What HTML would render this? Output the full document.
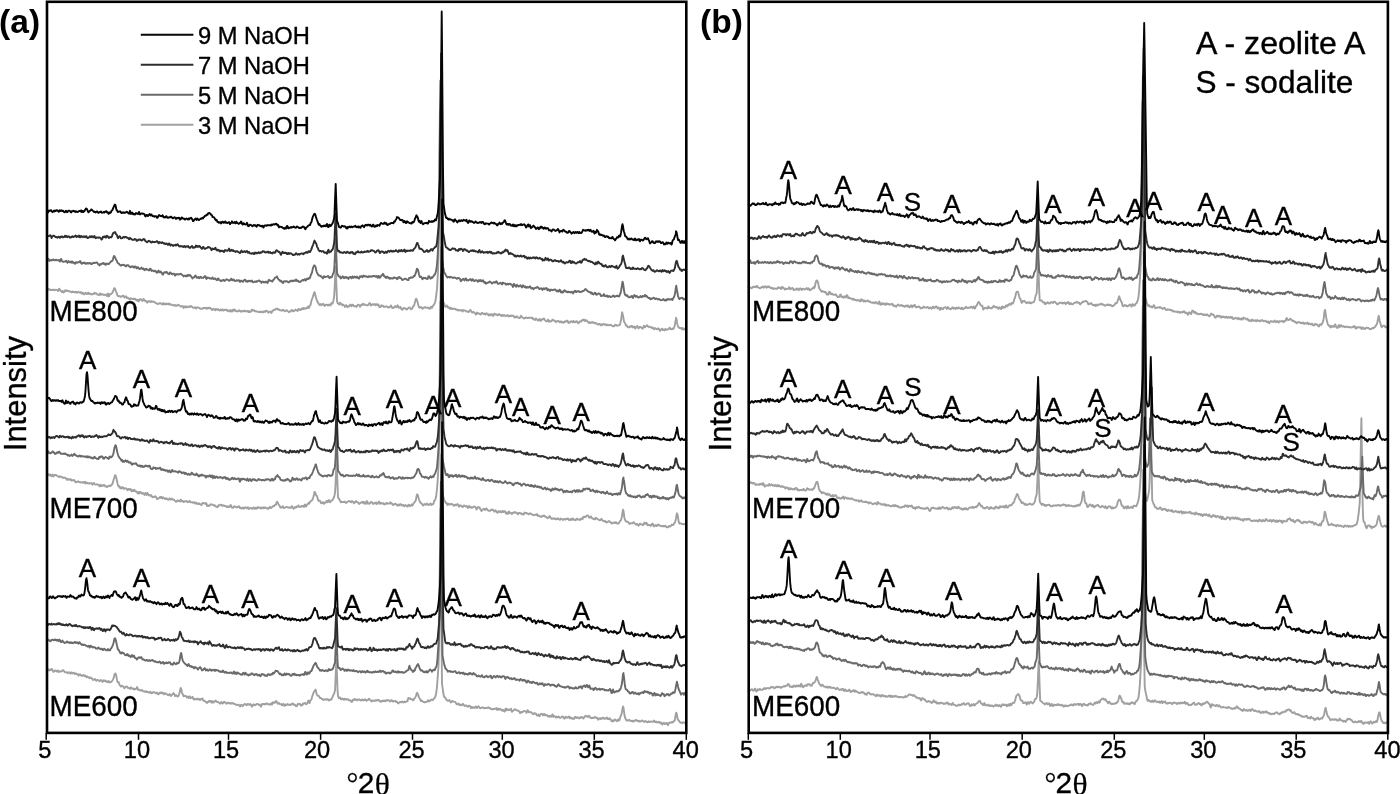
<!DOCTYPE html><html><head><meta charset="utf-8"><title>XRD patterns</title><style>html,body{margin:0;padding:0;background:#fff}body{width:1400px;height:794px;overflow:hidden}</style></head><body><svg width="1400" height="794" viewBox="0 0 1400 794" style="display:block">
<rect width="1400" height="794" fill="#fff"/>
<g fill="none" stroke-linejoin="round" stroke-linecap="round" stroke-width="1.9">
<path stroke="#a0a0a0" d="M47,289.7l.5 .2 .5-.5 .5-.6 .5 .9 .5 .1 .5-.4 .5 .3 .5 .4 .5-.1 .5 .1 .5-.1 .5-.4 .5 0 .5 .3 .5 .4 .5-.2 .5-.4 .5 .1 .5 .1 .5 .2 .5 .2 .5 .8 .5-.5 .5-1.8 .5 .1 .5 1.1 .5 .6 .5 .4 .5 .5 .5 .6 .5-1.2 .5 .3 .5 1.3 .5-.3 .5-.8 .5-1 .5-.2 .5 .7 .5 .1 .5-.6 .5 .3 .5 .3 .5 0 .5 .2 .5 .3 .5 .1 .5-.2 .5 .5 .5 .4 .5-.4 .5-.4 .5 .5 .5 0 .5 0 .5-.1 .5 .6 .5-.2 .5-.6 .5 .6 .5 .4 .5-.1 .5-.8 .5-.2 .5 .6 .5 .3 .5 .3 .5 .1 .5-.8 .5 .9 .5 .7 .5-.7 .5-.2 .5 1 .5 .4 .5 0 .5-.9 .5-.5 .5 .4 .5 .4 .5 .5 .5-.5 .5-.8 .5 0 .5 1.2 .5 0 .5-.5 .5 .3 .5 .4 .5 .2 .5 .1 .5-.4 .5-.3 .5-.1 .5 .2 .5-1.1 .5 .4 .5 .3 .5-.3 .5 .6 .5 .1 .5 .7 .5 .1 .5 .2 .5 .2 .5-.6 .5-1 .5 .2 .5 1.2 .5-.5 .5-.5 .5 .4 .5 .2 .5 .4 .5 .2 .5-.4 .5 .1 .5 .1 .5-.2 .5 1 .5 .5 .5-2 .5-.6 .5 2 .5 .9 .5-1.9 .5-.5 .5 .4 .5-.6 .5-.4 .5-.3 .5-.8 .5-1.3 .5-1 .5-1.5 .5-.5 .5 .7 .5 1.2 .5 1.6 .5 .9 .5 1.3 .5 1.9 .5 .1 .5 .1 .5 .4 .5-.1 .5 .2 .5 .4 .5-.1 .5-.5 .5 .3 .5-.4 .5-.5 .5 .1 .5 1 .5 .9 .5-.7 .5-.4 .5-.3 .5 .8 .5 1.1 .5-.2 .5-.2 .5 .4 .5 .7 .5 .6 .5 .1 .5-.9 .5-.4 .5 .3 .5 .4 .5 .1 .5 .1 .5-.3 .5-.3 .5 .8 .5-.4 .5 .1 .5 1 .5 .6 .5-.3 .5-.6 .5 .2 .5 1.6 .5-.6 .5-1.5 .5-.1 .5 .3 .5-.3 .5 .7 .5 .4 .5 .6 .5-.6 .5-1.4 .5 .3 .5 .5 .5 1.1 .5 .3 .5-.1 .5 0 .5 1.4 .5 .1 .5-1.3 .5 0 .5 0 .5-.2 .5 .1 .5 .9 .5-.7 .5-.1 .5 .4 .5-.3 .5 .1 .5 .3 .5 .3 .5-.1 .5 .5 .5 .4 .5 .2 .5 .2 .5 .4 .5 .5 .5-.3 .5-.2 .5-.2 .5-.2 .5-.2 .5 .5 .5-.2 .5 .1 .5 .9 .5 .1 .5-.8 .5-.6 .5 1.1 .5 .1 .5-.5 .5 .6 .5-.5 .5-.4 .5 .5 .5 .1 .5-.3 .5-.2 .5 1 .5-.6 .5-.3 .5 .8 .5 .2 .5 .1 .5 0 .5 .3 .5 .1 .5 0 .5 .4 .5-.2 .5-.4 .5 .5 .5 .4 .5-.4 .5-.1 .5 .1 .5-.8 .5 .2 .5 .5 .5 0 .5 .5 .5 .5 .5 .3 .5-.6 .5 0 .5 .1 .5 .1 .5 1.8 .5-1.1 .5-.6 .5 .9 .5-.6 .5-.5 .5 .9 .5 .3 .5-.6 .5-.1 .5-.1 .5-.2 .5 .7 .5 0 .5-.9 .5-.2 .5 .4 .5 .3 .5 .7 .5 .2 .5 .1 .5 0 .5-.2 .5-.2 .5 .9 .5 .5 .5-1.1 .5-.2 .5 .1 .5 0 .5 .1 .5 .3 .5 .3 .5 .5 .5-.2 .5 .1 .5 .2 .5-.1 .5 .2 .5-.7 .5-.4 .5 .3 .5 0 .5-.2 .5 .2 .5-.3 .5 1 .5-.1 .5-.7 .5-.2 .5 .4 .5 0 .5-.4 .5-.1 .5 .5 .5 .3 .5 1.1 .5 .4 .5-.5 .5-.5 .5-.3 .5 .6 .5 .1 .5 .7 .5 .2 .5-1.4 .5 .4 .5 .2 .5 .2 .5-.6 .5 .5 .5 .7 .5 .3 .5-.4 .5-.6 .5 .3 .5 .6 .5-.6 .5-.7 .5 .9 .5 .5 .5-.3 .5-.3 .5 .1 .5-.5 .5 .3 .5-.1 .5 .8 .5 .4 .5-.7 .5 .3 .5 .5 .5 .5 .5-.5 .5-1.1 .5 .6 .5 .9 .5 .1 .5-1.6 .5 0 .5 .7 .5-1.2 .5-.1 .5 1.3 .5 .5 .5-.4 .5 .3 .5 .2 .5 .2 .5-.4 .5-.1 .5-.7 .5 .2 .5 .6 .5 .6 .5-.3 .5-.6 .5 .4 .5 .4 .5-.3 .5-.1 .5-.4 .5-.3 .5 .9 .5 0 .5-.2 .5 .3 .5-.6 .5 0 .5 .7 .5 .5 .5-1.1 .5 .5 .5 .6 .5-.3 .5-.2 .5-1.4 .5-.7 .5 1 .5-.2 .5-.2 .5 .1 .5 1.1 .5 .1 .5-.4 .5 .4 .5 .1 .5-.1 .5 .2 .5 .1 .5 .3 .5 0 .5-.2 .5 .4 .5-.5 .5-.2 .5 .6 .5 .1 .5-.4 .5 .5 .5-.4 .5-.6 .5-.1 .5 .7 .5-.3 .5-.9 .5 .1 .5 .3 .5 .3 .5 .9 .5 .4 .5-.5 .5-.4 .5-.4 .5 .1 .5 .8 .5 .6 .5-1 .5-1 .5-.2 .5-.4 .5-.6 .5-.1 .5 .3 .5-.2 .5-1 .5 .1 .5 .1 .5-.1 .5 .8 .5 .1 .5-.3 .5 .5 .5 .3 .5-.1 .5 .1 .5 .4 .5 .1 .5-.5 .5-.2 .5-.2 .5 .8 .5 .7 .5-.2 .5-.1 .5-.3 .5-.4 .5 0 .5 .7 .5 .3 .5 .5 .5 .4 .5-.7 .5 .1 .5-.1 .5-.8 .5-.6 .5-.2 .5 .8 .5 .7 .5-.1 .5-.6 .5 0 .5-.4 .5-.8 .5 .6 .5 .2 .5-.1 .5 .8 .5-1.1 .5-.9 .5 .2 .5 .7 .5-.5 .5 .3 .5 .1 .5-.6 .5-1 .5 .4 .5 .7 .5-1.2 .5-.2 .5 .6 .5 .4 .5-.1 .5-.4 .5-.7 .5 .3 .5-.5 .5-.9 .5 1.2 .5 .2 .5-1.9 .5-.6 .5-.5 .5-2.4 .5-2.1 .5-1.3 .5-1.2 .5-1.9 .5-1.3 .5-1.7 .5-1 .5 1.4 .5 2.6 .5 1.7 .5 1.5 .5 1.1 .5 1.6 .5 .5 .5 1.1 .5 .7 .5 .6 .5-.3 .5-.5 .5 .8 .5 .3 .5-.9 .5-.2 .5-.2 .5 0 .5 1.5 .5 .5 .5-.3 .5-.6 .5-.2 .5-.2 .5 0 .5 .7 .5 .3 .5-.3 .5-.8 .5 .1 .5 .5 .5 .5 .5-1.2 .5-1.5 .5 .7 .5 0 .5-1.6 .5-2 .5-2.5 .5-6.3 .5-11.6 .5-10 .2-2.8 .3 8.4 .5 12.9 .5 12.7 .5 2.2 .5 .2 .5 .5 .5 .9 .5-.9 .5-.9 .5 .9 .5 .6 .5-.6 .5 1 .5 .6 .5-.5 .5 0 .5 .6 .5 .5 .5 1 .5-.6 .5-1.1 .5 .2 .5 1.2 .5 .5 .5-.8 .5-.2 .5 .4 .5-.9 .5-.7 .5-.4 .5 .8 .5 1 .5-1.1 .5-.4 .5-.1 .5 .9 .5 .6 .5-.1 .5 .2 .5 0 .5-.1 .5 .6 .5-.6 .5-1 .5-.5 .5 0 .5 .5 .5 .2 .5 1.3 .5-.3 .5-1.4 .5-.1 .5 .1 .5-1.2 .5 .3 .5 .7 .5-.5 .5-.1 .5 .6 .5 .3 .5 0 .5 .1 .5 0 .5 .1 .5 0 .5-.9 .5-.8 .5-.5 .5 .3 .5 1.1 .5 1.1 .5-.4 .5-.7 .5-.3 .5 .2 .5 .3 .5-.3 .5-.3 .5 .8 .5 .3 .5-.9 .5 0 .5 0 .5 .9 .5-.2 .5-.5 .5 1.5 .5 1.1 .5-.2 .5 .2 .5-.9 .5-1 .5 .9 .5-.2 .5-.1 .5 1 .5 .1 .5-.3 .5 .3 .5-.3 .5-.1 .5 0 .5 0 .5 .1 .5 .9 .5 .1 .5 0 .5-.8 .5 0 .5 .1 .5-1.4 .5 .8 .5 1.4 .5 .4 .5 0 .5-.4 .5-.2 .5-.5 .5-.8 .5 0 .5 .6 .5 .4 .5-.7 .5-1.2 .5 .6 .5 1.4 .5 .6 .5-.2 .5-.8 .5 .1 .5 1.6 .5-.1 .5 1 .5 .3 .5-1 .5-.7 .5-.1 .5 0 .5 .5 .5 .3 .5 .2 .5 .4 .5 .1 .5-.9 .5-.1 .5-.7 .5-.3 .5 .1 .5 .1 .5 1 .5 .7 .5-.2 .5-.6 .5-.9 .5-.9 .5-.9 .5-.3 .5-1.6 .5-2.3 .5-1.4 .5-1.6 .5 .4 .5 1.5 .5 1.4 .5 1.7 .5 2.3 .5 1.3 .5 .5 .5-.3 .5-.5 .5 .1 .5 .3 .5 .8 .5 .6 .5-.5 .5-.7 .5 0 .5-.1 .5-.4 .5 .5 .5 .2 .5-.2 .5 0 .5 .3 .5-.3 .5 .2 .5 .6 .5 .3 .5 .1 .5-1.5 .5-.6 .5 1.2 .5 0 .5-1.4 .5-.9 .5-.2 .5-.9 .5-.7 .5-1.6 .5-1.8 .5-3.4 .5-3.5 .5-5.1 .5-8.2 .5-8.8 .5-14.9 .5-54.5 .5-51.3 .4-40.3 .1 7.2 .5 59.1 .5 59.6 .5 53.1 .5 4.6 .5 4.5 .5 3 .5 1 .5 .7 .5 1.3 .5 2 .5 .4 .5-.3 .5-.2 .5-.9 .5 .6 .5 1.6 .5 .2 .5-.2 .5-.2 .5 1.1 .5 .5 .5-1.1 .5 .2 .5 .3 .5 .5 .5 0 .5-.2 .5 0 .5 0 .5 0 .5 .2 .5 .6 .5 .3 .5-.3 .5 .1 .5 .8 .5-.5 .5-.1 .5 .6 .5 0 .5-.1 .5-.1 .5-.4 .5 .9 .5 .8 .5-.6 .5-1 .5 .4 .5 0 .5 .3 .5 .2 .5 0 .5 .7 .5-.2 .5 .2 .5 .1 .5 .5 .5-.5 .5-1.2 .5-.1 .5-.4 .5 .8 .5 1.1 .5 .6 .5 .1 .5-.7 .5 0 .5 .4 .5 .8 .5 .2 .5 .2 .5 1.2 .5-1.3 .5-.8 .5 .7 .5 .2 .5-.2 .5 .1 .5 .6 .5 .1 .5 .4 .5-.1 .5-1.4 .5-.3 .5 .4 .5 .6 .5 .3 .5-.1 .5-.4 .5 .9 .5 .2 .5-1.2 .5 0 .5 .3 .5-.1 .5 .5 .5 1.3 .5 .1 .5-.8 .5-.4 .5 .9 .5-.4 .5-.7 .5 0 .5 .7 .5 1.2 .5-.8 .5-1.1 .5-.5 .5 1 .5-.2 .5-.2 .5 .6 .5-.1 .5 .7 .5 0 .5-1.3 .5 .1 .5-.1 .5 .9 .5 .3 .5-.2 .5 1 .5-.7 .5-.5 .5 .8 .5 .2 .5-.9 .5 .2 .5 .3 .5 .8 .5-.3 .5-.3 .5 0 .5-.7 .5 .5 .5 .9 .5-.4 .5 .3 .5-.4 .5-.5 .5 .1 .5 .6 .5-.3 .5 0 .5-.1 .5-.1 .5 1.1 .5 .9 .5 0 .5-.9 .5 .5 .5-.2 .5-.7 .5 .8 .5 .5 .5 .1 .5 .2 .5 .1 .5-.2 .5-1.1 .5-1 .5 .8 .5 .8 .5 0 .5 .5 .5 .4 .5 0 .5 .3 .5-.8 .5 .3 .5-.4 .5-.2 .5 .4 .5 .2 .5 .1 .5-.5 .5 .1 .5 0 .5 .2 .5-.1 .5 0 .5 .4 .5-.6 .5 .1 .5 1.2 .5 .5 .5-.1 .5 .3 .5 .3 .5-1.2 .5-.3 .5 .5 .5 .9 .5 .3 .5 .4 .5 0 .5-1 .5-.6 .5 .4 .5 1.6 .5-.1 .5-.8 .5-.8 .5 0 .5 .2 .5-.4 .5-.6 .5 1.1 .5 .6 .5 .6 .5 .4 .5 .1 .5 .1 .5-.2 .5-1.5 .5 .8 .5 1.3 .5-.9 .5 .4 .5 .4 .5-.3 .5 0 .5-.9 .5-.8 .5 .1 .5 .3 .5 .6 .5 .3 .5 .1 .5 .1 .5 1.1 .5-.6 .5-.5 .5 .1 .5-.2 .5-.2 .5 .7 .5 .7 .5 0 .5-.2 .5-.8 .5 .3 .5 1 .5-.3 .5-.1 .5 .6 .5-.1 .5-1.2 .5 0 .5 .5 .5-.5 .5-.6 .5 .1 .5-.2 .5 1.2 .5 1.1 .5-.4 .5-.5 .5 .5 .5-.8 .5-.7 .5 .2 .5 .3 .5 .7 .5-.1 .5-1.2 .5 .5 .5 .8 .5 0 .5-.5 .5-.5 .5 .4 .5-.5 .5 .8 .5 1.1 .5 .2 .5-.7 .5-.5 .5-.9 .5 .1 .5 .3 .5-.4 .5-.8 .5-.6 .5 .3 .5 .1 .5-.6 .5 .3 .5 1.2 .5-.2 .5-.6 .5 0 .5 .3 .5 .9 .5 .8 .5 0 .5 .8 .5-.9 .5 .2 .5 .6 .5-.4 .5-.4 .5 .4 .5 .1 .5-.6 .5 .3 .5 .5 .5 .1 .5 .4 .5-.5 .5 .2 .5 .5 .5 .4 .5 .1 .5 .4 .5-.5 .5 .4 .5-.5 .5 .1 .5 .8 .5 .7 .5-.6 .5-.6 .5 .5 .5-.6 .5-.3 .5 .4 .5 .4 .5 0 .5-.5 .5 .5 .5 .6 .5-.1 .5-.4 .5-.1 .5 .5 .5 0 .5 .1 .5-.3 .5-.1 .5-.1 .5 .6 .5 .5 .5 0 .5 .3 .5 0 .5 .2 .5-.9 .5-.8 .5 .6 .5-.1 .5-.2 .5 .7 .5 .1 .5-.3 .5-.3 .5-.1 .5 0 .5-.4 .5-2.3 .5-2.4 .5-3.3 .5-4.2 .3-.2 .2 1.4 .5 1.7 .5 3.4 .5 2.4 .5 1.2 .5 .6 .5 1.4 .5 1.2 .5-.4 .5 .9 .5 .7 .5 .5 .5-.4 .5 .4 .5 0 .5-1 .5-.2 .5 .6 .5-.8 .5 .1 .5 1 .5 .4 .5-.8 .5 0 .5 .4 .5 1.1 .5 .3 .5-1.6 .5 0 .5-.9 .5 .6 .5 .8 .5 1.1 .5-.5 .5-1 .5-.1 .5 .4 .5 .2 .5 .2 .5 .5 .5 .6 .5-.7 .5-1.5 .5-.7 .5 .5 .5 1 .5-.6 .5-.7 .5 0 .5-.8 .5 .4 .5 1 .5 .1 .5 0 .5 .4 .5 0 .5-.2 .5 .4 .5 .8 .5-.3 .5-.5 .5 .5 .5 1.1 .5 .3 .5-1 .5 0 .5 .1 .5 .6 .5 .3 .5 .2 .5-.3 .5-.7 .5 0 .5 .7 .5 .7 .5 1.1 .5-.2 .5-1.2 .5-.2 .5-.6 .5 .2 .5 1.1 .5 0 .5-.2 .5 .5 .5-1 .5-.4 .5 1 .5 0 .5-.2 .5-.3 .5-.1 .5-.1 .5-.5 .5-1 .5 .4 .5 1 .5 0 .5 .2 .5 0 .5-.9 .5 .2 .5 .2 .5-1 .5-1.3 .5-2.4 .5-3.2 .5-2.3 0-.8 .5 1.2 .5 3.4 .5 2.3 .5 1.4 .5 1.2 .5 .1 .5 .7 .5-.1 .5-.1 .5 .2 .5 .6 .5 .6 .5-1.4 .5 .6 .5 1 .5-.4 .5-.1 .5 .4 .5-1.2 .5-.6"/>
<path stroke="#6a6a6a" d="M47,260l.5-.2 .5-.7 .5-.3 .5 1.8 .5 .3 .5-.7 .5 .2 .5-.2 .5-.2 .5 .4 .5-.5 .5-.4 .5 0 .5 .7 .5 0 .5 .1 .5-.5 .5 0 .5-.1 .5 .7 .5 0 .5 0 .5-.2 .5-.2 .5 1.2 .5 .4 .5-1.9 .5-.8 .5 .6 .5 1.5 .5 .4 .5 .4 .5 0 .5-.2 .5 0 .5-.2 .5 .1 .5-.8 .5 .5 .5 1 .5 .6 .5-1.1 .5-.7 .5 .6 .5 .6 .5 0 .5 0 .5-.8 .5 1.2 .5 .1 .5-1.1 .5 .6 .5 .7 .5-.2 .5 .6 .5 .5 .5-.9 .5-.8 .5 .1 .5 .6 .5-.2 .5-.4 .5 .2 .5 0 .5-.7 .5-.7 .5 .3 .5 1.8 .5 .5 .5 .2 .5-.7 .5-.4 .5 .5 .5-.2 .5-.5 .5 .3 .5 1.1 .5 0 .5-.6 .5-.3 .5-.1 .5 .8 .5-.2 .5-.5 .5 .1 .5-.2 .5 .6 .5 .6 .5-.5 .5 .3 .5-.7 .5 0 .5-.4 .5 .1 .5 .2 .5-.3 .5-.2 .5 .1 .5-.2 .5 0 .5 .8 .5 .8 .5 .3 .5 .4 .5 .6 .5-1 .5-.3 .5 .5 .5-.8 .5 0 .5-.5 .5-.1 .5-.2 .5 1 .5-.1 .5-.4 .5 1.3 .5 0 .5-.8 .5-.5 .5 .4 .5 0 .5 .3 .5-.3 .5-.8 .5-.6 .5-.3 .5-.8 .5-.3 .5-.2 .5-.1 .5-1.5 .5-2.1 .5-1.2 .5 .1 .5 1.4 .5 .9 .5 1.1 .5 .8 .5 1.1 .5 1.2 .5 .7 .5 .3 .5 0 .5 1 .5 0 .5 .9 .5 0 .5 .1 .5-.8 .5 .3 .5-.2 .5-.1 .5 .3 .5 .1 .5 .4 .5 .8 .5 0 .5-.6 .5-.8 .5 .4 .5 .1 .5-.2 .5 1.1 .5 .1 .5 .3 .5 .6 .5-.2 .5-.6 .5-.4 .5 .5 .5 .1 .5-.2 .5 1.1 .5-.3 .5-1 .5 .3 .5 .2 .5 1.4 .5 .1 .5-1.2 .5 .1 .5 .7 .5 .4 .5 .7 .5-.1 .5-.6 .5-.2 .5-.6 .5 .9 .5 .6 .5-.4 .5-.2 .5 1 .5 .8 .5-.9 .5-.4 .5 .5 .5-.7 .5 .5 .5 .4 .5 .3 .5-.2 .5 .7 .5-.5 .5-1.3 .5-.1 .5 1.1 .5 1.2 .5-.2 .5-.3 .5 .2 .5 .6 .5 0 .5-.3 .5-.2 .5 1 .5 .2 .5-.4 .5 1.3 .5-.3 .5-1.3 .5-.6 .5 1.3 .5 .4 .5-.8 .5-.1 .5 1.2 .5-.3 .5 .5 .5 1.7 .5 .1 .5-1.2 .5-.7 .5-.1 .5-.7 .5 .7 .5 0 .5-.6 .5 .1 .5 1.2 .5 .4 .5 .2 .5 .3 .5-.9 .5-.8 .5-.1 .5 .8 .5 .9 .5 0 .5 .2 .5-.6 .5-.1 .5 .1 .5 .3 .5 1.6 .5-.2 .5-1.2 .5-.1 .5 .2 .5-.2 .5 .4 .5-.4 .5 .1 .5-.1 .5 .1 .5-.3 .5-.2 .5 .7 .5 .5 .5 .2 .5 .5 .5 .8 .5-.3 .5-.5 .5 0 .5 0 .5 .8 .5-.3 .5-.9 .5 .8 .5 0 .5-1.2 .5 .3 .5 .4 .5-.4 .5 .4 .5 .7 .5 .9 .5 .6 .5 .7 .5-.7 .5-.2 .5-.2 .5-.5 .5-.8 .5-.5 .5 .8 .5 1.2 .5 .4 .5-.1 .5-.5 .5-.4 .5 1.2 .5 .1 .5-.9 .5-.5 .5 .2 .5 .9 .5 .1 .5-.3 .5 .1 .5 0 .5-.6 .5-.8 .5-.3 .5 .4 .5 1.7 .5 .7 .5-1.5 .5 .3 .5 .4 .5-.4 .5 0 .5 .3 .5 .6 .5-.2 .5 .1 .5 .3 .5-.6 .5-.8 .5 .8 .5 .9 .5-.2 .5-.1 .5-.5 .5 .8 .5 .3 .5 .4 .5 .4 .5-.9 .5-.9 .5 .2 .5 1.4 .5 .2 .5 .2 .5 .3 .5 .5 .5-.1 .5-.9 .5 0 .5 .1 .5-.5 .5 .9 .5 .3 .5-.5 .5-.5 .5-.3 .5-.4 .5 .3 .5 .1 .5 .3 .5 .1 .5 .6 .5 .1 .5-.9 .5 .1 .5-1.1 .5-.2 .5 1.1 .5 .6 .5-.2 .5-.7 .5 .4 .5 .7 .5 .5 .5-.2 .5-.1 .5-.5 .5 0 .5 .2 .5 .2 .5-.6 .5 0 .5 1 .5 .8 .5-.6 .5-.6 .5-.1 .5 .7 .5 .3 .5 .2 .5-.6 .5-1 .5-.3 .5-.2 .5 .4 .5 1.4 .5-.1 .5-.5 .5 .9 .5-.6 .5-.5 .5 .5 .5 0 .5-.5 .5 0 .5 .8 .5-.1 .5-.8 .5 1.1 .5 .6 .5-.3 .5 0 .5-.3 .5-.3 .5 .4 .5 .3 .5-.9 .5 .2 .5 .1 .5-.6 .5-.1 .5-.4 .5 .3 .5 .8 .5 0 .5 .2 .5 1.2 .5-.9 .5-.4 .5 0 .5 .4 .5 .4 .5-.5 .5 .6 .5-.3 .5-.7 .5 .4 .5 .3 .5 .8 .5-1.1 .5-1.4 .5-.7 .5 .4 .5 .6 .5-.1 .5 0 .5 .3 .5 .4 .5 .1 .5-1.4 .5-.3 .5-.4 .5-1 .5-.7 .5-.1 .5-.2 .5-.7 .5-.2 .5 1.2 .5 .9 .5 .8 .5 .4 .5 .2 .5 .9 .5 .4 .5-.6 .5 .3 .5 1.1 .5 .5 .5 .5 .5-1.2 .5-.6 .5-.1 .5 .3 .5 .3 .5-.7 .5 .1 .5 .2 .5 .1 .5 .5 .5 .4 .5-.1 .5-.4 .5-.8 .5-.5 .5 0 .5 .3 .5 .5 .5-.7 .5-.1 .5 .5 .5-.6 .5-.1 .5 .5 .5-.1 .5-1.3 .5 .4 .5 1.1 .5-.1 .5-.2 .5 .5 .5 .7 .5-.1 .5 .2 .5-.2 .5-.7 .5-.2 .5-.5 .5-.4 .5-.1 .5 .6 .5-.6 .5-.6 .5-.1 .5 1.3 .5-.2 .5-1 .5-.7 .5-.1 .5 .5 .5-.2 .5-.9 .5 .5 .5-.6 .5-1.9 .5-1.1 .5-1 .5-1.4 .5-2.3 .5-2.5 .5-.9 .5-1.2 .5-.1 .5 .7 .5 .8 .5 2.1 .5 2.3 .5 1.4 .5 .8 .5 .8 .5 1.1 .5 .2 .5 0 .5-.1 .5 .7 .5 .1 .5 .4 .5 .4 .5 .8 .5 .5 .5-1 .5-1.2 .5 .6 .5 .2 .5 .1 .5-.4 .5-.1 .5 0 .5-.2 .5-.5 .5 .7 .5 .8 .5 .7 .5-.7 .5-.4 .5 .3 .5-.1 .5-.4 .5-1.5 .5-1.5 .5-.9 .5-1.8 .5-6.1 .5-11.8 .5-11.2 .2-3.5 .3 7.8 .5 13 .5 13 .5 2 .5 .8 .5 1 .5 .5 .5-.2 .5 .1 .5 1.6 .5 .4 .5-.7 .5-.3 .5-1 .5-.1 .5 1.1 .5 .8 .5-1.1 .5-.1 .5 .7 .5-.9 .5 .6 .5 .4 .5-.4 .5 .6 .5 .8 .5-1.4 .5-.4 .5 .1 .5-.2 .5 .1 .5 1.2 .5-.5 .5-1.4 .5 .5 .5 .9 .5-.3 .5-.9 .5 .3 .5 .6 .5 .1 .5-.7 .5-.4 .5 1.3 .5 .1 .5 .5 .5 .2 .5-1.7 .5-.7 .5 .7 .5-.3 .5-.5 .5 .3 .5 .9 .5-1 .5-.7 .5 .4 .5 .1 .5 .5 .5-.2 .5-.3 .5 .5 .5 0 .5 .4 .5 .2 .5-.8 .5-.2 .5 .4 .5 .3 .5-.4 .5-.2 .5 .1 .5 .1 .5 0 .5-.5 .5 0 .5 .1 .5-.2 .5 .4 .5 .4 .5-.2 .5-.5 .5 .3 .5 1.4 .5-.3 .5-1.5 .5 .4 .5 1.5 .5-.2 .5-.7 .5-.5 .5-1.2 .5 0 .5-.1 .5-1.3 .5 .5 .5 1.9 .5 .5 .5-.3 .5 1 .5 .6 .5-.9 .5-.6 .5 .4 .5 .7 .5 .6 .5-.4 .5 0 .5 1 .5-.7 .5-.1 .5 .4 .5 .1 .5-.2 .5 .3 .5-.8 .5-.5 .5 .4 .5 0 .5 .3 .5 0 .5 .1 .5 1.1 .5-.2 .5-1.5 .5 .2 .5-.2 .5-.5 .5 1 .5 .3 .5-.1 .5 .4 .5 1.1 .5 .4 .5-.3 .5-.3 .5-.3 .5-.3 .5-.3 .5 .3 .5 .1 .5 .4 .5 .3 .5-.1 .5 .6 .5-.2 .5-1.9 .5-.2 .5 .2 .5-.5 .5-.4 .5 .4 .5 .1 .5-.1 .5-.4 .5-.8 .5-.7 .5 .5 .5-1.1 .5-1.5 .5-1.1 .5-2.3 .5-1.6 .5 .8 .5 .4 .5 2.1 .5 2.3 .5 1.9 .5 1 .5-.2 .5-.3 .5 .7 .5 1.3 .5 .6 .5-.7 .5-.7 .5 .5 .5-.3 .5-.3 .5 .3 .5 .6 .5-.1 .5 .4 .5 .1 .5-1.1 .5-1.8 .5 .1 .5 1.2 .5 .6 .5 .7 .5-.9 .5-.6 .5 .7 .5-.3 .5-.9 .5-.4 .5-1.2 .5-.5 .5-.2 .5-1.7 .5-1.4 .5-2.8 .5-4.5 .5-6.1 .5-8.5 .5-9.9 .5-14 .5-52.8 .5-50.3 .4-41.9 .1 6.7 .5 59.3 .5 60.6 .5 51.7 .5 3.5 .5 4.1 .5 2.3 .5 2.8 .5 1.5 .5 .5 .5 1 .5 .8 .5 .9 .5 .8 .5 .4 .5-.4 .5-.1 .5 0 .5 .5 .5 .2 .5-.8 .5 .5 .5-.1 .5 .2 .5 .2 .5 .4 .5-.4 .5-.1 .5 .2 .5 0 .5-.1 .5 .6 .5 .5 .5 0 .5-.4 .5-.4 .5 .1 .5 0 .5 .6 .5 .2 .5 1.6 .5 .8 .5-1.2 .5 0 .5-.4 .5-.7 .5 .1 .5 .8 .5 .6 .5-.7 .5-1.2 .5 0 .5 1 .5 1 .5-.3 .5 0 .5 .3 .5-.7 .5-.2 .5-.2 .5-.3 .5 1 .5 .7 .5-.4 .5-1.1 .5 .2 .5 1.2 .5 .2 .5 .2 .5-.7 .5-.2 .5-.1 .5 .2 .5 .2 .5 .7 .5 .6 .5-.8 .5-.9 .5 .9 .5 .1 .5-1 .5 .3 .5 .6 .5 .4 .5-.7 .5-.5 .5 .9 .5 1.1 .5 .6 .5-.7 .5 1.4 .5 .2 .5-.8 .5 .2 .5-.3 .5-.1 .5-.4 .5 0 .5-.6 .5-.2 .5 .6 .5 .2 .5 .8 .5 .4 .5-.5 .5-.3 .5-.2 .5-.6 .5 .4 .5 .4 .5-.4 .5-.7 .5-.3 .5 .9 .5 1.1 .5 .6 .5 0 .5-.3 .5-.4 .5 0 .5-.5 .5 .4 .5 .8 .5 .6 .5-1.2 .5-.8 .5 .9 .5-.1 .5 .1 .5 .1 .5 .2 .5 1 .5-.2 .5-.6 .5-.1 .5 .2 .5 .5 .5-.4 .5-.4 .5 0 .5 .5 .5 .3 .5-.1 .5 .5 .5 1.1 .5 1 .5-1.2 .5-2 .5 .7 .5 .8 .5 .8 .5 .7 .5-.6 .5-1.5 .5 .9 .5 .5 .5 .4 .5 0 .5-.7 .5 .1 .5-.6 .5 .5 .5 1.2 .5 .4 .5-1.5 .5-.7 .5 .9 .5 .4 .5 .7 .5-.8 .5 0 .5 1.2 .5 .2 .5-.4 .5-.5 .5 .7 .5-.1 .5-.1 .5-.8 .5-.3 .5 .7 .5 1 .5 .5 .5-.4 .5-.1 .5 .6 .5 .7 .5-1.2 .5 .1 .5-.2 .5-.3 .5 0 .5 .2 .5-.8 .5-.1 .5 .5 .5 .3 .5 .9 .5 .4 .5-.5 .5-.1 .5-.2 .5 .1 .5 .7 .5 .8 .5-.9 .5-.7 .5 .3 .5 .6 .5-.9 .5 .3 .5 0 .5-.6 .5 1.1 .5 1.2 .5-.5 .5-.6 .5 .6 .5 .8 .5 .3 .5-1.1 .5-.3 .5 .3 .5 .2 .5 .2 .5-.1 .5-.4 .5-.1 .5 .1 .5-.2 .5 .2 .5 .7 .5 .8 .5 .2 .5-.8 .5 .5 .5 .5 .5-.7 .5-1.2 .5 .2 .5 1.7 .5 .8 .5-.7 .5-.3 .5 1.1 .5 .1 .5-.9 .5-.9 .5-.6 .5 .8 .5-.3 .5 .9 .5 .4 .5 0 .5 .3 .5-.7 .5 .4 .5 .3 .5-.4 .5 0 .5 .6 .5-.2 .5-.5 .5 0 .5 .6 .5 1 .5-.7 .5-.9 .5-.6 .5-.4 .5 .2 .5 1.1 .5 0 .5-.8 .5-.2 .5 .5 .5-.4 .5-.1 .5 .7 .5 .2 .5 0 .5-.1 .5-.2 .5 .1 .5-.8 .5 0 .5 0 .5-.3 .5-.5 .5-.9 .5-.3 .5 .4 .5 .4 .5 .8 .5 .4 .5 .4 .5 .3 .5 .3 .5 0 .5 0 .5 .6 .5 .8 .5-.9 .5 .5 .5 1 .5 .2 .5 .3 .5-.7 .5-.9 .5-.1 .5 .2 .5 1.3 .5 .5 .5-.6 .5 .1 .5-.5 .5-.4 .5 .2 .5 0 .5 .4 .5 1 .5 1 .5 .1 .5-.6 .5 0 .5 .3 .5-.4 .5-1.3 .5 1 .5 1 .5-.2 .5 .4 .5 0 .5-.9 .5 .8 .5 .8 .5-.5 .5-.5 .5 .5 .5 0 .5 .5 .5-.1 .5-.3 .5 0 .5-.3 .5-.6 .5-.3 .5 .8 .5 .7 .5-.3 .5-.3 .5-.3 .5-.1 .5 .1 .5-.4 .5 .8 .5-.1 .5 .2 .5-.8 .5-1.4 .5-1.1 .5-2 .5-3 .5-3.4 .5-2.9 0-.3 .5 1.5 .5 3.4 .5 3.8 .5 2.8 .5 1.5 .5 .6 .5 .4 .5 .2 .5-.8 .5 .7 .5 .8 .5 .7 .5 .2 .5-.2 .5-.1 .5-.1 .5-.6 .5-.3 .5-.1 .5 1.6 .5 .3 .5-1.4 .5-.8 .5-.6 .5 .6 .5 1 .5 0 .5-.7 .5 .2 .5 .6 .5 .7 .5 .1 .5-.3 .5-.1 .5-.5 .5-.6 .5 .7 .5 .4 .5-.2 .5-.9 .5 .3 .5-.3 .5 .2 .5-.1 .5-1.2 .5 .2 .5 1.2 .5-.4 .5 .3 .5 .9 .5 .4 .5 .4 .5-.1 .5 .1 .5 .9 .5 .4 .5-.8 .5 .3 .5 .1 .5-.5 .5-.2 .5-.6 .5 .2 .5 .7 .5 .4 .5 .2 .5-.7 .5 0 .5 .4 .5 .3 .5 .5 .5-.5 .5 .3 .5-.2 .5 .3 .5 .7 .5-.1 .5 0 .5 0 .5-.3 .5-.4 .5-.3 .5 .5 .5 .9 .5-.1 .5-.6 .5 .7 .5-.2 .5-1.1 .5 0 .5 .3 .5-.5 .5 .1 .5 .4 .5-.1 .5 .1 .5 0 .5-.5 .5 .4 .5 .6 .5-1.6 .5-.5 .5-.8 .5-1.5 .5-1.8 .5-3.5 .5-3.5 .3-1.2 .2 1.8 .5 3.1 .5 2.4 .5 3.1 .5 1.3 .5 1.4 .5 .5 .5-.6 .5-.6 .5 .1 .5-.2 .5-.1 .5 .2 .5 .5 .5 1.1 .5 0 .5-.6 .5 .3 .5-.9 .5 .3"/>
<path stroke="#2e2e2e" d="M47,237.2l.5-1.6 .5 .5 .5 0 .5-.1 .5-.1 .5-.7 .5 .2 .5 .9 .5 1.8 .5-1 .5-1 .5-.1 .5-.4 .5 .1 .5 .6 .5 .4 .5 .2 .5 .4 .5-.4 .5 .2 .5 .6 .5-.4 .5-.6 .5 0 .5 .7 .5 .5 .5-.9 .5-.4 .5 .4 .5-.6 .5 .2 .5 .8 .5 0 .5-.2 .5-.5 .5-1 .5 1.1 .5-.5 .5-.3 .5 1 .5 .2 .5-.6 .5-.3 .5 .3 .5 .4 .5 .7 .5-.2 .5-.5 .5 .2 .5-.7 .5-.3 .5 .8 .5 .1 .5-.6 .5-.2 .5 0 .5-.7 .5 1.1 .5 .3 .5-.9 .5 .3 .5 .2 .5 .1 .5-1.1 .5 .4 .5 1.4 .5-.1 .5-1.4 .5 .3 .5 .5 .5 .1 .5 .4 .5-.7 .5-.2 .5 .2 .5 .8 .5-.3 .5-.9 .5 .1 .5 1.4 .5 .4 .5-.1 .5 0 .5-.6 .5-.7 .5-.3 .5 .4 .5 .6 .5-.9 .5-.2 .5 .5 .5 .6 .5-.1 .5-.9 .5-.3 .5 1.2 .5 1 .5-.2 .5-.5 .5-.1 .5 .2 .5 0 .5 .2 .5-.4 .5 0 .5 .3 .5 .3 .5 .5 .5 1.1 .5-.3 .5-1 .5-1.7 .5 0 .5 .4 .5-.1 .5-.7 .5 1.3 .5 .1 .5-1.4 .5-.5 .5 .5 .5 .5 .5 .9 .5 .5 .5-.8 .5-.3 .5 .1 .5 .3 .5-.3 .5-.9 .5-1.7 .5-1.1 .5-.7 .5 .2 .5-.5 .5-.3 .5 .8 .5 1.2 .5 .5 .5 .6 .5 1.8 .5 1.2 .5-.9 .5-.7 .5-.3 .5 .1 .5 1.3 .5 .6 .5-.1 .5-.1 .5-.1 .5-.4 .5-.8 .5 .4 .5 .3 .5-.5 .5 0 .5-.1 .5 .5 .5 .5 .5-.2 .5 .2 .5 .7 .5 .6 .5-.1 .5-1.3 .5 .7 .5 .2 .5 .3 .5 .6 .5 .2 .5-.1 .5 0 .5 .2 .5-.7 .5-.2 .5 .4 .5 0 .5 1.2 .5 .3 .5 0 .5-.9 .5-.6 .5 .4 .5 .1 .5-.5 .5 .2 .5 .4 .5 .5 .5-.4 .5 .1 .5-.7 .5-.5 .5 .3 .5 0 .5 1 .5 .9 .5 .2 .5 .4 .5 .5 .5-.6 .5-.3 .5-.4 .5-.2 .5 .6 .5-.2 .5 .7 .5 .4 .5 .2 .5-.5 .5-.4 .5 .5 .5-.2 .5 0 .5 .3 .5-.1 .5-.2 .5-.1 .5 0 .5-.7 .5 .5 .5 .5 .5 1.2 .5-.1 .5-1.1 .5 .4 .5 .1 .5-.1 .5 .5 .5-.5 .5-.2 .5 .6 .5 .6 .5-.2 .5-.2 .5 .9 .5 .2 .5-.8 .5 0 .5 .4 .5 .4 .5 .8 .5-.6 .5-1 .5 .2 .5 1.1 .5 .9 .5-.7 .5-.2 .5 .2 .5 .2 .5 .8 .5-.7 .5 .1 .5 .1 .5-.3 .5-.4 .5 .9 .5-.5 .5-.5 .5-.4 .5 .4 .5 1 .5 .6 .5 .1 .5 .2 .5-.3 .5-.2 .5 .4 .5 .1 .5-.3 .5 .6 .5 .3 .5-.8 .5-.4 .5 .9 .5 .4 .5-.7 .5-.2 .5 .2 .5 .2 .5-.8 .5 .9 .5 .7 .5-.3 .5 .7 .5-.4 .5-.7 .5-.3 .5-.5 .5 .9 .5 .9 .5-.4 .5 .3 .5-.3 .5 0 .5-.8 .5-1.1 .5 .8 .5 .6 .5-.7 .5-.2 .5 .8 .5-.5 .5-.4 .5 .6 .5 1 .5 .1 .5 .8 .5 .5 .5-.9 .5-1 .5-.1 .5 1 .5 .9 .5 .1 .5-.3 .5-.4 .5 0 .5-.3 .5-.4 .5-.5 .5-.1 .5 .6 .5-.1 .5 .2 .5 .6 .5 .9 .5 1.1 .5-.7 .5-.9 .5 .4 .5 0 .5-.3 .5 .5 .5-.9 .5-.6 .5 1.6 .5 .6 .5 .6 .5-.8 .5-.1 .5 1 .5-.5 .5 .6 .5 .9 .5-.4 .5-.6 .5 .4 .5 .1 .5-.4 .5 .4 .5 .7 .5 .3 .5-1.4 .5-.6 .5 .4 .5-.2 .5 .3 .5 .2 .5 .1 .5-.8 .5-.5 .5-1 .5 1.2 .5 1.4 .5-.6 .5-.6 .5-.2 .5 .9 .5-.1 .5-.5 .5 .9 .5 .2 .5-.1 .5 0 .5 .8 .5-.3 .5-.5 .5 0 .5 .3 .5 .6 .5 0 .5 .5 .5 .3 .5 .3 .5-.7 .5-1.2 .5-.7 .5 1.1 .5 .6 .5-.2 .5-.2 .5-.5 .5-.2 .5 .2 .5 .9 .5-.3 .5-.5 .5-.5 .5 .9 .5 .9 .5-.4 .5-.4 .5 1.1 .5 .4 .5 0 .5 .1 .5 .3 .5-.3 .5-.2 .5-.4 .5 .9 .5 .2 .5-.2 .5-1.3 .5 .7 .5 .2 .5-.6 .5 .4 .5 .1 .5-.3 .5-.8 .5 .2 .5 .7 .5 .1 .5-.6 .5-.4 .5 .3 .5-.1 .5-1 .5-.2 .5 .4 .5-.1 .5 .2 .5 .7 .5 .1 .5-.4 .5 .2 .5-.5 .5 .5 .5-.7 .5 .1 .5 1.1 .5-.2 .5-.5 .5 .4 .5 .6 .5-.1 .5 .1 .5 .4 .5-.9 .5-.4 .5 .1 .5 .6 .5-.1 .5-.7 .5-1.4 .5-.5 .5 .4 .5 .1 .5 .7 .5 .6 .5-.2 .5 .3 .5 .7 .5 1.5 .5 .5 .5-1.2 .5-1 .5-.9 .5 1.1 .5 .3 .5-.4 .5 .3 .5-.4 .5 .4 .5 .2 .5-.2 .5 1.1 .5 0 .5-1 .5-.2 .5 1 .5-.2 .5-.6 .5 .2 .5 .2 .5 .2 .5 .5 .5 .3 .5 .6 .5-.1 .5-.4 .5 .1 .5 0 .5-.6 .5-.9 .5 .5 .5 .5 .5 .5 .5-.4 .5-.3 .5 .2 .5 .5 .5-.6 .5-.5 .5 0 .5-.2 .5 .1 .5 .1 .5 .4 .5 .2 .5-.9 .5-.4 .5 0 .5 0 .5-.8 .5-.1 .5 .7 .5 .2 .5-.8 .5-.8 .5-.2 .5 .7 .5 .2 .5-.9 .5-1 .5-1.1 .5-1.6 .5-1.2 .5-1.2 .5-1.3 .5-1.8 .5-1.3 .5 .9 .5 1.1 .5 .5 .5 1.4 .5 2 .5 1.2 .5 .5 .5 1.7 .5 .6 .5 .7 .5-.1 .5-.2 .5 .3 .5 .5 .5-.5 .5 .1 .5-.2 .5 0 .5 1.4 .5 .3 .5-.1 .5 .2 .5-.7 .5 .5 .5 1 .5-.7 .5-2.5 .5-.8 .5 1.4 .5 1.3 .5-.6 .5-.3 .5 0 .5-1.1 .5-.3 .5-.5 .5-1.5 .5-2 .5-2.3 .5-5 .5-11.8 .5-10.2 .2-3.4 .3 6.3 .5 12.5 .5 14.6 .5 3 .5 1.2 .5 .4 .5-.5 .5 .5 .5 1 .5-.2 .5 .4 .5-.2 .5 .3 .5 .2 .5 .1 .5-.3 .5-.8 .5 .2 .5 .2 .5 .3 .5 .5 .5-.7 .5-.6 .5-.1 .5 .7 .5 .3 .5-.3 .5 .8 .5 0 .5-.8 .5-.5 .5 .6 .5 .1 .5-.6 .5 1.2 .5 .6 .5-.6 .5 .3 .5 .8 .5-.7 .5-1.4 .5 0 .5 .1 .5-.5 .5-.6 .5 1.1 .5 0 .5 .1 .5 .1 .5 .1 .5-.7 .5-.4 .5 .8 .5 .2 .5-.3 .5 .2 .5-.5 .5-.4 .5 .5 .5-.3 .5 .2 .5-.1 .5-.2 .5-.8 .5 .3 .5 .8 .5-.1 .5-.4 .5-.1 .5-.1 .5-1 .5-.1 .5 .4 .5-.2 .5 .3 .5 .2 .5 .3 .5 .3 .5 .9 .5 .2 .5-.3 .5-.7 .5-.8 .5-.2 .5 .2 .5-.5 .5 .9 .5 1.4 .5 .6 .5-.7 .5-1 .5 .1 .5-.1 .5 .4 .5-.2 .5 .7 .5 .8 .5-.1 .5-.3 .5-1 .5-.1 .5 1.1 .5 0 .5-1 .5-.7 .5-.3 .5 .6 .5 .5 .5-.4 .5-.6 .5-.3 .5 .7 .5 .5 .5-.1 .5-.6 .5-.2 .5 .7 .5-.3 .5 0 .5-.3 .5-.9 .5 .6 .5 .5 .5 .4 .5 .6 .5-.8 .5-1.1 .5 .6 .5 .5 .5-.2 .5-1 .5-.2 .5 1.2 .5 .2 .5-.5 .5-.5 .5 .6 .5-1.3 .5 .8 .5 1.7 .5-.9 .5-.6 .5-.1 .5 .5 .5-.4 .5 .2 .5 .1 .5-.3 .5 .3 .5-.7 .5-.1 .5 .4 .5 0 .5 .2 .5 0 .5-1.1 .5-.7 .5-.6 .5-.5 .5-.6 .5-1.5 .5-1.4 .5-1.3 .5-.1 .5 1.4 .5 1 .5 1.8 .5 1.6 .5-.1 .5 .3 .5-.1 .5 .4 .5 .2 .5 .6 .5 .4 .5 .8 .5 .8 .5-.2 .5-.1 .5-.3 .5-.4 .5-.6 .5-.4 .5 1 .5 .9 .5-.5 .5-.5 .5 .5 .5-.8 .5-.9 .5-.6 .5 .1 .5 .8 .5 .7 .5-1.1 .5-1.1 .5-.3 .5-.3 .5-.9 .5 0 .5-.3 .5-1.6 .5-2.8 .5-4.9 .5-5.1 .5-5.2 .5-8.2 .5-9.7 .5-32.1 .5-52.2 .5-49.6 .2-21.9 .3 29.8 .5 59.3 .5 60.7 .5 29.2 .5 2.1 .5 2.8 .5 3.3 .5 2.5 .5 2.4 .5 1.7 .5 .4 .5 .1 .5 .7 .5 .5 .5-.1 .5 .8 .5 .3 .5 .1 .5 .1 .5-.6 .5 .1 .5-.8 .5-.5 .5 .1 .5 .5 .5-.2 .5-.1 .5 .1 .5 1 .5 .8 .5-.3 .5 .1 .5 .3 .5 .3 .5-1.1 .5-.9 .5 1.1 .5-.3 .5-.8 .5-.1 .5 0 .5 .5 .5 .6 .5 1.1 .5-.4 .5-1.4 .5-.1 .5 .3 .5 .1 .5 .8 .5 .4 .5-.3 .5 0 .5 .9 .5 .8 .5 0 .5-.6 .5-.3 .5-.4 .5-.3 .5 0 .5 .4 .5-.7 .5-.1 .5 .9 .5 .2 .5-.7 .5 .3 .5 .8 .5-.1 .5-.1 .5 .2 .5 .2 .5 .7 .5-.6 .5-1.5 .5-.4 .5 1.5 .5 1.1 .5-.2 .5 0 .5-.9 .5-.2 .5 1 .5 .4 .5 0 .5-.6 .5 .2 .5 .1 .5 .2 .5-.4 .5-.4 .5 .3 .5 .9 .5-.4 .5-.7 .5-.2 .5 .4 .5 .7 .5-1 .5 .3 .5 1.2 .5 .3 .5-.4 .5 .1 .5 .3 .5-.3 .5-.1 .5 .2 .5 0 .5-.2 .5-.9 .5 .3 .5-.7 .5-.1 .5 .9 .5 0 .5 .2 .5 0 .5 .7 .5-.6 .5-.8 .5 .5 .5-.2 .5-1 .5 0 .5 .1 .5-1.1 .5-.9 .5 .3 .5 .9 .5-.4 .5-.2 .5 1.5 .5 1.3 .5 1.2 .5-.4 .5-.8 .5 .2 .5 .6 .5-.3 .5 .3 .5 .4 .5 .3 .5 .2 .5 .4 .5 1.1 .5 0 .5-.7 .5 1 .5 .1 .5-.4 .5-.7 .5 .4 .5 .1 .5 .1 .5 .4 .5-.3 .5-.8 .5 .3 .5 .9 .5 0 .5-.3 .5 .1 .5-.3 .5-.4 .5 .4 .5 1.5 .5-.3 .5-.3 .5 .3 .5 1.2 .5 .2 .5-.9 .5-.4 .5 .2 .5 1 .5-.3 .5-.8 .5 .7 .5 0 .5-.1 .5-.2 .5-.6 .5 .1 .5 .5 .5-.4 .5 0 .5 1 .5-.6 .5-.7 .5 .3 .5 .7 .5 .5 .5-.2 .5 0 .5-.8 .5 .3 .5 .4 .5 .6 .5-.1 .5-.1 .5 1.8 .5-.8 .5-.2 .5 .8 .5-.1 .5-.9 .5-1.6 .5 .9 .5 1 .5-.6 .5-.6 .5 0 .5 1.9 .5 .2 .5-.9 .5 .2 .5-.1 .5-.1 .5 .4 .5 .8 .5 .3 .5 .3 .5-.7 .5-.4 .5 .2 .5-.4 .5 0 .5 .9 .5-.2 .5 .2 .5 0 .5-.2 .5 .7 .5 .1 .5-.2 .5 .1 .5-.9 .5-.5 .5 1 .5 .4 .5 .8 .5 .1 .5-.7 .5 .5 .5 1 .5 .2 .5-.6 .5-.3 .5-.5 .5 .1 .5 .3 .5 0 .5-.3 .5-.9 .5-.6 .5 0 .5 1 .5 1.4 .5-.2 .5-1.4 .5-.2 .5 1.3 .5-.2 .5-.5 .5 .8 .5 .3 .5 .4 .5 .1 .5-.1 .5-.4 .5-.7 .5-.2 .5 0 .5 .2 .5-.9 .5-.4 .5 1 .5 .8 .5-.2 .5-1 .5-1.6 .5-.3 .5 .2 .5-.3 .5-.8 .5 .5 .5 .4 .5-.5 .5 .7 .5 .5 .5 .2 .5 .3 .5 .3 .5-.3 .5 0 .5 .3 .5 .8 .5-.4 .5 .1 .5 .4 .5 .1 .5 .6 .5 .5 .5 0 .5 .3 .5 .8 .5-.5 .5-1.4 .5 .2 .5 1.2 .5-.5 .5-1.7 .5 .1 .5 1 .5 .2 .5 .7 .5 .2 .5 .2 .5-.2 .5 1.3 .5 .9 .5-.6 .5 .8 .5 .3 .5-.3 .5-.7 .5-.5 .5 .5 .5 1 .5 .6 .5 .2 .5-.1 .5-.3 .5-.7 .5-.3 .5 .8 .5 .3 .5-.3 .5-1 .5 .2 .5 .2 .5 .4 .5 0 .5 .4 .5 .2 .5 .3 .5 .2 .5-1.3 .5-.6 .5 1.9 .5 1 .5-.4 .5-.6 .5-.4 .5-.8 .5-1.3 .5-.4 .5-.5 .5-1.6 .5-2.1 .5-3.9 .5-1.1 .5 2.2 .5 2.1 .5 2 .5 1.7 .5 2.2 .5 2 .5 .3 .5-.1 .5 0 .5 .2 .5-.4 .5-.4 .5 .3 .5 .6 .5 .6 .5-.4 .5 .4 .5 .2 .5-1.2 .5-.5 .5 1.3 .5 .2 .5-.3 .5 0 .5 .1 .5 .1 .5 .2 .5 0 .5-.7 .5 0 .5 .5 .5 .1 .5 .5 .5-.2 .5-.3 .5 .4 .5-.6 .5-.7 .5 .2 .5 .3 .5 .5 .5 .6 .5 .5 .5 0 .5 .1 .5-.6 .5-1.1 .5 .1 .5-.9 .5-1.7 .5-.3 .5 .6 .5 .3 .5 1 .5 .9 .5 .9 .5 .4 .5 .5 .5 .4 .5 0 .5-.5 .5 .9 .5 .7 .5-.1 .5-.2 .5-.3 .5-.6 .5-.4 .5 .4 .5 .2 .5 .5 .5-.3 .5 .2 .5-.8 .5 0 .5 .8 .5 .6 .5-1.1 .5-.6 .5 1 .5 .2 .5-.8 .5-.3 .5 .4 .5 .8 .5 0 .5-.3 .5 1.1 .5-.6 .5-.6 .5 .5 .5 .5 .5 .9 .5-.4 .5-1.2 .5-.7 .5 0 .5 0 .5 .1 .5-.2 .5 .4 .5-1 .5-1 .5-1.5 .5-3.1 .5-2.4 .5-.9 .2-.2 .3 .4 .5 2.2 .5 2 .5 1.6 .5 .5 .5 .6 .5 1.5 .5-.3 .5 .3 .5 1.3 .5 .1 .5-.9 .5-.4 .5 0 .5-.2 .5 .5 .5 .3 .5 0 .5 .2"/>
<path stroke="#050505" d="M47,210.7l.5 .7 .5 1.1 .5-.9 .5-1.2 .5 .3 .5 .1 .5-.2 .5-.5 .5 .9 .5 .7 .5 .5 .5-.6 .5-.7 .5-.2 .5 .8 .5-1 .5 .6 .5-.3 .5-.6 .5 .1 .5 .4 .5 .5 .5 .5 .5 0 .5-1.4 .5 .2 .5 .4 .5 .1 .5-.8 .5 .6 .5 .3 .5-.4 .5 1 .5 .3 .5 .3 .5-.1 .5-1.1 .5-.4 .5 .7 .5 .8 .5-.2 .5-1 .5-.3 .5-.1 .5 .1 .5 .3 .5 .7 .5 .8 .5-1 .5-.4 .5 .2 .5-.5 .5 .1 .5 .6 .5 0 .5-.4 .5 .8 .5-.3 .5-.2 .5 .5 .5 .1 .5-.1 .5-.5 .5-.2 .5-.2 .5-.2 .5 .7 .5-1 .5 0 .5 1.6 .5-.7 .5-.5 .5 1.1 .5-.6 .5-.4 .5-.9 .5-.8 .5-.9 .5 0 .5 .8 .5 1.3 .5 1.2 .5 .6 .5-1.2 .5 .1 .5-.4 .5-.4 .5-.7 .5-.2 .5 .5 .5 .4 .5 .5 .5 .4 .5 .8 .5-.3 .5 .1 .5 .6 .5-.3 .5-.6 .5-.1 .5 .2 .5 1 .5 .1 .5-.4 .5-.1 .5-.4 .5-.1 .5-.3 .5 1.1 .5 .1 .5-.1 .5 0 .5-.5 .5-.2 .5 .7 .5-.6 .5-.6 .5 .2 .5-.3 .5 1.1 .5-.3 .5 .2 .5 1.5 .5-.2 .5-1 .5-.3 .5 .4 .5-.4 .5-1.4 .5-.5 .5-.5 .5-1.3 .5-1.1 .5-1.3 .5-1.2 .5-.4 .5 .5 .5 2.7 .5 2.3 .5 0 .5 1.4 .5 .6 .5-.5 .5 0 .5 0 .5-.3 .5 .4 .5 .8 .5 .5 .5-.3 .5-.3 .5 .4 .5-.5 .5 .2 .5 .4 .5-.3 .5-.1 .5 0 .5-.6 .5-.1 .5 .5 .5 .7 .5 0 .5 .8 .5-1.3 .5-1.7 .5 1.4 .5 1.8 .5-.7 .5-.6 .5 .1 .5 1.3 .5 .3 .5-.4 .5 0 .5 .5 .5-.7 .5-.8 .5 .5 .5 .2 .5-.1 .5 .3 .5-1.1 .5-.9 .5 1.9 .5 .7 .5-.8 .5-.1 .5-.1 .5-.2 .5 .5 .5 0 .5 0 .5 .1 .5 .5 .5 1.4 .5 .6 .5-.7 .5-.7 .5-.1 .5 1 .5 .2 .5-1.1 .5 0 .5-.9 .5 .6 .5 .7 .5-1 .5 0 .5 1.2 .5 .4 .5 0 .5 .4 .5-.3 .5 .7 .5-.4 .5-.2 .5 0 .5 .4 .5 1.2 .5 .1 .5-.9 .5-1.3 .5-.7 .5 .3 .5 .6 .5 .1 .5 0 .5 .3 .5-.1 .5-1 .5 .6 .5 1.4 .5 .1 .5-.3 .5 .5 .5-.5 .5-.6 .5-.2 .5 1.1 .5 .2 .5 .4 .5-.2 .5-.5 .5 .2 .5 .1 .5-.6 .5-.3 .5 .4 .5 .6 .5 .6 .5 .2 .5-.7 .5 0 .5-.5 .5 .4 .5 .5 .5 .8 .5-.5 .5-.7 .5 .5 .5 0 .5-.4 .5-.2 .5 .5 .5 1.6 .5-.3 .5-.6 .5-1.2 .5-.2 .5 .8 .5 .5 .5 .2 .5-.4 .5 .7 .5 .5 .5-.8 .5 0 .5-.5 .5 .5 .5 .5 .5 .2 .5-1 .5 .3 .5 .3 .5-1 .5-.1 .5-.4 .5 .5 .5 .9 .5 .8 .5 1.2 .5-.1 .5-.8 .5-.8 .5-.4 .5-.3 .5-.3 .5 1.5 .5-.7 .5-.7 .5 .8 .5 .7 .5 0 .5-.5 .5-.3 .5-.4 .5-.5 .5 .4 .5-.3 .5-.6 .5 .6 .5-1.1 .5 0 .5-.9 .5-.6 .5 0 .5-.1 .5-1.1 .5 0 .5 .2 .5-1.3 .5-.4 .5 .1 .5-.2 .5 .5 .5 .3 .5 .9 .5 .3 .5 .3 .5 1.6 .5 .1 .5 .1 .5 .2 .5 .8 .5 1 .5 .8 .5 .5 .5-.6 .5 .9 .5 1.3 .5 0 .5 .2 .5 .6 .5-.4 .5-.2 .5 .1 .5 1.1 .5-.4 .5-1.1 .5-.2 .5-.1 .5 1.1 .5 .1 .5-.5 .5-.6 .5-.2 .5 1.3 .5 0 .5 0 .5 .3 .5-.4 .5-.4 .5-.3 .5 .6 .5 1.6 .5-.8 .5-.4 .5-.3 .5-1.4 .5 1 .5 .6 .5-.3 .5 .1 .5-.7 .5 .9 .5 .5 .5-1.5 .5-.1 .5 1 .5 .4 .5 .2 .5 .4 .5-.1 .5-.7 .5 .2 .5-.6 .5-1.1 .5 .5 .5 1.8 .5 .7 .5 0 .5-1.3 .5 .2 .5 .7 .5 .1 .5 .3 .5 0 .5-.8 .5-.9 .5 1.3 .5 1.9 .5 .3 .5-.3 .5-.9 .5-.4 .5 0 .5 .4 .5 .2 .5 .6 .5 .4 .5-.8 .5-.3 .5-.3 .5 .7 .5-.2 .5-.1 .5 .8 .5 .7 .5-.9 .5-.9 .5-.2 .5 .5 .5-.2 .5 .1 .5 .8 .5 .1 .5-.3 .5 .6 .5 .2 .5-.9 .5 1.3 .5 .6 .5-1.5 .5-.3 .5-.5 .5 .2 .5 .3 .5 0 .5-.6 .5 .1 .5 0 .5-.2 .5 .1 .5 .1 .5-.2 .5 .4 .5 0 .5-1 .5 .6 .5 0 .5-.8 .5-.2 .5 .3 .5 .1 .5 0 .5-.8 .5 .4 .5-.3 .5 1 .5 .4 .5-.4 .5 1.6 .5 1 .5-.9 .5 .1 .5 .3 .5 0 .5 .1 .5-.1 .5 .8 .5 .3 .5 0 .5 .8 .5-.1 .5-.8 .5-.3 .5 1 .5-.4 .5-2.2 .5 .2 .5 1 .5 1 .5 .1 .5-.7 .5 .1 .5 0 .5-.8 .5 .6 .5-.2 .5 .1 .5-.2 .5-.7 .5 .1 .5 .8 .5 0 .5 .2 .5 .2 .5-.8 .5-.6 .5 .4 .5 .3 .5 .3 .5 .6 .5 .1 .5-.1 .5-.2 .5-.4 .5 .3 .5-.4 .5-.5 .5-.4 .5 .4 .5 .2 .5 .6 .5 1.2 .5 .4 .5-1.1 .5-.9 .5-.1 .5-.5 .5-.7 .5-.2 .5-.4 .5-.4 .5 .2 .5-1.6 .5-1 .5-.6 .5-2.1 .5-2.1 .5-1.4 .5-.9 .5-1 .5-.6 .5 .2 .5 1.2 .5 2.2 .5 1.1 .5 1.5 .5 1.3 .5 1.5 .5 1.5 .5 .5 .5-.7 .5 1.3 .5 .2 .5 .7 .5 .5 .5-.8 .5 .2 .5 .2 .5-.4 .5-.4 .5 .4 .5-.2 .5-.5 .5 .9 .5-.7 .5-1.5 .5 1 .5 1.9 .5 .2 .5-1.3 .5-1.1 .5 .7 .5 .7 .5-.4 .5-1 .5-.6 .5-.6 .5-1.4 .5-1.7 .5-1.3 .5-5.2 .5-13.1 .5-12.4 .2-4.5 .3 9.8 .5 14.3 .5 12.9 .5 1.1 .5 1.3 .5 2.1 .5 1.6 .5 .2 .5 .2 .5 .3 .5-.2 .5-1.2 .5-.6 .5 .3 .5 .2 .5 .3 .5 .1 .5-.3 .5 .1 .5 .3 .5 1.2 .5-.3 .5 1 .5-.3 .5-1.5 .5 .7 .5-.3 .5-.8 .5 .6 .5 .3 .5-.4 .5-.5 .5 .5 .5 .3 .5-.4 .5-.2 .5-.1 .5 0 .5-.4 .5-.3 .5 1.2 .5 .2 .5-.1 .5-.3 .5-.3 .5 1 .5-.9 .5 .3 .5 .5 .5 .4 .5-1.3 .5-.6 .5 .1 .5-.7 .5 .5 .5 .8 .5 .6 .5-.9 .5-.8 .5-.5 .5-.2 .5 .5 .5 .3 .5-.7 .5-.2 .5-.1 .5 .7 .5 .2 .5-.8 .5 .2 .5 .8 .5 .8 .5 0 .5-.8 .5-.9 .5-.1 .5 1.5 .5 .6 .5-.2 .5 0 .5-1.2 .5 .1 .5 .5 .5-.9 .5 .3 .5-.1 .5 .1 .5 .3 .5-1.3 .5-.8 .5-.7 .5 .3 .5 .4 .5 .2 .5 .1 .5 0 .5-.7 .5-.6 .5 1.1 .5 .2 .5-.9 .5 .3 .5 1.5 .5 .3 .5-.5 .5-.1 .5-.7 .5-.2 .5 .3 .5-.5 .5-.4 .5-.1 .5 .2 .5 0 .5-.4 .5 .6 .5-1.6 .5-.5 .5 .3 .5-1.3 .5-.7 .5-.9 .5-1.5 .5 .3 .5 0 .5 .2 .5 .7 .5 .7 .5 .9 .5 .1 .5-.1 .5 .1 .5 .4 .5-.3 .5 .7 .5 1.6 .5-.2 .5-1.1 .5 .4 .5 1.1 .5 .5 .5-.2 .5-1.6 .5 .2 .5 .6 .5 .2 .5 .4 .5 .3 .5 .2 .5-.1 .5 .3 .5 .2 .5-1.1 .5-.5 .5 .5 .5-.2 .5-.7 .5-1.3 .5-1.7 .5-.7 .5-1.7 .5-.9 .5 1 .5 .6 .5 1.5 .5 2.5 .5 .9 .5-1 .5 .7 .5 1.5 .5-.7 .5-1.2 .5 1.5 .5 1 .5 .7 .5-.4 .5-.6 .5-.1 .5-.1 .5-.1 .5 .2 .5-.4 .5-.2 .5 .9 .5 .1 .5-1.1 .5-1.7 .5 .8 .5 .3 .5-.3 .5 .1 .5-.5 .5 .8 .5-.4 .5-.6 .5 .6 .5-.3 .5-.9 .5-.9 .5 .6 .5 .2 .5-1.7 .5-2.6 .5-1.4 .5-3.3 .5-6.1 .5-8.5 .5-9.6 .5-9.2 .5-34 .5-55.6 .5-52.9 .2-24 .3 31.5 .5 63.3 .5 64.6 .5 32.9 .5 3.4 .5 3.7 .5 3.1 .5 1.5 .5 2.2 .5 .5 .5-.3 .5 .5 .5 1 .5 .3 .5-.9 .5 .7 .5 .2 .5-.4 .5 .4 .5 .2 .5 .3 .5 .4 .5-.2 .5 1.4 .5-.2 .5-1.6 .5-.7 .5 .8 .5 .6 .5 .6 .5 .8 .5 .4 .5-.9 .5-.4 .5-.8 .5 .1 .5 .9 .5-.5 .5-.4 .5-.1 .5 .5 .5 .2 .5-.7 .5-.5 .5 .6 .5-.2 .5 .2 .5 .4 .5-.4 .5-.6 .5 1.7 .5 .7 .5 .7 .5-.3 .5-1.9 .5-.3 .5 .9 .5 .4 .5-.6 .5 .2 .5 .5 .5-.3 .5 .6 .5 .6 .5 0 .5 .1 .5-.5 .5-.9 .5 .5 .5 .5 .5 .3 .5 .1 .5 .2 .5-.1 .5-.2 .5-.4 .5 .1 .5-.3 .5 .5 .5 .4 .5-1 .5 .1 .5-.2 .5 .8 .5 1.1 .5 .3 .5 .1 .5-.8 .5-.1 .5 .2 .5 .1 .5 0 .5 0 .5 .4 .5 .6 .5-.6 .5-.4 .5-.2 .5-.7 .5-.3 .5 .3 .5 .3 .5-.3 .5 .9 .5 0 .5-.8 .5 .5 .5 .5 .5 .2 .5 .4 .5 1 .5 0 .5-1.5 .5 0 .5-.6 .5-.8 .5 .9 .5 .8 .5-.6 .5-.3 .5 .6 .5-.7 .5-.8 .5-.1 .5-.9 .5-1.1 .5 .2 .5 1.1 .5 1.5 .5 1.2 .5 .2 .5-.5 .5-.2 .5 1 .5 0 .5-.8 .5 .1 .5 .8 .5 .8 .5-.2 .5-.3 .5 .6 .5-1.3 .5 .4 .5 1.4 .5-.2 .5-1.1 .5 .6 .5 .8 .5-.6 .5-.6 .5 .6 .5-.8 .5 .1 .5-.2 .5-.2 .5 .3 .5-.2 .5-.7 .5 .4 .5 .7 .5-.4 .5-.2 .5 0 .5-.3 .5 .2 .5 .8 .5 .9 .5 1.3 .5-.3 .5-1.1 .5-.9 .5-.5 .5-.2 .5 2 .5-.2 .5-1.1 .5 1.2 .5 1.8 .5-.6 .5-.4 .5-.4 .5-.7 .5-.5 .5 .7 .5 .7 .5 .2 .5 .9 .5 .8 .5-.4 .5-.3 .5-.8 .5 0 .5 1.6 .5 .2 .5-.5 .5-1.2 .5-.7 .5 .9 .5-1 .5 .4 .5 .5 .5 .6 .5 .6 .5-.3 .5-1 .5 .8 .5-.5 .5 1 .5-.4 .5-.3 .5 0 .5 0 .5 1 .5 1.2 .5-.1 .5-.1 .5 .2 .5 .5 .5 .6 .5-.7 .5-1 .5-.2 .5-.1 .5 .4 .5 .3 .5 .6 .5 .3 .5-.3 .5-.3 .5-.4 .5-.4 .5-.7 .5 .9 .5 1.4 .5 1.2 .5-1.2 .5 0 .5-.2 .5-.3 .5 .9 .5-.1 .5-1.4 .5-.4 .5 .7 .5 .2 .5 .8 .5 .3 .5 .1 .5 .1 .5 .9 .5 .1 .5-.1 .5-.7 .5-1.1 .5-.1 .5 .8 .5 .6 .5 .3 .5 1.1 .5-.6 .5-.4 .5-.3 .5-.5 .5 .9 .5 .4 .5-.5 .5-.7 .5 .2 .5 .6 .5 0 .5-.9 .5 .8 .5 .5 .5-1.1 .5-.1 .5 1 .5 .1 .5 0 .5-.3 .5-.6 .5-1.2 .5-1.2 .5 .6 .5-.1 .5 .2 .5-.2 .5 .4 .5-.6 .5 .2 .5 .2 .5-.5 .5-.1 .5-.1 .5 .2 .5 1 .5-.9 .5-.3 .5 .8 .5 1 .5 .1 .5 0 .5-.5 .5-.5 .5 1.9 .5 1 .5-1.5 .5-.4 .5 1 .5-.9 .5-2 .5 1 .5 .3 .5 1.1 .5 2.2 .5 .4 .5-.6 .5 .5 .5 .5 .5-.5 .5 .4 .5 .1 .5 .6 .5 .1 .5-.3 .5 1 .5 .5 .5 0 .5-.8 .5 0 .5 0 .5 .6 .5-.3 .5 .4 .5 1.1 .5 .1 .5-.2 .5 .1 .5 .2 .5 0 .5-1 .5-.4 .5 1.4 .5 .1 .5 .8 .5 .2 .5 .9 .5-.6 .5-1 .5-.4 .5-1.1 .5 .3 .5 0 .5-.5 .5-1.4 .5-.1 .5 1.1 .5-1.1 .5-2.6 .5-3.2 .5-3.7 .5-1.8 0 .4 .5 1.5 .5 3.5 .5 2.2 .5 1.5 .5 2.2 .5 1 .5 .1 .5 .4 .5 .8 .5 1 .5 .7 .5-.3 .5-.7 .5 .5 .5 .6 .5-.6 .5-.3 .5-.2 .5 .9 .5 .1 .5 .2 .5-.2 .5 .7 .5-1 .5-.7 .5 .8 .5 1 .5 .1 .5-.7 .5-.3 .5 .3 .5-.4 .5-.2 .5 1.7 .5 .5 .5-1.3 .5-.4 .5 .1 .5 .2 .5 .6 .5-.2 .5-.1 .5-1.1 .5-.9 .5-.4 .5 .1 .5 1 .5 .4 .5-.3 .5-.5 .5-.2 .5 1.5 .5 .5 .5 1.8 .5 1.3 .5-.8 .5-.1 .5-.1 .5-1.1 .5-.1 .5 .6 .5 .9 .5 .4 .5 0 .5 0 .5-1.2 .5-.6 .5 .6 .5-.1 .5-.5 .5 .7 .5-.7 .5-.2 .5 .7 .5-.3 .5 1 .5 .6 .5-.1 .5-.4 .5-.4 .5 .2 .5 .9 .5 1.1 .5-.3 .5-.4 .5 .6 .5-.6 .5-1.3 .5 .5 .5 .8 .5-.9 .5-.1 .5 .5 .5-.1 .5 .4 .5-.6 .5 .6 .5 1.1 .5-1.3 .5-2.4 .5-.9 .5-.3 .5-.6 .5-1.8 .5-1.1 .5-1.4 .5-1.9 0-1.6 .5 .7 .5 2.7 .5 2.7 .5 2.6 .5-.3 .5 .1 .5 1.1 .5 1 .5 1 .5 0 .5-1.4 .5-.8 .5 1.2 .5 1 .5-.2 .5-1.6 .5 0 .5 1.9 .5 .6 .5-.5"/>
<path stroke="#a0a0a0" d="M47,474l.5-.3 .5 .6 .5 .8 .5 .3 .5-.5 .5-.6 .5 .4 .5 1.1 .5 .5 .5-.7 .5-1 .5 .5 .5 1.3 .5-.5 .5-.9 .5 .2 .5-.2 .5 0 .5 .3 .5 .3 .5 .6 .5 .2 .5 0 .5 .7 .5 0 .5-.9 .5 .3 .5 .3 .5 .2 .5-.1 .5 .7 .5 .4 .5-.3 .5-.1 .5 .2 .5-.2 .5 .2 .5 .7 .5 .4 .5 1 .5 0 .5-1.1 .5 .5 .5 0 .5 .5 .5 0 .5-.7 .5 .6 .5 .8 .5 .2 .5-.5 .5 .2 .5-.2 .5-.2 .5 .4 .5 1.2 .5 .3 .5 .5 .5-.4 .5-.1 .5-.2 .5-.4 .5 .3 .5 .7 .5-.3 .5 0 .5 .3 .5 .2 .5-.3 .5 .1 .5 .3 .5-.2 .5-.1 .5 .6 .5-.8 .5-.4 .5 .8 .5 1 .5-.3 .5-.6 .5 .3 .5 .6 .5-.4 .5 0 .5 .5 .5-.5 .5 .1 .5 .2 .5-.1 .5 .8 .5 .6 .5-1 .5-.8 .5 0 .5 1 .5 .5 .5 .2 .5 0 .5-.2 .5-.1 .5 .1 .5 .4 .5 .1 .5 .5 .5 .9 .5-.9 .5-.6 .5 1.4 .5-.4 .5-.6 .5 .7 .5-.1 .5-.6 .5-.2 .5 .2 .5 .9 .5 .5 .5-.4 .5 .5 .5 .5 .5-1 .5 .2 .5-.3 .5-.5 .5 0 .5 .6 .5-.2 .5-.8 .5-.2 .5-.4 .5-1.1 .5-1.3 .5-2 .5-1.7 .5-1.5 .5-1.7 .5 .1 .5 1.6 .5 1.6 .5 2.4 .5 2.4 .5 1.8 .5 1.3 .5-.3 .5 .1 .5 1.8 .5 .1 .5-.7 .5 1 .5-.4 .5-1 .5 .6 .5 .6 .5 .6 .5-.7 .5 0 .5 .2 .5 0 .5 .2 .5 .8 .5 .8 .5-.3 .5-1 .5 .1 .5 .7 .5-.2 .5-.5 .5 .4 .5 1.8 .5-.1 .5-.9 .5 .8 .5 .1 .5-1.4 .5 .4 .5 .7 .5 .8 .5-.1 .5-.2 .5 .5 .5 1.4 .5 .3 .5-1.4 .5-.1 .5 1.3 .5-1 .5-.4 .5 .5 .5 .9 .5 .4 .5-.2 .5-.6 .5 .4 .5 .8 .5 .8 .5-.9 .5-1.1 .5 .7 .5 1.4 .5-1 .5-1 .5 .8 .5 1 .5 .8 .5-.6 .5 .5 .5 .2 .5-.7 .5 .6 .5 1.2 .5 .4 .5-.2 .5-.2 .5 .3 .5-.5 .5-.2 .5-.1 .5 .6 .5 1 .5 1.1 .5-.7 .5 .4 .5-.1 .5-.5 .5-.2 .5-1 .5 .7 .5 .4 .5-1.2 .5 .5 .5 1.2 .5-.4 .5-.7 .5 .5 .5 .4 .5 .7 .5 0 .5-.5 .5-.2 .5 .4 .5 .8 .5 .3 .5-.1 .5-.6 .5-.8 .5 .6 .5 .7 .5-.2 .5-.6 .5 0 .5 .7 .5 .2 .5-.2 .5 .3 .5 .4 .5 .7 .5 .5 .5 .3 .5 0 .5-.7 .5-.7 .5 .3 .5 .4 .5-.2 .5 .4 .5 .3 .5-1.4 .5-.5 .5 1.3 .5 .5 .5-.1 .5-.3 .5 1 .5 .1 .5-.8 .5-.2 .5 .2 .5 0 .5-.1 .5 .1 .5 .9 .5-.2 .5-.1 .5-.4 .5-.7 .5 1 .5 .4 .5-.1 .5 .1 .5 0 .5 .5 .5-.4 .5-.2 .5 .1 .5 .9 .5 .4 .5-.6 .5-.4 .5 1 .5-.1 .5 .7 .5-.3 .5-.5 .5 0 .5 .9 .5 .2 .5-.2 .5 .5 .5 .4 .5-1.2 .5-.8 .5-.2 .5 0 .5 .5 .5 .1 .5 .2 .5 .2 .5-1 .5 .9 .5 2.2 .5-.1 .5-.5 .5 .2 .5 .5 .5-.4 .5-.7 .5-.7 .5 .2 .5 0 .5-.1 .5 .3 .5 .5 .5 .2 .5 .2 .5-.6 .5 .7 .5 .8 .5-.1 .5 .3 .5 .4 .5 .1 .5-.9 .5-1.1 .5 .3 .5-.2 .5-.5 .5 .1 .5-.1 .5 .1 .5 1 .5 0 .5-.4 .5-.2 .5 .4 .5 .1 .5 .2 .5 0 .5 .2 .5 .6 .5 .2 .5-.2 .5-.5 .5 .2 .5 .6 .5-.1 .5-.6 .5-1.4 .5 .3 .5 1.5 .5 .9 .5 .2 .5 0 .5-.5 .5-.8 .5-.4 .5 .6 .5 0 .5 .2 .5 .2 .5 .3 .5 0 .5-.6 .5-.5 .5-.2 .5 .8 .5 1.1 .5-.3 .5 .4 .5 .4 .5-.2 .5-.4 .5-.6 .5 .8 .5 .5 .5-.8 .5-.4 .5 0 .5 .2 .5 0 .5 .6 .5-.7 .5-.3 .5 1.4 .5 .3 .5-.5 .5-.3 .5-.3 .5 0 .5 .5 .5 .3 .5 .1 .5-.6 .5-.7 .5 .2 .5 .9 .5 .2 .5-1 .5-.2 .5 .9 .5 .2 .5-.5 .5-1.1 .5 .2 .5 .3 .5 .2 .5-.4 .5 .9 .5 .3 .5-.6 .5-.6 .5 .5 .5 .5 .5-1.1 .5 .4 .5 .3 .5-.7 .5 .3 .5 .3 .5 .4 .5-.1 .5 0 .5 .7 .5-.4 .5-.5 .5-1.1 .5 .1 .5 .9 .5 .2 .5-.5 .5-.4 .5-.7 .5-.2 .5-.4 .5 .3 .5-.6 .5-.7 .5 0 .5-.3 .5-2.1 .5-.8 .5 .6 .5 .7 .5 1.5 .5 .7 .5 .3 .5 1.2 .5 .9 .5 .1 .5-.2 .5-.5 .5-.8 .5 .4 .5 1.2 .5 .2 .5-.2 .5-.2 .5-.4 .5-.1 .5-.1 .5 .3 .5-.1 .5 .1 .5 .2 .5-.1 .5 .5 .5-.1 .5 0 .5-.1 .5-1.3 .5-.2 .5 1 .5 1 .5 .5 .5-.4 .5-.5 .5-.8 .5 .6 .5 0 .5-1 .5-.2 .5 .5 .5-.2 .5-1.2 .5 .8 .5 .6 .5-.1 .5 .2 .5-.3 .5-.6 .5 .3 .5-.3 .5-.3 .5 .7 .5 .4 .5-1.5 .5-1 .5 .6 .5 1.5 .5-.6 .5-.9 .5-.7 .5-.6 .5-.6 .5 .6 .5-.4 .5-1.5 .5-.5 .5-.4 .5-.3 .5-.4 .5-.8 .5-1.3 .5-1.7 .5-2 .5-2.4 .5 .1 .5 1.6 .5 1.3 .5 .9 .5 .1 .5 1.5 .5 2.3 .5 1 .5 .1 .5-.2 .5 .1 .5 1.2 .5 1.2 .5 .2 .5-.8 .5-.5 .5 0 .5 1.3 .5 .5 .5-1.2 .5 .2 .5-.1 .5-.9 .5-1 .5 .7 .5 .7 .5-1.2 .5-.8 .5-.2 .5 1.8 .5 .4 .5-.7 .5-.6 .5-.4 .5-.2 .5-.4 .5-.9 .5-.8 .5-1 .5-1.8 .5-2.9 .5-7.3 .5-12.4 .5-11.9 .1-2.2 .4 11.9 .5 13.5 .5 13 .5 1.1 .5 .4 .5 1.1 .5 .9 .5 1 .5 .6 .5-.6 .5 .4 .5-.1 .5-.1 .5 .1 .5 .1 .5-.6 .5 .6 .5 .6 .5 0 .5 .2 .5-.9 .5-.2 .5-.3 .5-.3 .5-.2 .5 .3 .5 .2 .5 0 .5 .8 .5-.2 .5-1.1 .5 .6 .5 .2 .5 .4 .5 1.1 .5-.4 .5-.7 .5-.7 .5-.6 .5 .9 .5 .2 .5 .2 .5 .2 .5 .9 .5 .6 .5-.3 .5-.3 .5-.6 .5-.1 .5-.3 .5-.3 .5 .8 .5-.8 .5-.2 .5 1.5 .5 .4 .5-1.6 .5 .2 .5 1.5 .5-1.2 .5-1.5 .5 .9 .5 1.7 .5-.2 .5 .1 .5 .1 .5-.4 .5-.9 .5-.5 .5 .5 .5-.2 .5 .8 .5 .9 .5-.3 .5-.5 .5-.1 .5 .5 .5-.2 .5-.9 .5 .7 .5 1 .5-.4 .5-.9 .5-.5 .5-.7 .5 .9 .5 1.3 .5-.4 .5-.7 .5 .3 .5 .5 .5 .1 .5-.2 .5-.1 .5 .9 .5 .3 .5-.8 .5-.1 .5 .3 .5-1 .5 0 .5 .5 .5 .2 .5-.2 .5 0 .5 .2 .5-.6 .5-.7 .5 .5 .5 .9 .5-.2 .5 .8 .5 .7 .5 0 .5-.6 .5-.4 .5 .1 .5-.4 .5 .3 .5 .8 .5 .1 .5 .8 .5-.3 .5-.9 .5 .6 .5 .2 .5-1.2 .5 0 .5 .3 .5 .6 .5 .5 .5-.2 .5-.4 .5 .3 .5 1 .5 0 .5-.7 .5-.6 .5 .6 .5 .3 .5 .3 .5 .5 .5-.6 .5-1.3 .5 .1 .5 1.2 .5 0 .5-.2 .5-.6 .5-.8 .5 .7 .5 .5 .5-1.1 .5-1.2 .5-.5 .5-.5 .5-.7 .5-.7 .5-1.5 .5-3.1 .5-1.8 .5 0 .5 1.2 .5 2 .5 1.8 .5 1.2 .5 .9 .5 1.3 .5 .3 .5 0 .5 .9 .5 .5 .5 .9 .5-.3 .5-.8 .5-.5 .5 .4 .5 .4 .5-.3 .5-.3 .5-.7 .5 .9 .5 .7 .5-.2 .5-.1 .5 0 .5-.9 .5-.4 .5 .9 .5 .7 .5-.4 .5-.4 .5 0 .5-.6 .5-1.7 .5-1.5 .5-.2 .5-1.2 .5-1.9 .5-3.7 .5-4.3 .5-5.9 .5-8 .5-8.8 .5-18.1 .5-56.1 .5-52.5 .4-38.1 .1 11.6 .5 60.9 .5 63.7 .5 49.7 .5 3.8 .5 3.6 .5 2.7 .5 1.7 .5 1.2 .5 .7 .5 1.2 .5 .7 .5-.1 .5 1.1 .5 .9 .5-1.4 .5 .3 .5 .7 .5-.3 .5-.4 .5 .6 .5 0 .5-.6 .5 0 .5 .4 .5 .5 .5 .8 .5 .2 .5-.9 .5-.1 .5-.1 .5 .6 .5-.4 .5-.5 .5-.3 .5 .6 .5 1.2 .5 .8 .5-.5 .5-1 .5 .2 .5 .6 .5 0 .5 .6 .5 .4 .5-.2 .5-.8 .5-.6 .5 .3 .5 .2 .5 .6 .5 .1 .5-.6 .5 .5 .5 .5 .5 1 .5-1 .5-1.1 .5 1.1 .5 .4 .5-.5 .5 .1 .5 .6 .5 .4 .5-.6 .5-.4 .5 0 .5-.4 .5-.2 .5 .4 .5 .3 .5 1 .5 1.4 .5-.6 .5-1.2 .5-.6 .5 .4 .5-.2 .5 .1 .5 1.5 .5 .2 .5 .9 .5 1.1 .5-.9 .5-.5 .5-.2 .5-.4 .5-.4 .5 .6 .5 .8 .5-.6 .5-.8 .5-.2 .5 .4 .5 .9 .5 .6 .5 .3 .5 0 .5-.1 .5 .1 .5 0 .5-.5 .5-.7 .5 .6 .5-.5 .5 .1 .5 .9 .5 .3 .5 .8 .5-.8 .5-.6 .5 .5 .5 .5 .5 1.1 .5 .5 .5-.9 .5-.7 .5 .1 .5 .6 .5-.9 .5 0 .5 1 .5 .3 .5-.6 .5-.6 .5-.2 .5 1.1 .5-.3 .5-.5 .5-.1 .5 1 .5 1.4 .5-.4 .5-.6 .5 1.3 .5-.2 .5-1.7 .5-.4 .5 1.4 .5-.1 .5-.2 .5 .2 .5 1 .5 .1 .5-.7 .5-.6 .5 0 .5-.2 .5-.5 .5 .7 .5-.1 .5-.1 .5 .2 .5 .6 .5 .7 .5 .3 .5-1.3 .5-.3 .5 .3 .5 .2 .5 .4 .5-.4 .5 .4 .5 .8 .5-.1 .5-.2 .5 .5 .5-.5 .5-1.5 .5 .4 .5 .1 .5-.2 .5 0 .5 .6 .5 .1 .5 .3 .5 .5 .5-.3 .5-.7 .5-.1 .5 .5 .5-.1 .5 .2 .5 .6 .5 .3 .5 .2 .5 .3 .5-.4 .5 0 .5-.3 .5 .2 .5 .3 .5-.8 .5-.2 .5 1.6 .5 .3 .5-.1 .5-.4 .5 .3 .5 .5 .5 .4 .5 .4 .5-.5 .5-.6 .5 .2 .5-.1 .5 0 .5-.7 .5 .8 .5 .5 .5-.3 .5 .4 .5 .7 .5 .2 .5 .5 .5-.4 .5-.4 .5-.4 .5-1 .5 .4 .5 1.5 .5 .3 .5 .6 .5-.5 .5 .1 .5 .4 .5 0 .5 .1 .5-.7 .5 .5 .5 .3 .5 0 .5 .4 .5-.3 .5-.7 .5-.2 .5 .8 .5 0 .5 .6 .5 .2 .5-.8 .5-.6 .5 .5 .5 .6 .5-.1 .5 .5 .5-.4 .5-.4 .5-.1 .5 .2 .5 .5 .5-.6 .5-.5 .5 .2 .5 .3 .5-.7 .5 .5 .5 1.3 .5 .2 .5-.7 .5-.2 .5-.7 .5 1 .5 0 .5-1.2 .5-.2 .5 .8 .5 .6 .5 .1 .5 0 .5 .4 .5-.5 .5-1.1 .5-.1 .5 .6 .5 .5 .5-.3 .5 0 .5 .1 .5 .6 .5-.9 .5-.7 .5-.1 .5 .4 .5 .5 .5-1.5 .5-1.1 .5 .2 .5 .2 .5-.5 .5 .4 .5-.3 .5-.8 .5-.2 .5-.2 .5 .1 .5 .4 .5 1.3 .5 .5 .5-.5 .5-.5 .5-.4 .5 1 .5 1 .5 .1 .5 .2 .5 .4 .5-.3 .5 .2 .5 .4 .5-1.4 .5-.2 .5 .6 .5 .2 .5 .4 .5 .3 .5 .2 .5 .5 .5 .3 .5-.1 .5-.3 .5-.8 .5-.2 .5 .7 .5 .9 .5 .1 .5 .5 .5 .2 .5-.2 .5-.3 .5 .6 .5 .7 .5 .5 .5-.4 .5-.4 .5-.2 .5-.2 .5-.5 .5 .5 .5 .7 .5 .4 .5-.1 .5 .5 .5 .7 .5-.7 .5 0 .5-.4 .5 0 .5 .5 .5 .1 .5-.8 .5 0 .5 1 .5 0 .5 .1 .5 .3 .5-.2 .5-.8 .5-.8 .5-.9 .5-.1 .5-1 .5-1.7 .5-2.1 .5-3.7 .5-2.7 .5 1.1 .5 4.2 .5 3.4 .5 1.2 .5 1.2 .5 .6 .5 .3 .5 .2 .5-.3 .5 .2 .5 .5 .5 1.4 .5 .2 .5-.4 .5-.2 .5 0 .5 .1 .5-.1 .5-.1 .5-.5 .5-.4 .5 .2 .5 .8 .5 .4 .5 .3 .5 .7 .5-.6 .5-.3 .5 .7 .5 .6 .5 .6 .5-.7 .5-1.1 .5-.1 .5 .6 .5 0 .5-.1 .5 0 .5 .6 .5 .3 .5-.5 .5-.9 .5-1.2 .5 .2 .5 1.1 .5-.1 .5-1 .5 1.1 .5 1.4 .5 .1 .5-.6 .5 .3 .5-.2 .5 .1 .5 .7 .5 .1 .5-.9 .5-.9 .5-.4 .5 .5 .5 1.7 .5 .6 .5-.7 .5-.1 .5-.5 .5 .3 .5 .7 .5-.3 .5-.7 .5-.6 .5 .1 .5 .8 .5 .1 .5 .2 .5-.1 .5 .2 .5 .5 .5-.1 .5-.2 .5-.3 .5 .4 .5 .5 .5-.5 .5-.4 .5 .1 .5 .7 .5 .7 .5 0 .5-.3 .5 .4 .5-.6 .5-.8 .5 .2 .5 .3 .5 .1 .5-.7 .5-.8 .5-.4 .5 .5 .5 0 .5-.5 .5-.7 .5-.8 .5-.9 .5-1.3 .5-2.5 .5-3.3 .4-1.4 .1-.4 .5 1.5 .5 2.5 .5 3.3 .5 2.1 .5 .9 .5-.4 .5 .1 .5 .2 .5 .3 .5 .2 .5 .2 .5 0 .5 0 .5-.2 .5 .3 .5-.2 .5 0 .5 .4"/>
<path stroke="#6a6a6a" d="M47,453.3l.5-.4 .5-1.8 .5 .6 .5 1.3 .5 .2 .5-.1 .5 .2 .5-.4 .5-.2 .5-.4 .5-.8 .5 .2 .5 .6 .5 .2 .5 .9 .5 .6 .5-.1 .5-.6 .5-.1 .5-.8 .5-.2 .5 .7 .5-.1 .5-1.1 .5 .2 .5 .9 .5 .4 .5 .6 .5 .1 .5-.2 .5-.1 .5 .2 .5 0 .5 .3 .5-.4 .5-.2 .5 .1 .5 .7 .5 .1 .5 .1 .5 .9 .5-.3 .5-.2 .5 .7 .5 .4 .5-.4 .5 0 .5-.4 .5-.6 .5 .9 .5 .4 .5-.6 .5-.5 .5-.7 .5-.3 .5 1 .5 .6 .5-.2 .5 .4 .5 .5 .5 .1 .5 .2 .5 .2 .5-.8 .5 .1 .5-.3 .5 .9 .5 .1 .5-.5 .5-.2 .5 .4 .5 .1 .5 .2 .5-.1 .5 .3 .5-.4 .5 .1 .5 .4 .5 .3 .5-1 .5 .5 .5 .7 .5-.6 .5-.4 .5 .7 .5 .2 .5 .4 .5-.4 .5 .3 .5 .8 .5 0 .5-.7 .5 .7 .5-1 .5-.6 .5 .4 .5 .8 .5 .2 .5 .3 .5 .4 .5-.1 .5 .3 .5 0 .5-1.9 .5-.3 .5 .6 .5-.5 .5-.7 .5 .6 .5-.1 .5-.2 .5 1.4 .5 .9 .5-.1 .5-1 .5-.4 .5-.4 .5 .4 .5 .1 .5 .3 .5 .2 .5 .4 .5 .6 .5-.6 .5-1.8 .5-.1 .5 .9 .5-.1 .5-.1 .5-.5 .5-.9 .5-1 .5-1.8 .5-2.7 .5-2.6 .5-1.3 .5-1.2 .5 .7 .5 2.2 .5 2.7 .5 2.2 .5 1.8 .5 1.4 .5 .7 .5 .8 .5 .8 .5 .3 .5 .8 .5 1.2 .5-.9 .5 .7 .5 1.3 .5-.8 .5 .3 .5 .3 .5-.8 .5-.6 .5 .3 .5 1 .5 .2 .5-1 .5 .6 .5 .6 .5 .7 .5-.1 .5-.5 .5 .2 .5 .7 .5 1.1 .5 .7 .5-1 .5-.3 .5 .2 .5-.1 .5 .2 .5 0 .5-.4 .5-.2 .5 .9 .5 .8 .5 .3 .5 .7 .5-.1 .5-.3 .5 .5 .5-.5 .5 .8 .5 .5 .5-.9 .5-.2 .5 .9 .5 .4 .5-.5 .5-.1 .5 .3 .5-.8 .5-.5 .5 .6 .5 .1 .5-.3 .5 .6 .5 .2 .5 0 .5-.8 .5-.1 .5 .6 .5 1.8 .5 .7 .5 .1 .5 .3 .5-.2 .5-.8 .5-.9 .5 .6 .5 .1 .5-.2 .5 .1 .5 1.1 .5-.4 .5-.6 .5 .5 .5 0 .5-.2 .5 .2 .5-.3 .5-.6 .5 .5 .5 1.5 .5 .4 .5-.3 .5-.5 .5 .2 .5 .7 .5 .1 .5-.4 .5 .2 .5 .9 .5 0 .5-.5 .5-.1 .5 .4 .5 1.2 .5-.1 .5-1.1 .5-.2 .5 1.4 .5 .5 .5-.1 .5-.9 .5-1.4 .5 .2 .5 1.1 .5 .1 .5 .1 .5-.3 .5 .1 .5 .3 .5-.1 .5 .1 .5 .3 .5 .3 .5 .5 .5-.2 .5-1.3 .5 0 .5 .4 .5 .4 .5-.1 .5 .8 .5 .6 .5-.3 .5-.5 .5-.1 .5 .1 .5 1.1 .5 .3 .5-1 .5 .2 .5 .6 .5 .4 .5 .6 .5-.4 .5-.5 .5 .1 .5 .9 .5 .1 .5-.2 .5-.6 .5-1.4 .5 0 .5 .7 .5 .8 .5 .1 .5 .4 .5 0 .5 .1 .5 .2 .5-.5 .5-1 .5 .8 .5 .9 .5-.3 .5 1.2 .5 .4 .5-1 .5-.3 .5-.2 .5 .8 .5-.5 .5-.7 .5 .5 .5 .2 .5 .1 .5 .3 .5-.1 .5 .1 .5 1.2 .5 .7 .5-1.1 .5-.8 .5 .3 .5 .6 .5 0 .5-.4 .5-.9 .5 .2 .5 .7 .5 .9 .5-.7 .5-1 .5 1.5 .5 1.3 .5-.6 .5-1.7 .5 .9 .5 1.2 .5-.3 .5-.9 .5-.4 .5 .5 .5 .6 .5 .4 .5-.2 .5-.2 .5 .2 .5-.7 .5-.1 .5 .6 .5 .3 .5 0 .5 .7 .5-.4 .5-.8 .5 .4 .5-.4 .5-.3 .5 .4 .5 1.5 .5-.1 .5-.9 .5 1 .5 .3 .5-.6 .5 .8 .5 .6 .5-.5 .5-.1 .5-.1 .5-.9 .5-.7 .5 .2 .5 .9 .5 .4 .5-.8 .5-.4 .5 .9 .5 .1 .5 .3 .5-.2 .5-.4 .5 .2 .5-.1 .5-.5 .5 .4 .5 2 .5 1 .5-1.4 .5-1.6 .5 .5 .5 .5 .5-1 .5 .1 .5 .3 .5-.2 .5 .2 .5 .6 .5-.2 .5 .3 .5 .7 .5-1.2 .5-.7 .5 1.4 .5 .9 .5-.7 .5-.5 .5-.7 .5 .5 .5 1.3 .5 .2 .5-.7 .5-.9 .5-.3 .5 0 .5 .4 .5 .6 .5-.5 .5 .3 .5 .6 .5 .2 .5-.2 .5 0 .5-.7 .5-.9 .5 .7 .5 .1 .5 .1 .5 .1 .5 0 .5 .5 .5-.3 .5-.1 .5-.1 .5 .1 .5 .3 .5 .2 .5-.3 .5-.7 .5-.2 .5 .3 .5 .2 .5-.7 .5 .1 .5 .1 .5 .2 .5 .3 .5 .7 .5 .2 .5-.4 .5-1.3 .5-.3 .5 .6 .5 1.2 .5-.2 .5-1.2 .5 .1 .5 0 .5-2 .5-.7 .5 .1 .5-.9 .5-.7 .5 1.3 .5 .8 .5 .1 .5-.1 .5 1.2 .5 1.4 .5 .3 .5 0 .5 0 .5 .7 .5-.2 .5 .2 .5-.3 .5-.2 .5 .5 .5-.9 .5-.2 .5 .3 .5-.7 .5-.4 .5 .7 .5 .2 .5 .2 .5 .8 .5 .7 .5-.6 .5 .4 .5-.6 .5-1.4 .5-1.6 .5 .8 .5 1.2 .5 .1 .5-.6 .5 .5 .5 .2 .5-.9 .5-.7 .5 .4 .5 .7 .5 .7 .5-.4 .5-.5 .5 .1 .5 .4 .5 .3 .5 .6 .5-.2 .5-1.2 .5-.7 .5-.1 .5 .1 .5 .2 .5-.1 .5-.3 .5-.7 .5-.1 .5 1 .5 1.1 .5-.6 .5-.6 .5-.5 .5-.1 .5 .3 .5-1.3 .5-1.2 .5-.6 .5 0 .5-1.1 .5-1.1 .5-1.2 .5-1.5 .5-1.1 .5-1.5 .5-.5 .5-2.5 .5 0 .5 2.4 .5 1.7 .5 1.5 .5 1.6 .5 1.2 .5 .9 .5 .7 .5 .3 .5 .1 .5 .4 .5 .6 .5-.2 .5 .6 .5 .4 .5-.5 .5-.1 .5-.4 .5 .1 .5 .1 .5-.1 .5 .4 .5 .3 .5-.9 .5-.4 .5 .1 .5-.3 .5 .5 .5 .6 .5-.3 .5 0 .5-.2 .5 0 .5-1 .5-2 .5-2.6 .5-.7 .5-.8 .5-2.4 .5-7.5 .5-12.1 .5-12.1 .1-1.9 .4 11.2 .5 13.9 .5 13.5 .5 .6 .5 .2 .5 1 .5 1 .5 .6 .5 1 .5-.1 .5-.6 .5-.1 .5 .7 .5 1.1 .5-.3 .5 .3 .5-.3 .5-.7 .5-.2 .5 .2 .5-.5 .5 .5 .5-.1 .5 .6 .5-.3 .5 .1 .5 .2 .5-.3 .5 0 .5 .2 .5 .2 .5 .1 .5-.4 .5-.2 .5 .1 .5 .2 .5-.2 .5 .1 .5-.4 .5-1 .5 .3 .5 .8 .5 .6 .5-.1 .5-1.3 .5 .8 .5 1 .5-.1 .5 .1 .5-.3 .5 .1 .5 .1 .5-1 .5-.5 .5 1.3 .5 .5 .5-.4 .5 .3 .5 0 .5-.5 .5 .3 .5-.1 .5-.7 .5 .5 .5 .4 .5-.2 .5 .5 .5 .1 .5 .4 .5 0 .5-1.3 .5-.2 .5 1 .5 .3 .5 .3 .5 .2 .5-.6 .5 0 .5-.3 .5-.3 .5 .6 .5 .2 .5 .4 .5-.3 .5-.1 .5-.7 .5-1.1 .5-.1 .5 .3 .5-.3 .5-1 .5-.4 .5-.4 .5-.3 .5 1.3 .5 1.4 .5 .4 .5 .8 .5 .2 .5 0 .5-.3 .5 .2 .5 .4 .5-.3 .5-.6 .5 .6 .5 .7 .5 .6 .5-.3 .5-.5 .5 .1 .5-.5 .5 0 .5 .7 .5 1 .5-.1 .5-.6 .5-.2 .5 .5 .5-.2 .5-.1 .5 .3 .5-.5 .5-.5 .5-.7 .5 .4 .5-.1 .5 .7 .5 .4 .5 .4 .5 .1 .5-1.5 .5 .3 .5 .4 .5 .5 .5 .1 .5-.3 .5-.5 .5-.2 .5 .1 .5 0 .5 .6 .5-.1 .5-.2 .5-.3 .5 .3 .5 0 .5 .4 .5 0 .5-.6 .5-.1 .5 .2 .5 0 .5-1 .5 .1 .5-.7 .5-1.2 .5-.6 .5-.9 .5-.9 .5-2.2 .5-1.1 .5-.6 .5 .4 .5 .6 .5 1.8 .5 1.8 .5 .6 .5 .5 .5 1.5 .5 .8 .5 0 .5 0 .5 .1 .5 .1 .5 .7 .5-.2 .5-.8 .5 .7 .5 .2 .5-.3 .5 .4 .5 .6 .5 .5 .5-.5 .5-.9 .5-.3 .5-.9 .5 .8 .5 .5 .5-.5 .5-.7 .5 .6 .5-.1 .5-1.3 .5-1.3 .5-.3 .5-1.3 .5-1.9 .5-1.1 .5-2.3 .5-6 .5-6.3 .5-7 .5-9 .5-19.6 .5-55.2 .5-51.6 .4-38.3 .1 12.4 .5 59.6 .5 62.1 .5 49.9 .5 3 .5 2.7 .5 3 .5 1.7 .5 2.4 .5 2.5 .5 1.3 .5 .3 .5-.2 .5-.9 .5 .7 .5 1.7 .5 .8 .5-1.1 .5-1.1 .5 .1 .5 1 .5-.1 .5-.9 .5 .5 .5 1 .5-.1 .5-1 .5 .1 .5 .3 .5-.9 .5-.4 .5 1 .5 1.2 .5 .1 .5-.6 .5-1 .5-.5 .5 .5 .5 1.1 .5 .4 .5-.6 .5-.1 .5-.8 .5 0 .5 1.1 .5-.2 .5-.3 .5-.1 .5 1.2 .5-.4 .5 .1 .5-.2 .5 .7 .5 1.1 .5-.3 .5-.1 .5 .4 .5 .3 .5-.3 .5-.8 .5 .8 .5-.4 .5-.4 .5 .7 .5 .2 .5 0 .5-.2 .5-1.1 .5-.6 .5 1 .5 1.1 .5 0 .5-.3 .5-.4 .5 .4 .5 .6 .5-.6 .5 0 .5 .8 .5 .4 .5 .1 .5 .4 .5-.6 .5-1.3 .5 .1 .5 1.5 .5 .1 .5 0 .5 .3 .5 .6 .5-.1 .5-.1 .5-.4 .5-.3 .5 .1 .5-.2 .5 .6 .5 .8 .5-.2 .5-.4 .5-.7 .5-.1 .5 .2 .5 .5 .5 .6 .5 .5 .5 .1 .5 .2 .5-1.1 .5 .4 .5 .8 .5 .1 .5-.9 .5-.1 .5 1.1 .5 .3 .5-.5 .5-.6 .5-.4 .5 .7 .5 .4 .5 .4 .5 .1 .5 .1 .5 .4 .5-.5 .5 0 .5-.5 .5-1 .5 0 .5 .9 .5 .7 .5 .5 .5 .4 .5-.5 .5-.3 .5 .1 .5-.5 .5 .2 .5 .3 .5 .4 .5-.1 .5 .5 .5 1.1 .5 .2 .5 .2 .5-.9 .5-.8 .5-.2 .5 0 .5-.5 .5 .5 .5 0 .5-.4 .5-.2 .5 .7 .5 .6 .5 .1 .5-.6 .5 .7 .5 .9 .5 .7 .5-.6 .5-.4 .5-.7 .5-.2 .5-.3 .5 .2 .5 .6 .5 .4 .5 .8 .5-.2 .5-.2 .5-.6 .5 0 .5 .7 .5 .3 .5 .4 .5-.7 .5 .1 .5 .9 .5-1.3 .5 .3 .5 .9 .5-.2 .5 0 .5 1 .5-.9 .5-.8 .5 1.1 .5 0 .5 .3 .5 .4 .5-.9 .5 0 .5 .7 .5 .3 .5-.4 .5 .9 .5-.3 .5-.5 .5 .6 .5 .9 .5 .5 .5 .2 .5-.2 .5-.5 .5-.3 .5-.6 .5 1.1 .5 .7 .5 .2 .5-.8 .5-.4 .5 .5 .5 .5 .5 .2 .5 .2 .5-.3 .5 .7 .5 .9 .5-.3 .5-1.3 .5-.9 .5 .8 .5 .4 .5-.2 .5-.2 .5-1.1 .5 .3 .5 .5 .5 .5 .5-.7 .5 .5 .5 .6 .5-.3 .5 .6 .5 .4 .5-.8 .5-.4 .5 .1 .5 0 .5 .2 .5 .6 .5 .7 .5 1.5 .5-.7 .5-.8 .5 .2 .5 .8 .5-.4 .5-.8 .5-.1 .5 1 .5-.3 .5 .1 .5 .5 .5-.1 .5 .1 .5-.3 .5-.2 .5 .5 .5 .4 .5-1.1 .5-.5 .5-.1 .5-.2 .5-.2 .5 .7 .5 1.1 .5-.2 .5-1.2 .5-.6 .5 .8 .5 .9 .5-.9 .5-.9 .5 1 .5 .5 .5 .1 .5-.4 .5-.4 .5 .5 .5-.1 .5-1.3 .5-1.1 .5 .1 .5 .4 .5 .4 .5-.7 .5-.4 .5 0 .5-.2 .5 .5 .5 .3 .5-.2 .5-.6 .5 .6 .5 .7 .5 1.4 .5-.1 .5-.4 .5-.1 .5-.8 .5 .1 .5 1 .5 .6 .5-.3 .5 .7 .5 .4 .5-1.2 .5-.4 .5 .3 .5 1.3 .5-.5 .5-.2 .5 .2 .5 .2 .5 .2 .5 .3 .5 .4 .5 .2 .5-1 .5 .2 .5-.2 .5 0 .5 1.2 .5 .2 .5-.5 .5 .8 .5-.5 .5-1 .5-.6 .5 1.2 .5 .4 .5 .4 .5 .4 .5-.2 .5 .1 .5-.5 .5 0 .5 .9 .5 .6 .5 .2 .5-.7 .5-.3 .5 .2 .5-.3 .5-.2 .5 .6 .5-.2 .5-.6 .5 .3 .5 .9 .5-.3 .5-1.3 .5 .1 .5 .9 .5 .1 .5-1.3 .5-1.9 .5-1.7 .5-2.5 .5-4.1 .5-4.3 .5-.9 0 1.6 .5 1.6 .5 3.8 .5 4 .5 2.6 .5 1.5 .5 1 .5 .2 .5 .6 .5 1 .5 .1 .5-.3 .5 1 .5-.6 .5-.4 .5 .9 .5 .5 .5-.2 .5-.2 .5 .5 .5 .2 .5-.4 .5-.1 .5 .5 .5 .6 .5-1.2 .5 .2 .5 .5 .5-.7 .5-.8 .5 .2 .5-.2 .5-.2 .5 .7 .5 .9 .5 0 .5 .5 .5-.4 .5-.6 .5 .2 .5-.4 .5 .8 .5-.2 .5-.2 .5-1.5 .5-.5 .5 .3 .5-.2 .5-.7 .5 .5 .5 .9 .5 .3 .5 1 .5 .3 .5-1.2 .5 .5 .5 1.3 .5-.6 .5-1.2 .5 .7 .5 .2 .5-1.2 .5 .8 .5 .6 .5-.6 .5-.1 .5 .5 .5-.4 .5 1 .5 .7 .5-.7 .5-.1 .5 1.3 .5 0 .5-.2 .5-.6 .5 .4 .5 .2 .5-1 .5-.7 .5 .3 .5 1.3 .5 .1 .5-.4 .5 .2 .5 .7 .5 .3 .5-1.1 .5 .2 .5 .3 .5 .8 .5-.6 .5-.9 .5 .2 .5-.5 .5-.2 .5 .4 .5-.2 .5-.9 .5 .2 .5 .7 .5-.5 .5-1.6 .5-1.6 .5-1.6 .5-3.1 .5-3.5 .4-.9 .1 .2 .5 2.8 .5 3 .5 2.4 .5 1.4 .5 1.1 .5 .4 .5 .2 .5 .4 .5 .8 .5-.2 .5 1.1 .5-.3 .5-.6 .5 .8 .5-.4 .5-.7 .5 .3 .5-.1"/>
<path stroke="#2e2e2e" d="M47,437.9l.5 .1 .5-.5 .5-.5 .5-.1 .5 .1 .5 .7 .5 .6 .5-.9 .5-.1 .5 .6 .5-.1 .5-.4 .5-.3 .5 .5 .5 .3 .5-1 .5-.1 .5-.7 .5-.2 .5 0 .5 .5 .5 .2 .5 .6 .5 .3 .5-1 .5-.8 .5 .7 .5 .6 .5 0 .5-.9 .5 .1 .5 0 .5 .4 .5 .7 .5-.5 .5 .2 .5 .4 .5-.3 .5-.1 .5 .2 .5-.2 .5-.4 .5 1 .5 .3 .5-.8 .5 .6 .5-.1 .5 0 .5 .8 .5-.6 .5-1.1 .5 .6 .5 .4 .5-.4 .5 .1 .5-.3 .5 .3 .5 .2 .5-1.1 .5-.1 .5-.1 .5-.3 .5-.7 .5 0 .5 .6 .5 .8 .5 .1 .5-1.4 .5 .1 .5 .5 .5-.7 .5 .3 .5 1.2 .5 .8 .5-.2 .5-.9 .5-.2 .5 .3 .5 .6 .5-.7 .5-.3 .5 .4 .5-.2 .5-.5 .5-.2 .5 .3 .5 .4 .5 .7 .5-.1 .5-.5 .5 .1 .5-.1 .5 .4 .5-.3 .5-.1 .5-.8 .5 .3 .5-.7 .5-.3 .5 .9 .5 .3 .5 1 .5 .6 .5-1.6 .5 .1 .5 .4 .5 .4 .5-.5 .5 .1 .5 .5 .5-.2 .5-.6 .5 .1 .5 0 .5-.3 .5-.1 .5 0 .5 .3 .5 0 .5-.6 .5-.3 .5-.4 .5-.8 .5 .5 .5 .3 .5-.4 .5 .5 .5-.8 .5 0 .5-.9 .5-.6 .5-1.5 .5-1.6 .5 1 .5 .7 .5 .2 .5 .8 .5 1 .5 1.2 .5 1.4 .5 .2 .5 .1 .5-.1 .5 .1 .5 .4 .5 1.2 .5 .3 .5 .3 .5-.5 .5-.8 .5 0 .5 .1 .5 .2 .5-.1 .5-.3 .5-.4 .5 .6 .5 1 .5-.9 .5-.3 .5 1.3 .5 .5 .5-1 .5 .2 .5-.2 .5-.1 .5 1 .5 .1 .5 0 .5 .1 .5 .2 .5-.3 .5-.2 .5-.4 .5 .1 .5 1.1 .5-.3 .5 .1 .5 .3 .5-.5 .5 .2 .5 .5 .5-.1 .5-.2 .5 .3 .5 .9 .5-.1 .5-.4 .5-.8 .5-.3 .5 1.2 .5 .1 .5-.4 .5 .3 .5 .5 .5 .2 .5-.3 .5-.2 .5 .2 .5-.5 .5 .8 .5 .5 .5 .5 .5 .6 .5-.7 .5-1.7 .5-.4 .5 1 .5-.2 .5 .4 .5 .1 .5-1.5 .5-.4 .5 1.4 .5 .4 .5 .1 .5 .1 .5-.3 .5-.2 .5 .6 .5-.1 .5-.1 .5 1.1 .5 .5 .5-.2 .5-.5 .5-.2 .5-.2 .5 .2 .5 .4 .5-.1 .5 .2 .5 .8 .5 .1 .5-1.1 .5 .2 .5 .1 .5-.4 .5-.4 .5 .5 .5 .8 .5 0 .5 0 .5 0 .5 .6 .5-.6 .5-1.1 .5 0 .5-.7 .5-.4 .5 1.9 .5 1.3 .5-.5 .5-.8 .5 .5 .5 .9 .5-.3 .5-.1 .5 0 .5 .2 .5 .5 .5-.2 .5-.3 .5-.5 .5 .1 .5 .1 .5 .2 .5-.7 .5 .4 .5-.1 .5 0 .5 1.4 .5 .3 .5-.8 .5 .3 .5-.4 .5-1.1 .5 1.1 .5 .7 .5-.3 .5-.3 .5 .3 .5 .4 .5 .8 .5-.3 .5-.1 .5 .4 .5-.7 .5-.7 .5 0 .5 1.4 .5 .5 .5-.3 .5-.3 .5-.4 .5-.2 .5 0 .5 .2 .5 .5 .5 .7 .5-.2 .5-.5 .5-.4 .5 .6 .5 1.2 .5-.3 .5-.5 .5-.5 .5-.5 .5 .6 .5 .5 .5-.6 .5-.4 .5 .2 .5-.2 .5-.6 .5 .3 .5 .5 .5 .4 .5-.1 .5 .8 .5 .5 .5-.9 .5-.1 .5 .4 .5-.1 .5-.3 .5 1.2 .5 .6 .5-.9 .5-.7 .5-.3 .5 .3 .5-.6 .5 .3 .5 .9 .5-.2 .5 .8 .5 .3 .5-.3 .5 .5 .5 .5 .5-.9 .5-.8 .5-.1 .5 1 .5 1.2 .5-.4 .5-1.2 .5-.1 .5 .4 .5 .3 .5 0 .5 .1 .5 .1 .5 0 .5 .1 .5 0 .5 .1 .5 .7 .5 .6 .5-.4 .5-.8 .5-.5 .5 .5 .5-.7 .5 .3 .5 1.3 .5 .3 .5-.8 .5-.7 .5 .2 .5 .5 .5 .9 .5 .8 .5-1.1 .5-1.1 .5-.2 .5 .6 .5 0 .5-.2 .5 .3 .5 .3 .5 .9 .5 .5 .5-.2 .5-.5 .5 0 .5 0 .5-.1 .5-.1 .5-.5 .5 .1 .5 1 .5 0 .5 .3 .5-.1 .5-1.2 .5 .3 .5 .5 .5 .2 .5-.1 .5 .3 .5-.3 .5-.9 .5 .3 .5 1 .5-.3 .5-.6 .5 1.2 .5 .6 .5-.2 .5-.8 .5-.4 .5 .3 .5 1.5 .5-.3 .5 0 .5-.7 .5-.4 .5-.6 .5 .8 .5 .7 .5-.3 .5 .8 .5-.1 .5-.8 .5 .1 .5 .3 .5 .1 .5-.4 .5-.1 .5-.1 .5-.3 .5-.1 .5 .8 .5 .1 .5-1 .5 .2 .5-.1 .5 .1 .5 .5 .5 .1 .5 .4 .5-.6 .5-.2 .5-.2 .5 0 .5 .5 .5-.1 .5 0 .5-.3 .5-.6 .5 0 .5 .2 .5-.5 .5-.9 .5-.7 .5-.6 .5 .4 .5-.1 .5 .3 .5 1.5 .5 1.1 .5-.8 .5 0 .5 .3 .5 .1 .5 .6 .5-.3 .5 .5 .5 .4 .5-.3 .5 .1 .5-.5 .5-.5 .5 .4 .5 1.7 .5-.1 .5-.3 .5 0 .5 0 .5 .4 .5 .4 .5-1.5 .5-1 .5 .1 .5 .5 .5 1.2 .5 .1 .5-1.2 .5-.3 .5 .9 .5 .3 .5-1.1 .5 .6 .5 .3 .5 .5 .5-.7 .5-.6 .5-.3 .5 .6 .5 1.3 .5-.3 .5-1.1 .5-1 .5-.4 .5 .8 .5 .2 .5 .2 .5-.2 .5-.6 .5 .4 .5 .5 .5 .8 .5 .4 .5-1.3 .5-.7 .5 0 .5 0 .5-.3 .5 .1 .5-.3 .5 .3 .5-.4 .5-.5 .5-1.1 .5-1.2 .5-1.3 .5-1.1 .5-1.6 .5-1.6 .5-2.1 .5-1.9 .5-.2 .5 .5 .5 1.6 .5 1.5 .5 1.3 .5 2.5 .5 1.5 .5 .9 .5 .5 .5 .3 .5 .3 .5 .5 .5 .3 .5 .1 .5 0 .5 .6 .5 .3 .5-.2 .5-.1 .5 .2 .5-.5 .5 .7 .5 .5 .5 .1 .5 .1 .5-.6 .5 .2 .5 .7 .5 .1 .5-.4 .5-.6 .5 1 .5 .8 .5-.3 .5-1.1 .5-1.1 .5 .2 .5-1.4 .5-2.1 .5-.9 .5-2.2 .5-2.1 .5-6.8 .5-11.6 .5-12.1 .1-1.8 .4 12.2 .5 14 .5 12.5 .5 0 .5 .5 .5 .9 .5 1.4 .5 .5 .5 .3 .5 .3 .5-.5 .5 .2 .5 .8 .5 .3 .5 .1 .5-.6 .5-.4 .5-.4 .5-.6 .5-.1 .5 .9 .5-.1 .5-.2 .5-.7 .5 .3 .5 .3 .5-.6 .5-.3 .5 1.3 .5 .9 .5-.2 .5-.6 .5 .5 .5-.3 .5-1.3 .5 .8 .5 .9 .5 .5 .5 .4 .5-.3 .5-.6 .5-.1 .5-.1 .5-.4 .5 .3 .5 .9 .5 .4 .5-.8 .5-.3 .5 .5 .5 .4 .5-.1 .5 .1 .5-.8 .5-.1 .5 .2 .5 .7 .5-.3 .5-1.3 .5 0 .5 .6 .5-.4 .5-.1 .5 1 .5 .2 .5-.6 .5-.2 .5 .3 .5 0 .5-.2 .5-.9 .5-.2 .5 .4 .5 0 .5 .4 .5-.2 .5-.4 .5 .2 .5 .2 .5 .2 .5-.6 .5 .3 .5 1.2 .5 .9 .5-.5 .5-1 .5-.2 .5 .5 .5-.9 .5-.5 .5 .5 .5 .4 .5-1 .5-.8 .5 .5 .5 1 .5-.3 .5 .2 .5 .3 .5 0 .5-.4 .5-.1 .5-.8 .5-.1 .5 .3 .5 .6 .5-.4 .5-.5 .5 .2 .5 .4 .5 .1 .5-1 .5 .1 .5 1.3 .5 1.5 .5-.6 .5-.7 .5 .6 .5 .5 .5-1 .5-.3 .5 .7 .5-.1 .5-.4 .5-.2 .5 1.4 .5 .2 .5-1 .5-.9 .5-1.1 .5 .5 .5 .2 .5 .2 .5 .2 .5-.9 .5-.6 .5 .4 .5-.2 .5 .1 .5-.1 .5-.5 .5-.2 .5 1.3 .5 .4 .5 .5 .5 .2 .5-1.4 .5-1.5 .5 .1 .5 .2 .5 .5 .5-.3 .5-.9 .5 .3 .5-.6 .5-.3 .5-.8 .5-1.6 .5-1.4 .5-1.4 .5-.7 .5 .5 .5 2.7 .5 3 .5 1.4 .5 .1 .5-.2 .5-.3 .5 .7 .5-.1 .5-.3 .5 0 .5 .4 .5-.2 .5-.3 .5-.3 .5 .8 .5 1.1 .5-.8 .5-.4 .5 .3 .5-.1 .5-.8 .5 .2 .5 .6 .5-.2 .5 .1 .5 .2 .5-.7 .5-.5 .5 .1 .5-.1 .5-1.6 .5-.3 .5 .4 .5 .3 .5 0 .5-1 .5-1.8 .5-.9 .5-1.8 .5-3 .5-3.5 .5-6.3 .5-7.7 .5-8.1 .5-9.2 .5-36.2 .5-53 .5-49.8 .2-17.7 .3 35 .5 59.5 .5 61.9 .5 25.7 .5 3.8 .5 4 .5 2.4 .5 1.5 .5 2.7 .5 1.1 .5 .6 .5 .4 .5 .6 .5 .1 .5 .1 .5 0 .5-.1 .5-.3 .5-.8 .5 .2 .5 .5 .5 0 .5 0 .5 1 .5-.3 .5-1.1 .5-.2 .5 .8 .5 .1 .5 0 .5 .1 .5 .1 .5 .2 .5-.3 .5 .2 .5 1.1 .5 .4 .5-1.5 .5-.5 .5 .4 .5 .3 .5-.4 .5-.2 .5 .2 .5-.4 .5 0 .5 .1 .5-.7 .5 0 .5 .9 .5 .3 .5-.3 .5-.5 .5 .8 .5 1 .5 0 .5-.6 .5-.2 .5 .5 .5-.3 .5-.4 .5 .6 .5 1.1 .5-.1 .5 .1 .5-.5 .5 .1 .5-.5 .5 .5 .5 1.2 .5-.7 .5-1 .5 .2 .5 .6 .5 .1 .5-.9 .5-.6 .5 .8 .5 .6 .5 .6 .5 .2 .5 .1 .5-.4 .5-.6 .5 .9 .5 .7 .5-.7 .5-.7 .5 .2 .5 .2 .5-1 .5 .2 .5 .5 .5 .1 .5-.5 .5 .1 .5 .1 .5 .1 .5-.2 .5-.5 .5 .8 .5 .2 .5-.7 .5 .5 .5 .4 .5-.4 .5 .1 .5 0 .5 1.2 .5 1.2 .5-.3 .5-1 .5-.1 .5-.1 .5 .2 .5 .2 .5-.8 .5 .6 .5 .5 .5 .4 .5-.6 .5-.6 .5 .4 .5 .5 .5 .1 .5-.3 .5-.6 .5-.4 .5 1.4 .5 .4 .5-.3 .5 .2 .5 .5 .5-.6 .5-.4 .5 .5 .5 .4 .5-.6 .5 .6 .5-.4 .5 0 .5 1.1 .5-.5 .5-.8 .5 1 .5 1.1 .5 .2 .5-.6 .5 .2 .5 0 .5-.5 .5 .3 .5-.1 .5-.2 .5-.1 .5 .2 .5 0 .5-.4 .5 .4 .5 1 .5 0 .5 .3 .5 .1 .5 .4 .5 .4 .5-.8 .5 0 .5 .3 .5 1.2 .5-.4 .5-1.8 .5 .4 .5 1.3 .5 .7 .5-.1 .5-.4 .5 .2 .5 .3 .5 0 .5-.3 .5-.8 .5 .5 .5 0 .5 .5 .5-.4 .5-.2 .5 .4 .5-.2 .5-.3 .5 .1 .5 1 .5 .9 .5 .2 .5-.2 .5 .4 .5-.1 .5-.3 .5 .5 .5 .1 .5-.6 .5-.1 .5 .2 .5 .1 .5 .1 .5 .7 .5-.2 .5 .1 .5 0 .5 .5 .5 .1 .5 .1 .5 .9 .5 0 .5 .3 .5-.5 .5-.8 .5 .1 .5 .3 .5 .1 .5-.1 .5-.4 .5-.4 .5 .2 .5-.1 .5 .9 .5 0 .5-.2 .5 .4 .5 .2 .5-.9 .5-.5 .5 .2 .5-.5 .5 1.1 .5 1 .5-.5 .5 .1 .5-.2 .5 .4 .5 .1 .5 .2 .5 .7 .5 .5 .5-.3 .5-.5 .5-.1 .5 .5 .5 .1 .5 .3 .5 .2 .5 .1 .5-1.3 .5 .5 .5 .9 .5-.5 .5-.4 .5 0 .5-.2 .5 1.3 .5 1.5 .5-.7 .5-1.5 .5-.1 .5 .6 .5 .7 .5-.7 .5-.2 .5 .9 .5 .1 .5-1 .5-.9 .5-.4 .5-.1 .5-.2 .5 .8 .5 .1 .5 .6 .5 1.2 .5-.6 .5-1.3 .5 .5 .5-.3 .5-1.2 .5-.4 .5 0 .5 .1 .5 .5 .5-1.3 .5 0 .5 1 .5 .4 .5 .6 .5 .4 .5 .5 .5 .3 .5-.9 .5 .3 .5 .5 .5 .4 .5 .1 .5-.6 .5 .5 .5 .9 .5 .1 .5-.1 .5 1.4 .5-.1 .5-1.6 .5 .8 .5 1.4 .5-.5 .5-.8 .5-.5 .5 0 .5 0 .5 .3 .5 .6 .5-.4 .5-.3 .5-.2 .5 .4 .5-.1 .5 .8 .5 .9 .5 0 .5 .1 .5 0 .5-.2 .5 0 .5 .4 .5 .3 .5-.1 .5 .8 .5-.4 .5-.5 .5 0 .5 .2 .5 .3 .5 .5 .5 .4 .5-.9 .5-.9 .5 .1 .5 .2 .5 1 .5 1.1 .5-.5 .5-1.1 .5 .4 .5 1 .5-.4 .5-.3 .5 .6 .5 .8 .5-.7 .5-.9 .5-.5 .5-.8 .5-1.8 .5-2.1 .5-2.3 .5-3.2 .5-1.2 .5 2.5 .5 3.8 .5 1.6 .5 1.5 .5 1.4 .5 1 .5 .4 .5-.8 .5-.6 .5-.4 .5 .6 .5 1 .5-.1 .5-.5 .5 .4 .5 .8 .5 .2 .5-.2 .5-.2 .5-.6 .5 .8 .5 1 .5-1.2 .5 .2 .5 .6 .5-.4 .5-.4 .5 .4 .5 .2 .5-.5 .5-.6 .5 .3 .5 .1 .5 .2 .5 .7 .5 .5 .5 .1 .5-.3 .5 .6 .5 .4 .5 .1 .5-.4 .5-.8 .5-.3 .5-.2 .5-1.1 .5 0 .5-.1 .5-.1 .5-.1 .5 1 .5 1.3 .5 1.3 .5 .3 .5-.6 .5-.2 .5 0 .5 .4 .5 .1 .5 .5 .5 .7 .5-1.1 .5-1.1 .5-.1 .5-.1 .5 .9 .5 1.1 .5-.6 .5-.6 .5 1 .5 .6 .5-1.2 .5-.5 .5 .6 .5 .3 .5 .6 .5 .3 .5 .4 .5 .2 .5 0 .5-.8 .5-1 .5 .5 .5 .5 .5-.2 .5 .2 .5-.5 .5-.1 .5 .8 .5 0 .5-.5 .5 .1 .5 0 .5-1.1 .5-1.5 .5 .5 .5 .3 .5-.2 .5 .6 .5 .1 .5-1.5 .5-1 .5-.2 .5-3.1 .5-3.2 .5-.8 0 .1 .5 .8 .5 2.8 .5 1.8 .5 1.3 .5 1.7 .5 1 .5-.3 .5 .4 .5 .7 .5 1 .5-.8 .5 .1 .5-.4 .5-.2 .5 .8 .5 .3 .5 0 .5-.6 .5-.8 .5 0"/>
<path stroke="#050505" d="M47,398l.5-.2 .5 .4 .5 0 .5-.5 .5 .6 .5 .5 .5 1.2 .5 .9 .5 .1 .5-.5 .5-.4 .5 .7 .5 0 .5-.8 .5 .3 .5 .4 .5 .2 .5-.8 .5 0 .5 .7 .5-.2 .5-.6 .5 .7 .5 .5 .5-.3 .5 .2 .5 0 .5-.3 .5 1.1 .5-1 .5-.7 .5 1.7 .5 1 .5 0 .5 .8 .5 .1 .5-1.9 .5-1.3 .5 1.2 .5 1.3 .5-.7 .5-.9 .5 .3 .5 .9 .5 .4 .5 .7 .5 0 .5-1.2 .5-.3 .5-.4 .5 .3 .5-.6 .5 .7 .5 1.4 .5-.5 .5 .4 .5 .8 .5-.8 .5-.8 .5-.4 .5 .3 .5 .5 .5 .1 .5 .3 .5-.9 .5-.4 .5-.2 .5 .5 .5 .1 .5 0 .5-1 .5 0 .5 .1 .5-1.9 .5-1.7 .5-2.3 .5-5.4 .5-8.3 .5-8 .5-2.1 .5 3.8 .5 7.4 .5 6.4 .5 5.5 .5 2.7 .5 1 .5 .7 .5 .9 .5 .5 .5 0 .5-.1 .5 .9 .5 .6 .5 0 .5 .9 .5 .3 .5-.5 .5-.4 .5 .3 .5 .2 .5-.7 .5 .1 .5 .3 .5 .1 .5-.4 .5 0 .5 1.4 .5-.6 .5-1.3 .5 0 .5 1 .5 .1 .5-.7 .5 .2 .5-.5 .5 .4 .5 1.5 .5 .6 .5-1.2 .5-.2 .5 .5 .5-.8 .5 .2 .5 .6 .5 .2 .5-.6 .5-.5 .5-.1 .5-.7 .5 .1 .5-.9 .5-1.1 .5-.6 .5-.8 .5-1.3 .5-1.3 .5-.2 .5 .5 .5 .2 .5 1.3 .5 2.2 .5 .8 .5-.5 .5 1 .5 1.2 .5-.1 .5-.1 .5 .4 .5 .9 .5 .7 .5 0 .5 0 .5-1.6 .5-.4 .5-.3 .5-2.3 .5-1.2 .5-1.4 .5 .8 .5 2.2 .5 .3 .5 1.1 .5 2.4 .5-.1 .5 .2 .5 .5 .5 0 .5 1.4 .5 .7 .5-.2 .5-.5 .5 .2 .5-.4 .5-1.7 .5 1 .5 .3 .5-.7 .5 .8 .5 .1 .5-.1 .5 0 .5 0 .5-1.1 .5-1.9 .5-1.7 .5-2.5 .5-4 .5-4.4 .4-.4 .1 .5 .5 3.6 .5 4.7 .5 3.1 .5 1.1 .5 1 .5 1.3 .5 .8 .5 .4 .5 1.3 .5 .2 .5-.5 .5 0 .5-.7 .5-.8 .5 .2 .5 .3 .5 0 .5 1.8 .5 .7 .5-1.2 .5 .4 .5 1.2 .5-.4 .5-.4 .5 .3 .5 .4 .5-.2 .5-1.4 .5-1.5 .5 .4 .5 1.9 .5 1 .5 .7 .5-.2 .5-.8 .5 .9 .5 .6 .5-.9 .5 .5 .5 1.2 .5-1.3 .5 .3 .5 1.3 .5 0 .5-1.1 .5 0 .5 1.2 .5 1 .5-.3 .5-.2 .5 .1 .5-.7 .5-.2 .5 .7 .5-1 .5-.2 .5 .6 .5 .7 .5-.7 .5-.4 .5-.1 .5 1 .5 .5 .5-.3 .5-.5 .5-.2 .5-.3 .5 .3 .5 .6 .5 .5 .5-.9 .5-.5 .5-.5 .5-.2 .5-.1 .5 .1 .5 .2 .5-.7 .5-.3 .5-1.4 .5-1.6 .5-2.8 .5-2.9 .5-1 0 .8 .5 2 .5 3.3 .5 2 .5 2.3 .5 1.6 .5-.7 .5 .5 .5 1.5 .5 .9 .5-.4 .5 .4 .5 .6 .5-.9 .5 .1 .5 .8 .5-1.1 .5-.3 .5 .7 .5 0 .5 .8 .5-.5 .5-.9 .5 .7 .5 .3 .5 0 .5 .2 .5-1.1 .5 0 .5 .8 .5 .8 .5-.6 .5 0 .5-.3 .5-.1 .5 .3 .5 .2 .5 .6 .5 .5 .5-.7 .5-.3 .5-.1 .5-.2 .5-.4 .5 .6 .5 .6 .5 .7 .5 1.4 .5-1.2 .5-.9 .5-.4 .5 .4 .5 .2 .5 .4 .5 .8 .5-.6 .5-.7 .5 .5 .5 .1 .5 .7 .5 1.2 .5 0 .5 0 .5-.3 .5-.7 .5-.8 .5 .4 .5 .7 .5 .9 .5 .3 .5-.5 .5-.1 .5 1.3 .5 0 .5-1.1 .5 .1 .5 .4 .5-.3 .5 .1 .5 .3 .5 0 .5-.3 .5-1.2 .5 .7 .5 1.3 .5-.7 .5 .4 .5 .2 .5-.4 .5-.5 .5 .7 .5-.1 .5-.9 .5-.5 .5 .4 .5 0 .5 .1 .5 .9 .5 .7 .5 .2 .5-.1 .5 0 .5 .7 .5 .5 .5 .6 .5-1.1 .5-.8 .5 1.3 .5 1 .5-1.1 .5-1 .5 .3 .5 .8 .5-.4 .5-.4 .5 0 .5-.5 .5 0 .5-.1 .5 .6 .5 .9 .5 .2 .5-.5 .5 .3 .5-1.2 .5-.9 .5 .8 .5-.2 .5-1.2 .5-1.9 .5 .1 .5-.5 .5-.8 .5-.3 .5 .3 .5 2.2 .5 1.2 .5-.1 .5-1.1 .5 1.1 .5 2.6 .5 .8 .5 0 .5-.5 .5 .2 .5 .4 .5 0 .5 .3 .5-.9 .5 .1 .5 .2 .5 .7 .5 .2 .5-.9 .5 .5 .5 .6 .5 .1 .5-.8 .5-.2 .5 .8 .5 .6 .5-.1 .5-.9 .5-.5 .5-.9 .5 .2 .5 .3 .5 0 .5 .3 .5 .6 .5 .8 .5 .5 .5-1.5 .5 0 .5 .9 .5-.3 .5-.5 .5 .7 .5-.7 .5-.8 .5-.2 .5-.1 .5 .2 .5 .3 .5 1 .5-1.2 .5-1.4 .5-.5 .5 .5 .5 1.2 .5 0 .5-.4 .5 .5 .5 .5 .5 1.6 .5 .6 .5-.2 .5-.2 .5-.3 .5 .6 .5 .4 .5-.2 .5 .4 .5-.1 .5 0 .5 .3 .5 .1 .5-.5 .5 0 .5-.6 .5-.3 .5 .4 .5 1.1 .5 0 .5 .3 .5-.6 .5-.1 .5 .1 .5 .5 .5-.3 .5 .3 .5-.4 .5-.1 .5 0 .5-.9 .5 .3 .5 1.2 .5-.4 .5 .2 .5-1 .5-.5 .5 .7 .5 .9 .5-.3 .5-.1 .5 .3 .5-.3 .5 .5 .5-.4 .5-.6 .5 1.1 .5 .1 .5-.7 .5-.3 .5-.3 .5-.2 .5 .6 .5-.5 .5 .2 .5-.5 .5-.3 .5 .6 .5 .5 .5 .2 .5-1 .5-.8 .5-.7 .5-.8 .5 .2 .5-1 .5-2.3 .5-2.6 .5-1.2 .5-1.5 .5-1.4 .5 .1 .5 2.5 .5 2.1 .5 1.4 .5 1.6 .5 2.2 .5 .9 .5-.8 .5-.9 .5 1.6 .5 1 .5 .1 .5-.5 .5 0 .5 .6 .5 .2 .5 .1 .5 .3 .5-.5 .5-.7 .5 .8 .5-.1 .5 0 .5-.1 .5-.9 .5-.4 .5-.9 .5 .3 .5 .3 .5-.3 .5 .1 .5 .4 .5-.7 .5-.6 .5 .3 .5-1 .5-1.8 .5-2.3 .5-2.5 .5-8.6 .5-13.9 .5-12.1 .1-1.7 .4 12.7 .5 14.4 .5 15.2 .5 1.3 .5 .8 .5 .6 .5 1 .5 .3 .5-.6 .5 .9 .5 0 .5-.8 .5-1 .5 .2 .5 .6 .5-.3 .5 0 .5 .4 .5 .2 .5-.3 .5-.5 .5 0 .5-.3 .5-.3 .5 .4 .5-.2 .5-1.5 .5-2.7 .5-2.1 .5-.9 .5 1 .5 1.3 .5 2.1 .5 .3 .5 1.8 .5 1.6 .5 .7 .5 1.1 .5 .9 .5-.7 .5 0 .5-.8 .5-.7 .5 .5 .5 1 .5-.3 .5-.7 .5 .6 .5 .7 .5 .2 .5-.1 .5-1.2 .5-.2 .5 .4 .5 1 .5 .8 .5-.6 .5 0 .5 .3 .5-.3 .5 .2 .5 .3 .5 .7 .5-.3 .5-1.4 .5 .3 .5 .7 .5-.6 .5 .4 .5-.6 .5-.2 .5 1.5 .5-.5 .5-1.1 .5-.1 .5-.2 .5-.1 .5 .9 .5 .4 .5-.9 .5-.1 .5-.4 .5-.3 .5-.5 .5-.3 .5 .8 .5 1.1 .5-.2 .5-.9 .5-.4 .5 .5 .5 1.4 .5-1.4 .5-1.2 .5-.4 .5 .3 .5 .6 .5-.6 .5-.8 .5 1.7 .5 0 .5 0 .5 .2 .5-1.9 .5-.3 .5 1 .5 0 .5-.1 .5 .2 .5-.5 .5-1.9 .5-2.9 .5-3 .5-3 .5-4.2 .4-.7 .1 .3 .5 2.8 .5 4.4 .5 2.7 .5 1.7 .5 1.6 .5 .9 .5 .7 .5 .8 .5 1.2 .5-1.6 .5-1.2 .5 .9 .5 1.7 .5 1.4 .5-.7 .5-1.3 .5-.5 .5-1 .5 0 .5 1.3 .5 0 .5-.9 .5-.1 .5 .6 .5 .2 .5-1.2 .5-.5 .5 .9 .5-.4 .5-.9 .5 .9 .5 .7 .5 .2 .5-.5 .5-.4 .5-.5 .5 .2 .5-.6 .5 .6 .5-.7 .5-1.6 .5 0 .5-.4 .5-3.1 .5-2.5 .5-.3 .5 .7 .5 1.2 .5 1.3 .5 1.4 .5 1.6 .5 1.3 .5 .4 .5 0 .5-.5 .5 .8 .5 1 .5 .8 .5-.1 .5-.1 .5 .2 .5 .2 .5 .7 .5-1.7 .5 0 .5 1 .5-.7 .5-.6 .5-.3 .5-.8 .5-.3 .5 .2 .5 .5 .5-.8 .5-.8 .5-1.8 .5-1.9 .5-1.5 .5 0 .5 0 .5 1.7 .5 .9 .5-.4 .5-1.3 .5-1.3 .5-2.3 .5-1.9 .5-3.2 .5-5.8 .5-7.3 .5-8.2 .5-10.2 .5-40.4 .5-58.7 .5-55.7 .2-20 .3 38 .5 65.4 .5 68.6 .5 28.9 .5 3.1 .5 3.4 .5 2.1 .5 2.8 .5 2.1 .5 .5 .5-.1 .5 .9 .5 .2 .5-.1 .5-.6 .5-2.6 .5-1.6 .5-1.7 .5-3.4 .5-1 .5 1.8 .5 1.3 .5 2.2 .5 2 .5 .9 .5 1.2 .5 .6 .5-.3 .5-.2 .5 1.9 .5 1 .5-.2 .5-.2 .5 .7 .5 .9 .5-.3 .5-.9 .5 .2 .5 .3 .5 .3 .5-.1 .5 .6 .5-1 .5-.2 .5 1.3 .5 .6 .5-1.2 .5 .7 .5 1.5 .5 .4 .5-1.5 .5 .2 .5-.6 .5 .4 .5 .7 .5-.6 .5-.9 .5 .1 .5 .3 .5 0 .5-.5 .5 0 .5 .4 .5 .3 .5 .3 .5 .2 .5 .6 .5-.5 .5-.7 .5-.4 .5 .1 .5 .1 .5 .4 .5 .4 .5-.8 .5-.8 .5 0 .5 .4 .5 0 .5-.7 .5-.5 .5 .9 .5 .9 .5-.1 .5-.6 .5 .5 .5 0 .5-.5 .5 .2 .5 .3 .5 .6 .5-.2 .5 .8 .5 .1 .5-.7 .5 .1 .5 .2 .5-.7 .5 .1 .5 .3 .5 .5 .5-1 .5-.9 .5-.9 .5 1 .5 .5 .5 0 .5-1 .5 .5 .5 .8 .5-.7 .5 0 .5 .4 .5-.6 .5-.3 .5 0 .5-1.5 .5-1.4 .5-2.3 .5-3 .5-1.9 .5-1.8 .5-1.5 .5 .7 .5 2.9 .5 3.3 .5 2.6 .5 1.5 .5 2.2 .5 1.4 .5 .6 .5 0 .5 .4 .5-.4 .5 .6 .5-.2 .5-.2 .5 1.1 .5 1.3 .5 0 .5-.7 .5-.2 .5 .5 .5-.6 .5-.2 .5-.3 .5 .7 .5 .4 .5 0 .5 .3 .5-.4 .5-.1 .5-.2 .5-1.3 .5-1.5 .5 .7 .5 .9 .5-.1 .5 .6 .5 .2 .5 1.4 .5 .8 .5-.2 .5-.2 .5-.2 .5-.7 .5 .3 .5 .8 .5-.1 .5 .2 .5 .6 .5 .5 .5-.6 .5-.2 .5 .1 .5 0 .5 .5 .5-.6 .5 .7 .5 1.5 .5-.9 .5-1.4 .5 1.1 .5 1.6 .5 0 .5 0 .5-1.3 .5-.9 .5 1.4 .5 .8 .5 0 .5-.4 .5 .1 .5 .4 .5 .5 .5 1.3 .5 .7 .5-.2 .5 .2 .5-.4 .5-.3 .5 0 .5 1.2 .5 0 .5 .6 .5 .6 .5-.5 .5-.8 .5-.4 .5 .8 .5 .3 .5 0 .5-.7 .5-1.4 .5 0 .5 1 .5-.4 .5-1.4 .5-.6 .5 .4 .5 .5 .5 .5 .5 .5 .5 .5 .5-.2 .5 .5 .5 .7 .5-.3 .5-.3 .5 0 .5-.3 .5-.2 .5 .4 .5 .7 .5 .4 .5-.4 .5-.2 .5 .7 .5 0 .5-.8 .5 1.3 .5 .3 .5-.6 .5-.1 .5 .1 .5 0 .5 .3 .5-.1 .5 .1 .5 0 .5-.4 .5 .1 .5 .1 .5 .4 .5 .3 .5 .3 .5 .1 .5-.2 .5-.1 .5-.2 .5 1.1 .5 .4 .5-.3 .5-.6 .5 1 .5-.4 .5-.1 .5-.3 .5-.6 .5-1 .5-.6 .5 .9 .5-.3 .5-2.1 .5-1.1 .5-1.6 .5-2.4 .5-1.3 .5 .1 .5 1 .5 1.7 .5 1.8 .5 1.4 .5 1.5 .5 1.6 .5 .5 .5-.5 .5 .5 .5-.3 .5 .1 .5 1.1 .5 .2 .5 .1 .5-1.2 .5 .5 .5 1.2 .5 .2 .5-.2 .5 .2 .5 .9 .5-.8 .5-.4 .5-.6 .5 .3 .5 1.3 .5-.3 .5-1.5 .5 .4 .5 1.2 .5 0 .5-.3 .5-1 .5 .6 .5 .5 .5-.2 .5-.2 .5 .9 .5 .7 .5-.9 .5 .1 .5 .5 .5 .5 .5 1.6 .5-.1 .5-1.2 .5-.2 .5-.2 .5 .3 .5 .4 .5 .9 .5-.5 .5-1.7 .5-.5 .5 .9 .5 1.6 .5-1.1 .5-.9 .5 .7 .5 .5 .5 .4 .5 .2 .5 .8 .5-.2 .5 .1 .5 .6 .5-.3 .5 0 .5 .2 .5-.6 .5 .1 .5 .5 .5-.6 .5 0 .5 .7 .5 .1 .5-.7 .5-.9 .5 .5 .5-2.2 .5-2.9 .5-2.9 .5-3.5 .5-.7 0 .7 .5 1.2 .5 4.3 .5 1.7 .5 1.8 .5 2.7 .5 1.3 .5-.5 .5-.1 .5-.4 .5-.1 .5 .3 .5 .5 .5-.1 .5 .3 .5 .3 .5 .2 .5-.1 .5-.4 .5 .1 .5 .1 .5 1 .5 .4 .5-.7 .5-.2 .5-.2 .5 .1 .5 .1 .5-1 .5 .1 .5 1.3 .5 .6 .5-.3 .5 .5 .5 .5 .5-.1 .5 .5 .5-1 .5-.8 .5-.7 .5 .1 .5 .9 .5 .3 .5-.4 .5-.1 .5 .4 .5-.4 .5-.7 .5 .6 .5-.3 .5 .6 .5 .1 .5-.9 .5 .9 .5-.2 .5 0 .5 .5 .5-1.2 .5-.5 .5 1.3 .5 .4 .5 0 .5-.5 .5-.7 .5 1.1 .5 .2 .5-.9 .5 0 .5 1.1 .5 .1 .5-.5 .5 .5 .5 .3 .5 .5 .5-.5 .5 .6 .5-.2 .5-.1 .5 0 .5-.6 .5-.8 .5 .4 .5 .9 .5-.1 .5 .4 .5 0 .5 .3 .5-.5 .5 .2 .5 .5 .5-.1 .5-.5 .5 .6 .5 .3 .5-1.2 .5 .2 .5-.1 .5 .3 .5 0 .5 .3 .5-.9 .5-.5 .5-.2 .5-1.5 .5-2.2 .5-1.5 .5-2.1 .4-2.3 .1-1.3 .5 2.4 .5 3.5 .5 2.7 .5 1.9 .5 1 .5 .6 .5 .8 .5-1 .5-.9 .5 0 .5 .6 .5 .6 .5 .2 .5 .3 .5-.7 .5-.2 .5 .7 .5-.5"/>
<path stroke="#a0a0a0" d="M47,669.4l.5 0 .5-.4 .5 1.1 .5 .3 .5-.6 .5 .4 .5-.1 .5-.6 .5-.6 .5 .1 .5 1.5 .5 .6 .5 .8 .5-.5 .5-.7 .5-.2 .5 .4 .5-.1 .5 .7 .5-.4 .5-.6 .5 .2 .5 1.4 .5-.5 .5-.4 .5 .4 .5-.3 .5 .3 .5-.4 .5 0 .5-.8 .5-.3 .5 .5 .5 .2 .5 1.1 .5 .3 .5 .1 .5-.1 .5-.1 .5 .5 .5 .6 .5-.4 .5-.5 .5-.1 .5 .4 .5 .4 .5 .8 .5-1 .5-.5 .5 .5 .5 .6 .5-.4 .5-.3 .5 .1 .5 .8 .5 .5 .5-.6 .5 0 .5 .2 .5 .6 .5 0 .5 0 .5 1.4 .5-.5 .5-.8 .5-.1 .5 .3 .5 .8 .5 .4 .5 0 .5-.1 .5-.7 .5-.1 .5 .6 .5 .7 .5-.1 .5-.6 .5 .9 .5 .8 .5-.1 .5-.6 .5 .6 .5 .2 .5 .5 .5 .4 .5-.9 .5 .1 .5 .6 .5 .2 .5 .2 .5 1.1 .5 .4 .5 0 .5-.2 .5-.8 .5 .1 .5 1.2 .5-.2 .5 .7 .5-.6 .5-.2 .5 .2 .5 .3 .5 0 .5 .8 .5-.3 .5-.6 .5-.3 .5 .4 .5 .6 .5 .9 .5-.6 .5-1 .5 .6 .5-.5 .5 .7 .5-.5 .5 .6 .5 .8 .5-.4 .5-.1 .5 .5 .5-.9 .5 .4 .5 1 .5-.6 .5 .1 .5 .1 .5-.5 .5-.5 .5-.8 .5-.9 .5-1 .5-1.9 .5-1.9 .5-1 .5-.1 .5 1.2 .5 2.2 .5 3 .5 2.2 .5 .1 .5-.3 .5 1.4 .5 1.5 .5 .6 .5 .3 .5 .9 .5-.2 .5-.7 .5 .4 .5 0 .5 .7 .5 1 .5 .5 .5-.9 .5-.7 .5 .1 .5 .1 .5-.3 .5 .5 .5 .9 .5 .1 .5-.3 .5 .6 .5 .5 .5-.6 .5-1 .5 .9 .5 .5 .5 0 .5-.2 .5-.1 .5 1.1 .5 0 .5-.6 .5 .1 .5 0 .5-.9 .5-1 .5 .7 .5 2.1 .5-.4 .5 0 .5 .7 .5 0 .5 .4 .5-.3 .5 0 .5-.5 .5 1 .5 .4 .5-.1 .5 .1 .5 .3 .5 .4 .5-.2 .5-.4 .5 .6 .5-.4 .5 .3 .5 .3 .5 .4 .5 0 .5 .1 .5-.7 .5-.1 .5 1.3 .5 .2 .5-.3 .5-.2 .5-.6 .5 .1 .5-.2 .5 .3 .5 .1 .5 .6 .5 .3 .5-.5 .5-.3 .5 1.1 .5 .5 .5 .1 .5-.5 .5-1.1 .5 .4 .5-.1 .5-.7 .5 .8 .5 .1 .5-.6 .5 .3 .5 1 .5 .5 .5-.2 .5-1.1 .5 0 .5 .6 .5 .5 .5 0 .5 .3 .5 .7 .5 0 .5-.6 .5-.6 .5 .5 .5 1.1 .5 .4 .5-.3 .5-1 .5-.3 .5-.7 .5-.7 .5 .7 .5 .8 .5 1.6 .5-.2 .5-.7 .5 .2 .5 .7 .5 .4 .5-.2 .5-.5 .5-1.3 .5-1.4 .5-2.2 .5-2.3 .2-.7 .3 .6 .5 1.8 .5 2.5 .5 1 .5 .9 .5 1.6 .5 0 .5-.3 .5-.2 .5 .1 .5 .3 .5 .4 .5 .9 .5-.8 .5 0 .5 1.3 .5-.3 .5-1.4 .5 .8 .5 1.1 .5-.5 .5 .1 .5-.3 .5-.8 .5 1 .5 1.5 .5 .5 .5-.7 .5-.1 .5 .3 .5 .1 .5-.1 .5-.6 .5 .4 .5 .6 .5-.2 .5-.6 .5 .7 .5 .4 .5-.4 .5-.6 .5 .3 .5-.6 .5-.2 .5 1.5 .5 .9 .5-.1 .5 .2 .5 .2 .5 .6 .5 .2 .5 .7 .5 .4 .5-1 .5 0 .5 .1 .5-1.2 .5 .1 .5 0 .5-.1 .5 1.2 .5 .3 .5-1.3 .5 .2 .5 1.4 .5-.2 .5-1.1 .5 .2 .5-.2 .5-.8 .5 .4 .5 .4 .5 .6 .5 .2 .5-.2 .5 .3 .5 .3 .5 .6 .5 .5 .5-.4 .5-.9 .5-.4 .5 .7 .5 .9 .5-.3 .5-1 .5-.5 .5 .2 .5 .5 .5-.1 .5 .7 .5 .7 .5-.3 .5-.2 .5-.8 .5 .6 .5 0 .5-.1 .5 .8 .5-.5 .5-.4 .5 .5 .5 .3 .5-.7 .5 .3 .5 .1 .5 .4 .5 0 .5 .2 .5 .6 .5 0 .5 .2 .5 .2 .5-.1 .5-.2 .5 0 .5 .5 .5 .5 .5 .7 .5-.4 .5-1.2 .5 .4 .5 .5 .5 .5 .5-.4 .5-1.1 .5 0 .5-.7 .5 .1 .5 .1 .5 .5 .5 .6 .5-1 .5-.3 .5 .5 .5 .1 .5-.5 .5 .7 .5-.4 .5-.3 .5 .7 .5 1.1 .5 .8 .5-.9 .5-1.1 .5-.3 .5 0 .5 .8 .5 .2 .5-.6 .5 0 .5-.9 .5 0 .5 .3 .5 0 .5 0 .5 .9 .5-.3 .5 0 .5 1.2 .5 .7 .5-1 .5-1.8 .5 .3 .5 0 .5-.2 .5-.2 .5 .4 .5 .4 .5-.3 .5-.8 .5 0 .5 .4 .5-.3 .5 .8 .5 0 .5-.2 .5 .3 .5 .1 .5 0 .5-1.2 .5-.2 .5 1.4 .5-1 .5-1.3 .5 .5 .5-.6 .5 .6 .5-.1 .5-1.1 .5-.6 .5 .1 .5 1.4 .5 .7 .5 .6 .5-.4 .5-.5 .5 .6 .5 .7 .5 .1 .5-.1 .5 .1 .5 1 .5-.6 .5-.5 .5-.4 .5 1.4 .5 .8 .5-.6 .5-.7 .5-.2 .5 .5 .5-.1 .5-.9 .5 .5 .5 .4 .5-.3 .5 0 .5 .3 .5 .2 .5-.9 .5 .4 .5-.2 .5-1 .5 .1 .5 .6 .5 .8 .5-.3 .5 .1 .5 .7 .5 .8 .5-.6 .5 .3 .5-1 .5-1.2 .5 .2 .5 .2 .5 .2 .5-.5 .5 .5 .5 1.4 .5-.3 .5-.3 .5-.1 .5-1.4 .5 .2 .5-.4 .5-.2 .5-.3 .5 .6 .5 .8 .5-.2 .5-.7 .5-.5 .5-1.7 .5-.6 .5 1.6 .5 .9 .5-1.5 .5-1.3 .5-.5 .5-.7 .5-2.1 .5-1.3 .5-1.3 .5-1.8 .5-.6 .5-1 .5-.7 .5-.7 .5 1.6 .5 2.3 .5 1.5 .5 .7 .5-.1 .5 .3 .5 .2 .5 1 .5 1 .5-.1 .5 0 .5 .7 .5 .4 .5-.1 .5 .5 .5 .5 .5-.1 .5-.5 .5 0 .5-.3 .5 .3 .5 .4 .5-.4 .5-.3 .5 0 .5 .9 .5 .6 .5-.4 .5-.8 .5 .1 .5 .3 .5-.5 .5-1.3 .5-.8 .5-1.3 .5-1.2 .5-.8 .5-1.7 .5-1.7 .5-11.1 .5-11.8 .4-8.2 .1 3.8 .5 12.6 .5 13.2 .5 7 .5 1.2 .5 1.1 .5-.3 .5-.5 .5 .8 .5 1 .5 .1 .5-.4 .5-.6 .5 .4 .5 .8 .5 .1 .5-1 .5 0 .5 .3 .5 .8 .5-.5 .5-.2 .5 0 .5 .1 .5 .6 .5 .6 .5-.2 .5 .4 .5-.2 .5 .4 .5 1.2 .5-.1 .5-1.4 .5-.8 .5 .2 .5 .1 .5-1.1 .5 .2 .5 .7 .5-.4 .5 .4 .5 .6 .5-.9 .5 .1 .5 .3 .5-.3 .5-.1 .5 .6 .5 .4 .5 .1 .5-.8 .5-.1 .5-.3 .5 .8 .5 .3 .5-.7 .5 .3 .5-.7 .5 .1 .5 .8 .5 .5 .5-.4 .5-.2 .5-.2 .5-.7 .5-.6 .5 .5 .5 .7 .5 .5 .5 0 .5 1.1 .5-.5 .5-.6 .5 .3 .5 0 .5 .1 .5-.1 .5 .3 .5-.7 .5 .1 .5 .1 .5-.5 .5 .4 .5 .1 .5-.7 .5 .4 .5 .7 .5 0 .5 1 .5-.1 .5-.9 .5-.1 .5 .4 .5-.2 .5-.5 .5 .4 .5-.4 .5 .3 .5 .5 .5-.6 .5-.7 .5 .1 .5 .5 .5-.4 .5-.1 .5 .5 .5 .3 .5 .7 .5-.5 .5-.4 .5-.7 .5 .5 .5 .9 .5 .2 .5-.2 .5-.3 .5 0 .5-.2 .5 .1 .5 .9 .5-.3 .5 .1 .5 .8 .5 .6 .5 .3 .5-.8 .5-.3 .5-.4 .5 0 .5 .5 .5-.3 .5-.6 .5 .1 .5 .5 .5 .4 .5-.7 .5 0 .5 .4 .5-.4 .5-.3 .5 0 .5-.2 .5-.1 .5-2.3 .5-1 .5 .6 .5 .2 0-.2 .5-.3 .5 .6 .5 .6 .5 0 .5-.2 .5 .4 .5 .8 .5-.2 .5-1.1 .5-.7 .5-.6 .5-.9 .5-1.1 .5-1.9 .5-1.1 .5 .5 .5 1 .5 1.6 .5 1.5 .5 .9 .5 .6 .5 1.1 .5 1.1 .5-.6 .5 .1 .5 .5 .5 .5 .5 .5 .5-.2 .5 .3 .5 .3 .5-.3 .5-.2 .5-.3 .5 0 .5-.6 .5-.9 .5 .7 .5 .6 .5-.8 .5 .1 .5-.2 .5-.8 .5 .1 .5-.2 .5 .2 .5 .2 .5-.9 .5-.8 .5-.1 .5-1 .5-1.1 .5-2.2 .5-3.2 .5-4.1 .5-6.7 .5-7 .5-7.5 .5-17.5 .5-52.5 .5-50.5 .4-36 .1 11.4 .5 57.1 .5 59.5 .5 46.8 .5 3.6 .5 3.3 .5 3.6 .5 2.3 .5 .7 .5 .3 .5 .1 .5 1.4 .5 .8 .5 .1 .5 .8 .5 0 .5-.1 .5-.4 .5-.2 .5 1 .5 1 .5 .3 .5-.7 .5-.7 .5 .4 .5 .2 .5-.2 .5 .3 .5 .2 .5 0 .5 .3 .5 1 .5 .8 .5 .4 .5-.3 .5-.4 .5-.3 .5 1.2 .5 .7 .5-.7 .5 .1 .5 0 .5 .6 .5-.1 .5-1.1 .5-.2 .5 .6 .5 .8 .5 .7 .5-.2 .5-.3 .5-.1 .5 .1 .5 .8 .5 .4 .5 0 .5-.6 .5-.5 .5 .6 .5-.1 .5 .3 .5 1.8 .5-.3 .5-.9 .5 .5 .5 .4 .5-.6 .5-.2 .5 .7 .5 .1 .5-.9 .5-.6 .5 1.2 .5 .5 .5-1.2 .5-.4 .5-.1 .5 .3 .5 .9 .5 .7 .5-.3 .5 .2 .5-.7 .5 0 .5-.1 .5 0 .5 .4 .5 .5 .5-.1 .5-.2 .5-.2 .5 .2 .5 .1 .5 0 .5-.3 .5-.5 .5 0 .5 .5 .5 .5 .5-.3 .5 .4 .5 .6 .5 .2 .5-.1 .5 .3 .5-.3 .5-.2 .5 0 .5 .2 .5-.2 .5-.3 .5-.3 .5-.3 .5 1.6 .5 .3 .5-1.1 .5-.3 .5 .9 .5 .2 .5-.6 .5 0 .5 .9 .5 .2 .5 .5 .5 .1 .5-.9 .5 .3 .5 .9 .5 .4 .5-.4 .5-2.2 .5-.2 .5 1.5 .5 .1 .5-.8 .5-.1 .5 .5 .5 .4 .5-.6 .5 .1 .5-.4 .5-.6 .5 2 .5 1.1 .5-.8 .5-.1 .5-.4 .5-.7 .5-.5 .5 .2 .5-.2 .5 .5 .5 .6 .5 .1 .5-.1 .5 .3 .5 0 .5 .5 .5 .4 .5 1.5 .5-.4 .5-.7 .5 .4 .5-.4 .5 .3 .5-.7 .5-.5 .5 0 .5-.2 .5 .3 .5 .3 .5 .4 .5 .9 .5-1.1 .5-1.6 .5 .6 .5 1 .5 .7 .5-.1 .5-.5 .5 .3 .5 .1 .5 .3 .5 .5 .5 .8 .5 .3 .5-.1 .5-.9 .5 .1 .5 .5 .5-.3 .5 .3 .5 .9 .5 1 .5-.5 .5-.1 .5-.4 .5 1.3 .5 .4 .5-1.3 .5-.7 .5 .1 .5-.6 .5 .2 .5 .1 .5 1.3 .5-.4 .5-1 .5-.1 .5 1.5 .5 0 .5-.2 .5 .2 .5-.5 .5 1.1 .5 .4 .5-.3 .5 .7 .5 0 .5-1.1 .5 0 .5 .9 .5 .1 .5-1.2 .5-1.1 .5 1 .5 1.6 .5-.6 .5-.2 .5 .2 .5 .2 .5 1 .5-1 .5 .1 .5 .7 .5-.2 .5-.7 .5 .3 .5 .9 .5-.1 .5 .1 .5-.1 .5-.4 .5-.7 .5-.1 .5 .4 .5 .4 .5 1.1 .5 .4 .5-.6 .5-1.3 .5-.2 .5 .9 .5 .1 .5 .1 .5 0 .5-.9 .5-.4 .5 .8 .5 1.1 .5-.6 .5-.3 .5 1 .5 .3 .5 0 .5-.4 .5-.1 .5 .7 .5-.7 .5-1.2 .5-.2 .5 .7 .5 .4 .5-.4 .5-.2 .5 0 .5 .6 .5 .6 .5-.7 .5 .1 .5 .2 .5-1.2 .5 .3 .5 .2 .5 0 .5 .6 .5 .5 .5-1.1 .5-.7 .5-.1 .5-.9 .5 .3 .5 .5 .5-.1 .5-.1 .5 .6 .5-.7 .5-.3 .5 .2 .5 1.1 .5 .6 .5 .2 .5 .2 .5-.4 .5 0 .5 .2 .5 0 .5-.2 .5-.7 .5-.2 .5 .5 .5 .5 .5 .1 .5-.4 .5 .5 .5 1.5 .5 0 .5-.7 .5-.5 .5-.3 .5 .4 .5 .8 .5-.3 .5-.9 .5-.5 .5 .1 .5 .2 .5 .7 .5 .3 .5-.3 .5-.4 .5 .4 .5-.6 .5-.6 .5 1.4 .5 .2 .5-.2 .5 .5 .5-1.1 .5 .4 .5 .9 .5 .3 .5 1.4 .5 .3 .5-1.1 .5 .1 .5 .7 .5-.6 .5-1 .5-.2 .5 .5 .5 .6 .5 .4 .5 .3 .5-.8 .5-1 .5 .1 .5 1.1 .5-.5 .5-2.1 .5-1.5 .5-1.1 .5-1 .5-2.8 .5-2.8 .5-2.3 .5 1.4 .5 3.5 .5 3.9 .5 2.5 .5 .6 .5 1.1 .5 1 .5-.4 .5 .1 .5 .5 .5-.4 .5-.4 .5 .1 .5 .3 .5 .7 .5 .1 .5-.1 .5-.2 .5-.1 .5 1 .5-.6 .5 .1 .5-.4 .5-.2 .5-.7 .5 0 .5 .3 .5 .7 .5 .2 .5-.5 .5 .1 .5 .7 .5-.3 .5 .7 .5-.3 .5-.4 .5-.4 .5-.3 .5 .5 .5 .3 .5 .2 .5 .6 .5-.5 .5-.3 .5-.2 .5 .3 .5 .7 .5 0 .5 .3 .5-.4 .5-.7 .5 .6 .5 .3 .5-.4 .5-.1 .5-.1 .5 .1 .5 .2 .5-.2 .5 0 .5 0 .5-1.1 .5 .7 .5 .8 .5 .1 .5-.6 .5 .3 .5 .7 .5-.2 .5 0 .5 0 .5-.5 .5 .2 .5 .5 .5 1 .5-.4 .5-.5 .5 1.4 .5 .5 .5-.6 .5-.9 .5-.3 .5 .7 .5 .7 .5-.3 .5-.1 .5-.6 .5-.2 .5 1.5 .5 .8 .5-1.3 .5-1 .5 .1 .5-.4 .5-.2 .5 .2 .5-.2 .5-.4 .5 .5 .5-.5 .5-.7 .5 0 .5-.3 .5-2 .5-3 .5-2.8 .3-.5 .2 .1 .5 2.7 .5 3 .5 1.1 .5 .8 .5 .2 .5 1.1 .5 .6 .5 .1 .5 .4 .5-.3 .5 .7 .5-.5 .5-.4 .5 0 .5 .4 .5 .1 .5 .5 .5-.2 .5-.3"/>
<path stroke="#6a6a6a" d="M47,639.3l.5 .1 .5 .2 .5 .6 .5 0 .5 .2 .5 .7 .5 .1 .5-.4 .5-.7 .5-.4 .5 0 .5 .2 .5 .3 .5-.4 .5 0 .5 .3 .5-.7 .5 .9 .5 .3 .5-.7 .5-.2 .5 .4 .5 1 .5-.6 .5-.9 .5 .8 .5 1.3 .5 .5 .5-.3 .5-.7 .5-.6 .5 1.1 .5 .4 .5 .3 .5 .6 .5-.3 .5 0 .5-.2 .5-.5 .5-.6 .5 .3 .5 .9 .5-.1 .5-.2 .5 .7 .5-.2 .5-.6 .5 .7 .5 .1 .5-.6 .5 .8 .5-.2 .5-.1 .5 0 .5-1 .5 0 .5 .6 .5 .6 .5-.6 .5-.2 .5 .3 .5 .7 .5 .4 .5-1.1 .5-.4 .5 .9 .5 .4 .5 .4 .5 .7 .5 .4 .5-.6 .5 .2 .5 .5 .5-.4 .5-.1 .5 .6 .5 .2 .5 .4 .5-.1 .5 .3 .5 .6 .5-.3 .5-.5 .5 .2 .5 1.5 .5-.2 .5-1.5 .5 .1 .5 .8 .5-.1 .5 .4 .5 .5 .5-.1 .5-.3 .5 0 .5 .2 .5 .7 .5 .6 .5 0 .5-.4 .5 .4 .5-.6 .5-.6 .5 .7 .5 .7 .5-.1 .5 .5 .5-.3 .5-.2 .5 .1 .5 1.2 .5 0 .5-.4 .5-.9 .5 0 .5 .9 .5 .1 .5 .5 .5 .1 .5 .1 .5-1 .5-.4 .5 1 .5 .4 .5-.1 .5 .1 .5-1.1 .5-.9 .5-.6 .5-.9 .5-1 .5-1.3 .5-1.7 .5-2.1 .5-2.1 .5-.5 .5 1 .5 1.8 .5 2.4 .5 2.2 .5 2.3 .5 1.6 .5 .4 .5 .3 .5 1.3 .5 1.1 .5 .7 .5 0 .5 .2 .5-1.2 .5 .3 .5 .5 .5 .1 .5 .2 .5 .8 .5 .9 .5-.1 .5 .3 .5-.1 .5-.7 .5-.5 .5 1.3 .5 .6 .5-.4 .5-.1 .5 .8 .5 1 .5-.8 .5-.7 .5-.7 .5 .7 .5 1.1 .5-.7 .5-.5 .5 1.2 .5 1.2 .5 .4 .5-.1 .5 .3 .5 .9 .5-.9 .5-.6 .5-.5 .5-.2 .5 .1 .5 .6 .5-.1 .5-.8 .5 .1 .5 1.4 .5 .9 .5-.1 .5-.1 .5 .4 .5 .4 .5 .3 .5 .2 .5-.4 .5-.3 .5 0 .5 .9 .5-.5 .5 .4 .5 .1 .5-.6 .5 .2 .5 .5 .5-.4 .5-.3 .5-.1 .5-.1 .5 .5 .5 .6 .5 .3 .5 .2 .5-.3 .5 0 .5 .6 .5 .2 .5 .1 .5 0 .5-.1 .5 .2 .5-.2 .5-.6 .5 .3 .5 .9 .5 .7 .5-.6 .5 0 .5-.5 .5-.4 .5 1.4 .5 .6 .5-.2 .5-1 .5 .4 .5-.2 .5-.5 .5 .7 .5 .1 .5-.2 .5-.7 .5 .1 .5 .1 .5-.3 .5 1.2 .5 1 .5-.4 .5 .3 .5 .4 .5-.4 .5-1.2 .5-.6 .5 1 .5 .1 .5 .2 .5 .5 .5-.5 .5-1 .5 .5 .5 0 .5-.1 .5-.7 .5-1.5 .5-2.8 .5-3 .5-2.1 .2-.1 .3 1.3 .5 3.1 .5 2 .5 1.8 .5 .7 .5 .6 .5 .6 .5 .5 .5 .7 .5 .1 .5 .4 .5 .7 .5 .5 .5-1.2 .5-.7 .5 .8 .5 1 .5 .6 .5-.4 .5-.2 .5 .9 .5 .2 .5-.4 .5 .3 .5 .9 .5 .7 .5-1.2 .5-.3 .5 .4 .5 .4 .5-.1 .5 .6 .5 .7 .5 .5 .5-.9 .5-.6 .5-.3 .5-.7 .5 .4 .5 1.1 .5 .8 .5 1.1 .5-.4 .5-.1 .5-.2 .5-1.1 .5-.3 .5 .1 .5 1.1 .5 1 .5-.7 .5-.4 .5 .7 .5 .6 .5-.1 .5-.3 .5-.9 .5-.1 .5 .5 .5 .7 .5 .3 .5-1 .5 .3 .5 0 .5 .2 .5-.5 .5-.1 .5 1.2 .5-.4 .5-.8 .5 .7 .5-.2 .5 .3 .5 0 .5-.1 .5 .8 .5-.1 .5 .8 .5-.2 .5-.2 .5 .4 .5 .2 .5-1.1 .5-.4 .5 .5 .5 1.1 .5 .5 .5-.3 .5-.4 .5-.2 .5 1 .5-.2 .5 0 .5 .1 .5 .3 .5 0 .5-.2 .5-.2 .5-.1 .5-.1 .5 .7 .5 .2 .5 .3 .5-.1 .5-1.4 .5-.6 .5 1.2 .5 1 .5-.7 .5-.5 .5 1.5 .5-.3 .5-1.2 .5 .3 .5 .6 .5 0 .5 .3 .5 .4 .5 .3 .5 .3 .5-.3 .5 .3 .5-.9 .5-.8 .5-.3 .5 .7 .5 1.2 .5-.3 .5-1.6 .5 .8 .5 .7 .5 .5 .5-.3 .5 .6 .5 .6 .5-.8 .5-.3 .5 .4 .5-.1 .5-.7 .5-.7 .5 .1 .5-.1 .5 .9 .5 .4 .5 .3 .5 .2 .5-1 .5 .2 .5-.1 .5-.4 .5 1 .5 .5 .5 .1 .5-.5 .5-.1 .5-.1 .5 1.1 .5 .3 .5-.9 .5-.8 .5-.5 .5 .2 .5 .3 .5-.1 .5 0 .5 1.2 .5 0 .5 .1 .5-.4 .5-.2 .5 .9 .5-.5 .5-1.4 .5 .1 .5 0 .5 .3 .5 .7 .5-.6 .5 0 .5-.6 .5 .6 .5-.9 .5-1 .5 .8 .5-.1 .5-.8 .5-.6 .5-1.2 .5 0 .5 .2 .5 0 .5-.1 .5 .8 .5 .7 .5 .9 .5 .7 .5 .1 .5-.5 .5 .5 .5 1 .5 .2 .5-.5 .5-.1 .5 .6 .5-.7 .5-1.2 .5 .9 .5 .8 .5-.5 .5-1 .5 .5 .5 .3 .5-.3 .5 .2 .5-.4 .5 .4 .5 .8 .5 .7 .5 0 .5-.2 .5-.6 .5-1 .5 .1 .5 .6 .5-.9 .5 0 .5 1.1 .5-.4 .5-.1 .5 .9 .5-.4 .5 .2 .5 0 .5-.2 .5 .1 .5 .7 .5-.1 .5-.9 .5 .2 .5-.2 .5-.2 .5 .2 .5-.6 .5 .1 .5 .9 .5-1.2 .5-1.7 .5-.2 .5 1.6 .5 .9 .5 0 .5-1.6 .5-.6 .5 .7 .5 .8 .5-.3 .5-1.3 .5-1 .5-.1 .5-.1 .5-1.4 .5-1.3 .5-1.2 .5-1.2 .5-1.1 .5-.5 .5-1 .5-.5 .5 .5 .5 1.5 .5 1.6 .5 1 .5 .2 .5 .8 .5 .6 .5 .6 .5 .9 .5-.4 .5 .5 .5 .2 .5-.9 .5 0 .5 .5 .5 .5 .5 0 .5 .1 .5 .1 .5-.8 .5 0 .5 .4 .5 .2 .5 .3 .5-.3 .5-1.5 .5-.4 .5 .9 .5 .3 .5-.2 .5-.4 .5 .3 .5-.4 .5-.5 .5-.4 .5-1.6 .5-2 .5-1.2 .5-.7 .5-12.4 .5-11 .4-8.2 .1 3.3 .5 13.4 .5 12.6 .5 6.5 .5 .5 .5 .5 .5-.5 .5 .6 .5 1.7 .5-.1 .5-.7 .5-.4 .5-.5 .5 .7 .5 0 .5 .6 .5 1.1 .5-.5 .5-.6 .5 .1 .5 .9 .5 .2 .5-1 .5-.5 .5 .8 .5 0 .5-.2 .5 .8 .5-.3 .5 0 .5-.2 .5 .2 .5 .5 .5-.3 .5-.7 .5 .8 .5 .5 .5-.2 .5-.1 .5-.2 .5 .5 .5 0 .5 .1 .5 .8 .5-.4 .5-.4 .5 0 .5-.2 .5 .6 .5 .7 .5-.3 .5-1 .5 .2 .5 .6 .5-.2 .5-.5 .5 .3 .5 .6 .5 .5 .5-.5 .5-.7 .5-.7 .5 .1 .5 1.1 .5-.1 .5-.2 .5 .7 .5 0 .5-.1 .5 0 .5-.2 .5 .6 .5-.1 .5-.6 .5-.3 .5 0 .5 .6 .5-.5 .5-.5 .5 .6 .5 .2 .5-.1 .5-.2 .5-.4 .5 .2 .5 .3 .5-.8 .5-.5 .5 .5 .5 .8 .5-.4 .5-.1 .5-.2 .5-.3 .5 .4 .5 .7 .5 .6 .5-.5 .5 .4 .5 1 .5 0 .5-.3 .5-.4 .5 0 .5 .1 .5-.3 .5 .1 .5 .9 .5-.4 .5-.4 .5-.6 .5-.8 .5-1 .5 0 .5 1.3 .5-.1 .5 .2 .5 .2 .5-.6 .5 .5 .5 .6 .5 0 .5-.4 .5-.9 .5 1.1 .5 .3 .5-.8 .5 .6 .5-.1 .5 .1 .5-.1 .5-.5 .5 .7 .5 0 .5 .4 .5-.2 .5-.3 .5-.3 .5-.1 .5-.7 .5-.4 .5-.2 .5-.4 .5-.2 .5-.2 .5-2.8 .5-1.4 0 1.2 .5 .6 .5 1.1 .5 1.1 .5 .4 .5 .3 .5 .6 .5 1 .5-.6 .5-1.1 .5 .5 .5-.9 .5-1.9 .5-.7 .5-.8 .5-1 .5-.8 .5-.6 .5 1 .5 1.2 .5 1.5 .5 1.3 .5 .8 .5 .7 .5 0 .5-.3 .5 .7 .5 .2 .5 .8 .5 .3 .5-.2 .5-.5 .5 .3 .5 .3 .5-.9 .5-.1 .5 1.3 .5-.4 .5-.8 .5-.5 .5-.6 .5-.8 .5 .5 .5 .2 .5 .7 .5 .9 .5-.9 .5-.7 .5-.3 .5-.2 .5 .7 .5-.6 .5-1.6 .5-.7 .5-1.4 .5-2.4 .5-5.2 .5-7.7 .5-7.3 .5-7.4 .5-17 .5-51.7 .5-49.6 .4-35.8 .1 12.2 .5 56.3 .5 58 .5 47 .5 2.7 .5 2.8 .5 2.5 .5 2 .5 1.6 .5 1.6 .5 .1 .5 1 .5 .3 .5 .8 .5 .9 .5-.4 .5-.2 .5-.2 .5 .4 .5 .5 .5-.5 .5 .6 .5-.1 .5 0 .5 .3 .5-.5 .5 0 .5-.3 .5-.1 .5 .2 .5 .8 .5 .9 .5 .1 .5-.2 .5-.3 .5-.4 .5-.2 .5 .4 .5 1.1 .5-.5 .5-.3 .5 .1 .5 0 .5 .7 .5-.9 .5-.1 .5 1.3 .5 .5 .5-.5 .5-.4 .5 .6 .5-.2 .5 .3 .5 .5 .5-.2 .5-1 .5-.3 .5 .8 .5-1 .5 .2 .5 .4 .5 .3 .5 .6 .5 .1 .5-.7 .5-1 .5 .9 .5 .3 .5 .4 .5 0 .5 .5 .5 .8 .5 .5 .5 .1 .5-.2 .5-.6 .5 .7 .5-.1 .5 .2 .5 .3 .5-.3 .5-.7 .5-.5 .5 1.2 .5 .6 .5 .2 .5 0 .5 .1 .5-.6 .5-.6 .5 .1 .5-.4 .5 .4 .5 .7 .5 .3 .5-.4 .5-.3 .5 .1 .5 0 .5-.9 .5 .2 .5 2 .5 .4 .5-.6 .5-.6 .5-.8 .5-.3 .5 .4 .5 .2 .5 .8 .5-.4 .5-.9 .5 .1 .5-.4 .5 .5 .5 .9 .5-.6 .5-.3 .5 .1 .5 .3 .5 .8 .5-.1 .5-.5 .5-.8 .5 0 .5 .3 .5 0 .5 .2 .5 1.5 .5 .9 .5-1.3 .5-.6 .5 .2 .5-.5 .5 .4 .5 .9 .5-.2 .5 .4 .5 .5 .5-.2 .5-.4 .5 .1 .5 1 .5-.3 .5-.2 .5 .1 .5-.4 .5-.4 .5 .7 .5 .7 .5 .6 .5-.4 .5-.2 .5 .1 .5 .1 .5 0 .5 .4 .5 .6 .5-.7 .5-1 .5 .4 .5 .4 .5 .1 .5 .8 .5 0 .5-1.1 .5 0 .5 .9 .5 .3 .5-.4 .5 1.2 .5 1 .5-.2 .5-.9 .5-.9 .5 .5 .5 .3 .5 .7 .5 .5 .5-.1 .5-.4 .5 .8 .5 .2 .5-1.2 .5-.2 .5 .5 .5 .2 .5 0 .5 .9 .5 .1 .5-.1 .5-.6 .5-.1 .5 1.1 .5 1 .5-.2 .5-.2 .5-.8 .5-.2 .5 .5 .5 .6 .5-.2 .5-1.1 .5 0 .5 1 .5 .9 .5 .9 .5-1.3 .5-.5 .5 .6 .5-.1 .5 .3 .5 0 .5-.6 .5-.3 .5 .2 .5 .1 .5 .2 .5 .6 .5 .7 .5-.7 .5-.4 .5 0 .5 0 .5 .4 .5 .1 .5-.4 .5 .5 .5 .7 .5 .4 .5-.2 .5 .6 .5-.4 .5-1 .5-.5 .5-.7 .5 .9 .5 .9 .5-.1 .5 .5 .5 0 .5 .1 .5 .1 .5 .5 .5 0 .5 .1 .5 0 .5-.2 .5 .7 .5-.1 .5-.3 .5-.1 .5-.4 .5-.4 .5 .2 .5-.2 .5 .8 .5 1.2 .5-.4 .5-.4 .5-.1 .5 .4 .5 .4 .5 .1 .5-.3 .5 0 .5 .7 .5-.3 .5-.3 .5-1 .5 .2 .5 .8 .5 .1 .5 .2 .5-.3 .5-.3 .5-1.1 .5 0 .5 .5 .5-.8 .5-.3 .5 1.6 .5 .7 .5-1.3 .5-1.1 .5 0 .5-.5 .5-.2 .5 1.2 .5 .5 .5-1 .5-.9 .5-.3 .5 1.5 .5 .8 .5 .1 .5-1.4 .5-.3 .5 2.1 .5 1.2 .5-.2 .5-.1 .5-.1 .5 .1 .5 .2 .5 1.3 .5-.4 .5-1.4 .5 .2 .5-.7 .5 .7 .5 .5 .5 .8 .5-.4 .5-.3 .5 .2 .5-.7 .5 .1 .5 1.2 .5-.1 .5-.7 .5-.2 .5 .1 .5 .2 .5 .1 .5 .2 .5-.2 .5 .4 .5 .7 .5 0 .5-.4 .5 .1 .5 .2 .5 .1 .5 .1 .5 0 .5-.5 .5-.5 .5-.5 .5 .8 .5 1.6 .5 1.7 .5-.1 .5-2.1 .5-1.4 .5 1.5 .5 1.3 .5 .3 .5-.9 .5-.2 .5 .3 .5-.4 .5-.5 .5 .3 .5 .1 .5 .1 .5-.7 .5-1.1 .5 .2 .5-.9 .5-1.4 .5-1.9 .5-2.6 .5-3.8 .5-5 .5-1.1 0 1 .5 3 .5 4.9 .5 4 .5 2.6 .5 .8 .5 .1 .5 .3 .5 .9 .5 .8 .5-.1 .5 .3 .5 1.5 .5 .5 .5-.7 .5 .2 .5-.4 .5-.8 .5 0 .5 .1 .5 1.2 .5 .4 .5-.5 .5-.6 .5 .4 .5 .5 .5 .4 .5 .2 .5-.4 .5-.5 .5 .9 .5 .3 .5-1 .5-.2 .5 .3 .5-.7 .5-.1 .5 .2 .5-.6 .5-.3 .5 1 .5-1 .5-.9 .5 .9 .5-.5 .5 .4 .5 .1 .5-.5 .5 .8 .5 .4 .5-.6 .5 .4 .5 1.2 .5-.1 .5-.9 .5 .2 .5 .3 .5 .5 .5 1.5 .5 .5 .5-1.1 .5-1.1 .5-.5 .5 1 .5 1.4 .5-.3 .5-1.1 .5 .4 .5 .6 .5-.5 .5 0 .5 .8 .5 .1 .5 .1 .5 .5 .5-.6 .5-1.1 .5-1.1 .5 .2 .5 .9 .5-.2 .5 .3 .5 1.8 .5-.4 .5-.4 .5-.5 .5-.4 .5-.6 .5 .6 .5-.2 .5-.1 .5 1.3 .5-.2 .5-.6 .5-.3 .5-.7 .5-.2 .5 .3 .5-.7 .5-.8 .5 0 .5 .6 .5-.1 .5-1.5 .5-2.4 .5-2.7 .5-2.6 .4-1.9 .1 .4 .5 1.9 .5 2.5 .5 2.1 .5 1.5 .5 .8 .5 1.1 .5 1.4 .5 1.2 .5-.7 .5-.4 .5-.2 .5-.3 .5 .6 .5 1.2 .5-.7 .5-1.3 .5 .2 .5 1.6"/>
<path stroke="#2e2e2e" d="M47,624.6l.5 .7 .5-.2 .5-1 .5-.2 .5 0 .5 .5 .5 .2 .5-.3 .5-.7 .5 1 .5-.2 .5 0 .5-.2 .5-.2 .5 .3 .5 .3 .5-.4 .5-.1 .5 .3 .5-.8 .5-.2 .5 .8 .5-.3 .5-.8 .5 .6 .5 .6 .5-.5 .5 .1 .5 .8 .5 .4 .5-.5 .5-.3 .5 .7 .5 .2 .5-.2 .5 .3 .5 .1 .5-.8 .5-.3 .5 .7 .5 .6 .5-.1 .5-1 .5-.1 .5-.2 .5-.3 .5 1 .5 .4 .5 0 .5 .7 .5 .2 .5-.4 .5 .1 .5-.1 .5-.6 .5 .8 .5 0 .5-1.1 .5 .7 .5 .6 .5 .4 .5-.4 .5 .2 .5 0 .5-.4 .5 .4 .5 0 .5 .2 .5 .2 .5 .7 .5-.1 .5-.5 .5 .7 .5 .6 .5-.2 .5-.9 .5 .7 .5 .2 .5-.6 .5 0 .5 .4 .5-.6 .5 .8 .5 .2 .5-1.1 .5-.1 .5 .2 .5 1.1 .5 1.5 .5-.2 .5-1.8 .5 .4 .5 1.4 .5 .6 .5-.9 .5-.7 .5 .2 .5 0 .5-.5 .5-.2 .5 .5 .5 .3 .5-.3 .5-.4 .5-.2 .5 .7 .5 1.1 .5-.7 .5-.3 .5 1.3 .5 .7 .5 .3 .5-1 .5-.9 .5-.1 .5 1.7 .5 .7 .5-1.7 .5-.3 .5 .4 .5-.4 .5-.1 .5 0 .5 .6 .5 .3 .5-.5 .5-.6 .5-.9 .5-.9 .5-1.7 .5-.2 .5 .6 .5-.6 .5 .1 .5 .1 .5 .3 .5 .2 .5 .5 .5 .2 .5 .5 .5 .8 .5 .8 .5 .5 .5 .9 .5 .9 .5 .5 .5-.1 .5-.1 .5 .7 .5 1.1 .5 .4 .5-.2 .5-.8 .5 .4 .5 1.5 .5 .3 .5 .5 .5-.2 .5-1.2 .5 .4 .5 .4 .5 .2 .5 .1 .5 0 .5-.4 .5-.5 .5 .2 .5 .3 .5 .2 .5 .2 .5 .8 .5 .3 .5-.2 .5-.2 .5-.1 .5-.2 .5 .1 .5 .1 .5 .6 .5 .2 .5-.1 .5-.7 .5 .6 .5-.3 .5-.2 .5 .4 .5 .2 .5 .2 .5-.3 .5-.6 .5 .7 .5 1.1 .5-.3 .5-.7 .5 .2 .5 .2 .5 .8 .5-.7 .5 .6 .5 0 .5-.7 .5 .7 .5 .6 .5-.1 .5 0 .5 .1 .5-.2 .5-.3 .5 0 .5-.1 .5-.1 .5 .6 .5-.4 .5 0 .5 1 .5 .9 .5-.2 .5-.7 .5 .3 .5-.3 .5 .1 .5-.4 .5-.8 .5 .6 .5-.1 .5-.2 .5-.3 .5-.1 .5 .8 .5 1.4 .5 .6 .5-.5 .5 0 .5-.5 .5-.7 .5 1.1 .5 .5 .5-.3 .5 .3 .5-.2 .5-.8 .5-.4 .5 .7 .5 .2 .5 .1 .5 .8 .5 .1 .5-.9 .5 .2 .5 .3 .5 0 .5-.3 .5-.6 .5 .7 .5 .7 .5-.8 .5-.9 .5 .5 .5 .5 .5-.7 .5-.5 .5-.1 .5-1.7 .5-1.2 .5-2.2 .5-2.1 .3 .7 .2 .1 .5 1.3 .5 2.5 .5 1.2 .5 .4 .5 1.2 .5 1.3 .5 .6 .5-.2 .5 .1 .5 0 .5 .1 .5 .4 .5-.1 .5 0 .5-.1 .5-.8 .5 .5 .5 1.1 .5-.2 .5-.5 .5 .4 .5-.1 .5 .3 .5-.2 .5 0 .5-.3 .5 1 .5-.7 .5-.5 .5 .5 .5 .5 .5 0 .5-.5 .5 1.4 .5 1.3 .5-1.6 .5-.3 .5 .1 .5-.3 .5-1.1 .5 .5 .5 1 .5 .5 .5 .5 .5-.8 .5 .6 .5 .9 .5-1.4 .5-.5 .5 .4 .5 .5 .5 .3 .5-.5 .5-.7 .5 .7 .5 1.2 .5-1.3 .5-2 .5 .9 .5 .8 .5 1 .5 .8 .5 1.1 .5 .1 .5-.4 .5-.4 .5-.1 .5 .5 .5 .4 .5-.3 .5-.2 .5 .5 .5-.2 .5-.5 .5-.5 .5 .2 .5-.2 .5-.5 .5 1.6 .5 .6 .5-.3 .5 .3 .5 .1 .5-.8 .5-1.1 .5 .9 .5 1.2 .5 1.1 .5 .3 .5-.7 .5-1.9 .5-.4 .5 1.6 .5 .5 .5 .3 .5-.3 .5-.2 .5-.3 .5 .2 .5 .3 .5 .4 .5 .3 .5-.1 .5 0 .5 .2 .5 .2 .5-.2 .5-.7 .5 .3 .5 1.1 .5-.3 .5 0 .5-.4 .5-.6 .5-.2 .5 .5 .5 .4 .5 0 .5-.9 .5 .1 .5 .8 .5 .3 .5-1.1 .5 .6 .5 .3 .5 .2 .5 .1 .5 .7 .5 .8 .5-.4 .5-.1 .5-.3 .5-.4 .5 .3 .5-.2 .5-.4 .5 .4 .5 .2 .5 .2 .5-.3 .5 .2 .5 .8 .5 .2 .5 .2 .5-.3 .5-.6 .5-.2 .5 .2 .5 .6 .5-.3 .5-.6 .5 .1 .5 0 .5 .4 .5-.4 .5-.2 .5 .6 .5-.1 .5-.4 .5 1.4 .5 .4 .5-1.2 .5 .5 .5-.7 .5-.4 .5 0 .5 .3 .5 1.1 .5-.1 .5-.7 .5-.5 .5-.2 .5 .6 .5 .4 .5-.8 .5 .1 .5 .8 .5 .5 .5 0 .5-1.1 .5-.2 .5 .4 .5-.1 .5 .1 .5 1 .5 .1 .5-.8 .5-.6 .5-.5 .5-.9 .5-.3 .5 .2 .5 1 .5-.3 .5-.6 .5-.4 .5-.4 .5 2 .5 1 .5-.5 .5 .3 .5-.1 .5-.8 .5 1.2 .5 .5 .5-.5 .5-.2 .5 0 .5-.9 .5 .6 .5 .5 .5-.4 .5 .6 .5-.5 .5-.8 .5 .7 .5 .1 .5 .2 .5 .1 .5 .5 .5-.1 .5-.1 .5-.3 .5 .3 .5 .8 .5-.5 .5-.9 .5 .2 .5 1.1 .5-.1 .5-.4 .5-.1 .5-.5 .5-.4 .5 .4 .5 .8 .5 .1 .5-.4 .5 .6 .5 .2 .5-.1 .5-.2 .5-.5 .5-.2 .5 .3 .5-.1 .5-.4 .5-.5 .5 .6 .5-.6 .5-.5 .5-.2 .5 .9 .5 .4 .5-.4 .5-1 .5-1.4 .5-.3 .5 0 .5-.3 .5 .1 .5-.9 .5-1.3 .5-1.4 .5-2.1 .5-2 .5-1.1 .5-.4 .5 .1 .5 .8 .5 1.2 .5 .7 .5 1.4 .5 1.6 .5 .7 .5 1.3 .5 1.8 .5 .9 .5 .1 .5-.5 .5-.1 .5 .4 .5-.3 .5 .3 .5 .4 .5-.8 .5-.3 .5 .4 .5 .5 .5-.1 .5-.1 .5-.2 .5-1.1 .5 .1 .5 .7 .5-.5 .5-.4 .5 .2 .5 .3 .5 .2 .5 0 .5 .4 .5 .3 .5-.9 .5-.8 .5-2 .5-2.4 .5-1.8 .5-1.6 .5-11.6 .5-11.7 .4-7.3 .1 3.1 .5 12.4 .5 15.1 .5 7.5 .5 0 .5 .5 .5-.2 .5 .6 .5 .1 .5 .3 .5-.9 .5-.2 .5 2.1 .5 1.1 .5-.7 .5 .2 .5-.2 .5-.1 .5 .7 .5 .2 .5-1 .5 .4 .5-.1 .5-.3 .5 1.3 .5 .2 .5-1.1 .5 .6 .5-.4 .5-.2 .5 .7 .5-.2 .5 .2 .5 .7 .5-.2 .5-.6 .5-1.6 .5 .1 .5 1.1 .5-.4 .5-.2 .5-.3 .5 .1 .5 .3 .5 .9 .5-.5 .5-.1 .5 .6 .5 0 .5-1 .5 .3 .5 .4 .5 .2 .5-.3 .5-.4 .5 .1 .5 .1 .5 .4 .5-.4 .5-.3 .5 .4 .5 .9 .5 .5 .5-.8 .5 .1 .5 .1 .5-1.8 .5-.7 .5 .6 .5 1.5 .5 1.5 .5-.3 .5-.5 .5-1.1 .5-1.5 .5 .5 .5 1.8 .5 0 .5-.5 .5 .4 .5-.4 .5 1 .5 .1 .5-1.1 .5-.1 .5 .6 .5-.4 .5 .3 .5-.5 .5 .6 .5 0 .5-.4 .5-.2 .5 .1 .5-.6 .5 .2 .5 .5 .5 .2 .5-.3 .5 1 .5-.8 .5-.7 .5 1.4 .5 .3 .5-1.3 .5-.6 .5 .2 .5-.2 .5 .6 .5 .8 .5-.6 .5-.3 .5 .1 .5-.1 .5 .3 .5 .1 .5-.7 .5 .5 .5 .9 .5-.8 .5-.4 .5 1.1 .5-1 .5-.8 .5 .3 .5-.4 .5 0 .5 .5 .5-.1 .5-.4 .5-.1 .5 .5 .5 .3 .5-.6 .5 .3 .5 .9 .5-.5 .5 .3 .5 0 .5-1.5 .5-1 .5 .4 .5 0 .5-.7 .5-1.3 .5-.6 .3-.4 .2-.6 .5 1.7 .5 .6 .5 .2 .5 1 .5 1.4 .5-.5 .5-1.6 .5 .2 .5-.2 .5-.7 .5-1.3 .5-1.1 .5-.7 .5-2.1 .5-1.4 .5-.9 .5 .6 .5 2.1 .5 1.5 .5 .8 .5 .8 .5 1.4 .5 1.2 .5 .3 .5 0 .5-.3 .5 .3 .5 0 .5 0 .5 .9 .5-.5 .5-.1 .5 .8 .5-.1 .5-.8 .5-.8 .5-.3 .5 1 .5 .4 .5-.5 .5 .2 .5-1 .5-.4 .5 .7 .5-.2 .5-.2 .5-.7 .5-1 .5-.4 .5-.2 .5-.2 .5-.3 .5 .2 .5-1.5 .5-1.8 .5-.8 .5-4.8 .5-5.7 .5-5.3 .5-8.3 .5-9.9 .5-35.8 .5-50.6 .5-47.3 .2-17.9 .3 34.2 .5 58.2 .5 59.1 .5 23.7 .5 3.2 .5 3.7 .5 4.2 .5 2.3 .5 .5 .5 .1 .5 .3 .5-.7 .5 .7 .5-.3 .5-.2 .5 .5 .5 .5 .5 .6 .5 .2 .5-.4 .5-.4 .5 .5 .5 .2 .5 0 .5-1.1 .5-1.3 .5 1.5 .5 1.6 .5-.6 .5-.5 .5 .3 .5 .1 .5-.4 .5-.4 .5 .3 .5-.1 .5-.2 .5-.1 .5 .9 .5 1 .5-.1 .5-.2 .5 .5 .5 .9 .5-.6 .5 .2 .5 .4 .5-.9 .5-.2 .5 .7 .5 .1 .5-.4 .5-.3 .5-.4 .5-.2 .5 .6 .5-.6 .5-.9 .5 .3 .5-.3 .5 .4 .5 .7 .5 0 .5 .7 .5-.5 .5 .6 .5 .7 .5 .7 .5 0 .5-.5 .5-.2 .5 .3 .5 .3 .5-.4 .5 .1 .5 .1 .5-.1 .5 .7 .5 .7 .5-.9 .5 0 .5 .2 .5 .1 .5 .1 .5 .1 .5-.4 .5-.9 .5 .1 .5-.2 .5 .3 .5-.4 .5 .1 .5 .9 .5 .8 .5-.1 .5-.2 .5 .1 .5-1.1 .5-1 .5 .8 .5 .6 .5 1.2 .5 .1 .5-.7 .5 1.1 .5 0 .5-.7 .5 .1 .5 .2 .5-.8 .5-.8 .5 .1 .5-.3 .5 .5 .5-.1 .5 .3 .5-.3 .5 0 .5 .4 .5-.3 .5-.1 .5-.5 .5 .3 .5-.1 .5 0 .5-.4 .5-.9 .5 .9 .5 1 .5 .2 .5-1.2 .5-.3 .5 .7 .5 .6 .5 .1 .5 .3 .5 .9 .5 .5 .5-.6 .5-.9 .5 .2 .5-.1 .5-.2 .5 1.1 .5 .1 .5-.1 .5 1 .5 .4 .5 0 .5 .4 .5-.3 .5-.8 .5 .5 .5 .5 .5-.3 .5 .2 .5 .8 .5 .7 .5 .1 .5-.3 .5-.4 .5 .6 .5 0 .5-.1 .5 .5 .5-.5 .5-.3 .5 .6 .5-.1 .5-.3 .5-.5 .5 .4 .5-.1 .5-.4 .5 .5 .5 1.8 .5-.1 .5 0 .5 .4 .5-.2 .5-.3 .5-.6 .5 .3 .5 .5 .5 .5 .5-.2 .5-.8 .5-.5 .5 1.1 .5 1.2 .5 .3 .5-.5 .5-1.4 .5-.5 .5 1 .5 .5 .5 .1 .5 .6 .5-.3 .5-.8 .5 .4 .5 .7 .5 .4 .5 .2 .5 .9 .5-.9 .5-.6 .5-.3 .5 .4 .5 .7 .5 .1 .5-.3 .5 .1 .5-.7 .5-1 .5 .1 .5 2.7 .5 .4 .5-1 .5-.9 .5 .6 .5 .9 .5-1 .5 .7 .5 1.2 .5 0 .5 0 .5 .2 .5 .5 .5-1.6 .5-.7 .5 1.2 .5 .6 .5-.4 .5 .2 .5-.6 .5-.3 .5 1.5 .5 .8 .5-.2 .5-1.3 .5-.8 .5 .1 .5 1 .5 .6 .5-.3 .5-.7 .5 .4 .5 .4 .5 0 .5 0 .5 .2 .5 .4 .5 .1 .5-.2 .5 0 .5 .1 .5-.6 .5-.4 .5 .7 .5 .5 .5 .3 .5-.4 .5-.3 .5 0 .5-.4 .5-.6 .5 .1 .5 1.3 .5-1 .5 .2 .5 .9 .5 .1 .5 .2 .5 .1 .5 0 .5 .2 .5 .2 .5-1.4 .5-.6 .5-.2 .5-.3 .5 .3 .5-.1 .5-1.3 .5-.3 .5 .7 .5 .3 .5 .6 .5-.7 .5-.7 .5-.2 .5 .6 .5 0 .5 0 .5 .7 .5 .6 .5 .2 .5 .5 .5 1.1 .5 .3 .5-.3 .5-.8 .5-.4 .5 .6 .5 .6 .5 .1 .5 .2 .5 .5 .5 0 .5-.6 .5 .1 .5 .1 .5 .3 .5-.3 .5 .6 .5 .4 .5-.4 .5-.5 .5 .2 .5 .5 .5 .5 .5 .2 .5-.7 .5-.1 .5 1 .5 0 .5-.1 .5-.3 .5-.8 .5 .4 .5 .8 .5 .5 .5-.9 .5-1.4 .5 1.3 .5 1.6 .5 .5 .5 .4 .5 .7 .5 .1 .5-.3 .5-1 .5-.8 .5 .6 .5 .1 .5-.5 .5 .2 .5 .1 .5-.3 .5-.1 .5 .1 .5 .1 .5 0 .5-.5 .5-1.2 .5-.2 .5-1 .5-.4 .5-1.4 .5-3 .5-3.4 .5-1.4 .5 1.9 .5 2.5 .5 2.9 .5 1.2 .5 1.5 .5 1.1 .5 .1 .5 .6 .5 .3 .5-.6 .5 .3 .5-.2 .5-.3 .5 .8 .5 .7 .5 .6 .5-.2 .5 .5 .5 0 .5 .6 .5-.4 .5-.2 .5 .2 .5 .2 .5 .4 .5 0 .5-1.2 .5-1.1 .5-.5 .5 1.4 .5 1.1 .5 .1 .5-.4 .5-.3 .5-.3 .5 .5 .5-.2 .5-.7 .5 .5 .5-.5 .5 .1 .5 .1 .5-.3 .5-.5 .5 0 .5 .5 .5 .3 .5 1.4 .5-.8 .5-.8 .5 0 .5-.5 .5-.3 .5 1.4 .5 .6 .5-.6 .5 .2 .5 0 .5 .4 .5 .4 .5 .2 .5 0 .5-.2 .5 .4 .5-.3 .5 .3 .5 .3 .5-.6 .5-.3 .5 .7 .5-.5 .5-.2 .5 .4 .5 .8 .5-.5 .5-.7 .5 1.7 .5 1.5 .5-.3 .5-1.2 .5-.1 .5 .5 .5 .2 .5-.6 .5-.2 .5 .9 .5 .1 .5-1.1 .5 .2 .5 .5 .5 .2 .5 .5 .5 .2 .5-.4 .5-.7 .5-.7 .5 .9 .5 .8 .5-.4 .5-1.3 .5-.6 .5-.1 .5-1.5 .5-2.6 .5-3 .5-2.9 .3-.1 .2 0 .5 2.4 .5 3 .5 1.4 .5 .5 .5 1.4 .5 1.3 .5 .3 .5-.1 .5 .5 .5 .4 .5-.3 .5-.7 .5 .1 .5-.1 .5-.4 .5-.1 .5 .5 .5 .5 .5 1"/>
<path stroke="#050505" d="M47,597.5l.5 .7 .5-.1 .5 .2 .5-.1 .5-1.4 .5-.4 .5 0 .5 .7 .5 .9 .5-.1 .5-.6 .5-1 .5 .6 .5 .5 .5 .9 .5 .1 .5-.6 .5-.4 .5 .1 .5-.3 .5-.8 .5-.2 .5 .1 .5-.1 .5-.1 .5 .2 .5 .1 .5 .4 .5-.6 .5 .8 .5-.2 .5-.6 .5-.2 .5 .4 .5 .1 .5-.1 .5-.3 .5 .7 .5 1 .5-.6 .5-.8 .5 .2 .5 0 .5 .2 .5 .1 .5-1.1 .5-.7 .5 1 .5 .7 .5-.3 .5 .2 .5 .2 .5-.2 .5 .9 .5 .6 .5 0 .5-.1 .5 .4 .5 .2 .5-1 .5-.5 .5 0 .5-1 .5-.8 .5 .5 .5 .8 .5-.3 .5-1.3 .5-.6 .5 .7 .5 .1 .5 0 .5 .2 .5-.6 .5-2.3 .5-3 .5-5 .5-4.8 .5-1.6 0 .9 .5 2 .5 4.4 .5 4.2 .5 2 .5 .5 .5 1.6 .5 1.7 .5 .3 .5-.3 .5 1 .5-.1 .5 .2 .5 .8 .5-.2 .5-.3 .5 .9 .5-.2 .5-.9 .5-.4 .5-.5 .5 .7 .5 .4 .5-.2 .5-.2 .5 .4 .5 .4 .5 .3 .5-.6 .5-.2 .5 .9 .5 .6 .5-1 .5-.5 .5-.3 .5 1.2 .5 .4 .5-.4 .5-.9 .5-.5 .5 1.1 .5-.1 .5-1.3 .5-.5 .5 .9 .5 .7 .5 .8 .5-1.4 .5-.4 .5-.2 .5-1 .5 .4 .5 .7 .5-1.4 .5-1.8 .5-1.3 .5 0 .5-.2 .5 0 .5 .6 .5 1.4 .5 1.1 .5 .6 .5 .7 .5-.8 .5 .5 .5 1.3 .5 .1 .5-.2 .5 .8 .5 .4 .5-.4 .5-.5 .5-.4 .5-1.3 .5-1.6 .5-.5 .5-.1 .5-.6 .5 .7 .5 .9 .5 .6 .5 .8 .5 1.3 .5 .9 .5-.2 .5-.6 .5 .7 .5 .9 .5 .7 .5 .2 .5 .3 .5 .1 .5-.3 .5-.7 .5 0 .5-.6 .5-.9 .5 1 .5 2.1 .5-1.3 .5-1.2 .5 .9 .5 1.1 .5-.6 .5-.9 .5-1.7 .5-1.5 .5-1.8 .5-2.1 .2-.8 .3 1 .5 2.5 .5 2.2 .5 2 .5 .9 .5 .6 .5 1.1 .5-.3 .5-.7 .5-.5 .5 .9 .5 1.4 .5-.6 .5 .2 .5 .2 .5 .5 .5-.1 .5-.6 .5 .3 .5 .4 .5 .4 .5-.1 .5 0 .5 .7 .5 .5 .5-.5 .5-.8 .5 .7 .5 .2 .5 .6 .5 .7 .5-1.1 .5-.6 .5-.3 .5 .4 .5 .5 .5 1.1 .5-.1 .5-.4 .5 .6 .5-.9 .5 .5 .5 .7 .5-.4 .5-.4 .5 0 .5 .4 .5-.1 .5-1.3 .5 .5 .5 .7 .5-.5 .5-.4 .5 .8 .5 .5 .5 .9 .5 .5 .5-1.1 .5-1 .5 .4 .5 .7 .5 1.2 .5 .7 .5-.1 .5 .7 .5-.3 .5-.9 .5-.9 .5-.2 .5-.3 .5 1 .5 .1 .5 .3 .5-1.1 .5-1.2 .5 .5 .5 .3 .5-1.2 .5-2.6 .5-1.8 .5-.6 .5-.7 .5 .6 .5 2.4 .5 3.2 .5 .3 .5 .1 .5 1.3 .5 1.1 .5 1.2 .5 .2 .5-.2 .5-.3 .5-.2 .5-.6 .5 .2 .5 1.3 .5-.2 .5 .1 .5-.2 .5-.3 .5 0 .5-.3 .5 .6 .5 .9 .5 .3 .5 .1 .5 .1 .5-.4 .5-.8 .5-1.1 .5 .9 .5 1.2 .5-.1 .5 .1 .5-.7 .5 .3 .5 1.2 .5 .2 .5 .1 .5-.4 .5-1.3 .5-.8 .5 .7 .5-.8 .5-.1 .5 1.8 .5 .5 .5-.5 .5-.7 .5-.3 .5-.2 .5-.3 .5-.2 .5-.9 .5-1 .5 .8 .5 0 .5 .9 .5 .5 .5-.1 .5 .9 .5 .5 .5-.4 .5 .5 .5 .2 .5-.5 .5 1 .5 1.3 .5-.4 .5-.4 .5 .9 .5 1.6 .5 .2 .5-.9 .5-.7 .5 .4 .5-.1 .5-.4 .5 .5 .5 .9 .5-.5 .5-1 .5 1.1 .5 .7 .5 .1 .5-.3 .5 .4 .5-.1 .5-1.3 .5 1.3 .5-.2 .5-1.4 .5-.3 .5 1.4 .5 .5 .5 .9 .5-.1 .5-.1 .5 .8 .5-.1 .5 .3 .5 .1 .5-.3 .5 .2 .5-.4 .5-1 .5 .3 .5 .5 .5-.6 .5-.7 .5 .6 .5 .8 .5 .7 .5 .3 .5-.7 .5-.3 .5 0 .5-.2 .5-.2 .5-.2 .5 1.4 .5 1 .5-.4 .5-1.3 .5 .5 .5 1 .5-.9 .5-.4 .5-.1 .5 0 .5 .1 .5-.5 .5-2 .5-1.8 .5-1.5 .5-.1 .5 .7 .5 1.1 .5 1.2 .5 1.8 .5 .3 .5 .4 .5 .2 .5 1.5 .5 .7 .5-.8 .5 .3 .5 .3 .5 .1 .5 0 .5-.5 .5 0 .5-.3 .5-.5 .5 .2 .5 1 .5 0 .5 .3 .5 0 .5-.4 .5 .4 .5-.3 .5 .8 .5 .5 .5-1.1 .5-.4 .5 .4 .5 1.3 .5-1 .5-.8 .5 .8 .5-.2 .5-.3 .5-1.1 .5-.8 .5 .6 .5-.1 .5-.1 .5 .2 .5 .7 .5 1.2 .5 .5 .5-.4 .5-1 .5-.4 .5 .7 .5 .2 .5-.1 .5-.9 .5-.6 .5-.2 .5-.4 .5 .5 .5 .8 .5-.1 .5 1 .5 .8 .5 0 .5-.4 .5-.7 .5 .4 .5 .5 .5 .5 .5 .1 .5 .4 .5 .7 .5-.6 .5-.6 .5-.1 .5 .3 .5 .4 .5 1.1 .5 0 .5-.7 .5-.5 .5-.2 .5 .9 .5 1.1 .5-.4 .5-.6 .5-.7 .5-.3 .5 .9 .5 .3 .5 .3 .5-.6 .5-.2 .5 .2 .5 .2 .5 1 .5-.3 .5 0 .5-.3 .5 0 .5 .2 .5 .3 .5 .7 .5-.9 .5-.2 .5-.5 .5-.2 .5 .4 .5 .7 .5-.3 .5-.1 .5-.6 .5-.7 .5-.5 .5 1.7 .5 .5 .5-.8 .5 .1 .5-.2 .5-1 .5 .2 .5-.6 .5-.3 .5 .4 .5-1.3 .5-1.1 .5-.2 .5-1.7 .5-1.2 .5-1.4 .5-1.5 .5-1.5 .5-.3 .5 2 .5 .4 .5 .3 .5 .8 .5 2.6 .5 2.3 .5 1.3 .5 1.1 .5-.3 .5-.9 .5-.1 .5 .6 .5-.5 .5-.3 .5-.2 .5 1.1 .5 1 .5-.8 .5-.7 .5-.6 .5 1.5 .5 .8 .5 .1 .5-.9 .5-1.2 .5-.3 .5 .6 .5-.2 .5-.7 .5-.2 .5-.1 .5 .5 .5-.8 .5-.5 .5-.1 .5-.3 .5-1 .5-2.3 .5-3 .5-1.3 .5-12.5 .5-12.1 .4-9 .1 3.1 .5 14.7 .5 14.9 .5 6.8 .5 1.5 .5 .6 .5 0 .5 .4 .5 1.1 .5 .9 .5 .1 .5-.5 .5 .5 .5 .9 .5 .3 .5-1.2 .5-.8 .5 0 .5 1.5 .5 .5 .5-1.1 .5 .2 .5 .6 .5-.3 .5-.7 .5-.2 .5-.9 .5-1.3 .5-.1 .5-1 .5-1.2 .5 1.2 .5 1.2 .5-.3 .5 1.7 .5 1.1 .5-.1 .5 .5 .5 .4 .5 .4 .5-.4 .5-.3 .5-.1 .5 1.2 .5 .3 .5-1.1 .5 .4 .5 .8 .5-.6 .5-.8 .5 0 .5 1.7 .5 1.1 .5-1.1 .5-.2 .5-.1 .5-.4 .5-.1 .5 0 .5 .3 .5 1.6 .5 .1 .5-1.2 .5-.2 .5-1 .5 0 .5 .4 .5-1 .5-.2 .5 .5 .5-.1 .5 1.7 .5 .4 .5-.4 .5-.1 .5-.9 .5 .2 .5 1 .5 .3 .5-.4 .5-.6 .5 0 .5 .2 .5-1.4 .5-.4 .5 0 .5-.6 .5-.2 .5 .9 .5 1.3 .5 .4 .5-1.3 .5-1.3 .5 .1 .5 .3 .5 .1 .5-.1 .5-.1 .5-1.1 .5 .2 .5 1 .5 .5 .5-.3 .5-.6 .5-.4 .5-.4 .5-.1 .5-.4 .5-.4 .5 .4 .5-.7 .5-2.1 .5-1.3 .5-1.3 .5-1.8 .5-.8 .5 .4 .5 .3 .5 1.8 .5 2.6 .5 1.9 .5 .8 .5 .1 .5 1 .5 .6 .5 .1 .5-1.1 .5-.2 .5 .5 .5-.2 .5-.6 .5-.5 .5 .5 .5 1.4 .5-.5 .5-.5 .5-.2 .5 0 .5 .3 .5-.5 .5 .4 .5 1 .5-.4 .5-1 .5-.7 .5-.3 .5-.1 .5 .2 .5 .1 .5 0 .5 .2 .5 .1 .5 1.2 .5 .9 .5-1.7 .5-1.1 .5 .5 .5-.3 .5-.2 .5-1.6 .5-1.8 .5-2.5 .5-1.2 .5 1.4 .5 1.8 .5 .3 .5 .7 .5 1.6 .5 1.1 .5 .7 .5 1 .5 1.3 .5-.8 .5-1 .5 .3 .5 .4 .5-.3 .5 1 .5-.5 .5-.8 .5 .4 .5 .5 .5 .1 .5-1.2 .5 .3 .5 .3 .5-.1 .5-1 .5 .3 .5 1.1 .5-1 .5-1.2 .5 .3 .5-.3 .5-.6 .5 0 .5 .5 .5-.4 .5-.4 .5-.7 .5-1.4 .5-.5 .5-1.1 .5-3.3 .5-3.3 .5-4.6 .5-6.3 .5-7.6 .5-8.7 .5-35.6 .5-52 .5-49.1 .2-17.4 .3 35.3 .5 57.9 .5 59.7 .5 24.5 .5 2.6 .5 3.1 .5 2.1 .5 1.7 .5 1.2 .5 1 .5 .1 .5 0 .5 1.1 .5-.8 .5-2.2 .5-.4 .5-.7 .5-.3 .5-1 .5 0 .5 1.1 .5 1.4 .5 .6 .5 .4 .5 .7 .5 1.1 .5 .7 .5 0 .5-.1 .5-.2 .5-.1 .5 0 .5-.4 .5 .9 .5 1 .5-.6 .5-.4 .5 .3 .5-.3 .5 0 .5 .8 .5 .4 .5 1 .5-.2 .5-1 .5-.2 .5-.4 .5-.3 .5 1.3 .5 1.2 .5-.2 .5-.4 .5 .6 .5 .2 .5-.5 .5 .6 .5 .5 .5-.2 .5-.5 .5 .1 .5-.4 .5-.2 .5 .6 .5-.4 .5-1.3 .5 .7 .5 1.7 .5 .1 .5-.4 .5-.3 .5 .4 .5-.3 .5-.9 .5 .5 .5 1.3 .5 .4 .5-1 .5-1.2 .5-.1 .5 1.2 .5 .5 .5-.4 .5-.1 .5 .5 .5 .1 .5-.5 .5-1 .5 .8 .5 1.2 .5 .1 .5 .6 .5-.9 .5-.8 .5 .3 .5-.1 .5-.7 .5 .1 .5 .3 .5 .5 .5-.6 .5-.6 .5-1.1 .5-.1 .5 .6 .5-.1 .5 .4 .5 .7 .5-.3 .5-1 .5 .4 .5 .5 .5-.8 .5-.8 .5 .3 .5 .9 .5-.8 .5-.9 .5-1.6 .5-1.6 .5-2.7 .5-1.7 .5-.5 .5 .1 .5 .6 .5 1.4 .5 .9 .5 1.8 .5 2.6 .5 1.6 .5 1 .5 .3 .5 .2 .5 1.4 .5 0 .5 .2 .5-.6 .5-1.6 .5-.5 .5 .8 .5 1.5 .5 .6 .5-.1 .5-.3 .5-1 .5-.2 .5 .3 .5 .3 .5-.1 .5 .5 .5 .4 .5-.8 .5-.4 .5-.4 .5-.3 .5 .1 .5 1 .5-.5 .5-1 .5 .4 .5 1.1 .5 .7 .5 .5 .5 .3 .5-.2 .5-.3 .5 .6 .5 .8 .5 .7 .5 .5 .5-.6 .5-1.5 .5-.7 .5 0 .5 .8 .5 .8 .5-.7 .5-.4 .5 1.5 .5 1.2 .5 .8 .5 .4 .5-.9 .5-.6 .5-.1 .5-.3 .5 .8 .5 1.5 .5 1 .5-.5 .5-1.2 .5-.6 .5-.2 .5-.5 .5 1.1 .5 .6 .5-.4 .5-.4 .5-.2 .5 1 .5-.1 .5-1.5 .5 .9 .5 1.5 .5 .5 .5-1 .5 .3 .5 1 .5-.3 .5-.8 .5 .1 .5 0 .5 .1 .5 .3 .5-.4 .5 .5 .5 .9 .5 .3 .5-.1 .5 0 .5 .7 .5 .2 .5 .4 .5-.1 .5 1.4 .5 .4 .5-1.7 .5-.7 .5-.1 .5 .7 .5 .3 .5-.6 .5-.3 .5 1 .5 1.7 .5 .1 .5-1.2 .5-.6 .5 .2 .5-.2 .5-.4 .5 .6 .5 1 .5 .2 .5-.4 .5-.9 .5 .3 .5 1.1 .5 .2 .5 .3 .5-.3 .5 .6 .5-.1 .5-.6 .5 .7 .5 1.6 .5-.3 .5-.9 .5-.5 .5-.1 .5 1.5 .5 0 .5-1.2 .5-.6 .5-1 .5 1.4 .5 .3 .5-.1 .5-.2 .5-.5 .5-.9 .5-.3 .5 .3 .5 .1 .5-1.2 .5-1.3 .5-1.2 .5-1 .5 .6 .5-.4 .5-.4 .5 1.6 .5 1.6 .5 1.2 .5 .4 .5-.9 .5 .9 .5 .2 .5 .5 .5 0 .5-1.6 .5-.6 .5 .4 .5-.8 .5-.1 .5 1.5 .5 1.1 .5-.6 .5 .9 .5 1.4 .5-1.4 .5-1.1 .5 .2 .5 .5 .5 .1 .5 .5 .5 .1 .5 .3 .5-.2 .5-.3 .5-.4 .5-.2 .5 .7 .5 .7 .5 .2 .5 0 .5 .5 .5 1.5 .5-.2 .5-.3 .5-.6 .5 .8 .5 .6 .5-.6 .5-.5 .5 .6 .5-.5 .5-.9 .5 .2 .5 1.1 .5 .3 .5 .8 .5 .7 .5 .4 .5-.4 .5-.3 .5-.3 .5-.5 .5-.1 .5 .6 .5 .4 .5-.1 .5 .6 .5-.1 .5-1.5 .5 .1 .5 .6 .5 .6 .5-.3 .5 .8 .5 1 .5-1.1 .5 .1 .5 .2 .5-.5 .5-.4 .5-.1 .5-1.7 .5-1.4 .5-1.5 .5-2.3 .5-2.6 .5-1.7 .5 2 .5 3.2 .5 3.1 .5 1.7 .5 .8 .5 .8 .5 1.1 .5-.3 .5 0 .5-.5 .5-.1 .5 1.3 .5 .3 .5-.7 .5 .4 .5-.7 .5-.9 .5 .6 .5 1.4 .5 .5 .5 .5 .5 1 .5-1 .5-1.6 .5 .3 .5 1.2 .5-.3 .5-.5 .5-.2 .5 .1 .5 .4 .5 .6 .5 .1 .5 .2 .5 .2 .5-.9 .5-.4 .5 .2 .5-.2 .5 1.2 .5 .5 .5-.4 .5-1.1 .5-.1 .5-.3 .5-1 .5-.5 .5 .5 .5 .1 .5 .3 .5 1.6 .5 1.2 .5-.7 .5-.6 .5 .5 .5 1.1 .5-.1 .5-.1 .5-.2 .5 .3 .5 .6 .5-.2 .5-.9 .5-.3 .5 1.8 .5-.1 .5-1.2 .5-.7 .5-.3 .5-.3 .5 .6 .5 0 .5 .6 .5 .9 .5 .6 .5-.7 .5-.2 .5 .1 .5-.5 .5 .2 .5 .8 .5 .6 .5-.2 .5-.5 .5 .2 .5-.9 .5-.4 .5 1.2 .5-.4 .5-1 .5-.4 .5 .8 .5 1.1 .5-.1 .5 .6 .5-.6 .5-.2 .5-.6 .5-.6 .5-.3 .5-.6 .5-1.1 .5-.8 .5-.2 .5-1.2 .5-3.2 .5-2.5 .2-.6 .3 1.6 .5 2.1 .5 1.6 .5 2 .5 1 .5 1 .5 2 .5 .7 .5-.2 .5 .2 .5-.7 .5 .2 .5 .3 .5-.7 .5-.2 .5-.2 .5 .7 .5 .3 .5-1.1"/>
<path stroke="#a0a0a0" d="M748.7,287.5l.5-1.4 .5 .9 .5 .7 .5 .3 .5 .1 .5 .2 .5-1 .5-.4 .5 .3 .5-.2 .5-.5 .5 .1 .5 .6 .5-.1 .5-.6 .5-.6 .5 0 .5 1.5 .5-.1 .5 .3 .5 .2 .5 .5 .5-.1 .5-.5 .5 0 .5-.8 .5 .1 .5-.6 .5 .5 .5 .8 .5-.5 .5-.7 .5-.3 .5 .4 .5 1 .5 .1 .5-.8 .5-.4 .5 .5 .5-.5 .5-.1 .5 .7 .5 .7 .5 .3 .5 .1 .5-.3 .5-.2 .5 .8 .5 .5 .5-.5 .5 0 .5-.1 .5 .3 .5 .1 .5-.2 .5 0 .5 .2 .5-.9 .5-.6 .5 .2 .5 .4 .5-.4 .5 .1 .5 .9 .5 .6 .5-.7 .5-1.6 .5 .4 .5 .5 .5 .2 .5 .8 .5 .9 .5-.7 .5-.4 .5 .6 .5 0 .5-.1 .5-.3 .5 0 .5-.3 .5-1.2 .5 .5 .5 1.6 .5 .1 .5-.9 .5-.2 .5 .1 .5-.3 .5 .7 .5 1.3 .5-.2 .5-.1 .5-.5 .5 .2 .5 0 .5-1 .5 0 .5 .5 .5 .6 .5 .7 .5-.8 .5-1 .5 .1 .5-.2 .5 .6 .5 1 .5-.9 .5-.2 .5-.1 .5 .6 .5 0 .5-.2 .5-.1 .5 .1 .5-.8 .5-.3 .5 .2 .5 1.1 .5-.6 .5-.5 .5 .8 .5 1.2 .5-.6 .5 0 .5 0 .5-.6 .5-.7 .5 0 .5-.8 .5-.5 .5 1.1 .5-1 .5-2.4 .5-2.3 .5-1.6 .5-.4 .5 .2 .5 1.2 .5 1.2 .5 2.9 .5 2.3 .5 .7 .5 .6 .5 .8 .5 1 .5 .3 .5-.6 .5-.1 .5 .6 .5 .2 .5-.1 .5 .6 .5-.1 .5-.3 .5 1 .5 1.6 .5-.5 .5-.1 .5 .8 .5-1.5 .5-1.5 .5 .2 .5 1 .5 1.4 .5 0 .5-.8 .5 .8 .5-.3 .5 .6 .5 .3 .5 0 .5-.1 .5-.2 .5-.4 .5 .7 .5 .9 .5 .7 .5 .7 .5-.4 .5-.1 .5 .3 .5-.9 .5-1.5 .5-.1 .5 1.9 .5 .7 .5-.1 .5-.4 .5 .5 .5 .7 .5-.8 .5-.8 .5 .6 .5 .8 .5-1.1 .5-1.3 .5 0 .5 1.2 .5 1.6 .5 .2 .5-.6 .5 0 .5 .7 .5 .2 .5 .1 .5 .1 .5 .4 .5 .6 .5-1 .5 .3 .5 .3 .5 .7 .5-.3 .5 .3 .5 .3 .5 .2 .5-.2 .5-.5 .5 .5 .5-.2 .5 .3 .5 .8 .5 .2 .5-.3 .5-1.8 .5 .3 .5 .9 .5-.6 .5 .6 .5 1.1 .5-.2 .5-.8 .5 .4 .5 .5 .5-.4 .5 0 .5-.4 .5-.3 .5 .6 .5 .2 .5 .6 .5 .1 .5-.4 .5 .7 .5 .4 .5 0 .5 .2 .5-.2 .5-.2 .5 .4 .5 .4 .5 .1 .5-1.2 .5 0 .5 0 .5 .6 .5 .7 .5 .3 .5 .2 .5-.8 .5-1.6 .5 1.1 .5 1.8 .5 .4 .5-1 .5-.5 .5 1 .5-1.1 .5 .5 .5 .5 .5 0 .5-.7 .5 .5 .5 .9 .5-.9 .5-.7 .5 .6 .5 .3 .5-.2 .5 0 .5 .7 .5-.3 .5-.3 .5 .3 .5 .1 .5-.1 .5-.7 .5 .6 .5 1.1 .5 .7 .5-.3 .5-.3 .5 .4 .5 .3 .5 .6 .5-.8 .5-.8 .5-.1 .5-.7 .5 .5 .5 .4 .5 .3 .5 .3 .5-.4 .5-.5 .5 .1 .5 .4 .5 .7 .5-.1 .5-.3 .5 .6 .5 .4 .5-.6 .5-.1 .5-.7 .5 .4 .5 .6 .5-1 .5 .2 .5 .6 .5 1 .5 .2 .5-1 .5-.5 .5-.7 .5 1.2 .5 .8 .5-.3 .5-1.4 .5 .5 .5-.1 .5-1 .5 .8 .5 1.1 .5 .6 .5-.1 .5-.4 .5 .2 .5-.2 .5-.3 .5-.2 .5 .7 .5 .7 .5 .6 .5-.3 .5 .3 .5-.2 .5-.3 .5-1 .5-.3 .5 .5 .5 .5 .5-.1 .5 .1 .5-.1 .5 .2 .5-.5 .5-.2 .5 .5 .5 .6 .5 .4 .5-.7 .5-.3 .5 .2 .5 .8 .5 .3 .5-.7 .5-1.2 .5-.2 .5 .9 .5 .6 .5-.2 .5-1.2 .5 .1 .5-.4 .5 .2 .5 1 .5 .7 .5-.5 .5-.3 .5 .7 .5 1.4 .5 0 .5-1.7 .5-.2 .5 .7 .5 .6 .5 .1 .5-.3 .5-1.1 .5 0 .5-.3 .5-.3 .5 .2 .5 .3 .5 1.2 .5-.7 .5-1.1 .5 .4 .5 1.1 .5-.2 .5 .2 .5 .5 .5 .2 .5-.4 .5-.6 .5-.8 .5-.2 .5 .8 .5 .6 .5-.3 .5-.4 .5 .1 .5 .9 .5-.8 .5-.6 .5 .2 .5 .7 .5-.2 .5-.9 .5 .6 .5 .1 .5 .2 .5 .6 .5-.3 .5-.9 .5 .3 .5 1.1 .5 .1 .5-.6 .5-.4 .5 .1 .5-.4 .5-.9 .5-.2 .5 .7 .5 .4 .5 .2 .5-.4 .5 .1 .5-.2 .5 .3 .5-.2 .5-.8 .5-.2 .5 .5 .5 .5 .5 .4 .5-1.1 .5-.5 .5 .9 .5 1.2 .5-.4 .5-1.7 .5-.6 .5-.3 .5-1.3 .5-1 .5-.9 .5-.5 .5 .4 .5 1.2 .5 1 .5 .4 .5 .7 .5 .1 .5-.1 .5 1.4 .5 2.5 .5-.3 .5-.6 .5-.4 .5-.6 .5 .1 .5 .3 .5 .3 .5 .3 .5-.5 .5-1.7 .5 .5 .5 1.1 .5-.3 .5 .2 .5 .4 .5 0 .5 .1 .5-.6 .5-.6 .5-.7 .5-.8 .5 1 .5 .4 .5-.1 .5-.3 .5 .8 .5 .1 .5-.3 .5 .1 .5 1.3 .5 0 .5-.8 .5-.6 .5 .5 .5 .9 .5 .4 .5-1.4 .5-1.3 .5 .1 .5 1.4 .5-.9 .5 .2 .5 .4 .5-.2 .5-1.3 .5-.8 .5 .6 .5 .5 .5-.3 .5-1.5 .5-.2 .5 .1 .5-.7 .5 .6 .5 .4 .5-1.1 .5-.8 .5 .6 .5 .1 .5-.7 .5-1.3 .5-2.2 .5-.9 .5-1.4 .5-2.4 .5-2.1 .5-1 .5 .1 .5 0 .5 .7 .5 2.2 .5 2 .5 1.6 .5 .4 .5 1.1 .5 1.7 .5 1.5 .5-.8 .5-1 .5 .4 .5-.1 .5-.6 .5 .5 .5 .4 .5 .7 .5 .6 .5 .2 .5-.4 .5-.6 .5 .2 .5 .5 .5 .2 .5-.8 .5 .1 .5 1 .5-.1 .5-.7 .5-.1 .5-.1 .5 0 .5-.3 .5-1 .5-1.4 .5-2.1 .5-2.2 .5-1.1 .5-.9 .5-11.4 .5-12.6 .4-10.2 .1 1.3 .5 15 .5 15.6 .5 9.1 .5 .3 .5 .1 .5-.2 .5 .1 .5 .8 .5 .5 .5 .8 .5-.1 .5-.3 .5 1 .5 1 .5-1.1 .5 .3 .5 .1 .5-.8 .5-.4 .5 .4 .5 .4 .5 .5 .5-.1 .5-.5 .5-.8 .5 .1 .5 0 .5 0 .5 .8 .5-.6 .5-.5 .5 .1 .5-.5 .5 .7 .5 .6 .5 .1 .5 .6 .5 .8 .5 0 .5-.6 .5-.4 .5-.6 .5-.2 .5 0 .5 .2 .5-.1 .5 .1 .5 .6 .5-.6 .5 .1 .5 .5 .5-.6 .5-.3 .5 .6 .5 1.1 .5-.7 .5-.7 .5 .2 .5-.4 .5-.7 .5 1.1 .5 1.1 .5 .1 .5-.9 .5-.3 .5 .8 .5 .2 .5 .2 .5 .1 .5-.5 .5-.5 .5-.5 .5-.1 .5 .1 .5-.2 .5-.1 .5-.8 .5 .3 .5 .8 .5 0 .5-.2 .5 .1 .5 1.1 .5 .6 .5-.9 .5 .1 .5-.8 .5-.5 .5-.8 .5 .5 .5-.2 .5-.4 .5 0 .5-.2 .5-.3 .5 .2 .5 .6 .5 .1 .5 .8 .5 1.5 .5 .3 .5-.3 .5-.1 .5-.6 .5 .1 .5-.4 .5 .5 .5 1 .5 .5 .5 .2 .5-.3 .5-.2 .5 .3 .5 .8 .5-.3 .5-1.1 .5 .5 .5 .7 .5-.6 .5-.2 .5-.6 .5-.2 .5 .5 .5 0 .5-.2 .5-.8 .5 0 .5 .7 .5 .3 .5 .3 .5-.4 .5 .8 .5 .2 .5-.1 .5 .1 .5-.4 .5-.2 .5-.2 .5-.3 .5 .6 .5 .2 .5-.6 .5 .6 .5 0 .5-.2 .5 .3 .5 .6 .5 .3 .5-.4 .5 .2 .5-.6 .5-.3 .5-.4 .5-1.1 .5-.6 .5 .4 .5-.2 .5-1.1 .5-1.7 .5-.8 .5-2.3 .5-1 .5 1.6 .5 1.5 .5 .8 .5 1.4 .5 .6 .5 1.9 .5 1.8 .5 .4 .5-.4 .5-.3 .5-.6 .5 .6 .5 .1 .5-.4 .5 .6 .5 .5 .5-.4 .5 0 .5-.5 .5-.4 .5-.1 .5-.5 .5 .4 .5 1.3 .5 .4 .5-1.5 .5-1.1 .5 1.4 .5 .1 .5-.5 .5 .4 .5-.5 .5-1.4 .5-.3 .5-.1 .5-1.7 .5-.8 .5-2.1 .5-3.5 .5-5 .5-7.1 .5-8.8 .5-9.4 .5-38.4 .5-54.5 .5-52.2 .2-18.2 .3 37.4 .5 61.4 .5 63.8 .5 26.7 .5 3.4 .5 2.8 .5 2 .5 1.7 .5 1.9 .5 1.5 .5 1.1 .5 .8 .5-.4 .5-.2 .5 1.4 .5 .2 .5-.5 .5 0 .5 .5 .5 .7 .5-.4 .5-1.2 .5-.8 .5 .2 .5 1.5 .5 1.1 .5 .3 .5-.4 .5-.1 .5-.4 .5 .2 .5 0 .5-.5 .5 0 .5 .7 .5-.8 .5 .6 .5 .2 .5 .5 .5 .1 .5 .5 .5-.4 .5-.4 .5-.3 .5 .1 .5 .9 .5 1 .5-.2 .5 .3 .5 .1 .5-.7 .5 .3 .5 .3 .5-.2 .5 .1 .5-.2 .5 .5 .5 .3 .5-.2 .5 .2 .5 1 .5 .2 .5-.6 .5 .4 .5 .1 .5 .1 .5 0 .5 .3 .5-.3 .5 .1 .5 .6 .5-.2 .5-.5 .5 .7 .5 .3 .5 .2 .5-.6 .5-.3 .5 .3 .5 .2 .5 .1 .5-.9 .5-.5 .5 .3 .5 .8 .5 .8 .5-.3 .5-.2 .5 .4 .5 .7 .5 1.2 .5-.5 .5-1.3 .5-.8 .5 .3 .5 .4 .5 .8 .5 .4 .5-1.9 .5-1.5 .5 .1 .5 0 .5 1 .5 .9 .5-.4 .5-.5 .5 1.2 .5 .8 .5-.6 .5 .2 .5 .6 .5 .3 .5-.2 .5 0 .5-.1 .5-.2 .5 .1 .5 .2 .5-.4 .5 .6 .5 .4 .5 .4 .5-.1 .5-.7 .5 0 .5 .7 .5 .1 .5 .1 .5-.6 .5-.3 .5 .7 .5 .4 .5 .4 .5 .4 .5-.1 .5-.4 .5-1.4 .5-.7 .5 .6 .5 0 .5 .2 .5 .6 .5-.2 .5 1.1 .5 1.1 .5 .8 .5-.3 .5-.3 .5-1.3 .5-.2 .5 .6 .5-.5 .5 .8 .5-.6 .5-.3 .5 1.2 .5 .1 .5 .7 .5-1.3 .5 0 .5 .7 .5 0 .5-.5 .5 .6 .5 .4 .5-.1 .5-.8 .5 .1 .5 .4 .5 .7 .5-.4 .5-.5 .5 .1 .5 .6 .5-.4 .5-.3 .5-.3 .5 1.3 .5-.1 .5-.9 .5 1.1 .5 1 .5-.2 .5-.3 .5-.1 .5-.7 .5 .1 .5 .4 .5 0 .5 0 .5 .9 .5-.6 .5-.7 .5 .6 .5 .6 .5 .3 .5 .2 .5-1 .5-.3 .5 .9 .5 .4 .5-1.3 .5-.8 .5 .7 .5 .2 .5 0 .5 .3 .5 .3 .5 .5 .5-.8 .5 .2 .5 .9 .5 .9 .5 .1 .5-.7 .5 .2 .5 .6 .5 .3 .5-1.3 .5-.4 .5 .9 .5 .2 .5 .3 .5-.3 .5-.3 .5-.1 .5 .7 .5 .5 .5-1 .5-.4 .5 .8 .5 0 .5-.2 .5 .1 .5 .6 .5-.6 .5-.2 .5 .3 .5-.3 .5-.5 .5 .9 .5 0 .5 .3 .5 0 .5-.1 .5-.3 .5-.1 .5 .7 .5 .6 .5 .2 .5-.4 .5-.5 .5 1.2 .5 .8 .5-.8 .5-.9 .5-.4 .5 .1 .5-.1 .5 .6 .5-.1 .5-.1 .5 .1 .5-.8 .5-.3 .5 1 .5 .7 .5-.5 .5 0 .5-.8 .5 .4 .5 1 .5 .2 .5-1.4 .5 0 .5 0 .5 .3 .5-.1 .5-.1 .5-.4 .5 .1 .5 .8 .5 .4 .5-.7 .5-.7 .5-.2 .5 .2 .5-1.9 .5-.9 .5 .8 .5 .9 .5 .4 .5 0 .5-.4 .5-.4 .5-.5 .5 .1 .5 .7 .5 .2 .5 .9 .5 .4 .5-.4 .5 .1 .5 .5 .5 .8 .5 .1 .5-.4 .5 .9 .5 .6 .5-.5 .5-.3 .5-.3 .5-.3 .5 .4 .5 .1 .5 .2 .5 .6 .5-.3 .5-.1 .5 .4 .5-.1 .5-.7 .5 .9 .5 .6 .5-.8 .5 .1 .5 0 .5-.1 .5 .7 .5-.3 .5-1 .5 .7 .5 1 .5-.4 .5-.2 .5 .2 .5 .5 .5 .2 .5-.7 .5-.1 .5 1 .5 .7 .5 .1 .5-.3 .5-.9 .5-.5 .5 .5 .5 .3 .5-.4 .5 .7 .5 .6 .5-.1 .5 1.1 .5-.4 .5-1.5 .5-.5 .5 .2 .5 .6 .5-.5 .5-1.2 .5-.7 .5-1.4 .5-2.7 .5-4.7 .5-3.2 .3-.6 .2 .6 .5 3.8 .5 3.2 .5 2.4 .5 2.2 .5 1.7 .5 1.2 .5 .7 .5 .2 .5-.3 .5 1.5 .5 .4 .5-1.2 .5-.4 .5 .9 .5 .1 .5-.8 .5-.1 .5 .8 .5-1.3 .5-1.2 .5 1.4 .5 1.3 .5 .4 .5 .6 .5-.1 .5-1.6 .5-1.2 .5 .4 .5 1.5 .5-.6 .5-1.3 .5 .1 .5 1.1 .5 .2 .5 0 .5-.3 .5-.1 .5 .8 .5 .3 .5-.1 .5-.4 .5 0 .5 .2 .5-.2 .5 .5 .5 .2 .5-.5 .5 .1 .5 .2 .5 .1 .5 .2 .5 0 .5-.1 .5-.2 .5 0 .5-.6 .5-.4 .5 .6 .5-.6 .5 1 .5 1.5 .5-.6 .5-.9 .5 .6 .5 0 .5-.7 .5 .1 .5 0 .5 .3 .5 .1 .5-.4 .5 1.2 .5 .7 .5-1 .5-.7 .5 .5 .5 .8 .5-.5 .5 .4 .5 .5 .5-1 .5-.3 .5-.1 .5 .1 .5 .2 .5-.1 .5 .3 .5 .4 .5 .6 .5-.1 .5-.2 .5 .1 .5-.5 .5-.3 .5-.2 .5 .3 .5-.6 .5 .1 .5-.7 .5-.4 .5-.9 .5-.7 .5-.7 .5-1.2 .5-2.4 .5-3 .5-1.9 0-.2 .5 2.2 .5 3.1 .5 1.6 .5 1.5 .5 2 .5 1.2 .5-.7 .5-.6 .5-.2 .5-.1 .5-.1 .5 .2 .5 1.3 .5 .5 .5-.6 .5-.1 .5 .3 .5-.2"/>
<path stroke="#6a6a6a" d="M748.7,262.5l.5-.9 .5-1 .5-.4 .5 1.6 .5 1.3 .5-.3 .5 .1 .5-.3 .5-.1 .5 .7 .5-1 .5 .5 .5 1.1 .5-1 .5-.8 .5-.1 .5-.1 .5-1.1 .5 1 .5 1.4 .5-.4 .5-.4 .5 .3 .5 0 .5 .2 .5-.2 .5-.6 .5 .5 .5 .1 .5 .2 .5-.5 .5-.5 .5 .1 .5 .2 .5 .7 .5 .1 .5-.2 .5-.6 .5 .7 .5 0 .5 .4 .5-.2 .5-.9 .5 .3 .5-.1 .5 .6 .5 .4 .5-.2 .5-.4 .5-.8 .5 .4 .5 .4 .5 0 .5-.4 .5 .2 .5-.2 .5-1.2 .5 .3 .5 .7 .5-.5 .5 0 .5 1.2 .5 0 .5-.3 .5-.1 .5-.1 .5 0 .5 .3 .5 .9 .5 .4 .5-.8 .5-.3 .5-.3 .5-.2 .5 .7 .5 .2 .5-.6 .5 .2 .5 .1 .5 .4 .5 0 .5-1.2 .5-.9 .5 .5 .5-.3 .5 .1 .5 1 .5 .8 .5-.5 .5-.9 .5-.6 .5 .2 .5 .3 .5 .7 .5-.1 .5 .1 .5 0 .5 .3 .5 .6 .5-.1 .5-.6 .5 0 .5 .6 .5 .1 .5-.2 .5-.1 .5-.8 .5-.5 .5-.1 .5 .7 .5-.7 .5 .1 .5 1 .5-.5 .5-.1 .5 .5 .5 .3 .5 .2 .5-.3 .5 .3 .5 .2 .5-.3 .5 .3 .5-.9 .5-.3 .5 .3 .5 .2 .5-1.1 .5-.6 .5 0 .5-.5 .5-1.9 .5-1.9 .5-.5 .5-.5 .5-.2 .5 .9 .5 1 .5 2.4 .5 1.6 .5 1.3 .5 .9 .5 .1 .5-.1 .5 .4 .5-.5 .5 .7 .5 1.4 .5-.2 .5-1 .5 .9 .5 .1 .5-.1 .5 .7 .5 .6 .5 .1 .5-1 .5 .3 .5 .1 .5-.1 .5 1.6 .5 .5 .5-1 .5 0 .5-.1 .5 .1 .5-.1 .5 .5 .5-.3 .5 1 .5 .5 .5 .2 .5-1.3 .5-.2 .5 .1 .5 .6 .5 .4 .5-.7 .5-.7 .5 .2 .5 1.2 .5 1.1 .5-.1 .5-.8 .5-.6 .5-.2 .5-.4 .5 .2 .5 1.2 .5 .1 .5 .1 .5 .5 .5 .8 .5-.1 .5-1.2 .5-.2 .5 .6 .5 1.1 .5 .4 .5 0 .5 .7 .5-1 .5-1.4 .5-.1 .5 1 .5 .6 .5-.4 .5 .6 .5 .4 .5-.2 .5 .5 .5 .4 .5-.6 .5-.6 .5 .4 .5 .9 .5 .4 .5-1.1 .5-.8 .5 1 .5 .3 .5-.3 .5 .6 .5 .2 .5 .1 .5-1 .5-.2 .5 .4 .5 .3 .5 .9 .5-.1 .5-.1 .5 .7 .5 .1 .5 .1 .5-.4 .5-.4 .5-.2 .5-.2 .5-.2 .5 .6 .5 .7 .5-.3 .5 0 .5 .8 .5-.9 .5 .6 .5 .6 .5 0 .5-.6 .5 0 .5 .4 .5 .6 .5-.2 .5-.1 .5 .4 .5 .7 .5-.3 .5-.6 .5-.6 .5 .1 .5-.1 .5 .5 .5-.2 .5-.6 .5 .1 .5 .6 .5 .3 .5-.3 .5 0 .5-.1 .5 .1 .5 .3 .5 .9 .5 .6 .5-.4 .5-.4 .5 .8 .5 .1 .5-.6 .5 .2 .5-.4 .5-.4 .5 .4 .5 1 .5-.2 .5-.3 .5-.2 .5 0 .5 .4 .5 .6 .5 .2 .5-.8 .5 .6 .5-.4 .5-.9 .5 1.2 .5 1 .5-.2 .5-.4 .5-.7 .5-.7 .5 .9 .5 0 .5-.4 .5 .4 .5 .6 .5 .9 .5-1.2 .5-.9 .5-.2 .5 1 .5 .9 .5-.1 .5 .2 .5 .7 .5 .1 .5 0 .5-.7 .5-1.1 .5 .6 .5 .2 .5 .7 .5-.5 .5-.1 .5-.2 .5-.5 .5 .6 .5 .7 .5-.5 .5 0 .5 .3 .5-.2 .5 0 .5 .4 .5-.1 .5 .1 .5 0 .5-.5 .5 .4 .5 1.9 .5 .3 .5-.8 .5 .2 .5 .4 .5-.2 .5-.7 .5-.8 .5-.1 .5 1.1 .5 1.3 .5-.1 .5-.8 .5-.1 .5 1.1 .5 .3 .5-1.1 .5-.1 .5 .3 .5-.3 .5-.1 .5 .2 .5-.1 .5-.7 .5 .9 .5 .9 .5 .2 .5-.1 .5-.3 .5 .1 .5 .5 .5-.7 .5 0 .5 .3 .5-.6 .5-.8 .5 0 .5 .5 .5 .1 .5 .4 .5 .7 .5 .2 .5-.4 .5-.2 .5 .8 .5 .6 .5 0 .5-1.1 .5 0 .5 .6 .5-.7 .5 .4 .5 .4 .5-.4 .5-.4 .5 0 .5-.1 .5 .7 .5-.3 .5-.1 .5 .1 .5 0 .5-.1 .5-.2 .5-.2 .5-.4 .5-.5 .5-.2 .5 0 .5-.1 .5-.2 .5 .7 .5 .6 .5 .2 .5-.4 .5 .3 .5 .7 .5 .6 .5-1.5 .5-.3 .5 .1 .5 .9 .5-.2 .5 0 .5 .1 .5-.5 .5-1.6 .5 .5 .5 .6 .5 0 .5 1.2 .5 .2 .5-1.1 .5 .2 .5 1.1 .5 .6 .5 0 .5-.8 .5-.8 .5 .3 .5 0 .5-.2 .5 .1 .5-.2 .5 .4 .5 .8 .5-.3 .5-.2 .5-.7 .5-.7 .5-.3 .5 .5 .5 1 .5-1 .5-1.2 .5 .6 .5-1.1 .5-.9 .5-.7 .5-.5 .5 1.9 .5 .7 .5-.2 .5 .5 .5 0 .5 .3 .5 0 .5 .1 .5 .6 .5 .6 .5 .8 .5-.8 .5 .7 .5 .2 .5-.6 .5 .1 .5 1.1 .5 .1 .5-1.1 .5-.3 .5 .6 .5 .4 .5-.8 .5 .2 .5 .3 .5-1.1 .5 .6 .5 .6 .5-.6 .5-.5 .5-.4 .5 .5 .5-.3 .5 .1 .5 .4 .5 0 .5 .6 .5 .1 .5-.3 .5 .1 .5-1.2 .5-.7 .5 1.3 .5 .4 .5-.6 .5-.2 .5 .6 .5-.5 .5-.4 .5 .6 .5 .8 .5-1.4 .5-1.3 .5 .8 .5-.4 .5-.4 .5 .9 .5 .2 .5 .3 .5-.1 .5 .5 .5-.3 .5-.9 .5 0 .5 0 .5-1.4 .5-1.9 .5-.4 .5-.5 .5-1 .5-2.1 .5-1.9 .5-2.3 .5-1.8 .5-.9 .5 0 .5 1.1 .5 1.8 .5 1.1 .5 1.5 .5 1.9 .5 1.5 .5 .7 .5 .9 .5 .8 .5 .3 .5-.6 .5 .1 .5-1.5 .5 0 .5 1 .5-.2 .5 0 .5 0 .5-.4 .5 .1 .5 .8 .5 .8 .5 .3 .5-.3 .5-.3 .5 .1 .5-1.1 .5 .6 .5 1 .5 .1 .5-.3 .5-.4 .5-.8 .5-1.6 .5-2.2 .5-.8 .5-.9 .5-1.1 .5-2.4 .5-10.1 .5-12.2 .5-11.5 0 .3 .5 14.5 .5 14 .5 9.9 .5-.2 .5 1.1 .5 1.5 .5 .9 .5-.5 .5-.2 .5 .2 .5 .7 .5-.5 .5 .3 .5 .1 .5 .2 .5-.3 .5 .8 .5 .5 .5-.8 .5-.9 .5-.3 .5 1.1 .5 .3 .5 .2 .5 .1 .5-.7 .5-.2 .5 .5 .5 1.5 .5 .2 .5-.4 .5 .2 .5 0 .5-.3 .5 .3 .5-.1 .5-1.5 .5 .1 .5-.1 .5-.4 .5-.8 .5 .7 .5 .9 .5-.4 .5 .3 .5-.1 .5-.3 .5-.5 .5-.1 .5 .2 .5 .6 .5-.6 .5 .7 .5 0 .5 .5 .5 .6 .5-1 .5-.4 .5 .5 .5 .3 .5-.1 .5 .7 .5-.4 .5-.8 .5 0 .5 .7 .5 .7 .5 .4 .5-.5 .5-.5 .5-.2 .5-.3 .5 1.4 .5 .3 .5-.4 .5-.2 .5-.4 .5 .8 .5-.6 .5-.1 .5 .8 .5-.9 .5-.2 .5-.4 .5 0 .5 .2 .5 .4 .5 1 .5 .1 .5-.3 .5 .9 .5-.7 .5-.4 .5 0 .5-.4 .5 .6 .5-.7 .5-.1 .5 .9 .5-.7 .5-.1 .5-.2 .5 .4 .5 .1 .5-.6 .5 .7 .5 .6 .5 1.3 .5 .5 .5-.7 .5-.2 .5 .2 .5-.4 .5-1.4 .5-.3 .5 .3 .5-.1 .5 .5 .5 .1 .5-.2 .5 .8 .5 .7 .5-.5 .5 .1 .5-.3 .5-.3 .5-.5 .5 .3 .5 1.1 .5 .5 .5-.4 .5-.6 .5-.4 .5 .6 .5 .2 .5 0 .5 0 .5-.7 .5-.3 .5 .9 .5 .9 .5-1.1 .5-.7 .5 .2 .5 .8 .5 1.1 .5-.3 .5-1.4 .5-.4 .5 .4 .5 .1 .5-.2 .5 .5 .5-.6 .5-.4 .5-.7 .5-.8 .5-1.5 .5-1.2 .5-1.3 .5-2.3 .5-1.2 .5-.7 .5 1.2 .5 1.7 .5 1.9 .5 2.5 .5 2.1 .5 .3 .5 0 .5-.8 .5 .6 .5 .1 .5 .8 .5 .7 .5-.4 .5-.1 .5-.4 .5 0 .5 0 .5 .2 .5-.4 .5-.9 .5 .6 .5 .6 .5 .1 .5-1.3 .5 .7 .5 1.4 .5 .6 .5-.5 .5-.8 .5 .2 .5-.6 .5-.6 .5-.3 .5 .2 .5 0 .5-2 .5-1.3 .5-.3 .5-2.3 .5-4 .5-5.9 .5-7.2 .5-8.9 .5-9.3 .5-38.2 .5-54.4 .5-51.5 .2-17.5 .3 38.4 .5 61.6 .5 62.3 .5 25.1 .5 3.9 .5 2.9 .5 3 .5 2.2 .5 2 .5 .8 .5-.1 .5 2.2 .5 .6 .5-.6 .5 .2 .5 .7 .5 .3 .5 .2 .5-1 .5-1.1 .5 0 .5 .9 .5 .5 .5-.5 .5 .8 .5-.1 .5-.4 .5 .1 .5-1.5 .5-.2 .5 1.5 .5 .6 .5-.2 .5-.7 .5-.6 .5 .7 .5 .2 .5 .4 .5-.5 .5-.5 .5 .8 .5 .5 .5-.1 .5-.9 .5-.1 .5 .9 .5-.1 .5 0 .5 .7 .5 .2 .5-.4 .5-.3 .5 .2 .5-.9 .5 .3 .5 .2 .5-.7 .5 .5 .5 1 .5-.3 .5-.2 .5 1.3 .5 0 .5 .3 .5 .3 .5-1.4 .5-.1 .5 .6 .5 .8 .5 .1 .5 1 .5-.2 .5-.3 .5 .2 .5-.6 .5-.5 .5 .5 .5 .1 .5-.1 .5 .4 .5 0 .5 .3 .5 .6 .5 1.2 .5 .6 .5-.6 .5-1.3 .5-.3 .5 1.1 .5 .5 .5-.6 .5-.6 .5 .1 .5 .3 .5 .6 .5 .1 .5-.6 .5-.1 .5 1 .5-.2 .5 .1 .5 .1 .5 .3 .5-.1 .5-.8 .5-.3 .5 0 .5-.9 .5 .8 .5 .6 .5 .5 .5 0 .5-.6 .5-.5 .5 .5 .5 .5 .5 .5 .5-.1 .5-.2 .5 .5 .5 0 .5 .5 .5 .5 .5 .3 .5 0 .5 .2 .5-.8 .5-.5 .5 .4 .5-.4 .5 .7 .5 .2 .5-.2 .5 0 .5 .1 .5 .3 .5-1 .5-1 .5 .9 .5 1.2 .5 .4 .5-.3 .5-.5 .5 0 .5 .7 .5-.7 .5-1.1 .5 .2 .5 1.8 .5-.6 .5-.9 .5 .9 .5-.1 .5-.9 .5 .7 .5 .3 .5 .4 .5 .3 .5-.3 .5 .8 .5-.7 .5-.3 .5 .8 .5-.3 .5 .1 .5 .4 .5-.6 .5-.2 .5 .9 .5 .1 .5 0 .5 .3 .5-.3 .5 .3 .5-.4 .5 .1 .5-.1 .5 .6 .5-.1 .5-.3 .5 .1 .5 .3 .5 .2 .5-.3 .5 0 .5-.2 .5-.3 .5-.1 .5 .1 .5 .7 .5 .4 .5-.2 .5-.8 .5 .6 .5 1.4 .5 .3 .5-.7 .5 0 .5 .5 .5 .8 .5 .1 .5-.7 .5-.3 .5-.1 .5 .7 .5 .4 .5-.7 .5 0 .5-.6 .5-.3 .5-.2 .5 .9 .5 1.6 .5 .6 .5-.8 .5-.3 .5 .2 .5-1 .5-.7 .5 .5 .5 .1 .5-.2 .5 .9 .5 1.4 .5-.7 .5-.2 .5 .1 .5 .7 .5-.1 .5-.3 .5-.8 .5-1 .5 .1 .5 .9 .5 .3 .5 .2 .5 .6 .5 .9 .5-.2 .5-.8 .5 .5 .5 .3 .5-.3 .5 .1 .5 .8 .5 .4 .5-.8 .5-.5 .5-.1 .5-.6 .5 .5 .5 .1 .5 .5 .5 .5 .5 .2 .5-.7 .5-.1 .5 .8 .5 .7 .5-.5 .5-.2 .5 .2 .5 0 .5-.8 .5-.3 .5 0 .5 0 .5 0 .5-.6 .5 .1 .5 .2 .5 .1 .5-.2 .5-.2 .5 1.2 .5-.4 .5-.4 .5 0 .5 .8 .5 .3 .5-.6 .5-.4 .5 .4 .5 .8 .5-.8 .5-1 .5-.1 .5 .3 .5-.6 .5-.3 .5 0 .5 0 .5 .6 .5 .7 .5-.4 .5-.5 .5 0 .5 .5 .5 .1 .5 .4 .5 .9 .5 .5 .5 .2 .5-.1 .5-.4 .5 .6 .5 .5 .5 0 .5-.9 .5-.3 .5 .9 .5 .7 .5-.7 .5-.8 .5 .2 .5 .6 .5-.5 .5 .1 .5 .5 .5 0 .5 .6 .5 .2 .5-.4 .5-.3 .5 .8 .5 0 .5-1 .5-.5 .5 .3 .5 1 .5-.2 .5 .1 .5 .6 .5 .4 .5-.6 .5-.1 .5 .6 .5 .2 .5-.6 .5-.3 .5-.2 .5 1 .5 .1 .5 .4 .5 .2 .5 .1 .5-.1 .5-.6 .5 0 .5 0 .5-.1 .5 .5 .5 1.1 .5-.4 .5-.6 .5-.3 .5 .2 .5-1.3 .5-1.6 .5-1.7 .5-3.5 .5-3.7 .5-2.6 .3-1 .2 .8 .5 3.6 .5 3.5 .5 3.4 .5 1.3 .5 .5 .5 1.3 .5 1 .5 0 .5-.8 .5 .1 .5 1.3 .5 1.1 .5-.3 .5-1.1 .5-.1 .5 .5 .5 .5 .5-.1 .5-.3 .5-.9 .5-1.2 .5 .7 .5 .7 .5 .1 .5 1.2 .5-.7 .5 .4 .5 .6 .5-.4 .5-.7 .5 .5 .5 .9 .5-.2 .5-.6 .5-.9 .5 .8 .5 .8 .5-.8 .5-.8 .5 .5 .5 .5 .5 .1 .5 .1 .5 1 .5 .2 .5-.4 .5 .2 .5-.9 .5 .6 .5 1 .5-.5 .5-.5 .5 0 .5-.2 .5-.3 .5-.1 .5 .4 .5 .2 .5 .1 .5-.1 .5 .3 .5 .5 .5-.2 .5 .2 .5-.6 .5-.4 .5 .1 .5-.2 .5 0 .5 .2 .5 .7 .5 .4 .5 .9 .5-.5 .5-.4 .5 0 .5 .3 .5-.1 .5 .1 .5 .3 .5 .2 .5-.8 .5 .3 .5 0 .5-.2 .5-.2 .5 .7 .5 .2 .5-.4 .5-.2 .5 .2 .5-.7 .5-.3 .5 .8 .5-.4 .5-.9 .5 .2 .5 .6 .5 .3 .5-.9 .5-1.1 .5-1.2 .5-1.3 .5-1.8 .5-2.9 .5-2.4 .3-.8 .2 .7 .5 1.9 .5 3.1 .5 2.5 .5 1.8 .5 1.4 .5-.5 .5-.2 .5 .6 .5 .3 .5-.2 .5 .5 .5-.8 .5-.2 .5 .3 .5 0 .5-.3 .5 1.1 .5 .6 .5-.8"/>
<path stroke="#2e2e2e" d="M748.7,236.7l.5 .1 .5 .8 .5 .2 .5 .6 .5-.4 .5-.5 .5 .5 .5 .2 .5 1 .5-.3 .5-.9 .5 .2 .5 0 .5 .1 .5 .4 .5 .1 .5 .3 .5-.5 .5-1.1 .5-1.2 .5 .1 .5 1 .5 1 .5 .1 .5-.9 .5-.4 .5-.3 .5-.5 .5-.5 .5 1 .5 0 .5 .3 .5 .2 .5-.3 .5-.3 .5 .8 .5 .2 .5-.6 .5-1 .5-.7 .5 .2 .5 .9 .5 .2 .5 .3 .5 .7 .5-.3 .5 .2 .5-.5 .5-.9 .5 .6 .5-.2 .5-.9 .5 .7 .5 .6 .5-.1 .5-.5 .5-1.1 .5-.1 .5 .2 .5 .3 .5 .5 .5 .3 .5-.5 .5-.5 .5 .7 .5 .4 .5-1.3 .5-1.2 .5 .1 .5 .1 .5-.3 .5 0 .5 .1 .5 1 .5 .2 .5-.7 .5-.6 .5 .5 .5-.2 .5 .3 .5 .6 .5-1 .5-.4 .5 1.4 .5 1.1 .5-.2 .5-.3 .5 .1 .5-.5 .5 .8 .5-.2 .5-1.2 .5-.6 .5-.6 .5 .1 .5 .5 .5-.4 .5 .5 .5 .5 .5 0 .5 .6 .5 .2 .5-.6 .5 .2 .5 .2 .5-1 .5-1.1 .5-.4 .5 1.4 .5 .7 .5 0 .5 .6 .5-.1 .5-.8 .5-1 .5-.8 .5 .1 .5 .5 .5-.5 .5-.5 .5 0 .5 .1 .5-.9 .5 .3 .5 .8 .5 .4 .5-.1 .5-.7 .5-.8 .5 0 .5 .8 .5-.3 .5-1.6 .5-1.8 .5-1.2 .5-.6 .5-1.1 .5 .2 .5 1.2 .5 0 .5 1.4 .5 2 .5 1 .5 .3 .5 .5 .5 .3 .5 .4 .5 .7 .5 .4 .5 .4 .5 .3 .5 0 .5-.8 .5-.1 .5-.8 .5-.2 .5 .7 .5 1.2 .5 0 .5-.5 .5 1.2 .5 .3 .5-.6 .5 0 .5 0 .5 .4 .5 1.1 .5-1 .5-.4 .5-.1 .5-.1 .5 .2 .5 .3 .5-.7 .5-.2 .5 .5 .5 .4 .5-.5 .5 .3 .5 .4 .5-.1 .5 .4 .5 .7 .5 .1 .5 .2 .5 .5 .5-.6 .5-.6 .5-.4 .5 .9 .5 .5 .5-.1 .5 1.3 .5 .2 .5-.8 .5-.8 .5 .4 .5-.1 .5-1 .5 .7 .5 .2 .5-.2 .5 1.4 .5 .9 .5-.7 .5-.9 .5 .3 .5 .8 .5-.5 .5 .3 .5 .3 .5 .4 .5 .2 .5-.9 .5 .8 .5 0 .5-.8 .5-.3 .5 .5 .5-.4 .5-1.3 .5 .4 .5 .4 .5 .5 .5 .3 .5 .6 .5 1.2 .5 .1 .5-.6 .5 1 .5 .4 .5-1.1 .5-.8 .5 .9 .5 .5 .5-.9 .5 .4 .5 .9 .5 .4 .5-.2 .5-.4 .5-.5 .5 .2 .5 .9 .5-.2 .5-.9 .5 .1 .5 1 .5 .2 .5-1.4 .5-.2 .5 1 .5 .9 .5 .5 .5-.7 .5-.7 .5 .3 .5 0 .5 .6 .5 1.3 .5-.4 .5-.7 .5 .1 .5 .5 .5 .3 .5-.5 .5-.3 .5 0 .5-.2 .5 .3 .5 .3 .5-.1 .5-.5 .5-.5 .5 .9 .5 .7 .5 .2 .5-1 .5-1 .5 0 .5 1 .5 1 .5-.1 .5-.7 .5 .6 .5 .9 .5-.3 .5-.4 .5-.4 .5-.7 .5 0 .5 .9 .5 1.2 .5 .1 .5-.5 .5 .2 .5 .5 .5-.1 .5-.4 .5 .4 .5 .3 .5-.7 .5 .3 .5 .4 .5 .3 .5 .1 .5 .3 .5 .2 .5 .2 .5-.1 .5 .3 .5-1.2 .5-.3 .5 .3 .5-.5 .5-.5 .5 .5 .5 1 .5-.6 .5-.1 .5 1.5 .5-.3 .5-.6 .5-.5 .5 .1 .5 .2 .5 .3 .5 0 .5 .1 .5 0 .5-.2 .5 0 .5 .4 .5 .8 .5 .6 .5-.4 .5-.6 .5 1.2 .5-.3 .5-.2 .5 0 .5 .2 .5 .7 .5-.4 .5-.1 .5 .5 .5 .1 .5-1.2 .5-.8 .5-.2 .5 .2 .5 1.2 .5 .5 .5 .1 .5 .2 .5 .4 .5 .9 .5-.2 .5-.8 .5 .6 .5-.2 .5-.8 .5 .2 .5-.2 .5-.5 .5 .5 .5-.2 .5 .3 .5 0 .5 .5 .5 .9 .5-.3 .5-.2 .5 .6 .5 .5 .5 0 .5-.6 .5 .7 .5-.3 .5-.2 .5 .7 .5 0 .5-.2 .5-.9 .5-.7 .5 .8 .5 .4 .5 0 .5 .5 .5-.2 .5 .4 .5-.2 .5-1 .5-.4 .5 .5 .5 .4 .5 .3 .5-.8 .5 .3 .5 1.4 .5-.2 .5-.2 .5 .5 .5-1.4 .5-1.2 .5 .8 .5 .5 .5 .1 .5-.6 .5 .5 .5 .8 .5 .4 .5 .1 .5-.2 .5-.6 .5-.3 .5-.1 .5 1.1 .5 .5 .5-.7 .5-1.2 .5-.2 .5 .9 .5 1 .5-.6 .5-.7 .5 .4 .5 .5 .5-.7 .5-.2 .5-.2 .5 .2 .5 1 .5-.8 .5 .5 .5 .4 .5-.7 .5-.5 .5 0 .5 .2 .5 0 .5-.3 .5 .4 .5 .5 .5 .6 .5-.8 .5 .1 .5-.4 .5-.7 .5 .2 .5 .3 .5-.3 .5 .5 .5 .2 .5 .1 .5-.8 .5 .2 .5 .1 .5-1.2 .5-1.4 .5-.5 .5-.4 .5 .1 .5 1 .5 .6 .5 1.1 .5 .9 .5 0 .5-.1 .5 .5 .5-.4 .5-.7 .5 .8 .5 .4 .5-.6 .5-.2 .5 1 .5 .2 .5 .6 .5 .5 .5 .2 .5-.1 .5 .2 .5 .2 .5-.4 .5 .4 .5-.1 .5-1.4 .5 .1 .5 1.2 .5 .8 .5-.9 .5-1.3 .5-.1 .5 .9 .5 .1 .5-.3 .5 .1 .5-.1 .5 .2 .5-1 .5 .1 .5 .7 .5-.7 .5-.3 .5 .8 .5 .9 .5-.1 .5-.2 .5-1 .5-.1 .5 .4 .5-.3 .5-1 .5-.4 .5 .9 .5 .7 .5-.6 .5-1.3 .5-.2 .5 .3 .5 .3 .5 .6 .5-.7 .5-.4 .5-.7 .5-.2 .5 .8 .5-.7 .5-1.3 .5-1.2 .5-1.3 .5-.2 .5-2.5 .5-2.5 .5-1.2 .5-.2 .5 .3 .5 .7 .5 1.5 .5 1.5 .5 1.4 .5 .5 .5 1.9 .5 1.4 .5 .7 .5 .1 .5-.1 .5-.4 .5 .1 .5 .7 .5 1.6 .5 .2 .5-1 .5-.6 .5 .3 .5 .2 .5 .3 .5 .6 .5 .1 .5-1.3 .5-.1 .5 .6 .5 .6 .5 .8 .5 .3 .5-1.2 .5-.3 .5-.4 .5-.7 .5-.9 .5-1.4 .5-2.1 .5-2.4 .5-1.4 .5-10.5 .5-13.1 .5-10.3 0 .4 .5 13.9 .5 14.9 .5 10.8 .5-.1 .5 .6 .5 .3 .5 1.4 .5 .9 .5-.4 .5 1 .5 .4 .5-.3 .5-.2 .5 .1 .5-.1 .5 .3 .5 .5 .5-.3 .5-.8 .5 1.1 .5 .9 .5-.3 .5-1.1 .5-1.1 .5 .4 .5 .8 .5-.1 .5-.2 .5 1.1 .5 .2 .5-1.1 .5-.3 .5 .2 .5 .7 .5 0 .5-.9 .5 1 .5-.3 .5-1 .5 .9 .5 .2 .5-.6 .5-.7 .5-.4 .5 .2 .5-.1 .5 .4 .5 .5 .5-.6 .5 0 .5 .9 .5 .6 .5-.2 .5-.5 .5 .8 .5 0 .5-1 .5-.4 .5-.8 .5 .1 .5 .1 .5 .1 .5-.7 .5-.4 .5 1 .5 .2 .5 .9 .5 .5 .5-.6 .5-.6 .5-.4 .5-.6 .5 .7 .5 .9 .5-.6 .5-.4 .5 .9 .5-.1 .5-.7 .5 0 .5-.5 .5 .1 .5 .9 .5 1.1 .5 0 .5-1.8 .5-.1 .5 .5 .5 .1 .5-.3 .5-.3 .5 .3 .5-.3 .5-.1 .5 .9 .5-.2 .5-.2 .5 .2 .5-.4 .5-.2 .5 .4 .5 .3 .5-.1 .5 .5 .5-.4 .5-.2 .5 .4 .5-.6 .5-.3 .5 .2 .5 .7 .5 .4 .5-.6 .5-1.1 .5-.5 .5 .3 .5 .5 .5 .3 .5-.2 .5-.3 .5 .4 .5-.2 .5-.1 .5 .2 .5 1.1 .5-.1 .5 0 .5 .3 .5-.4 .5-1 .5 .2 .5-.3 .5 0 .5 0 .5-.5 .5 .2 .5 .8 .5 .3 .5 0 .5-.3 .5-.3 .5 .1 .5 0 .5-.1 .5 .3 .5-.5 .5-.5 .5-.1 .5 .5 .5-.1 .5 .1 .5 0 .5-.4 .5 0 .5 0 .5-.7 .5-.8 .5 .5 .5-.3 .5-.7 .5-1.3 .5-2.5 .5-1.1 .5-1.6 .5 .3 .5 1.1 .5 .9 .5 1.9 .5 1.4 .5 1.1 .5 .6 .5 1.5 .5 .3 .5-.5 .5 0 .5 .8 .5-.2 .5-.2 .5-.6 .5 0 .5-.4 .5 .5 .5-.2 .5 .3 .5 .8 .5 .1 .5-.8 .5 .1 .5 .5 .5-.8 .5 .1 .5 0 .5 .1 .5 0 .5-.6 .5-.4 .5 .4 .5-.2 .5-.5 .5-.1 .5-1.5 .5-1.2 .5-1.5 .5-3.7 .5-5.4 .5-6.5 .5-7.1 .5-8.4 .5-9.7 .5-55.3 .5-51.6 .5-46.9 0 1 .5 59.1 .5 60.6 .5 60.7 .5 3.9 .5 3.6 .5 3.9 .5 2 .5 1.5 .5 1.1 .5 .9 .5 .6 .5 .3 .5-.1 .5-.2 .5 0 .5 .7 .5 .6 .5 .1 .5-1 .5-.6 .5 .2 .5 1.6 .5 .1 .5-.5 .5 .3 .5 1.1 .5-.4 .5-.7 .5-.3 .5 .5 .5-.5 .5 0 .5 .7 .5 0 .5-.6 .5-.9 .5-.1 .5 .2 .5 .6 .5 .1 .5-.1 .5-.1 .5 .6 .5-.4 .5 .4 .5 .5 .5 .1 .5-.4 .5 .6 .5-.3 .5 0 .5 .7 .5 .7 .5-1.3 .5-.6 .5-.2 .5 .4 .5 .8 .5 .1 .5-.5 .5 .3 .5 .3 .5 .7 .5 .8 .5-.3 .5-.8 .5 0 .5 .6 .5 .4 .5-.5 .5 .3 .5-.5 .5-.6 .5 1.5 .5-.3 .5-1.7 .5-.1 .5 .9 .5 .3 .5 .2 .5-.1 .5 .4 .5-.4 .5 .4 .5 .2 .5 0 .5 .2 .5-.3 .5-.2 .5-.5 .5-1.1 .5 1 .5 1.5 .5-.8 .5-.6 .5 .1 .5 .6 .5 .7 .5-1.1 .5 0 .5 .2 .5-1 .5-.2 .5 .5 .5 1 .5 1.2 .5 .6 .5 0 .5-.1 .5-1.4 .5 .4 .5 .1 .5 .1 .5-.3 .5-.3 .5 1.2 .5 .5 .5-.8 .5-.3 .5 .5 .5-1.2 .5 .2 .5 0 .5 .3 .5 .7 .5-.3 .5 .5 .5 .1 .5 .5 .5 .1 .5-.3 .5-.4 .5-.4 .5-.1 .5 .9 .5 .2 .5-.2 .5 0 .5 0 .5 0 .5-.2 .5 .7 .5 .8 .5-.5 .5-1 .5 .6 .5 .5 .5 .5 .5 .2 .5-.3 .5-.4 .5-.3 .5 0 .5 .3 .5 0 .5-.8 .5 .3 .5 .5 .5-.7 .5-.2 .5 .4 .5 .3 .5 .7 .5 .4 .5 .4 .5-.4 .5 .3 .5-.1 .5-.7 .5 .5 .5 1.2 .5 .3 .5 0 .5-.4 .5 .3 .5 .1 .5-1.3 .5 0 .5 1.2 .5 .7 .5 .4 .5-.1 .5-.6 .5-.4 .5 .7 .5-.1 .5-.9 .5-.3 .5 .9 .5 .9 .5 .2 .5 .2 .5-.7 .5-.3 .5 0 .5 .6 .5 .5 .5 .4 .5-.5 .5-.6 .5 .4 .5 .5 .5 .1 .5 .2 .5-.3 .5 0 .5 .1 .5 .1 .5 .8 .5 .8 .5-.6 .5-.8 .5-.2 .5 .9 .5 .5 .5 .7 .5 .4 .5-.2 .5-.6 .5 .4 .5 .3 .5-.2 .5 .2 .5-.8 .5 .1 .5 .4 .5 0 .5-.8 .5 1 .5 .6 .5-1 .5 .3 .5-.4 .5 .7 .5 0 .5-.4 .5 .4 .5-.3 .5-.2 .5 .6 .5 .1 .5-.1 .5 .1 .5 0 .5-.7 .5 .5 .5 .2 .5 .3 .5 .2 .5-.5 .5-.3 .5 1.1 .5 .4 .5-.4 .5 .4 .5 1.1 .5-.8 .5-.7 .5 .7 .5 0 .5-.5 .5 0 .5-.9 .5 .5 .5 1.3 .5 .1 .5-.2 .5-.4 .5-.6 .5 .3 .5-.1 .5-.8 .5 .8 .5 .7 .5 .4 .5 0 .5 0 .5-.5 .5-.9 .5-.5 .5-.1 .5 .1 .5 .9 .5 .4 .5-.2 .5-.8 .5-.3 .5-.4 .5 .1 .5 0 .5-.8 .5 0 .5 1.4 .5 1.4 .5-.3 .5-.2 .5 .3 .5-.9 .5-1 .5 .4 .5 .9 .5 1.3 .5-.3 .5-.4 .5 .1 .5 .1 .5 .2 .5 .3 .5 .5 .5-.6 .5-.4 .5 .9 .5 .1 .5-.5 .5 0 .5 .4 .5 1.3 .5-.2 .5-.9 .5-.5 .5 .6 .5 0 .5-.4 .5 .3 .5 .9 .5-.6 .5 .5 .5 0 .5-.7 .5 .5 .5 .8 .5-.6 .5-.1 .5 1.1 .5 .9 .5-.4 .5-.6 .5-.4 .5 .3 .5 .4 .5-.7 .5 0 .5 .6 .5 .3 .5 .3 .5 .5 .5 .5 .5-.5 .5-.6 .5-.2 .5-.2 .5 .9 .5 1.2 .5-.8 .5-1.1 .5 .6 .5-.9 .5-1.2 .5-.3 .5-1.6 .5-2.3 .5-3.1 .5-3.3 .5-1.8 0 1.3 .5 2.5 .5 2.4 .5 2.8 .5 2.4 .5 1 .5 .8 .5 1.1 .5 .5 .5-.4 .5 .4 .5 .2 .5-.6 .5-.1 .5-.4 .5 .6 .5 1 .5 .7 .5 .4 .5-.1 .5-.7 .5-.1 .5-.4 .5 .4 .5 .5 .5 .3 .5-.2 .5 0 .5-.2 .5 .1 .5 .7 .5-.3 .5-.8 .5-1 .5-.1 .5 1 .5 .6 .5 .2 .5-.4 .5-.9 .5 0 .5 1.3 .5 .6 .5-.3 .5-1 .5 .8 .5-.1 .5-.8 .5-.3 .5 0 .5 .7 .5 .3 .5 .3 .5 .8 .5-.2 .5-.6 .5 .1 .5-.5 .5-.4 .5 .9 .5 .6 .5 .2 .5 .3 .5 .4 .5-.4 .5-.9 .5 .9 .5-.2 .5-.5 .5-.4 .5 .8 .5 1.4 .5-1.4 .5-1.4 .5 1.8 .5 0 .5-.3 .5 .6 .5 0 .5 .1 .5 1 .5 .2 .5-.1 .5-.4 .5-.1 .5-.1 .5-.4 .5 0 .5 .7 .5-.1 .5-.2 .5-.5 .5-.1 .5 .5 .5-.6 .5-.5 .5 .5 .5 .8 .5-.2 .5-1.4 .5-.7 .5-.1 .5-.5 .5-.4 .5-1.4 .5-3.5 .5-3.8 .5-1.5 0 .2 .5 2.2 .5 3.2 .5 2 .5 2.2 .5 1.8 .5 .8 .5-1.1 .5 .4 .5 .6 .5 .1 .5 .2 .5-.2 .5-.2 .5-.4 .5-.5 .5-.1 .5 1.4"/>
<path stroke="#050505" d="M748.7,204.3l.5 .7 .5 .5 .5 .4 .5-.2 .5-1 .5-.3 .5-.5 .5-.6 .5 .3 .5 .4 .5-.4 .5 .6 .5 .9 .5-.1 .5-.2 .5 0 .5-1 .5-.5 .5 .5 .5-.4 .5 .5 .5 .5 .5-.2 .5 0 .5-.2 .5 .1 .5-.8 .5 .2 .5-.4 .5 1 .5-.1 .5 .3 .5-.1 .5-1.5 .5 .5 .5 1.2 .5 .6 .5 .2 .5-.4 .5-.1 .5-.5 .5 0 .5 0 .5 .3 .5-.2 .5 .4 .5 .6 .5-.4 .5-1.1 .5 .1 .5 .3 .5-.8 .5-1 .5 .7 .5 .8 .5 .1 .5-.1 .5 0 .5-.1 .5 1.1 .5-.6 .5-.5 .5 .5 .5-1.3 .5-.5 .5 .3 .5-.4 .5 .2 .5 .6 .5-.3 .5-.4 .5 .3 .5 .1 .5-2 .5-3.3 .5-1.9 .5-4.2 .5-6.5 .5-4.6 .1-.2 .4 1.9 .5 5.3 .5 6.6 .5 4.2 .5 1.6 .5 .8 .5 1.9 .5 .7 .5 .1 .5-.1 .5 1.1 .5-.2 .5 0 .5-1.3 .5 .5 .5-.2 .5-1.2 .5 .5 .5 0 .5 .1 .5 .5 .5 .4 .5 .7 .5 .2 .5-.4 .5-.6 .5 .5 .5 1.3 .5-.7 .5-.5 .5 0 .5 .6 .5 .4 .5 0 .5-.3 .5-.2 .5-.3 .5-.1 .5-.7 .5 .4 .5 .2 .5-.5 .5 .4 .5-.2 .5-1.4 .5-.5 .5 .1 .5 .5 .5 .9 .5 .2 .5 .6 .5-.4 .5-2.8 .5-2.8 .5-1.6 .5-1.5 .5-.1 .5 .9 .5 1.7 .5 .7 .5 1.7 .5 1.3 .5 1.2 .5 1.2 .5 1.5 .5-.2 .5 .4 .5 .5 .5 .5 .5 .4 .5-1.3 .5-.2 .5 .6 .5 .3 .5 .2 .5-1 .5-.8 .5 .6 .5 .1 .5 .7 .5 .6 .5 .8 .5-.6 .5-1 .5 .7 .5 .7 .5-.4 .5-.5 .5-.1 .5-.1 .5 .2 .5 1 .5-.3 .5-.8 .5 .8 .5 0 .5-.2 .5 .2 .5-.1 .5-1.3 .5 .4 .5 .6 .5-1.2 .5-1.9 .5-1.2 .5-1 .5-2.2 .5-3.1 .1 .1 .4 2 .5 2.8 .5 2.9 .5 2.1 .5 .6 .5-.6 .5 .4 .5 .3 .5 1.3 .5 1.3 .5 .7 .5 .6 .5-.1 .5-.4 .5-.4 .5-.8 .5 .2 .5 .5 .5 .6 .5-.5 .5-1.1 .5-.3 .5 .8 .5 1.4 .5-.2 .5 .1 .5-.4 .5-.4 .5 0 .5-.1 .5 .6 .5 .2 .5-.7 .5 .3 .5 0 .5 .2 .5 .9 .5 .2 .5-1 .5 .6 .5 .9 .5-.5 .5-1 .5 .4 .5 0 .5 .2 .5 .3 .5-.5 .5 .7 .5 0 .5-.9 .5 .2 .5 1 .5-.4 .5 .3 .5-.5 .5 .1 .5 .1 .5 .4 .5 0 .5-.2 .5 .8 .5 .4 .5-1 .5-.9 .5 1 .5 .1 .5 .1 .5-.2 .5-.4 .5 .6 .5 .4 .5-.5 .5-.8 .5-.2 .5 .8 .5 1.2 .5-.1 .5-1 .5 .3 .5-.1 .5-2.2 .5-1.5 .5-1.5 .5-2 .3-1.1 .2-.5 .5 1.9 .5 1.7 .5 2.8 .5 1.7 .5 1.2 .5 1.3 .5-.1 .5 0 .5 .9 .5 .5 .5-.8 .5 0 .5-.3 .5-.6 .5 .5 .5 .9 .5-.2 .5 0 .5 .4 .5 0 .5-.1 .5 .1 .5 .3 .5-.9 .5 .8 .5 .5 .5 .3 .5-1.2 .5-.4 .5 1.7 .5 .5 .5-.8 .5 .5 .5 .1 .5-.3 .5 .1 .5-.1 .5 .8 .5 .5 .5-.9 .5-.2 .5-.4 .5-1.2 .5 .6 .5 1.3 .5 1.2 .5-.4 .5-1.3 .5-1 .5 0 .5-.7 .5-.9 .5 .1 .5 .1 .5-.1 .5-.2 .5 2 .5 0 .5-.5 .5 .1 .5-.1 .5 1.4 .5 1.1 .5-.2 .5-.5 .5 0 .5 .2 .5 0 .5 0 .5 .6 .5 .5 .5 .2 .5 .2 .5-.7 .5-.7 .5 .6 .5 1.2 .5 .1 .5 0 .5-.1 .5 .5 .5 .1 .5-.7 .5 .6 .5 1.7 .5 .3 .5-1 .5-.2 .5-.5 .5 .1 .5 1.3 .5 .5 .5-.5 .5-.4 .5-.2 .5 .9 .5-.2 .5-.4 .5 .1 .5-.6 .5-.3 .5 .4 .5-.3 .5 .3 .5 1.1 .5 0 .5-.2 .5 .4 .5 .2 .5 .5 .5 .1 .5-.5 .5-.6 .5 .5 .5-.1 .5-.3 .5 0 .5 .1 .5-.5 .5-.1 .5 0 .5-.7 .5-.4 .5 .1 .5 .1 .5-.2 .5-.4 .5-1 .5 0 .5 .1 .5-2.2 .5-.7 .5 .1 .5 0 .5 1.2 .5 .8 .5 1.7 .5 1.8 .5-.2 .5 .2 .5 1 .5-.1 .5 .8 .5 .2 .5 0 .5-.9 .5-.2 .5 .6 .5-.1 .5 .1 .5 .7 .5-.3 .5-.8 .5 .5 .5 .3 .5 .5 .5 1 .5-.3 .5-.9 .5 .1 .5 .1 .5-.9 .5-.3 .5 .3 .5 .1 .5-.5 .5-1 .5 .9 .5 1.1 .5 .4 .5-.6 .5-.2 .5 .2 .5 .8 .5 1.1 .5 .1 .5-.8 .5-1.6 .5-.3 .5 .3 .5-.5 .5 1.2 .5 .5 .5-2.3 .5-.8 .5-.7 .5-.4 .5-.4 .5-.2 .5 .9 .5 .7 .5 .4 .5 1.1 .5 .5 .5 0 .5 .6 .5 .3 .5 .2 .5-.2 .5 .1 .5 1.3 .5-.2 .5-.4 .5-.5 .5 .3 .5 .2 .5-.4 .5 .6 .5 .5 .5-.5 .5-.6 .5-.3 .5 .6 .5 .3 .5-.1 .5 .1 .5-.4 .5-.1 .5 .9 .5 .2 .5-.1 .5 .5 .5-.8 .5-.3 .5 1 .5 .7 .5-1.2 .5-.5 .5 0 .5-.5 .5 0 .5 1.4 .5 .6 .5-.2 .5-.6 .5-.4 .5 .3 .5-.2 .5-.6 .5 .1 .5-.3 .5-.3 .5-.3 .5 .4 .5-.4 .5-.2 .5-.6 .5 .6 .5 .1 .5-.8 .5-.8 .5-.2 .5 .1 .5-.4 .5-1.5 .5-1.6 .5-1 .5-.9 .5-1.3 .5-.9 .5-1.2 .5-1.2 .5-.5 .5 1.1 .5 1.6 .5 1.1 .5 2.3 .5 1.4 .5 .4 .5 .8 .5 1.1 .5 1.2 .5-.1 .5-1.2 .5-.3 .5 2.4 .5 .3 .5-1.1 .5-.9 .5 .3 .5 .5 .5 1.3 .5-.4 .5-1.1 .5 .5 .5 0 .5 0 .5-.8 .5-1.3 .5 .1 .5 .9 .5 .3 .5-.4 .5-.9 .5-1 .5-.2 .5 .2 .5-.4 .5-.7 .5-1.5 .5-1.3 .5-1.8 .5-9.3 .5-11.2 .5-11.1 0 .1 .5 13.6 .5 14.1 .5 10.4 .5 .2 .5 .5 .5 1 .5 .6 .5-.1 .5-.1 .5 0 .5 .5 .5 .4 .5 .7 .5-.6 .5-1.3 .5 1.2 .5 .7 .5-.4 .5-.1 .5 .1 .5-.2 .5-.4 .5 .7 .5 .1 .5-1.4 .5-.7 .5-1.2 .5 0 .5-.2 .5-2.1 .5-2 .5 .5 .5 .2 .5 .8 .5 .4 .5 1 .5 1.7 .5 1 .5 .7 .5-.3 .5 .9 .5 1 .5 0 .5-.6 .5 .1 .5 1.1 .5-.4 .5-.8 .5 .2 .5 0 .5 0 .5-.2 .5 .1 .5-.4 .5-.3 .5-.2 .5 .4 .5 .4 .5 .1 .5-.5 .5 .7 .5 .5 .5-1 .5-.1 .5 .2 .5 .7 .5 .3 .5-.2 .5-.4 .5-.8 .5-.3 .5 .3 .5 0 .5-.3 .5 .5 .5 .8 .5-.8 .5-.8 .5-.4 .5 .6 .5 .3 .5 .3 .5-.6 .5-.4 .5 0 .5-.1 .5 .6 .5 .6 .5 0 .5-.8 .5 0 .5 1.1 .5 .8 .5-1.5 .5-1.4 .5 .7 .5 .3 .5 .1 .5 .6 .5-.3 .5-.7 .5-.3 .5-.1 .5 .6 .5 .6 .5-.9 .5-.5 .5 .3 .5-1 .5-1 .5-.5 .5-1.7 .5-1.8 .5-2.4 .5-2.1 .5-.3 .5-.5 .5 1.5 .5 1.8 .5 2.4 .5 2.3 .5 1.6 .5-.1 .5 0 .5 .8 .5-.2 .5-.2 .5 1.1 .5 .2 .5-.3 .5 .4 .5 .4 .5-.5 .5 .3 .5 .3 .5 .2 .5 .2 .5 1 .5-.9 .5-.8 .5 .1 .5 .8 .5-.5 .5-.8 .5 .8 .5-.1 .5-.3 .5 .4 .5 0 .5 .3 .5-.1 .5-.3 .5 .2 .5-1.3 .5-1.1 .5 .3 .5 .3 .5-1.4 .5-1.6 .5 0 .5-.9 .5-1.1 .5 1.2 .5 .9 .5 1.6 .5 2 .5-.3 .5-1 .5 .7 .5 .4 .5 .8 .5 .4 .5 .5 .5 .3 .5-.3 .5-.2 .5 .1 .5 .6 .5 1.1 .5 .4 .5-1.6 .5-1 .5-.3 .5-.3 .5 .2 .5-.6 .5-.5 .5 1 .5 .3 .5-1.1 .5-.4 .5-1.1 .5-.9 .5-.2 .5-.5 .5-.1 .5 .8 .5 .2 .5 .3 .5-.3 .5-.9 .5-.6 .5-.5 .5-2.1 .5-3.1 .5-4.1 .5-6.1 .5-18.1 .5-34.7 .5-36.3 .5-33.2 .5-29.7 .5-26 0 .8 .5 32.2 .5 34.1 .5 35.4 .5 35.6 .5 36.7 .5 15.9 .5 1.7 .5 1.3 .5 1.6 .5-.8 .5-.3 .5 1 .5-.7 .5-1.8 .5-1.5 .5-.8 .5-1.2 .5-.3 .5 .2 .5 1.8 .5 3.1 .5 1.6 .5 .7 .5 1.2 .5-.7 .5 .5 .5 2.2 .5-.3 .5-1 .5-.2 .5-.2 .5-.3 .5-.3 .5 1.3 .5 1.1 .5 .2 .5-.7 .5-.6 .5 .6 .5 .4 .5 .9 .5 .7 .5-1 .5-.4 .5 .5 .5-1.1 .5-.4 .5 1 .5 .1 .5-.3 .5-.8 .5 .3 .5-.1 .5 .9 .5 1.2 .5 .1 .5 0 .5 0 .5-.6 .5-1.1 .5 .2 .5 .5 .5-.3 .5 1.4 .5 .7 .5-.1 .5 0 .5 .3 .5-1 .5 0 .5 0 .5-.6 .5-.3 .5 .3 .5-.4 .5-.4 .5 0 .5 1.5 .5 .9 .5-.4 .5 0 .5 .4 .5-.3 .5 .1 .5-1.1 .5-.5 .5-.2 .5-.6 .5 1.1 .5 1.2 .5 .3 .5-1 .5-.2 .5 1.5 .5 .5 .5 .5 .5-.1 .5-.3 .5-.7 .5-.9 .5-.1 .5 .6 .5 .2 .5-.6 .5-.1 .5 1.1 .5-1.2 .5-.4 .5-.2 .5 .9 .5 1.4 .5-.7 .5-1 .5 .3 .5-.7 .5 0 .5-1.3 .5-1.7 .5-1.5 .5-2.7 .5-2.4 .5-.8 .5 .3 .5 1.8 .5 2.7 .5 2.4 .5 1.4 .5 .7 .5 .8 .5 1 .5 .2 .5 .4 .5-.1 .5 .1 .5 .1 .5 .6 .5 .7 .5-.5 .5-.2 .5 0 .5 .4 .5 0 .5-.3 .5 .2 .5 0 .5 .2 .5 .7 .5-.7 .5-.2 .5 .3 .5-.2 .5-1.3 .5-.3 .5 1.2 .5 .8 .5 .5 .5 .2 .5-.5 .5 .7 .5 1.2 .5-.4 .5-1.5 .5 1.1 .5 1 .5 .3 .5 .2 .5-.2 .5-1 .5-.7 .5 .7 .5 .4 .5 .3 .5-.3 .5-.3 .5 .4 .5 .9 .5 .5 .5-.1 .5 .7 .5-.8 .5-1.7 .5-.5 .5 .9 .5 .4 .5-.2 .5 .5 .5 0 .5 .9 .5-.2 .5-.3 .5-.4 .5 .4 .5-.3 .5 .6 .5 .6 .5 .4 .5-.3 .5-.4 .5 .8 .5 .1 .5-.1 .5 .3 .5 .1 .5-.1 .5-.8 .5 .7 .5 .8 .5-1.3 .5 0 .5 .7 .5 .8 .5-.3 .5-1 .5 .2 .5-.6 .5-.7 .5-.3 .5-.2 .5 .9 .5 1 .5 .3 .5-.3 .5 .2 .5 1 .5 .3 .5 0 .5-.2 .5 .1 .5 .1 .5 .9 .5 .2 .5-1.1 .5 .2 .5 .1 .5 .8 .5 .3 .5-2.3 .5-1 .5 .7 .5 2.1 .5 .6 .5-.9 .5-.3 .5-.1 .5-.5 .5-.8 .5 .6 .5 .6 .5 .9 .5-.3 .5-.1 .5 .8 .5-.8 .5 .1 .5 .8 .5-.7 .5-.3 .5 .2 .5-.9 .5 .3 .5 .7 .5-.3 .5 1.3 .5 .4 .5-.8 .5-.7 .5 .4 .5 .3 .5-.4 .5-.1 .5-.9 .5-1.4 .5-.3 .5-.4 .5-1.9 .5-1.9 .5-.8 .5 0 .5 .2 .5 .5 .5 3 .5 1.7 .5 .5 .5 0 .5-.5 .5 .8 .5 .6 .5-.7 .5-.2 .5-1.1 .5-.5 .5 .9 .5-.7 .5 .3 .5 1.5 .5 1 .5-.5 .5-1.3 .5 .2 .5 1 .5 1.8 .5 .2 .5-.9 .5-.9 .5 .1 .5 1.2 .5-.1 .5-.1 .5-.4 .5-.7 .5 .7 .5 1.2 .5 1.3 .5 .3 .5-.8 .5-1.3 .5-.7 .5 .9 .5 1.7 .5 .4 .5-.7 .5 .4 .5 .5 .5-.5 .5-.1 .5-.8 .5-.1 .5 .5 .5 .6 .5 .3 .5 .5 .5 .4 .5-1.3 .5 .9 .5 .7 .5-.1 .5-.2 .5 0 .5-.2 .5 .6 .5 1.8 .5 .1 .5-.7 .5-.8 .5-.2 .5 .9 .5-1.1 .5-.2 .5-.4 .5-.7 .5-.2 .5 .5 .5 0 .5 1 .5 .6 .5-1.4 .5-.9 .5-.4 .5-1.5 .5-2.2 .5-2.8 .3-1.3 .2-.3 .5 2.8 .5 2.7 .5 1.4 .5 .7 .5 2.1 .5 1.4 .5 .2 .5 .1 .5-.4 .5-.4 .5 1.1 .5 0 .5 .5 .5-1.2 .5 .2 .5 .9 .5-.4 .5 .1 .5 1 .5 .7 .5 .8 .5-.5 .5-.6 .5 0 .5-.8 .5 .7 .5-.2 .5 .3 .5-.4 .5-.2 .5 1.3 .5 .1 .5-1.3 .5-.4 .5 0 .5 .3 .5 .1 .5 .3 .5 0 .5 0 .5 1.3 .5 .5 .5-.7 .5-1.3 .5-.1 .5 .3 .5-.6 .5-.2 .5 0 .5 .4 .5 .1 .5 0 .5 1.1 .5 .4 .5 .3 .5 .3 .5 .3 .5-.4 .5-.9 .5 .1 .5 .2 .5-.6 .5-.4 .5 .2 .5 .1 .5 .3 .5-.4 .5-1.6 .5 0 .5 .7 .5 1 .5 0 .5-.5 .5 .2 .5 0 .5 0 .5-.5 .5 .7 .5 1.8 .5-.1 .5 0 .5 .4 .5 0 .5-.5 .5 .1 .5 .9 .5-.3 .5-1.1 .5-1.4 .5 .5 .5 1.4 .5-.3 .5-.3 .5 .7 .5-.5 .5-.9 .5 .5 .5-.3 .5-.4 .5 .7 .5 0 .5-1.5 .5-1.8 .5-2.7 .5-3.4 .5-2.1 .1-.4 .4 1.2 .5 3.9 .5 2.9 .5 1.4 .5 1 .5 1.1 .5-.2 .5-.6 .5 1 .5-.4 .5-.2 .5 .8 .5-.3 .5-.3 .5 .7 .5-.5 .5-.7 .5 .6 .5 .3"/>
<path stroke="#a0a0a0" d="M748.7,484.3l.5-.3 .5-.9 .5-.8 .5-.2 .5 .7 .5 .2 .5 0 .5 .5 .5-.1 .5-.6 .5 .7 .5-.1 .5 1.4 .5 0 .5-.5 .5 .5 .5-.3 .5 0 .5 0 .5 .4 .5 0 .5-1 .5-.1 .5 .4 .5-.4 .5 0 .5 1.1 .5-1.2 .5-.6 .5 1 .5 1.6 .5 1 .5-.9 .5-.4 .5 .1 .5 0 .5-.2 .5-.1 .5 .5 .5-.4 .5-1.3 .5 .9 .5 .6 .5 0 .5-.8 .5-.4 .5 .5 .5 .6 .5-.3 .5 .2 .5 .8 .5-.6 .5-.5 .5 .5 .5 .6 .5 .2 .5-1 .5-.4 .5 1 .5 .3 .5-.8 .5 .3 .5 .9 .5 .3 .5-.2 .5-.2 .5-.4 .5 .4 .5 .6 .5-.2 .5 .3 .5 .1 .5 1.2 .5-1 .5 .4 .5-.4 .5 0 .5 .4 .5 .4 .5 1.2 .5-.8 .5-.6 .5 1.1 .5-.1 .5-.7 .5 .6 .5 .1 .5 .4 .5-.1 .5-.5 .5-.2 .5 .8 .5-.5 .5-1.1 .5 .1 .5 .3 .5 .9 .5 1.1 .5-.7 .5 .1 .5 .7 .5-.3 .5-.2 .5 .2 .5-.3 .5 .1 .5 .4 .5-.4 .5-.7 .5-.3 .5 1 .5 .6 .5-.1 .5 .2 .5-.3 .5-1.2 .5-.9 .5 .9 .5 .1 .5-.3 .5 .8 .5 0 .5-.1 .5-.2 .5 0 .5 .1 .5 .6 .5-.7 .5-.9 .5 .1 .5-.4 .5-1.5 .5-1.5 .5-1 .5-1.7 .5-.4 .5-.3 .5 1.2 .5 2.1 .5 2.5 .5 2.1 .5 .4 .5 1.3 .5 .3 .5 0 .5 1.2 .5 .4 .5-.3 .5-.7 .5 .5 .5 .1 .5 .4 .5 .2 .5 .6 .5 .6 .5-.6 .5-.7 .5 1.3 .5 .2 .5-.4 .5-.4 .5 .8 .5 .3 .5 .8 .5 .2 .5 0 .5-.8 .5-.5 .5 1.3 .5 .3 .5-.5 .5-.5 .5-.2 .5-.2 .5 .6 .5 1.3 .5 1 .5 .3 .5 0 .5-.7 .5 .3 .5 0 .5 .8 .5-.1 .5-.6 .5-.2 .5 .3 .5-.9 .5-.6 .5 1.6 .5 .7 .5-1.4 .5 0 .5 0 .5 .1 .5 .2 .5 .9 .5-.3 .5-.3 .5 0 .5 .8 .5-.2 .5-.1 .5 .1 .5-.4 .5 .4 .5-.1 .5 .6 .5 .3 .5 .1 .5 0 .5 .2 .5 .6 .5 .1 .5-.2 .5 0 .5 .2 .5 .2 .5-.3 .5 .1 .5 1.2 .5-.4 .5-.3 .5 .1 .5-.8 .5 .6 .5 .8 .5 0 .5 .2 .5 0 .5-.1 .5 .2 .5 0 .5-.4 .5 .5 .5 .3 .5-.2 .5-.1 .5 .6 .5 .8 .5-.1 .5-.9 .5-.1 .5 .3 .5 .5 .5 .2 .5 .4 .5 .4 .5-.2 .5 0 .5-.4 .5-.5 .5 0 .5 0 .5 .6 .5 .9 .5-.9 .5-1.7 .5 .6 .5 1 .5 0 .5-.2 .5 .2 .5 .2 .5 .5 .5 .4 .5-.3 .5-.1 .5 .2 .5 .1 .5-.5 .5 .3 .5 1.1 .5-.4 .5-.7 .5 1.2 .5-.2 .5 0 .5-.5 .5 .6 .5 .3 .5 0 .5 0 .5 .2 .5 .4 .5-.5 .5 0 .5-.3 .5-.5 .5 .8 .5 .5 .5-.7 .5-.6 .5 .4 .5 .5 .5 .2 .5-.3 .5-.1 .5 1.1 .5 .5 .5-.1 .5-.2 .5 .4 .5 .1 .5 .1 .5-.5 .5-.2 .5 .1 .5-.5 .5-.1 .5 .3 .5-.9 .5-.6 .5 .3 .5 .8 .5 .2 .5-1 .5 .6 .5 .8 .5-1.3 .5 .3 .5 0 .5-.2 .5 .7 .5-.2 .5-.7 .5 .8 .5 .7 .5 1.1 .5-.3 .5-.5 .5 1 .5 .6 .5-1.4 .5-.4 .5 .6 .5 .2 .5-.4 .5-.8 .5 .4 .5-.1 .5 .4 .5 .7 .5-.3 .5 .4 .5-.2 .5 0 .5 .3 .5 .4 .5 0 .5-.5 .5 .6 .5-.1 .5 0 .5-.3 .5-.8 .5-.1 .5 .3 .5 .6 .5 1 .5 .8 .5 .8 .5-.4 .5-.9 .5-1.3 .5-.7 .5 .3 .5 0 .5-.5 .5 .3 .5 .4 .5 .1 .5 .2 .5-.1 .5 .1 .5 .2 .5-.5 .5 0 .5 .7 .5-.5 .5-1.2 .5 .4 .5 1.1 .5-.1 .5-.4 .5-.9 .5 0 .5-.5 .5 .5 .5 .1 .5 .9 .5-.3 .5 .1 .5 .1 .5-.4 .5-.5 .5 .6 .5 .4 .5 1.1 .5-.7 .5-.6 .5 .3 .5 .9 .5 0 .5-.4 .5-.5 .5-1.2 .5 0 .5 .9 .5-.6 .5-.5 .5-.2 .5 .5 .5 .6 .5-.1 .5-.6 .5 .9 .5-.1 .5-1.4 .5 .4 .5 .5 .5 .4 .5 .6 .5 .3 .5-.4 .5 0 .5 1.1 .5 .1 .5-.7 .5 0 .5-.7 .5 1 .5-.2 .5-.9 .5 .1 .5 .7 .5 .6 .5-.2 .5-.6 .5-.5 .5-.3 .5-.6 .5 .1 .5-.1 .5 .1 .5 .3 .5-.7 .5-.3 .5 1.1 .5 0 .5-.4 .5-.4 .5-.2 .5 .1 .5 .2 .5-.9 .5 0 .5-.6 .5-.8 .5-1.4 .5-.6 .5 1.1 .5 .7 .5 1 .5 .6 .5-.6 .5 .5 .5 1 .5 .7 .5 .3 .5-.2 .5 0 .5 .6 .5-.5 .5-.6 .5-.4 .5-.2 .5 .5 .5 .3 .5 .7 .5 .7 .5-.4 .5-.8 .5-.8 .5 .4 .5 .8 .5 0 .5-.1 .5 0 .5 0 .5 .7 .5-.2 .5-1.5 .5-.6 .5 .6 .5 .4 .5-.4 .5 .5 .5 .7 .5 0 .5-.5 .5-1.4 .5-.2 .5 .9 .5-.2 .5-.4 .5-.2 .5 .4 .5 .4 .5-1 .5 .2 .5 1.2 .5-.4 .5-1.6 .5-.2 .5 1.1 .5 1 .5 .1 .5-.6 .5-.8 .5-.7 .5-.2 .5-.2 .5 .4 .5-.3 .5-.2 .5-.7 .5-1.3 .5 0 .5-.3 .5-1.4 .5-1.9 .5-.9 .5-1.2 .5-1.2 .5-1.7 .5-.5 .5 .8 .5 .9 .5 1.7 .5 1.5 .5 .8 .5 .3 .5 1.1 .5 1 .5 1.1 .5-.3 .5-.3 .5 .2 .5 .6 .5 .8 .5 .6 .5-.5 .5-.3 .5 1 .5 .1 .5-.1 .5-.4 .5 .1 .5-.3 .5-.3 .5-.3 .5-.2 .5 .6 .5 .2 .5 .3 .5 .2 .5-.3 .5-.5 .5-.4 .5-.8 .5-.9 .5-2 .5-2.5 .5-1.6 .5-1.6 .5-10.2 .5-11.1 .4-9.3 .1 1.3 .5 12.7 .5 13.9 .5 9.5 .5 1.4 .5 .9 .5 .6 .5 1 .5-.8 .5-.4 .5 .6 .5 .3 .5 .9 .5-.2 .5-.6 .5 .8 .5 .5 .5-.6 .5-.5 .5 .1 .5-.2 .5-.1 .5 .3 .5 0 .5 .6 .5 .8 .5-.1 .5-.2 .5 .1 .5-.3 .5-.6 .5 .3 .5 .1 .5-.1 .5 0 .5-.4 .5 .3 .5 .2 .5-.4 .5 0 .5 0 .5-.3 .5 0 .5 .7 .5 .3 .5-.3 .5-.4 .5 0 .5-.3 .5 .1 .5-.6 .5-.2 .5 .6 .5 .1 .5-.2 .5 .3 .5 1.1 .5-.3 .5-.6 .5 .5 .5-.1 .5-.7 .5 .3 .5 .5 .5-.2 .5 .1 .5-.1 .5 .3 .5 .3 .5-.1 .5 0 .5 .4 .5-.2 .5-.3 .5 .4 .5-.5 .5-.7 .5 .3 .5 .5 .5-.6 .5-.7 .5 .2 .5 .6 .5-.2 .5-.9 .5-1.2 .5-.8 .5-1.5 .5-3.6 .5-3.9 .5-1.7 .2 .1 .3-.1 .5 3.9 .5 4.5 .5 2.7 .5 .4 .5-.1 .5 1.5 .5 1.8 .5 .7 .5-.3 .5-.7 .5-.9 .5-.8 .5 .2 .5 .3 .5 .5 .5 .9 .5-.5 .5-.9 .5 1 .5 1.1 .5 .4 .5-.3 .5-1.3 .5 .3 .5-.3 .5-.5 .5 0 .5-.4 .5 .1 .5 1.2 .5 .3 .5 .1 .5 .6 .5 .1 .5-.3 .5-.8 .5-.3 .5 .3 .5 .4 .5 .2 .5 .6 .5 .3 .5-1.2 .5-.2 .5 1 .5 1.1 .5-.1 .5-1 .5-.4 .5-.6 .5 .2 .5 0 .5 0 .5 .5 .5 1.1 .5 .3 .5-.9 .5-.1 .5 1 .5-.1 .5-.7 .5 .2 .5-.2 .5-.5 .5-.4 .5-.8 .5-1.6 .5-2 .5-1.5 .5-.5 .5-.7 .5 .2 .5 .4 .5 1.6 .5 2 .5 1.7 .5-.1 .5 .3 .5 .9 .5 1.5 .5 .2 .5-1.2 .5 .1 .5-.5 .5 1.1 .5 .8 .5-.8 .5-1.7 .5 .4 .5 1.5 .5 0 .5-.1 .5-.3 .5-.3 .5-.1 .5-.4 .5 1 .5 .3 .5-1.6 .5-.7 .5-.2 .5 .2 .5 .3 .5 .1 .5 0 .5-.9 .5-1.3 .5-1.1 .5-1.8 .5-2.3 .5-3.6 .5-5.3 .5-6.9 .5-8.5 .5-8.2 .5-40.7 .5-54.8 .5-51.7 .1-13.3 .4 43 .5 61 .5 61.4 .5 19.8 .5 3 .5 2.7 .5 2.4 .5 1.9 .5-.8 .5-2.7 .5-2.1 .5-2.5 .5-3.5 .5-11.2 .5-27.2 .5-25.7 .1-6.5 .4 22.4 .5 31.1 .5 27.5 .5 1.7 .5 1.2 .5 1.4 .5 .7 .5 1.3 .5 1.2 .5-.1 .5 .2 .5 .8 .5 .7 .5-.1 .5-.2 .5 .3 .5-.7 .5-.4 .5-.5 .5 .5 .5 1.2 .5 .9 .5 .2 .5-.5 .5-.8 .5 .3 .5 .1 .5-.5 .5 .6 .5 .8 .5-.3 .5-.1 .5 1.4 .5-.2 .5-.8 .5-.3 .5 .7 .5 .1 .5 0 .5 .2 .5 .4 .5-1.2 .5 .4 .5 1.2 .5 .4 .5-.2 .5-.3 .5 .2 .5-.5 .5-.2 .5 .5 .5 .2 .5 .5 .5-.1 .5-.7 .5 .2 .5 1.1 .5-.5 .5-.4 .5-.5 .5 0 .5 1.1 .5 1.1 .5-.2 .5-1.3 .5-.2 .5 .9 .5 .5 .5-1 .5-.1 .5 .7 .5-.3 .5 0 .5 0 .5 0 .5-.2 .5 .4 .5-.5 .5-.5 .5 .7 .5 1.2 .5-.2 .5 0 .5 .2 .5-.4 .5 .3 .5-.2 .5 1.2 .5-.1 .5-.9 .5-1.1 .5 .8 .5 .9 .5-.1 .5-.3 .5 .9 .5-.4 .5-.3 .5 .3 .5 1.1 .5-1 .5 .2 .5 1 .5 .5 .5-1 .5-.6 .5-.1 .5 .6 .5 .3 .5-.4 .5-.7 .5 .7 .5 .3 .5 0 .5 .8 .5-.3 .5-1.2 .5 1 .5 .9 .5 .5 .5-.3 .5 .5 .5-.5 .5-1.2 .5-.2 .5 .3 .5 .7 .5-.4 .5 0 .5 1.1 .5 .4 .5-.6 .5-.6 .5 0 .5 .5 .5 .3 .5 .6 .5 .3 .5-.8 .5-.6 .5 1.9 .5 1 .5-1.7 .5-.7 .5 1.6 .5 .5 .5-.3 .5 .6 .5 .2 .5-.1 .5-.3 .5-1.4 .5 .3 .5-.6 .5 .1 .5 .3 .5 .1 .5 .7 .5 1.1 .5-.8 .5-.9 .5-.2 .5-.3 .5 0 .5 1.2 .5-.2 .5 .3 .5-.9 .5-.5 .5 .6 .5 .8 .5 .2 .5-1.1 .5-.1 .5 .9 .5 .7 .5-.3 .5-.5 .5 1.1 .5 .2 .5 0 .5-.1 .5-.4 .5 1.1 .5 .5 .5-.8 .5-1.1 .5 0 .5 .3 .5 .3 .5 .1 .5-.9 .5 .2 .5 .5 .5-.1 .5-.4 .5-.2 .5 .4 .5 .8 .5 .6 .5 0 .5 .6 .5-.1 .5-.4 .5 0 .5 0 .5-.4 .5 .2 .5 .6 .5-.5 .5 .2 .5-.4 .5 .2 .5 .8 .5 .1 .5-.7 .5-1 .5-.2 .5 .6 .5 .6 .5-.2 .5 .8 .5-.4 .5-1.1 .5 .4 .5 .7 .5-.3 .5 .5 .5-.3 .5-1.5 .5-.3 .5 .8 .5 .2 .5 .7 .5 .1 .5-.2 .5 .5 .5-.2 .5-1.2 .5 .1 .5 .9 .5 .9 .5-.5 .5-.1 .5-1.1 .5-.1 .5 1 .5 .1 .5 .9 .5-.1 .5-1.3 .5 0 .5 1 .5 .4 .5-.7 .5-.6 .5 .1 .5-.3 .5 .9 .5 .3 .5-.9 .5 .5 .5 1.7 .5-.8 .5-1.2 .5-.1 .5 .5 .5 .1 .5-.1 .5 .1 .5 0 .5 0 .5-1.5 .5-.7 .5 .1 .5-.5 .5 0 .5-.5 .5 .7 .5 1.2 .5-.4 .5 .3 .5 .9 .5-.5 .5-.5 .5 .7 .5 1.4 .5 .3 .5-.2 .5-1 .5-.5 .5-.2 .5-.7 .5-.2 .5 .6 .5 .8 .5-.1 .5-.4 .5 1.4 .5 .1 .5 .5 .5 .6 .5 0 .5 .2 .5-1.1 .5-.5 .5 .1 .5 .3 .5 .3 .5-.7 .5 .6 .5 .5 .5 0 .5-.5 .5-.4 .5-.2 .5-.5 .5 .3 .5 .5 .5 .1 .5 .3 .5 .3 .5-.9 .5 .2 .5 .6 .5 1.1 .5 .9 .5-.6 .5-1 .5 .2 .5 .6 .5 .7 .5 .3 .5-.1 .5 .7 .5-.1 .5-.2 .5-1.1 .5-.2 .5 1.7 .5-1 .5-1.8 .5-1.2 .5-.5 .5 .2 .5-2.3 .5-3.8 .5-3.3 .3 .1 .2 .5 .5 1.7 .5 2.8 .5 2.1 .5 1.8 .5 1.5 .5 1.6 .5 1.3 .5-.3 .5-.3 .5 0 .5 .2 .5-.5 .5-.6 .5 .3 .5 .6 .5 .6 .5 .1 .5-.3 .5 .1 .5 .4 .5 .4 .5 .3 .5-1 .5 0 .5-.2 .5 .3 .5 .7 .5 0 .5-.4 .5-.2 .5 .2 .5 .7 .5-.1 .5 .2 .5 0 .5 .5 .5 .2 .5-1.2 .5-.4 .5 .2 .5 0 .5 .4 .5 .4 .5-.7 .5-.2 .5 .8 .5 .5 .5-.7 .5-.3 .5 .6 .5 0 .5-.3 .5 .3 .5 0 .5-.5 .5 0 .5-.1 .5-.5 .5-.2 .5-.2 .5-.3 .5-.1 .5-.7 .5-1.5 .5-2.2 .5-3.6 .5-3.6 .5-4.9 .5-4.8 .5-20.8 .5-28.8 .5-26.9 .2-8.6 .3 20.6 .5 33.6 .5 33.7 .5 12.8 .5 2.9 .5 .3 .5 .6 .5 2 .5 1.4 .5 1.5 .5 .6 .5-1.3 .5-1.2 .5-.1 .5-.1 .5-.2 .5 1.1 .5 .3 .5-.5 .5 1 .5 1.1 .5-1.5 .5 .4 .5 0 .5-.3 .5 0 .5-.4 .5-.9 .5 .1 .5-.5 .5-1 .5-2.8 .5-2.2 .5-1.7 .5-1.7 0-.2 .5 1 .5 2.8 .5 2.4 .5 1.6 .5 1.9 .5 .8 .5 .3 .5 .3 .5-.1 .5-.3 .5-.4 .5-.4 .5 .5 .5 .6 .5 .1 .5-1.1 .5-.1 .5 .8"/>
<path stroke="#6a6a6a" d="M748.7,455.1l.5-.1 .5 .5 .5 .1 .5 1.2 .5-.1 .5-1 .5 .6 .5 1.2 .5 .2 .5-1.5 .5 .2 .5-.1 .5-.2 .5 .3 .5 .3 .5-.3 .5-.6 .5-.1 .5 .4 .5-.2 .5-.1 .5-.3 .5 .6 .5 .1 .5-.1 .5 .2 .5 .2 .5-.3 .5 .5 .5-.2 .5-.1 .5 .1 .5 .6 .5 0 .5-.3 .5 .2 .5 1 .5-.6 .5-.9 .5 .3 .5 .5 .5 .4 .5-.5 .5 0 .5 .4 .5-1.3 .5-.3 .5 .8 .5 .4 .5 .1 .5 .5 .5 0 .5-.3 .5 1.6 .5-.7 .5-1.3 .5-.3 .5-.3 .5-.4 .5 .6 .5-.1 .5-.2 .5 0 .5 .3 .5 .3 .5 .1 .5 .7 .5-.6 .5 0 .5 .6 .5 .7 .5 0 .5-.1 .5 .1 .5-.2 .5-.5 .5 .3 .5-.3 .5-.1 .5 .5 .5 .4 .5 .4 .5 .1 .5-.2 .5 .4 .5-.5 .5-.1 .5 1.1 .5 0 .5-.4 .5-.1 .5-1 .5 .4 .5 .5 .5-.8 .5 .5 .5 1.7 .5-.2 .5-.8 .5 .4 .5 .4 .5-.5 .5 .3 .5 .2 .5 .2 .5 .5 .5-.2 .5-.4 .5 .1 .5-.5 .5-.2 .5 .2 .5 .6 .5 1.4 .5 .2 .5-1.8 .5-1.6 .5 1.1 .5 1 .5-.2 .5 .4 .5-.1 .5-.6 .5-.3 .5-.2 .5 0 .5-.3 .5 .4 .5 .3 .5-1.1 .5-.8 .5-1.8 .5-2.5 .5-1.3 .5-1.2 .5-.4 .5 2.1 .5 2.9 .5 1.7 .5 .5 .5 .8 .5 1.3 .5 1.3 .5 .8 .5-.5 .5-.2 .5 .3 .5-.4 .5 .7 .5 .4 .5-.4 .5 1 .5-.1 .5 0 .5 .1 .5 0 .5 .2 .5-.4 .5-.1 .5 1.5 .5 .2 .5 .3 .5 .1 .5 .3 .5-.4 .5 .4 .5 1.6 .5 .1 .5-.5 .5 .1 .5-.6 .5-1.5 .5 .3 .5 1.1 .5 .4 .5-.4 .5 0 .5-.2 .5 0 .5-.4 .5 .9 .5 1 .5-.7 .5 0 .5-.6 .5 .5 .5 1.1 .5-.8 .5-.3 .5-.5 .5-.8 .5 1.2 .5 .7 .5-.9 .5-.2 .5 .7 .5 .5 .5 .4 .5 .7 .5 0 .5-1.4 .5 .3 .5 .7 .5 .3 .5 1 .5 .3 .5-.4 .5 .8 .5-.1 .5 0 .5-.1 .5-.4 .5-.1 .5-.3 .5 .2 .5 1.6 .5 .3 .5-.6 .5-.1 .5-.5 .5-.2 .5 1.3 .5 .6 .5-.5 .5-.3 .5 0 .5-.7 .5-.2 .5 .6 .5 .2 .5 1.1 .5-.1 .5 0 .5-.2 .5-1.2 .5 .2 .5 1.2 .5 .1 .5-.3 .5-.3 .5-.7 .5 .7 .5 .4 .5 .1 .5 .6 .5 .7 .5-.6 .5-.9 .5 .1 .5 .9 .5-1.3 .5 .1 .5 .6 .5-.3 .5 .1 .5 .2 .5-.3 .5 .5 .5 .1 .5-.5 .5 .7 .5 .5 .5 0 .5-.1 .5-.1 .5-.1 .5 .1 .5 .6 .5 0 .5 .4 .5 .9 .5-.1 .5-.3 .5 .5 .5-.2 .5-.1 .5-.7 .5 1.1 .5-.1 .5-.5 .5-.5 .5-.7 .5 .1 .5 1.1 .5 .9 .5-.2 .5-.5 .5 .9 .5-.3 .5-.9 .5-.6 .5-.3 .5 .4 .5 .2 .5 .7 .5-.1 .5 .5 .5 .8 .5-.7 .5 .5 .5 .7 .5-.4 .5 .4 .5-.6 .5-.9 .5 .2 .5 .1 .5 .6 .5 .5 .5 .3 .5-.4 .5-.1 .5 .6 .5 .8 .5 0 .5-.4 .5-1.1 .5-.3 .5 .6 .5-.2 .5 .1 .5 .7 .5 1.2 .5 .5 .5 0 .5-1 .5-.8 .5 .3 .5 .1 .5-.9 .5-.6 .5 .3 .5 .8 .5-.1 .5 .2 .5 .9 .5 .6 .5-1.4 .5-2.2 .5 .2 .5 1.5 .5 1.1 .5-.7 .5-.5 .5-.1 .5 .5 .5 .6 .5 0 .5 .2 .5 .3 .5-.6 .5-1.1 .5-1 .5 1.1 .5 1.3 .5-.7 .5-.2 .5 .2 .5 .7 .5 .2 .5-.7 .5-.1 .5 .4 .5-.5 .5 .4 .5 .2 .5 .2 .5 .8 .5 .3 .5-.2 .5-.5 .5-.2 .5-.2 .5-.2 .5 .6 .5 .5 .5-.1 .5-.2 .5-.5 .5 .5 .5 .9 .5 .5 .5-.6 .5 .2 .5 .4 .5 1 .5-.4 .5-.2 .5-.7 .5-1.1 .5-.4 .5 .2 .5 0 .5 .4 .5-.1 .5-.2 .5-.1 .5 1.1 .5-.4 .5-.1 .5 0 .5 .8 .5 .7 .5-.7 .5-1 .5 .6 .5 1 .5 0 .5-1 .5-.8 .5 .2 .5 1.5 .5-.4 .5-.7 .5 0 .5 .4 .5 .6 .5-.2 .5-.8 .5-.1 .5 .5 .5 .1 .5 1 .5-.4 .5-.5 .5 0 .5-1 .5 .4 .5 .6 .5-.2 .5-.6 .5 .5 .5 .6 .5 .1 .5-.9 .5-.4 .5 .5 .5-.3 .5 .3 .5 .9 .5 .8 .5-1.3 .5-1.2 .5 .4 .5 .6 .5 0 .5 .5 .5-.3 .5 .2 .5-.3 .5-1 .5-.1 .5-.5 .5-.2 .5-.5 .5-.5 .5-1.1 .5-.6 .5-.4 .5 .4 .5 1.3 .5 0 .5-.2 .5 .7 .5 1.4 .5 1 .5 0 .5 .3 .5-.3 .5-.2 .5 .4 .5 .4 .5 1.2 .5-.4 .5-.4 .5-.5 .5-.5 .5-.3 .5-.1 .5-.4 .5 .1 .5 0 .5-.7 .5-.6 .5 1 .5 1.5 .5 .7 .5 .5 .5-.8 .5-.6 .5 .2 .5-.5 .5-.5 .5 .6 .5 .8 .5 .6 .5-.3 .5-1.4 .5 .1 .5 .7 .5 0 .5-.2 .5 .2 .5 .6 .5-.3 .5-.7 .5-.5 .5 0 .5-.5 .5 .1 .5 1.3 .5-.2 .5-.9 .5 .2 .5 .3 .5-1 .5-.5 .5 .8 .5-.5 .5-.8 .5 .4 .5-.4 .5 .3 .5 .6 .5-1.2 .5-1.5 .5-.8 .5-.2 .5-.8 .5-.8 .5-.9 .5-2.1 .5-1.5 .5-2.1 .5-2.4 .5-.2 .5 1 .5 2.1 .5 1.8 .5 1.5 .5 1 .5 .5 .5 .8 .5 1.1 .5 .5 .5-.5 .5-.8 .5 .3 .5 1.8 .5 .4 .5-.5 .5 .6 .5 .7 .5 .1 .5 .5 .5-.2 .5-1.2 .5-.2 .5 .9 .5 .4 .5 .1 .5-.4 .5-.4 .5-.9 .5-.8 .5 .2 .5-.4 .5 .3 .5 .4 .5 .4 .5-1.1 .5-1 .5-1.6 .5-1 .5-2.8 .5-1.2 .5-8.8 .5-11.3 .4-10.4 .1 1.4 .5 12.9 .5 12.7 .5 9.3 .5 1.7 .5 .3 .5-.7 .5 .9 .5 .3 .5-.5 .5 0 .5-.1 .5 .4 .5 .9 .5-.8 .5 .4 .5 .4 .5 .8 .5-.4 .5-.5 .5-.4 .5 .5 .5 .5 .5-.6 .5 .6 .5 0 .5 .1 .5 .1 .5-.5 .5-1 .5 .9 .5-.5 .5-.3 .5 .9 .5 .9 .5 .1 .5-.4 .5 .5 .5-.3 .5-.2 .5-.7 .5 0 .5 .1 .5 .5 .5-.2 .5-.3 .5 0 .5 0 .5-.3 .5-.8 .5 0 .5 .7 .5 .5 .5 .3 .5 .4 .5-.1 .5-1.2 .5-.2 .5 0 .5 .3 .5 .2 .5 .4 .5 .4 .5 .5 .5-.3 .5-1.2 .5-.3 .5 .2 .5 .4 .5 .5 .5-.1 .5-.4 .5 .1 .5-.6 .5-.5 .5 .3 .5 .6 .5 .3 .5 .1 .5 .3 .5 .3 .5-.6 .5 .5 .5 .3 .5-1.2 .5-1.9 .5-1 .5 .2 .5-.9 .5-1.6 0 .2 .5 1.3 .5 1.4 .5 .4 .5 1.2 .5 .4 .5 .4 .5 .8 .5 .2 .5-.9 .5-.2 .5 .5 .5-.4 .5-.3 .5 .2 .5 .5 .5 .7 .5-.2 .5-.1 .5 .1 .5-.2 .5 .4 .5 .7 .5-.3 .5-.5 .5 .1 .5 .4 .5-.1 .5-.2 .5-.1 .5 .3 .5 .9 .5-.3 .5-.2 .5-.5 .5-.2 .5-.6 .5 .1 .5 1.4 .5-.3 .5-1.3 .5-.5 .5 1.6 .5 .5 .5-.8 .5 .1 .5-.6 .5 0 .5 .7 .5 .4 .5 .6 .5 .3 .5-.6 .5-.7 .5 .3 .5 .1 .5-.3 .5 .1 .5-.3 .5-.9 .5-.6 .5 1.5 .5 .2 .5-.4 .5-.2 .5-.7 .5-.4 .5 0 .5-1.1 .5-1.1 .5-1.8 .5-1.6 .5-.3 .5 .9 .5 1.4 .5-.2 .5 1 .5 1.5 .5 1.2 .5 1.4 .5-.5 .5-.8 .5-.2 .5 .3 .5 .1 .5 1 .5 .7 .5-1 .5 .4 .5 .3 .5-.5 .5 .1 .5 .6 .5 .5 .5-.9 .5-.6 .5 .2 .5 .4 .5 1.1 .5-.3 .5-.4 .5 .1 .5 0 .5-.4 .5-1.5 .5 .1 .5 1.4 .5 0 .5-.8 .5-.5 .5-.7 .5-1.6 .5-1.7 .5-2.4 .5-4.3 .5-5 .5-6 .5-8 .5-9.4 .5-40.8 .5-51.9 .5-49.2 .1-13.7 .4 41.3 .5 59 .5 59.1 .5 19.1 .5 3.1 .5 2.7 .5 2.2 .5 0 .5-1.4 .5-1.3 .5-1.6 .5-12.4 .5-17.3 .4-14.4 .1 3 .5 20.2 .5 19.5 .5 10.3 .5 1.4 .5 .7 .5 1.2 .5 .3 .5 1.1 .5 .2 .5 .1 .5-.4 .5 .2 .5 0 .5-.3 .5 .1 .5 .7 .5-.2 .5-.4 .5 .5 .5 .7 .5 .3 .5 .3 .5-.3 .5-.5 .5 .7 .5 .7 .5-1.1 .5-.8 .5 .4 .5 .3 .5 .7 .5 1.6 .5-.2 .5-.9 .5 .4 .5 0 .5 .9 .5 .8 .5-.5 .5-.5 .5 .7 .5-.3 .5-.6 .5 .1 .5 .5 .5 .4 .5 .2 .5 .1 .5-.9 .5-2 .5 .8 .5 1.6 .5-.4 .5-1.1 .5 .2 .5 .7 .5 .4 .5 .3 .5-1.4 .5 .2 .5 1.8 .5 .7 .5-.7 .5-.7 .5-.6 .5 .2 .5 .6 .5 .3 .5 .9 .5 .6 .5-.8 .5 .1 .5 .4 .5-.8 .5-.2 .5-.8 .5 .4 .5 1.6 .5-.7 .5-1 .5-.5 .5 .9 .5 .3 .5-.1 .5 .1 .5 0 .5-.1 .5 0 .5-.5 .5-.5 .5 1.3 .5 .3 .5-.9 .5-.3 .5-.4 .5 1.7 .5 .4 .5-.6 .5 .7 .5 .5 .5-1.1 .5-.7 .5 .8 .5 1.3 .5 0 .5-.6 .5 0 .5 .5 .5-.5 .5 .2 .5 .5 .5 1 .5 0 .5-.5 .5 .9 .5 .5 .5-.6 .5-.2 .5 0 .5 .1 .5-.5 .5-.2 .5 1.3 .5-.4 .5-.7 .5 .3 .5 .5 .5-.5 .5-.6 .5 .5 .5 .7 .5-.8 .5-.2 .5 .7 .5 .7 .5 0 .5-.5 .5 .7 .5 1.2 .5-.1 .5-.2 .5-.8 .5-.4 .5 .7 .5-.5 .5 .3 .5 2 .5 .1 .5-.7 .5-.4 .5-.7 .5-.3 .5 1.3 .5 .7 .5-.5 .5-1 .5-.2 .5 .5 .5 .6 .5 .3 .5 .1 .5-.4 .5 .3 .5 .2 .5-.3 .5 .1 .5 .3 .5-.9 .5 .4 .5 .8 .5-.5 .5-.9 .5-.5 .5 .9 .5 .6 .5 .5 .5 .4 .5-.1 .5-.6 .5 .3 .5 .5 .5 .1 .5 .6 .5 .4 .5-.3 .5-.1 .5-.1 .5-.2 .5-.4 .5 1 .5-.1 .5-1.2 .5-.7 .5 .8 .5 .3 .5-.3 .5 0 .5 .4 .5 .4 .5 .5 .5 .2 .5-.1 .5 0 .5 .2 .5 .5 .5 .3 .5-.4 .5-.1 .5 .4 .5-.5 .5 .1 .5 .5 .5 .4 .5-.3 .5-.7 .5-.6 .5-.6 .5 .9 .5-.2 .5-.1 .5-.5 .5-.2 .5 .4 .5 .6 .5 1 .5-.2 .5-.3 .5 .6 .5 .3 .5 1 .5-.4 .5-1.4 .5-.7 .5 .2 .5-.1 .5 .6 .5 .3 .5 .7 .5-.1 .5 0 .5 0 .5-.1 .5 1 .5 0 .5-.8 .5-.4 .5 0 .5 .8 .5 .4 .5-.7 .5-.5 .5-.7 .5-.3 .5 .3 .5 1 .5 1.3 .5 .3 .5-.1 .5-.7 .5-.8 .5 .5 .5 .2 .5-.9 .5 .2 .5 .6 .5 0 .5-.3 .5-1.5 .5-.2 .5 1.4 .5 .3 .5-.8 .5-1 .5 0 .5 .4 .5-.4 .5-.4 .5 .9 .5 1 .5-.5 .5-.7 .5 1.1 .5 .6 .5-.5 .5-1.3 .5 .1 .5 .4 .5 .8 .5 .1 .5-.1 .5-.4 .5 1 .5 .8 .5 .4 .5-.5 .5-.4 .5 0 .5 .1 .5 .3 .5-.2 .5-.5 .5 .7 .5-.1 .5-1 .5 .3 .5 1.3 .5-.3 .5-.7 .5-.4 .5 .4 .5 .2 .5-.6 .5 1.2 .5 .6 .5-.5 .5-.5 .5 .4 .5 1.6 .5-.4 .5-.6 .5 .6 .5-.2 .5-.3 .5 .5 .5 .1 .5 .6 .5 .1 .5 0 .5-.6 .5-1 .5 .1 .5 .3 .5 .8 .5 .9 .5-.3 .5-.3 .5-.6 .5-.3 .5 .3 .5-.2 .5-1.2 .5 .4 .5 .5 .5-.6 .5-1.9 .5-3.3 .5-4.2 .5-3.3 .3 .7 .2 .1 .5 1.6 .5 3.7 .5 3.9 .5 1.8 .5 1 .5 0 .5 .8 .5 1.4 .5-.3 .5 .8 .5 .6 .5 0 .5-.6 .5-.9 .5 .7 .5 0 .5-.4 .5-.3 .5 1.1 .5 .7 .5-.7 .5 .3 .5 .5 .5-.5 .5 0 .5-1 .5-.1 .5 .8 .5 .5 .5-.1 .5-.3 .5 .8 .5 0 .5-.9 .5 .2 .5 .2 .5 .3 .5 .1 .5 .1 .5 .3 .5-.5 .5-.3 .5-.3 .5 .3 .5 .4 .5 0 .5 .1 .5 .2 .5 .1 .5-.5 .5 .4 .5 .4 .5-.9 .5-.3 .5 .9 .5-.3 .5-.1 .5 .8 .5-.5 .5-.3 .5 .4 .5-1 .5-.9 .5 .4 .5-.1 .5 .2 .5 0 .5-1.6 .5-1.7 .5-2 .5-1.6 .5-1.4 .5-6.8 .5-11.8 .5-11.3 .1-1 .4 11.4 .5 14.5 .5 10.8 .5 1 .5 .5 .5 1.3 .5 1.4 .5-.4 .5 0 .5 1.2 .5-.4 .5-1.1 .5-.3 .5 .4 .5 1 .5 .3 .5-.1 .5 .5 .5-.2 .5-.1 .5 .9 .5 .2 .5-1.5 .5-1.6 .5-1.2 .5 1.2 .5-.2 .5-1.7 .5-1.6 .5-2.6 .5-2.6 .3-1.1 .2-.1 .5 2.6 .5 2.2 .5 1.6 .5 1.7 .5 .3 .5 .4 .5 1.1 .5 1.4 .5-.3 .5-1.1 .5-.5 .5 .4 .5 .1 .5-.3 .5-.5 .5 .3 .5 .7 .5-.2 .5 .1"/>
<path stroke="#2e2e2e" d="M748.7,433.3l.5 .6 .5-.2 .5-.5 .5 0 .5-.5 .5 .5 .5 0 .5 .5 .5-.1 .5-.3 .5 .4 .5 0 .5 0 .5 1.1 .5-.5 .5-1.3 .5-.1 .5 .7 .5-.2 .5-.2 .5 .4 .5-.5 .5-.9 .5 0 .5-.1 .5-.8 .5-.2 .5-.2 .5 .6 .5 .3 .5-.4 .5 .3 .5-.3 .5 .1 .5-.2 .5-.5 .5 .1 .5 0 .5 .8 .5 .4 .5 .2 .5-.8 .5 .5 .5 0 .5 0 .5 .2 .5 .9 .5 .4 .5-.3 .5-1.2 .5-1 .5 .8 .5 .3 .5 .1 .5 .5 .5 .5 .5-.5 .5-.6 .5-.2 .5 .8 .5 .6 .5-.3 .5-.3 .5-.8 .5-.3 .5 .9 .5-.4 .5-1.6 .5 .3 .5 1.1 .5-.2 .5-.8 .5 .6 .5-1.1 .5-2.1 .5-2.6 .5-2 .5 .2 .5 1.3 .5 .2 .5 .8 .5 1.9 .5 .2 .5 .1 .5 1.2 .5-.1 .5 1.5 .5 1.3 .5 .7 .5 .6 .5-.9 .5-.9 .5 .8 .5 .2 .5-.9 .5-.5 .5 .5 .5 0 .5 .1 .5 .3 .5 .4 .5 .5 .5-.1 .5-.6 .5-.3 .5-.7 .5 .1 .5-.6 .5 .6 .5 1 .5-.3 .5 1.2 .5 .3 .5-.8 .5-.8 .5-.7 .5 .1 .5 .1 .5-.2 .5 .1 .5 .1 .5 0 .5-.6 .5 .7 .5 .1 .5-.8 .5 1.1 .5 .2 .5-1.3 .5-1.3 .5-.3 .5-1.3 .5-.7 .5-.7 .5-.6 .5-.6 .5 .9 .5 1 .5 .8 .5 1.2 .5 .8 .5 .4 .5 .5 .5 .1 .5 .6 .5 1.2 .5 .3 .5-.4 .5 .4 .5 0 .5-.9 .5-1.7 .5 .5 .5 .3 .5-1.1 .5-1.2 .5-.4 .5 .8 .5 .9 .5 1.3 .5 .4 .5 .5 .5 1 .5 .7 .5-.2 .5 .2 .5-.4 .5-.1 .5 .7 .5 .7 .5 .1 .5-.2 .5-.3 .5-.4 .5 .8 .5 .7 .5-.6 .5 0 .5 .5 .5-.8 .5-.8 .5-1.1 .5 .1 .5-.5 .5-1.5 .5-.6 .5-.7 .5-.8 .5 2.1 .5 .8 .5 1.3 .5 1.1 .5 .2 .5 .2 .5 .3 .5 .1 .5 .2 .5 .3 .5 .6 .5 .3 .5-.1 .5 .1 .5-.4 .5 .5 .5 .7 .5-.1 .5-.8 .5 .5 .5-.3 .5-.9 .5 .4 .5 .6 .5 1 .5 .9 .5-.1 .5-.3 .5 .3 .5-.3 .5-.7 .5-.8 .5 .2 .5 .3 .5-.1 .5 .1 .5 .7 .5 1 .5 .1 .5-.2 .5-.4 .5 .3 .5-.1 .5 0 .5 .5 .5 0 .5 .1 .5 .3 .5 .3 .5-.1 .5-.6 .5-.2 .5 0 .5 .5 .5 .8 .5-.4 .5 .3 .5 .6 .5 0 .5-.6 .5-.4 .5 .6 .5 .6 .5-.6 .5 .4 .5-.2 .5-.7 .5 .8 .5-.1 .5-.7 .5 .8 .5 .5 .5-.6 .5 0 .5 .2 .5-.4 .5-1.2 .5-.7 .5-.2 .5-.3 .5-.6 .5-1.9 .5-1.4 .5-.4 .5 1.2 .5 1.5 .5 .6 .5 1.3 .5 .7 .5 0 .5 .6 .5 1.1 .5-.2 .5-.9 .5 .6 .5 .6 .5 0 .5 .9 .5 .8 .5-.1 .5-.9 .5 .1 .5 .4 .5-.3 .5-.1 .5 0 .5-.1 .5-.3 .5 1 .5 1 .5-.2 .5-.9 .5-.5 .5 .1 .5 .8 .5 .3 .5 0 .5-.7 .5-.3 .5 .1 .5-.6 .5 .3 .5 .4 .5-1.3 .5-1.6 .5 .9 .5 1.1 .5-1.1 .5-1.3 .5-.2 .5-.2 .5-1.7 .5-.9 .5 .2 .5-.9 .5-1 .5-.9 .5 1 .5 .7 .5 1.3 .5 .9 .5 .4 .5 .9 .5 1.3 .5 1.9 .5 .3 .5 .4 .5-.3 .5-1.2 .5 .6 .5 1.8 .5-.1 .5-.2 .5 .5 .5 .7 .5 .7 .5-1 .5-.4 .5 1 .5 .6 .5 0 .5 .1 .5-.2 .5-.2 .5 0 .5 .3 .5 .7 .5 0 .5 .1 .5-1.2 .5 .3 .5 2 .5-.6 .5 .3 .5 .4 .5 .7 .5 .6 .5-.8 .5-.4 .5-.2 .5-.1 .5-.1 .5 .8 .5-.4 .5-.6 .5 .3 .5 .8 .5 .1 .5-1 .5 .1 .5 1 .5-.2 .5 .2 .5 0 .5-.3 .5 .2 .5-.8 .5 0 .5 .9 .5-.2 .5-.3 .5 .1 .5 .6 .5 0 .5 .3 .5 .7 .5 .2 .5-.6 .5-.1 .5-1 .5-.5 .5 .4 .5 0 .5-.4 .5-1.6 .5-.3 .5 .2 .5 .5 .5 .8 .5-.2 .5 .9 .5 1.2 .5 .6 .5-1.1 .5 0 .5 1 .5 .6 .5-.3 .5-.1 .5 .2 .5 .6 .5 .3 .5-.7 .5-.5 .5 .5 .5 .2 .5 .9 .5-.5 .5-.2 .5-.3 .5 .6 .5-.2 .5-.2 .5 .1 .5 .3 .5 .2 .5 .1 .5 .2 .5-.2 .5-.2 .5 .3 .5-.6 .5-.3 .5 .1 .5 .3 .5-.9 .5-.4 .5 .5 .5 .3 .5 0 .5 1 .5 .6 .5-.7 .5-1.1 .5-.6 .5-.1 .5-.2 .5-.5 .5 .6 .5 .3 .5-.5 .5-.8 .5-.2 .5 .4 .5 .3 .5 .2 .5 1 .5 .3 .5 0 .5 .1 .5 1.5 .5 .3 .5-1.4 .5-.6 .5 .5 .5 1.1 .5 .5 .5-1.1 .5-.8 .5 .3 .5 .8 .5 0 .5-.3 .5-.4 .5 0 .5 .8 .5 .7 .5-.2 .5-.3 .5 .1 .5-.4 .5 .5 .5 1.2 .5-.3 .5-.6 .5 .5 .5-1.1 .5-.7 .5-.2 .5 .7 .5 1.1 .5 .8 .5 .1 .5-.4 .5-.4 .5-.9 .5 .3 .5 0 .5-.3 .5-.3 .5 .1 .5 .3 .5-.5 .5 .2 .5 .1 .5 .1 .5 .8 .5-.3 .5-1.3 .5 .3 .5-.3 .5 .1 .5-.2 .5-1 .5 .5 .5-.2 .5-.3 .5-.5 .5-.8 .5-.9 .5-.6 .5-.7 .5-.7 .5-1.5 .5-1.7 .5-2.4 .5-.7 .5 .1 .5 .1 .5 .2 .5 1.4 .5-.2 .5 1.6 .5 1.2 .5 .8 .5 .8 .5 .9 .5 1.1 .5 1.1 .5 1.1 .5 .1 .5-.7 .5-.2 .5 1 .5 .9 .5-.9 .5 .7 .5 .2 .5 .2 .5 1.3 .5-1.1 .5-1 .5 .6 .5 .6 .5-.2 .5-.3 .5-.8 .5-.2 .5 .5 .5 .3 .5-1.1 .5-1.1 .5-.8 .5-.8 .5-1 .5-1.3 .5-1.7 .5-2.5 .5-10 .5-10.4 .4-9.5 .1 1 .5 12.8 .5 13.7 .5 9.1 .5 1.1 .5 .4 .5 .5 .5 0 .5 1.4 .5 .8 .5-.7 .5-.2 .5 0 .5 .4 .5 0 .5-1 .5 .3 .5 .5 .5 .1 .5 .3 .5-.5 .5 .1 .5 1.4 .5-.1 .5 0 .5-.6 .5-.6 .5 0 .5-.8 .5-1.3 .5-.5 .5-.1 .5 .5 .5 0 .5 .9 .5 1 .5 .5 .5 .1 .5-.8 .5 .1 .5 1.6 .5-.3 .5-.2 .5 .6 .5 .4 .5 .3 .5-.1 .5-.6 .5-.1 .5-.3 .5-.6 .5 .7 .5 .2 .5-.4 .5-.4 .5 .8 .5 .4 .5 .3 .5 .5 .5-.6 .5-.7 .5-.2 .5 .7 .5 .8 .5-.3 .5-.6 .5 .9 .5 0 .5-1.4 .5-.4 .5 .1 .5 .8 .5-.7 .5 .2 .5 .7 .5-.1 .5-.6 .5-.9 .5-.6 .5 .1 .5 .8 .5 0 .5-.9 .5 .3 .5-.6 .5-.7 .5 1.1 .5 .5 .5 .1 .5-.3 .5-.6 .5 0 .5 .2 .5 0 .5-.2 .5-.2 .5 .3 .5-.2 .5-.6 .5 .2 .5-.5 .5-.3 .5 .5 .5 .4 .5-.2 .5-1 .5-.6 .5-.1 .5 .3 .5-.3 .5-.4 .5-.8 .5-2.1 .5-1.6 .5-.9 .5-1.7 .5-.5 .5 1.4 .5 1.1 .5-.1 .5 .7 .5 1.3 .5 .8 .5-.5 .5-1.1 .5-.7 .5-.6 .5 .9 .5 .1 .5-1.5 .5-.2 .5 .7 .5 1.4 .5 .6 .5 .8 .5 .5 .5 .2 .5 .1 .5 .5 .5 .3 .5 1.1 .5 1 .5-.2 .5 .2 .5 .4 .5-.8 .5-1 .5 .2 .5 .4 .5-.7 .5 .2 .5 .2 .5 .2 .5-.1 .5-.1 .5 .7 .5-.6 .5-1.9 .5-.6 .5-1.7 .5-2.2 .5 0 .5 1.1 .5 1.1 .5 1.8 .5 1.6 .5 .5 .5 .3 .5 .5 .5 .2 .5 .8 .5 .9 .5-.2 .5-.6 .5 .3 .5 .5 .5 .4 .5 0 .5-.4 .5-.2 .5 .2 .5 .2 .5-.1 .5-.7 .5 .2 .5 .3 .5-1.3 .5-.5 .5 1.3 .5 .8 .5-1.2 .5-.3 .5-.4 .5-.5 .5 .5 .5 0 .5-.9 .5-.2 .5 1.1 .5-.1 .5-.6 .5-.9 .5-2.1 .5-2 .5-2.7 .5-3.6 .5-7.1 .5-7.7 .5-9.2 .5-13.4 .5-54.5 .5-50.7 .4-41.1 .1 6.7 .5 57.9 .5 59.2 .5 53.5 .5 4.2 .5 3.2 .5 2.1 .5 1.2 .5 0 .5-.9 .5-.9 .5-1.5 .5-2.6 .5-11 .5-17.9 .5-17 0-1 .5 18.9 .5 20.4 .5 14.3 .5 1.2 .5 1.1 .5 1.1 .5 1.1 .5 .7 .5 .2 .5 .5 .5-.2 .5 1.6 .5 .2 .5-.4 .5-.2 .5-.7 .5-.4 .5 1.5 .5 .6 .5 0 .5-.8 .5-.2 .5 .4 .5 .1 .5 .2 .5 .3 .5 .2 .5 0 .5-.1 .5-.9 .5 1 .5 1.4 .5-.8 .5-.8 .5 .1 .5-.5 .5 1 .5 1.9 .5-.2 .5-1 .5-.3 .5 .5 .5 .3 .5-.2 .5-.2 .5-.2 .5 .2 .5-.8 .5-.8 .5 0 .5 .8 .5 1 .5 .4 .5-.5 .5-.5 .5 0 .5 .4 .5 .2 .5 .4 .5 1 .5-.1 .5-1.3 .5 .4 .5 0 .5-.8 .5 .1 .5-.4 .5-.5 .5 .4 .5 .6 .5 0 .5-.1 .5 .6 .5 .2 .5 0 .5-.1 .5 .3 .5-.1 .5-.4 .5-.7 .5-.9 .5 1.3 .5-.2 .5 .3 .5 .2 .5-.5 .5-.1 .5 .2 .5 .2 .5 1.5 .5-1.2 .5-1.4 .5 1.3 .5 .8 .5-.1 .5-1.2 .5-1.1 .5 1 .5 0 .5-1 .5-.6 .5-.5 .5 .5 .5-.9 .5-1.8 .5-1.3 .5-.6 .5 .6 .5 .4 .5 1 .5 1.4 .5 .6 .5 .6 .5 .7 .5 .7 .5 .6 .5 .8 .5 .3 .5 .9 .5 .1 .5-.4 .5 .1 .5 0 .5 .1 .5 .1 .5 .8 .5-.1 .5-1.3 .5 1.1 .5 .2 .5-1.1 .5-.1 .5 .7 .5 .4 .5 .5 .5 .1 .5-.4 .5-.3 .5-.3 .5 .4 .5 .7 .5-.3 .5-.4 .5-.3 .5 .5 .5 .3 .5 .2 .5-1 .5 .7 .5 .5 .5-1 .5-.4 .5-.3 .5-.6 .5 1 .5 1.5 .5-.1 .5-1.1 .5 0 .5 .3 .5-.1 .5-.1 .5 0 .5 .2 .5 .5 .5 1 .5-.3 .5-.8 .5 .2 .5 .2 .5 .5 .5 .2 .5 .1 .5 0 .5 0 .5-.3 .5 .4 .5 .8 .5 .4 .5 0 .5-.2 .5 .1 .5 1.7 .5 .2 .5-.8 .5 .6 .5 1 .5-1.1 .5-.8 .5 .4 .5-.3 .5-.3 .5-.1 .5-.5 .5 .4 .5 .8 .5 .8 .5-.1 .5-.8 .5 1 .5 0 .5-.3 .5-.1 .5 .6 .5 1.1 .5-.6 .5-1.1 .5-.1 .5 .6 .5 .5 .5-.1 .5 0 .5-.1 .5 .4 .5 .5 .5-.4 .5 .2 .5 .6 .5 .1 .5-.7 .5-1.3 .5 .6 .5 .9 .5 .1 .5-.2 .5-.1 .5 .9 .5-.4 .5-1.1 .5-.8 .5 .3 .5 .2 .5 .2 .5 1 .5 .4 .5-.3 .5-.4 .5-.2 .5 .2 .5-.5 .5-1 .5 .6 .5 .7 .5-.1 .5-.7 .5 .1 .5 1.3 .5-.1 .5-1.1 .5-.1 .5 .6 .5 0 .5 .2 .5 .6 .5-.1 .5-.1 .5-.9 .5-1.4 .5 1 .5 0 .5-2.1 .5-2.1 .5 .2 .5 1.6 .5-.4 .5 .6 .5 0 .5-.5 .5 .2 .5 .6 .5 .6 .5 .3 .5 .2 .5 .3 .5-.9 .5-.1 .5-.5 .5-.5 .5-.1 .5 .7 .5 .6 .5 0 .5-.5 .5 1 .5 .9 .5-.1 .5 .5 .5 0 .5 .5 .5 .2 .5-.1 .5 .3 .5 .1 .5 .2 .5 .1 .5-.1 .5 .3 .5 .6 .5 .1 .5 .1 .5 .5 .5-.7 .5-.5 .5 1 .5 1.1 .5-.4 .5-.7 .5-.1 .5 .6 .5-.1 .5 .1 .5 .9 .5 .5 .5-.7 .5 0 .5-.1 .5 .1 .5 .5 .5 .5 .5 .1 .5-.4 .5-.5 .5 .4 .5 1.7 .5 .2 .5 0 .5 0 .5 .1 .5 0 .5 .2 .5-.8 .5 .5 .5 .4 .5-.8 .5-.2 .5 .2 .5-.5 .5-.2 .5 1.1 .5 .5 .5-.9 .5-1.3 .5-1.3 .5-2 .5-3.2 .5-2.2 .3 .6 .2 1.4 .5 2.6 .5 2.3 .5 2 .5 .7 .5-.2 .5 .7 .5 1.2 .5 .7 .5 .3 .5 .2 .5-.6 .5-.3 .5 .4 .5 0 .5-.2 .5-.6 .5 .6 .5 .9 .5-.8 .5-.3 .5 .3 .5 .3 .5 .4 .5 .5 .5-.2 .5-.1 .5 .5 .5-.4 .5-.6 .5 .4 .5 .2 .5 .4 .5 .6 .5-.1 .5 0 .5-.8 .5 .6 .5 0 .5 0 .5 .3 .5-.6 .5-.4 .5 0 .5 .5 .5-.1 .5 .8 .5-.7 .5-.4 .5 .8 .5 0 .5 .1 .5-.3 .5-.4 .5-.1 .5-.8 .5 .3 .5 .4 .5-.2 .5 .7 .5 1 .5-.7 .5-.8 .5 1.3 .5 .8 .5-.3 .5-.7 .5-.2 .5 .4 .5 .2 .5-.5 .5-.1 .5 .3 .5 .8 .5-.2 .5 0 .5 .2 .5 0 .5-.3 .5-.1 .5-.6 .5 0 .5-.1 .5 .4 .5 1.3 .5 .4 .5-1.3 .5-.8 .5 .9 .5 1.4 .5-.6 .5-.8 .5 .1 .5 .7 .5-.2 .5-.3 .5-.3 .5-.4 .5-.7 .5-.7 .5-.1 .5-.4 .5-1.3 .5-.8 .5-1.7 .5-3.2 .5-2.7 .1-.5 .4 2.2 .5 3 .5 2.6 .5 2.2 .5 1.6 .5 .3 .5-.3 .5-.4 .5-.3 .5 .4 .5 0 .5-.2 .5-.4 .5 .2 .5-.1 .5 1 .5 .3 .5-.2 .5 0"/>
<path stroke="#050505" d="M748.7,402.1l.5 1 .5 .3 .5-.7 .5-.3 .5-.6 .5-.6 .5 0 .5 .3 .5 1.1 .5-.1 .5-.4 .5-.7 .5-.4 .5-.1 .5 .4 .5 .6 .5-.2 .5-.7 .5-.1 .5 0 .5 .8 .5-.6 .5 .7 .5 .4 .5-2.2 .5-.4 .5 .9 .5 .2 .5-.3 .5 .2 .5 .4 .5-.7 .5-.9 .5 1.5 .5 .9 .5-.9 .5-.9 .5-.7 .5-.4 .5 1.7 .5 1.2 .5-1.3 .5-1.7 .5 .7 .5 .7 .5 .3 .5 .2 .5-1.1 .5 .3 .5 1.1 .5 .3 .5-.1 .5 .3 .5-.7 .5-.5 .5 .8 .5-1 .5-.7 .5 1.5 .5 1.2 .5-.2 .5-.3 .5-1.1 .5-1.2 .5 1 .5-.5 .5-1.6 .5 .2 .5 .6 .5 .5 .5-.3 .5-.7 .5-.9 .5-2.1 .5-1.5 .5-.7 .5-1.8 .5-2 .5-1 .5 .4 .5 2.2 .5 2 .5 .9 .5 .2 .5 .6 .5 1.6 .5 1.8 .5 1.2 .5 0 .5 .8 .5 1.2 .5 .6 .5-.8 .5 0 .5-.8 .5-1.5 .5-.4 .5 1.8 .5 1.3 .5 .3 .5-1.4 .5-.1 .5-.6 .5-.6 .5 1.1 .5 .1 .5 0 .5 1.2 .5-.5 .5 .2 .5-.3 .5-.2 .5 .3 .5 .3 .5-1.2 .5-.3 .5 1.6 .5-.4 .5-1 .5-.2 .5-.5 .5 .9 .5 .1 .5-.8 .5 1 .5 .5 .5-.7 .5-.2 .5-.4 .5-.8 .5-.7 .5 .8 .5-1.6 .5-1.2 .5-1.2 .5-.3 .5-.2 .5 .5 .5 1.5 .5 .7 .5 .9 .5 2 .5 .3 .5-.7 .5-.3 .5 0 .5 .2 .5 .8 .5 .7 .5-.9 .5 0 .5 .7 .5 .1 .5 0 .5-1.6 .5-.9 .5-1.4 .5-1.1 .5 1.5 .5 1.8 .5 1 .5 .7 .5 1.1 .5 .4 .5 0 .5 .2 .5 .3 .5 .5 .5 .7 .5-.3 .5-.3 .5 .6 .5-.1 .5-.8 .5 0 .5 .7 .5 .4 .5 .4 .5-.3 .5-.9 .5-1.1 .5-.5 .5 .2 .5-.5 .5-.7 .5 .1 .5-.3 .5-.7 .5 .3 .5 .6 .5 1.6 .5 .3 .5 .7 .5 .6 .5 1.3 .5 .5 .5-.3 .5-.2 .5 0 .5-.5 .5 .5 .5 .3 .5-1.1 .5 .5 .5 1.5 .5 .2 .5-.5 .5-.1 .5 .1 .5-.6 .5-.4 .5-.3 .5 .7 .5 .4 .5-.4 .5-.9 .5 .5 .5 .8 .5 .1 .5 1.7 .5 1 .5-.9 .5-.3 .5-.2 .5-.4 .5-.1 .5 .5 .5-.5 .5 .2 .5 .1 .5-.3 .5 .3 .5 1.1 .5 .5 .5-.1 .5 .3 .5-.3 .5-.1 .5 .1 .5-.1 .5 .4 .5-.1 .5 .2 .5 .4 .5-1 .5-.3 .5 1 .5 .4 .5 0 .5 .6 .5 0 .5-.6 .5-.2 .5 1.1 .5-.6 .5-.6 .5 .7 .5-.7 .5-1.1 .5-.2 .5 .3 .5-.4 .5-.3 .5 .2 .5-.5 .5-.5 .5 .3 .5-.1 .5-1 .5-1.9 .5-1.1 .5-.2 .5 1.4 .5 1.2 .5 1.3 .5 1.2 .5 1.3 .5 .7 .5 .4 .5-.2 .5-1.1 .5 .8 .5 1.3 .5 .2 .5 0 .5 0 .5 .3 .5-.5 .5-.3 .5 .5 .5 1 .5 .3 .5-.3 .5-.6 .5-.6 .5 .6 .5-.7 .5-.2 .5-.2 .5 .6 .5 1.3 .5 .8 .5-1.8 .5-1.1 .5 1.3 .5 .6 .5 .6 .5-.6 .5-1.3 .5 0 .5 .4 .5-.3 .5-.4 .5-.4 .5-.6 .5-1.8 .5 0 .5 1 .5-.9 .5-1.7 .5-1.2 .5-.9 .5-1.2 .5-2.3 .5-.9 .5 .1 .5-.2 .5 .4 .5 1.5 .5 1.3 .5 1.3 .5 1.6 .5 1.5 .5 .7 .5 .4 .5-.3 .5 .3 .5 .9 .5 1.4 .5 1.5 .5-.3 .5 .5 .5 1.4 .5-.4 .5-.2 .5 .6 .5 .6 .5 .9 .5-.4 .5-.6 .5 .3 .5-.1 .5 1.3 .5-.6 .5-.6 .5 1.6 .5-1 .5-.6 .5 1.8 .5-.4 .5-.2 .5 .5 .5 .6 .5-.2 .5-.2 .5 1.7 .5-.5 .5-.8 .5 .1 .5 0 .5 .4 .5 .1 .5-.3 .5-.3 .5-.2 .5 0 .5 0 .5 0 .5-.9 .5 .2 .5 .8 .5-.5 .5 .8 .5 0 .5-1.3 .5 .9 .5 1 .5-.6 .5 .3 .5-1.7 .5-1 .5 .8 .5 .8 .5 .8 .5-.4 .5-.4 .5 .6 .5 .3 .5-1.4 .5-.5 .5 .3 .5 .2 .5-.2 .5-.8 .5-1 .5 .3 .5 1 .5 2.1 .5-.4 .5-.3 .5 1.4 .5 .8 .5 .9 .5-.4 .5-1.1 .5 .8 .5-.2 .5-.2 .5 .7 .5 .3 .5 .4 .5 .4 .5-.3 .5 .2 .5 .5 .5-.5 .5 0 .5 .5 .5 .1 .5-1 .5 .4 .5 .5 .5 0 .5-.1 .5-.4 .5 .2 .5 0 .5 0 .5-.3 .5-.3 .5 .2 .5 .6 .5 1.4 .5-.7 .5-.8 .5 .1 .5 .1 .5-.5 .5-.4 .5-.3 .5 .2 .5-.2 .5-.2 .5-.1 .5-.4 .5 .5 .5-.2 .5-1.6 .5-.5 .5 .7 .5-.3 .5 .3 .5 .6 .5 .1 .5 .5 .5 1 .5 .1 .5-.2 .5 0 .5 0 .5 1 .5 .7 .5 .1 .5-.6 .5 .7 .5 0 .5-.4 .5-.9 .5 .6 .5 .2 .5-.6 .5 .8 .5 .4 .5-.5 .5 .7 .5 .3 .5-.5 .5-.8 .5-.8 .5 .4 .5-.1 .5-.7 .5 .9 .5 .4 .5-.7 .5-1.3 .5 .6 .5 1.2 .5 .4 .5 0 .5-.5 .5 .2 .5 1 .5 .2 .5-.8 .5-.8 .5-.2 .5 1.1 .5 .4 .5 .3 .5-.7 .5-.2 .5-.1 .5 1.2 .5 .8 .5-1.8 .5-.7 .5 .4 .5-.4 .5-.9 .5 .8 .5-.3 .5 .3 .5-.4 .5-.9 .5-.2 .5-.6 .5-.8 .5-.1 .5-.6 .5-1.1 .5-.9 .5-1.2 .5-.9 .5-1 .5-1.5 .5-.5 .5 1.3 .5 .5 .5 1.4 .5 2 .5 2.3 .5 .7 .5 .4 .5 .7 .5 0 .5 .1 .5-.4 .5 .9 .5 .3 .5-.7 .5-1.5 .5-.3 .5 .6 .5 1.2 .5 .7 .5-.3 .5-.1 .5-.1 .5-.2 .5 .1 .5 .3 .5 .4 .5-.1 .5 .1 .5-.3 .5-1.6 .5-.1 .5 .8 .5-.2 .5-1.4 .5-1.5 .5-.2 .5-.6 .5-1.8 .5-2.3 .5-11.3 .5-13.2 .4-9.9 .1 3.2 .5 13.9 .5 14.8 .5 9.4 .5 .4 .5 1.2 .5 .9 .5-.6 .5-.1 .5-.1 .5 .6 .5 .5 .5-.5 .5-.3 .5 0 .5 .7 .5 .6 .5-.8 .5-.5 .5-.2 .5 .4 .5 .1 .5-.1 .5 .4 .5-.7 .5 .4 .5-.6 .5-1.3 .5 .3 .5 .1 .5-.8 .5-.2 .5 .1 .5 .1 .5 .7 .5 .4 .5 1 .5 .9 .5 .6 .5 .4 .5-.1 .5 .2 .5 .6 .5 .5 .5-.4 .5 .2 .5-.5 .5 .3 .5 0 .5 .2 .5 .5 .5-.6 .5-.5 .5-.7 .5-.1 .5 1 .5 .9 .5-.3 .5-.5 .5 .8 .5 .4 .5-.7 .5-.4 .5-.3 .5 .2 .5 .3 .5-.8 .5 .2 .5-.2 .5-.6 .5-.2 .5 .5 .5-.8 .5 .1 .5 1.2 .5-.6 .5-1.2 .5-.1 .5 .3 .5 .1 .5 .1 .5 .7 .5 .4 .5-.1 .5-2 .5 0 .5 0 .5-1.1 .5 1.3 .5 1.3 .5-.5 .5-.1 .5-.6 .5-1.3 .5 .4 .5 1.2 .5 .9 .5-.5 .5-1.1 .5-.2 .5-.4 .5-.6 .5-.5 .5 1.3 .5 1.2 .5-.6 .5-.6 .5-.2 .5-.5 .5-1.3 .5-.3 .5-.9 .5-.4 .5-2.1 .5-2.6 .5-2.4 .5-1.3 .5 1.8 .5 1.8 .5 1 .5 .8 .5 1.1 .5-.1 .5-1.2 .5-.9 .5-1.2 .5-.1 .5-1.4 .5-1.3 .5 .9 .5 1.1 .5 1 .5-.2 .5 0 .5 1.5 .5 2.2 .5 .5 .5 .5 .5 1.5 .5 1.3 .5-.1 .5-.5 .5 .4 .5-.5 .5 .2 .5 .6 .5 .1 .5 1.5 .5-.7 .5-2.1 .5 .1 .5 .3 .5 1.1 .5 .1 .5 .2 .5-.3 .5-1.3 .5-.1 .5 0 .5-.7 .5-.6 .5-1.7 .5-1.1 .5 .7 .5-.3 .5 .6 .5 .6 .5 1.6 .5 1.8 .5 .2 .5 .1 .5-.4 .5 .9 .5 1 .5 0 .5-.5 .5 .7 .5 .4 .5-1 .5 .1 .5 .1 .5-.7 .5-.6 .5-.1 .5 .6 .5 .3 .5-.3 .5-.2 .5 .2 .5-.9 .5-1.4 .5 0 .5 .4 .5 .2 .5 .5 .5 0 .5-.3 .5-.6 .5-1.1 .5-.9 .5 .4 .5 .4 .5-1.5 .5-1.4 .5-1 .5-3.6 .5-5.2 .5-6.1 .5-8.1 .5-8.6 .5-11.7 .5-52 .5-51.5 .4-43.4 .1 6.2 .5 59.4 .5 59.6 .5 52.8 .5 2.5 .5 2.3 .5 2.1 .5-.2 .5-.3 .5-1.7 .5-8 .5-17.7 .5-17.7 .1-4 .4 16 .5 20.9 .5 18.9 .5 1.7 .5 .5 .5 .3 .5 .9 .5 .4 .5 .3 .5 .4 .5-.2 .5-.7 .5-.6 .5 .4 .5 .9 .5 0 .5 1.1 .5 .2 .5 0 .5 .9 .5 .3 .5-1 .5-.3 .5 .7 .5 .1 .5 .4 .5-.3 .5 .6 .5-.1 .5-.2 .5-.1 .5 .3 .5 .6 .5 .6 .5 .2 .5-.6 .5 .9 .5 .9 .5-.1 .5-.1 .5 .3 .5-.3 .5-.3 .5 .9 .5-.3 .5-1.1 .5-.3 .5 1.2 .5-.1 .5-1 .5 .6 .5 .9 .5-.2 .5 .8 .5-.5 .5-1.3 .5 .5 .5 1.1 .5 .4 .5 .1 .5-1 .5 .5 .5 .9 .5-1 .5-1.2 .5 .4 .5-.3 .5-1.1 .5 1.4 .5 1 .5-.1 .5-.7 .5-.2 .5-.6 .5 1.1 .5-.4 .5-.5 .5 .6 .5 .2 .5-.6 .5 1.7 .5 1.1 .5-.4 .5-.2 .5-1 .5-.5 .5 1.5 .5 1.1 .5-1.2 .5-1.3 .5 .1 .5 .7 .5-.3 .5-.3 .5 .6 .5-.2 .5-.3 .5-1 .5 .2 .5-.4 .5 0 .5 .3 .5-.7 .5-1.4 .5-1.6 .5-1.5 .5-1.2 .5-.5 .5-1.9 .5-2 .5 1.3 .5 2.1 .5 1.1 .5 1.1 .5 1.2 .5 .9 .5 1.5 .5 1.7 .5 .7 .5 .4 .5 .5 .5 .1 .5-.2 .5-.1 .5 .5 .5 0 .5 .2 .5 .4 .5 .7 .5-.3 .5-.6 .5-.6 .5-.2 .5 .2 .5 .7 .5 .8 .5-.2 .5-.8 .5 0 .5 .8 .5-.6 .5-.7 .5 .4 .5 .1 .5-.1 .5-.5 .5 0 .5 .1 .5-.5 .5 1 .5-.3 .5 .1 .5-.4 .5-.8 .5-.4 .5 .8 .5 .2 .5 .6 .5 .4 .5-1.2 .5-1.1 .5 1 .5 1.2 .5 0 .5 .1 .5-.3 .5 .4 .5 .7 .5 .7 .5-.4 .5-.2 .5-.8 .5-.1 .5 .6 .5 .2 .5 0 .5-.2 .5-.1 .5 .8 .5 .5 .5-.4 .5 .7 .5 1.4 .5-.5 .5-.5 .5-.3 .5 .8 .5-.5 .5 .3 .5 .8 .5 0 .5-.1 .5 .1 .5 .2 .5-.1 .5-.2 .5 .1 .5 .1 .5 .7 .5-.6 .5 0 .5 .1 .5-.4 .5 0 .5 1.4 .5-.6 .5-.7 .5 .4 .5 .7 .5 1 .5 .2 .5 .5 .5-.2 .5 .6 .5 .3 .5-.2 .5-1.1 .5-.1 .5 1.4 .5-.9 .5 .4 .5 1.4 .5-.8 .5-1.1 .5 .7 .5 .6 .5-.9 .5 .3 .5 0 .5-.8 .5 .3 .5 .1 .5-.5 .5 .2 .5 .6 .5 .9 .5-.1 .5-.8 .5 0 .5-.1 .5-1.3 .5 .3 .5 .9 .5 .4 .5 .3 .5 .3 .5-.1 .5-.1 .5 .4 .5 .1 .5 .7 .5 0 .5-1.2 .5-.6 .5 .4 .5-.4 .5-1 .5-1.4 .5 0 .5-.3 .5 .2 .5-.6 .5-1 .5-1 .5-.7 .5-.4 .5-.8 .5-.4 .5 1.4 .5 1.5 .5 1.1 .5 .3 .5 .1 .5-.7 .5-1.4 .5-.2 .5 .9 .5 .8 .5-.3 .5-.4 .5 .3 .5 .1 .5-1 .5 0 .5 .7 .5 .9 .5 .1 .5 .1 .5 .5 .5 .2 .5 1.3 .5 1.1 .5-.5 .5 0 .5 .6 .5-.4 .5-1.9 .5 .3 .5 2.6 .5 .7 .5-1.4 .5-.5 .5 .1 .5-.8 .5-.2 .5 .7 .5 .9 .5 .3 .5 .7 .5 .5 .5 .6 .5-.1 .5-1.2 .5-.2 .5-.2 .5 .2 .5 1.9 .5-.1 .5-.7 .5 .4 .5-.2 .5 .3 .5 0 .5-.7 .5 .9 .5 1 .5 .5 .5-.5 .5 1.1 .5 .7 .5-.7 .5-.6 .5 .2 .5 .4 .5-1 .5-1.3 .5 1.2 .5 .6 .5-.4 .5 1.2 .5-.5 .5-1.4 .5-.5 .5 .4 .5-1.4 .5-2.2 .5-1.2 .5-3.4 .3-2.1 .2-.6 .5 2.5 .5 3.8 .5 3.2 .5 2 .5 1.1 .5 .1 .5-.3 .5 .4 .5 1.2 .5 .7 .5 1 .5-1 .5-1.2 .5 .2 .5 .6 .5-.4 .5 .4 .5 1.8 .5-.2 .5-2 .5-.8 .5 1.3 .5-.9 .5 .2 .5 1.1 .5 .3 .5-1.1 .5-.4 .5 .9 .5-.2 .5 .4 .5 .6 .5-1.1 .5 .1 .5 .3 .5-.6 .5 .9 .5-.1 .5-.2 .5 .6 .5 .2 .5-.6 .5-.8 .5-1.4 .5 .7 .5 .4 .5 .7 .5 .2 .5-.1 .5 .5 .5 .2 .5 0 .5-.1 .5-.6 .5 .7 .5 1 .5-.1 .5-.7 .5 .4 .5-.2 .5-.1 .5-.7 .5 .5 .5 .3 .5-.3 .5 .5 .5 .3 .5-.5 .5-1.1 .5-.6 .5-.6 .5-.5 .4 .8 .1 .5 .5-.3 .5 .1 .5 .7 .5-.3 .5 .3 .5 .7 .5 1.3 .5-.2 .5-.4 .5 1.5 .5 .8 .5-.5 .5-1 .5-.8 .5-.1 .5 .1 .5-.1 .5 .8 .5 .1 .5-.5 .5 .4 .5 .2 .5-1.3 .5 .7 .5-.5 .5 0 .5-.3 .5-1 .5-.7 .5-1.3 .5-1.6 .5-2.4 .5-1.7 .1 .2 .4 .6 .5 2.2 .5 2.2 .5 2.1 .5 .5 .5 .5 .5 .8 .5 .6 .5-.2 .5-.5 .5 .2 .5 .3 .5 .5 .5-.1 .5-.7 .5-.4 .5 .2 .5 .6 .5 .2"/>
<path stroke="#a0a0a0" d="M748.7,690.5l.5 .1 .5-.8 .5 .8 .5-.3 .5-.8 .5-.3 .5 .2 .5 .6 .5 .7 .5 .1 .5-.7 .5-1.3 .5 0 .5 1.7 .5 .5 .5 .4 .5-.9 .5-1.2 .5 .6 .5 .2 .5-.7 .5-.4 .5 .2 .5 .4 .5 .3 .5 0 .5 .1 .5-.9 .5 0 .5-.1 .5-.9 .5-.1 .5 1 .5-.1 .5-.4 .5-.1 .5-.3 .5 0 .5-.2 .5 .5 .5 .2 .5-.4 .5-.1 .5-.7 .5-.4 .5-.2 .5 .3 .5 .3 .5-.2 .5 .2 .5 1 .5-.1 .5-.8 .5 .1 .5-.9 .5 .1 .5 .3 .5 .1 .5-.5 .5 .2 .5 .4 .5-.4 .5 .1 .5 .7 .5 .2 .5-.7 .5-.2 .5-.1 .5-.2 .5-.5 .5-.3 .5 .7 .5-.4 .5-.3 .5-.2 .5 0 .5-.3 .5-1.1 .5-.4 .5 .4 .5 .5 .5 1.6 .5 .5 .5-.2 .5-.3 .5 .5 .5 .3 .5-.3 .5-1 .5-.3 .5 .9 .5-.5 .5-.2 .5 .9 .5-.4 .5-.9 .5 .4 .5 .6 .5-.1 .5-1 .5 .2 .5 .7 .5 .5 .5-1.5 .5-1.5 .5 1 .5 1.5 .5 .7 .5 .4 .5-.9 .5-.7 .5 .3 .5-.3 .5-.4 .5 .3 .5 .3 .5-1.2 .5-.4 .5 .3 .5-.1 .5-.4 .5 .1 .5 1 .5 .7 .5-.2 .5-.1 .5-.7 .5-1.7 .5-.4 .5 .3 .5-.5 .5-.5 .5-.6 .5-1.5 .5-1.5 .5-1.5 .5 .8 .5 2 .5 1.1 .5 1.5 .5 1.3 .5 .4 .5 .9 .5 .6 .5 .3 .5-.8 .5-.4 .5 .2 .5 .9 .5 .7 .5 0 .5-.1 .5 .5 .5 .5 .5-.3 .5 .2 .5-.7 .5 .3 .5 .9 .5-.2 .5-.7 .5-.1 .5 .2 .5 .7 .5 .1 .5-.2 .5 .4 .5-.1 .5-.2 .5 .1 .5 0 .5 .6 .5 .3 .5 .4 .5 .1 .5-.8 .5-.6 .5 .4 .5 .5 .5 .6 .5 .5 .5 .2 .5-.3 .5-.3 .5-.1 .5 .8 .5-.5 .5-.8 .5 .1 .5 1 .5 1.1 .5-.4 .5-1.2 .5 .4 .5 1 .5 .3 .5-.1 .5-.3 .5 .3 .5-.8 .5-.7 .5 .6 .5 .8 .5 1.1 .5-.1 .5-.9 .5 .3 .5-.2 .5-.8 .5-.2 .5 1.3 .5 .5 .5-.8 .5-.7 .5 1.1 .5 .3 .5 .1 .5 .2 .5 .2 .5 .7 .5-.1 .5-.2 .5 .4 .5-.5 .5-.5 .5 .5 .5 0 .5-.7 .5 .6 .5 .4 .5 .1 .5 1.2 .5 .2 .5-.7 .5 .6 .5 .5 .5-1.3 .5-.8 .5 0 .5-.2 .5 .4 .5 .9 .5 .2 .5 .4 .5 .1 .5-.4 .5 .1 .5 .1 .5-.2 .5 .2 .5 .6 .5 .3 .5 .3 .5 .7 .5-.3 .5-1.1 .5-.3 .5 .7 .5 .6 .5 .1 .5-.7 .5-.1 .5 .6 .5 .9 .5-.3 .5-1.2 .5-.1 .5 .4 .5 .7 .5 .1 .5-.5 .5 0 .5 .7 .5 .4 .5-.7 .5 .1 .5 .4 .5 .1 .5-.2 .5-.6 .5-.3 .5-.2 .5 1.2 .5 .4 .5-1.2 .5 .4 .5 .8 .5-.5 .5-.6 .5 .7 .5-.2 .5 .4 .5-.7 .5-.4 .5 .5 .5 .2 .5 .5 .5-.2 .5-.1 .5 .6 .5 .2 .5-.3 .5-.2 .5 0 .5 .1 .5 .3 .5 .1 .5-.2 .5 .3 .5-.4 .5 .1 .5-.1 .5-1 .5 .4 .5 .6 .5-.7 .5-.1 .5-.7 .5-.2 .5-.7 .5-.2 .5 0 .5-.1 .5 .5 .5 .1 .5-.1 .5 0 .5 .9 .5 .1 .5-.7 .5-.1 .5 .8 .5 .6 .5 .2 .5 .8 .5 .2 .5-.2 .5 .4 .5 .4 .5-.1 .5-.1 .5-.1 .5 .7 .5 1.4 .5 .2 .5-1.3 .5-.9 .5 .4 .5 .1 .5 .4 .5 .5 .5-.3 .5 .9 .5 .8 .5 .5 .5 .5 .5-.1 .5 .1 .5-.9 .5 0 .5 .3 .5 .2 .5 .5 .5-.2 .5 .8 .5 .4 .5-.4 .5-.5 .5-1.1 .5-.7 .5 1.2 .5 .8 .5-.2 .5-.6 .5 .6 .5 1.4 .5-.2 .5-.5 .5 0 .5 .5 .5 .4 .5-.4 .5-.6 .5 .1 .5-.2 .5 .4 .5 .4 .5-.3 .5 .2 .5 .8 .5-.4 .5 .2 .5-.5 .5-.3 .5 .4 .5-.4 .5-.7 .5 .2 .5 1.2 .5 .7 .5-.7 .5 .2 .5 .4 .5-.1 .5-.2 .5 .9 .5-.6 .5-1.5 .5 1.2 .5 .7 .5 0 .5-.1 .5 .3 .5 .7 .5 .1 .5 0 .5-.1 .5-.2 .5-.4 .5-.6 .5 .9 .5-.1 .5-.5 .5 .2 .5-.2 .5-.7 .5 .5 .5-.6 .5-.4 .5-.5 .5 .5 .5 1.1 .5-.1 .5 0 .5-.3 .5-.7 .5-.2 .5 0 .5 .2 .5-.3 .5 1 .5 1.3 .5 .5 .5-.1 .5-.9 .5-.8 .5 .8 .5 .2 .5-.6 .5-.7 .5 .7 .5 .7 .5-.6 .5-.8 .5-.3 .5-.4 .5-.2 .5-.2 .5-.9 .5-.7 .5-.1 .5-.4 .5 .7 .5 1.2 .5 .7 .5 .4 .5-.1 .5 1.1 .5 .3 .5-.1 .5-1.8 .5 .1 .5 2 .5 .1 .5-.2 .5 0 .5-.1 .5 .1 .5-.6 .5 .7 .5 .8 .5-.3 .5-.5 .5 .2 .5 .5 .5-.4 .5-.1 .5 .4 .5 .6 .5 .1 .5-.9 .5 .2 .5-.3 .5-1.1 .5 .7 .5 .6 .5-.5 .5-.3 .5 1 .5 .3 .5-.7 .5-.5 .5 .5 .5 1.1 .5 0 .5-1.1 .5-1 .5-.4 .5 .6 .5 .2 .5 .1 .5-.5 .5 .4 .5-.1 .5-.1 .5 1.4 .5-.1 .5-.9 .5-.8 .5 .1 .5 1.2 .5-.7 .5-1.3 .5 1 .5 .6 .5-.8 .5-1.1 .5-.2 .5-.4 .5 .1 .5-.1 .5-1.3 .5-1.4 .5-1.9 .5-1.9 .5-.9 .5-.4 .5-.5 .5-.4 .5 .4 .5 .9 .5 1.1 .5 2.1 .5 1.5 .5 .2 .5 .2 .5 .1 .5 1.3 .5 1.2 .5-.3 .5 .3 .5-.2 .5-.6 .5 0 .5 .7 .5 1.6 .5-1 .5-1.5 .5 0 .5 1.3 .5 .4 .5-.8 .5-1.1 .5-.2 .5 .3 .5 .8 .5-.1 .5 .7 .5-.5 .5-.7 .5-.4 .5-1.8 .5-1 .5-.1 .5-.4 .5-1.5 .5-2.8 .5-9.9 .5-11.9 .5-11 .1 0 .4 12.4 .5 14.5 .5 12.5 .5 .1 .5 .5 .5 .3 .5 .4 .5 .7 .5 .3 .5 .2 .5 .4 .5 .7 .5-.6 .5-.2 .5-.4 .5-.3 .5 1.4 .5 .1 .5-.8 .5-.2 .5 .1 .5 1.3 .5 1.1 .5-.4 .5-1.3 .5-.3 .5 1.5 .5 .7 .5-.3 .5-.4 .5-.9 .5 .3 .5 .4 .5-.3 .5 .1 .5 .2 .5-.7 .5-.4 .5 1 .5-.3 .5-.3 .5 .4 .5 .1 .5 .5 .5-.2 .5-.4 .5-.1 .5 .6 .5 .7 .5 .6 .5-.8 .5-.5 .5 .6 .5-.6 .5 .5 .5-.1 .5 .4 .5-.3 .5 0 .5-.2 .5-.2 .5 0 .5-.5 .5 .1 .5-.7 .5 0 .5 .4 .5 .4 .5 .4 .5-1 .5-.6 .5 0 .5 .6 .5 .3 .5-.5 .5-.2 .5 0 .5-.1 .5-.4 .5 1.1 .5 .2 .5-.9 .5-.2 .5 .1 .5 1 .5 .7 .5 .5 .5-1.3 .5-1 .5 0 .5 0 .5 .7 .5 .6 .5 .1 .5-.3 .5-.2 .5 .8 .5 0 .5-.5 .5-1.1 .5-.4 .5 .1 .5-.3 .5-.2 .5 1.2 .5 0 .5 .2 .5 .1 .5 .2 .5-.7 .5-.7 .5-.7 .5 .5 .5 .3 .5-1.4 .5-.1 .5 .8 .5 .1 .5-1.2 .5-.5 .5 .7 .5 .6 .5-1.9 .5-.8 .5-.1 .5-.9 .5 0 .5-.2 .5-.3 .5 .5 .5 .8 .5-.1 .5-.4 .5 .4 .5 1.2 .5 .7 .5 .1 .5 .7 .5 1 .5-1.3 .5-.4 .5 .9 .5 .3 .5 .7 .5 .6 .5-.3 .5-.2 .5 .3 .5 .2 .5-.3 .5-.3 .5 .3 .5-.4 .5-.5 .5 .4 .5-.5 .5-.6 .5-.2 .5-1.5 .5-1.7 .5-2.2 .5-1.1 .5 .9 .5 1.2 .5 .6 .5 2 .5 1.5 .5 .6 .5-.6 .5 .6 .5 1.5 .5-.2 .5-.2 .5 .3 .5-.1 .5-.3 .5 0 .5 .8 .5-.2 .5-.4 .5 .8 .5 0 .5-1 .5 0 .5 0 .5-1.1 .5 .5 .5 .1 .5-.1 .5 .6 .5 .5 .5 .4 .5-1.4 .5-1 .5-.8 .5 .1 .5-.8 .5-.8 .5-.9 .5-2.6 .5-4.1 .5-5.2 .5-7.8 .5-9.2 .5-8.9 .5-32.5 .5-53.5 .5-52.1 .2-22.8 .3 32.4 .5 61 .5 61.5 .5 31.3 .5 4 .5 2.5 .5 2.1 .5 2.5 .5 2.5 .5 1.1 .5-.7 .5-.2 .5 1 .5 .6 .5-.2 .5-.2 .5 .8 .5 0 .5-1.4 .5 .5 .5 .9 .5 .1 .5-.9 .5-.8 .5 .3 .5 .3 .5 .6 .5 .7 .5-.4 .5-.2 .5 0 .5 .6 .5-.7 .5 .1 .5 1.2 .5-.2 .5-.8 .5-.7 .5 1.3 .5 .7 .5-1 .5-.4 .5 .2 .5 .4 .5-.9 .5 1 .5 1 .5-.1 .5 .4 .5-.5 .5-.4 .5 .4 .5-.2 .5 0 .5-.3 .5-.1 .5 .5 .5 .8 .5 .1 .5-.5 .5-.5 .5-.5 .5 .3 .5 0 .5 .1 .5 .1 .5 .2 .5 .6 .5 .3 .5-.6 .5-.9 .5 0 .5 .7 .5 .3 .5-.1 .5-.9 .5 .4 .5 .3 .5-.5 .5-.3 .5 .4 .5 .3 .5-.3 .5-1.1 .5 .6 .5 1.5 .5-.2 .5-.7 .5-.1 .5 .4 .5 1.3 .5 .6 .5-.3 .5 0 .5-.2 .5 .3 .5-.2 .5-.1 .5-.6 .5-.6 .5-.4 .5-.2 .5-.1 .5 1.5 .5 .6 .5-.2 .5 0 .5-.2 .5-.4 .5-.6 .5 0 .5-.5 .5 .5 .5 .6 .5-.1 .5 .2 .5 1.1 .5 0 .5-1.3 .5-.6 .5 .4 .5 .2 .5-.7 .5 .3 .5-.6 .5-.4 .5-.1 .5-.8 .5 0 .5 .8 .5 0 .5 1.2 .5 0 .5 .5 .5 2 .5 1.4 .5-1.2 .5-1.8 .5-.5 .5 1 .5 .3 .5-.2 .5 .2 .5 0 .5 .6 .5 0 .5-.6 .5-.6 .5 .7 .5 .1 .5 .8 .5-.3 .5-.8 .5 .5 .5 .5 .5 .8 .5 .4 .5 .1 .5-.5 .5 0 .5-.3 .5 .6 .5 0 .5 0 .5 .1 .5 .3 .5-.3 .5 .1 .5 .6 .5-.5 .5-.8 .5 0 .5 .4 .5 .4 .5 .5 .5-.1 .5 .3 .5 .1 .5 .6 .5-.4 .5 0 .5-.4 .5-.4 .5 .7 .5 0 .5-.3 .5-1.2 .5-.7 .5 .2 .5 .4 .5 1.1 .5 .5 .5-.1 .5 .1 .5 .4 .5 .8 .5 .3 .5-.1 .5 .5 .5 .5 .5-.8 .5-1.1 .5 .2 .5 .6 .5 .5 .5 .2 .5-.3 .5-.5 .5 .9 .5-.1 .5 .1 .5-.3 .5-.8 .5 .1 .5 .9 .5 .3 .5-.9 .5-.7 .5-.3 .5 .4 .5 .6 .5 .7 .5 .5 .5-.6 .5-.2 .5 .5 .5 .3 .5 .3 .5 0 .5-.1 .5 .4 .5-.4 .5-.5 .5 1 .5 .7 .5-.2 .5 .7 .5-.5 .5-.5 .5-.7 .5 .8 .5 .6 .5-.8 .5-.1 .5 .5 .5 0 .5-1.1 .5 .1 .5 .9 .5 .6 .5 .3 .5-.2 .5 .6 .5 .1 .5-.5 .5 .7 .5 .5 .5 0 .5-.6 .5-.2 .5 .1 .5-.1 .5 .5 .5-.6 .5-.7 .5 .1 .5-.3 .5-.4 .5 .4 .5 .6 .5 .5 .5-.1 .5 .7 .5 .1 .5-1.1 .5 .1 .5-.2 .5-.9 .5 0 .5 .3 .5-.4 .5-.5 .5 .2 .5-.2 .5 .1 .5-.2 .5-1.3 .5 .3 .5-.3 .5-.7 .5 0 .5-.2 .5 .1 .5 1 .5-.4 .5 0 .5 1.5 .5 .3 .5 .8 .5 .3 .5-.2 .5-.2 .5-.5 .5 .8 .5 .6 .5 .7 .5-.2 .5 .1 .5 .4 .5-.6 .5 .3 .5 .7 .5 .2 .5-.2 .5 .9 .5 0 .5 0 .5 .4 .5 .7 .5-.1 .5-.4 .5 .5 .5-.2 .5 .2 .5-.6 .5 0 .5 .1 .5-.6 .5 1 .5 1.2 .5 .2 .5-.5 .5-.1 .5 .4 .5 .5 .5-1.3 .5-.5 .5 .8 .5 .7 .5-.1 .5 .2 .5-.1 .5 1.2 .5 .8 .5-.6 .5-.9 .5 .1 .5 .4 .5-1.1 .5-.4 .5 .1 .5 1.1 .5 .7 .5-.4 .5-.3 .5-.5 .5-.3 .5 .2 .5 .2 .5-1.1 .5-1 .5-.7 .5-1.3 .5-2.9 .5-2.4 .3-1.1 .2-.2 .5 2.6 .5 2.1 .5 1.9 .5 1.8 .5 .4 .5 .6 .5 .7 .5 .8 .5 1.1 .5 .4 .5-.5 .5 0 .5-.3 .5-.3 .5 .5 .5 .2 .5 .1 .5-.6 .5-.2 .5 .7 .5-.3 .5-.1 .5 1.1 .5 0 .5 0 .5-.2 .5-1 .5-.7 .5 .9 .5 .9 .5-.1 .5-.1 .5 .5 .5 .5 .5 .4 .5-.9 .5 0 .5 .4 .5 .5 .5 .3 .5-1 .5-.9 .5-.2 .5-1.1 .5 .3 .5 .3 .5-.5 .5 .2 .5 .4 .5 .1 .5 .5 .5 .1 .5 .8 .5 .8 .5 .5 .5 .2 .5-.3 .5-.4 .5-.2 .5 .3 .5 .5 .5 .1 .5-.3 .5-.1 .5-.1 .5-.9 .5 .1 .5 .8 .5 .2 .5-.9 .5-.3 .5 .6 .5 1.1 .5 .8 .5 .5 .5 0 .5-1.2 .5-.2 .5-.1 .5 0 .5 .4 .5 0 .5 0 .5-.4 .5-.3 .5 1.2 .5 .5 .5-1.1 .5-1.2 .5-.3 .5 .8 .5 1 .5 .5 .5-.4 .5-.5 .5-.8 .5 .7 .5-.1 .5-.4 .5-.6 .5-.3 .5 .8 .5-.6 .5-2.5 .5-2.6 .5-2.3 .5-1.4 .2-.3 .3 .4 .5 2.7 .5 2.2 .5 1.7 .5 1.7 .5 .6 .5 .4 .5 1.2 .5-.1 .5-.5 .5 .6 .5 .2 .5-.3 .5-.2 .5-.6 .5 .1 .5 .8"/>
<path stroke="#6a6a6a" d="M748.7,641.5l.5-.3 .5 .2 .5 .8 .5 .6 .5-.6 .5 .7 .5 .2 .5-.8 .5-.4 .5 .7 .5 .8 .5 .4 .5-.4 .5-.3 .5-1 .5-.7 .5-.4 .5 .5 .5 .6 .5 .2 .5-.3 .5 .8 .5 0 .5-.5 .5 .7 .5 1.1 .5-.7 .5-1 .5 .5 .5 1.3 .5-.3 .5 .6 .5-.3 .5-1.3 .5 1.2 .5-.3 .5-.6 .5 .3 .5 .7 .5 .1 .5-.3 .5-.2 .5 1.2 .5 .6 .5 .2 .5-.2 .5 .6 .5-.1 .5-.6 .5 0 .5-.2 .5 0 .5-.2 .5-1.1 .5 .3 .5 .3 .5-1.1 .5 .5 .5 1.4 .5-.6 .5-.1 .5 .6 .5-.3 .5-.3 .5 .2 .5 .4 .5 .2 .5 .7 .5 .7 .5 0 .5 .5 .5-.2 .5-.2 .5-.2 .5-.1 .5 .3 .5-.1 .5-.2 .5 .9 .5 .6 .5-.3 .5-1.1 .5-.3 .5 1.7 .5-.3 .5-1 .5 .7 .5 .3 .5 .4 .5 .2 .5 .3 .5-.2 .5-.1 .5 .3 .5 .1 .5-.6 .5 .8 .5 .2 .5-.6 .5-.1 .5 .2 .5 .5 .5 .5 .5-.4 .5 .6 .5 .3 .5 .1 .5 .2 .5-.6 .5 .3 .5 .8 .5-1 .5-.7 .5 0 .5 .3 .5-.4 .5-.5 .5-.5 .5 0 .5 .2 .5 .2 .5 .8 .5 .6 .5-.5 .5-.3 .5 .6 .5-.2 .5-.4 .5 .1 .5-.5 .5-.6 .5-.6 .5-1 .5-2.2 .5-1.6 .5-.5 .5 .4 .5 1.2 .5 1.2 .5 2.7 .5 2.2 .5 1.8 .5 1 .5 0 .5 .5 .5 .4 .5 1 .5 1 .5-.6 .5 .3 .5 1 .5-1 .5-.1 .5-.1 .5 .1 .5 1.2 .5 .5 .5-.5 .5-.1 .5-.4 .5-.5 .5 .5 .5-.4 .5 .3 .5 1 .5 .2 .5-.3 .5 1.2 .5 .8 .5-.5 .5-.2 .5 .2 .5-.1 .5 .2 .5 .9 .5 .3 .5-.5 .5-.1 .5-.2 .5-.2 .5-.3 .5 .3 .5 1.2 .5 0 .5 .5 .5 .7 .5-.6 .5-.1 .5-.6 .5 .5 .5 .8 .5-.5 .5-.8 .5 .1 .5 1 .5 .3 .5 .7 .5 .3 .5-.3 .5 .3 .5 .3 .5-.3 .5-.1 .5 .6 .5 0 .5 .1 .5 .4 .5 .4 .5 0 .5-.4 .5-.2 .5 .3 .5 .3 .5-.3 .5 0 .5 0 .5 .2 .5 1 .5 1.1 .5-.7 .5-.3 .5 .2 .5-.1 .5 .7 .5 .7 .5-.2 .5 .3 .5-.7 .5-.9 .5 0 .5 .2 .5 .2 .5 1 .5 .3 .5-.5 .5-.3 .5 .3 .5 .5 .5 1.2 .5-.5 .5-.4 .5 .1 .5-.3 .5 0 .5 .3 .5 .4 .5-.6 .5 .1 .5 .4 .5-.3 .5-.5 .5 .1 .5 .3 .5 .3 .5 .7 .5-.1 .5-.5 .5-.1 .5 .4 .5-.5 .5-.8 .5 .3 .5 .4 .5-1.7 .5-1.5 .5-.1 .5-.9 .5-.4 .5 .8 .5 0 .5 1 .5 1.4 .5 1.7 .5 1.2 .5 1 .5-.4 .5-.7 .5-.7 .5 0 .5 .5 .5 .8 .5-1.1 .5-.5 .5 1.6 .5 .4 .5-.8 .5 .6 .5 .9 .5-.1 .5-1.2 .5 .4 .5 .3 .5 .8 .5-.3 .5-.6 .5 .3 .5 .3 .5-.9 .5-.2 .5 .5 .5 .5 .5-.3 .5-.6 .5 .2 .5 1.1 .5 .4 .5-.2 .5 .7 .5 1 .5-.9 .5-.6 .5 0 .5 .7 .5-.1 .5-.1 .5-.1 .5 .4 .5 .2 .5-.1 .5-.1 .5-.6 .5 .4 .5 .3 .5 .6 .5 .6 .5-.6 .5-.5 .5 .3 .5 1 .5 .4 .5-.5 .5 .2 .5 .6 .5-.9 .5-1.3 .5 .2 .5 .4 .5 .5 .5 .1 .5 .6 .5-.3 .5 .4 .5-.3 .5 .4 .5 .1 .5 .7 .5 .5 .5 .1 .5-.9 .5-1.2 .5-1 .5-.3 .5 2 .5 1 .5-.6 .5-.4 .5 1.1 .5-.9 .5-.3 .5-.7 .5 .6 .5 1.4 .5-.1 .5-1 .5 .4 .5 .4 .5-.6 .5 .3 .5 0 .5 .5 .5 .3 .5 .3 .5-.5 .5-.3 .5-.1 .5-.4 .5 .2 .5-.3 .5 .4 .5 .5 .5 0 .5 .4 .5 0 .5-.4 .5-.4 .5 .7 .5 1.1 .5 0 .5 .1 .5-.4 .5-1.1 .5 .5 .5 .3 .5-.5 .5-.6 .5 .3 .5 .8 .5 1 .5-.3 .5-1.1 .5-.8 .5 .1 .5 .5 .5 .4 .5 .6 .5-.8 .5 0 .5 .3 .5-.2 .5-.5 .5 .1 .5 .4 .5 .1 .5-.5 .5 .1 .5 .8 .5 .3 .5-1 .5 .7 .5 .3 .5-.8 .5 .9 .5 .3 .5-.6 .5 .3 .5 .1 .5-.9 .5-.5 .5-.5 .5 .1 .5 .4 .5 .5 .5 .7 .5-1 .5-.4 .5 1.1 .5 .3 .5-.5 .5-.4 .5-.5 .5 .3 .5 1.1 .5-.1 .5-.7 .5-.1 .5-.6 .5-.5 .5 .2 .5-.1 .5-1 .5-.6 .5-.1 .5 .4 .5-.1 .5-1.5 .5-1.3 .5-.8 .5 0 .5-.1 .5 .7 .5 1.5 .5 2 .5-.1 .5-.3 .5 .5 .5 .8 .5 .3 .5-.8 .5-.6 .5 1.5 .5 .7 .5-.2 .5-.2 .5-.1 .5 .3 .5-.2 .5 .3 .5-.5 .5-.3 .5-.2 .5-.4 .5 .3 .5 .8 .5 0 .5-1 .5-.3 .5 .6 .5-.5 .5-.1 .5 .1 .5 .1 .5-.4 .5 .8 .5-.5 .5-1.3 .5 .4 .5 .7 .5 .4 .5-.2 .5-.3 .5 .3 .5 .3 .5-.2 .5 .1 .5 .9 .5-.8 .5-1.1 .5 .3 .5 .1 .5-.6 .5 0 .5-.6 .5-.5 .5 1.4 .5 .6 .5-.1 .5-.8 .5-.4 .5 .3 .5 .2 .5 .1 .5 0 .5-.9 .5-.9 .5-1 .5-.5 .5 .2 .5-.1 .5-.9 .5-1.3 .5-1.2 .5-2.2 .5-1.6 .5-1.7 .5-1.6 .5-.9 .5 .4 .5 1.1 .5 1.9 .5 1.8 .5 .9 .5 .2 .5 1 .5 .5 .5 0 .5 1.7 .5 .3 .5-.4 .5 1.1 .5-.4 .5-1.7 .5 .5 .5 .6 .5 0 .5-.1 .5 .3 .5-.1 .5-1 .5 1.3 .5 1 .5-.4 .5 .3 .5 .2 .5-.7 .5-.3 .5-.2 .5 .1 .5 .8 .5-.7 .5-.6 .5-.2 .5-1.1 .5-2.8 .5-1.8 .5-1 .5-1.8 .5-9.8 .5-12.1 .5-10.3 0-.3 .5 12 .5 13.6 .5 11.5 .5 .6 .5 1.3 .5 1.2 .5 .9 .5 .4 .5-.8 .5-.2 .5 .7 .5-.3 .5 .1 .5 .1 .5-.6 .5-.3 .5 .3 .5-.4 .5 .8 .5 0 .5 1 .5 .4 .5 0 .5 .3 .5-.6 .5-.5 .5 .8 .5 .4 .5-.1 .5-.3 .5 .1 .5 .6 .5 .3 .5-.8 .5-1.1 .5 .1 .5 .5 .5 1 .5-.1 .5-.6 .5-.2 .5 0 .5 .5 .5-.7 .5 .3 .5 1 .5 .2 .5-.6 .5-.8 .5 .4 .5 1.3 .5 .4 .5 .1 .5-.7 .5-.3 .5 .4 .5 .6 .5-.9 .5 .9 .5 .6 .5-1.5 .5-.9 .5 .3 .5 .4 .5 .9 .5-.2 .5-.5 .5 .6 .5 .8 .5-.6 .5 .1 .5 .8 .5-1 .5 0 .5 .7 .5-.8 .5-1.1 .5-.2 .5-.2 .5 .9 .5 .6 .5-.2 .5 1.2 .5 .8 .5-.6 .5-.8 .5 .3 .5 .7 .5 .4 .5-.6 .5-1.4 .5 0 .5 .3 .5 .6 .5 .9 .5 .7 .5-.5 .5-.1 .5-.3 .5 .4 .5 .2 .5-.8 .5 .7 .5 1.5 .5 .2 .5-2 .5-1.1 .5 .1 .5 .6 .5 .5 .5 .3 .5 .4 .5-.5 .5-.4 .5-.6 .5 .3 .5 0 .5-.6 .5 1 .5 .9 .5-.4 .5-.1 .5-.3 .5-.6 .5 .5 .5-.1 .5 .3 .5 .2 .5-.4 .5-.5 .5 .6 .5 1.3 .5-.4 .5-.8 .5-.1 .5 .6 .5-.6 .5-1.1 .5 .7 .5 .9 .5-1.3 .5-.1 .5-.1 .5-.3 .5-.9 .5-1.7 .5-1.2 .1 1.1 .4 1 .5 .7 .5 .5 .5 1.4 .5 1.4 .5-1 .5-.9 .5-.4 .5 .2 .5 0 .5-.6 .5-1.7 .5-1.7 .5-1.5 .5-1.1 .5-.1 .5 1.6 .5 2.3 .5 1.1 .5 .8 .5 .7 .5 1 .5 1.2 .5-.3 .5 .8 .5 1 .5-.5 .5-.9 .5-.9 .5-.9 .5 .7 .5 1 .5 1.2 .5-.3 .5-.7 .5 .4 .5 .1 .5 1.2 .5 .3 .5-.8 .5-.3 .5 .6 .5 0 .5-.2 .5-.5 .5-.6 .5 0 .5-.3 .5 0 .5-.8 .5-1.1 .5 .2 .5-.7 .5-1.7 .5-2.1 .5-3.7 .5-6.3 .5-7 .5-7.7 .5-9.4 .5-34.7 .5-54.7 .5-51.8 .2-21.5 .3 32.6 .5 61 .5 61.8 .5 31.1 .5 4.2 .5 3.1 .5 3.3 .5 2.2 .5 1.5 .5 .8 .5 1.2 .5 .7 .5 .9 .5 .8 .5-.9 .5-.4 .5 .2 .5 1 .5-.3 .5-.3 .5-.6 .5 .1 .5 .8 .5 .1 .5-.3 .5 .3 .5 0 .5 .2 .5-.2 .5 .1 .5 .2 .5 .6 .5-.2 .5-.5 .5 .2 .5 .9 .5-.2 .5 0 .5 .5 .5-.3 .5 .6 .5-.1 .5-1 .5 1 .5 .6 .5-.2 .5-.6 .5-.4 .5 .9 .5-.3 .5-.8 .5 .2 .5 .3 .5 .2 .5 0 .5 .1 .5-.4 .5 .3 .5 .3 .5 .4 .5 1.3 .5 .1 .5-1.3 .5 .2 .5 .1 .5-.2 .5 0 .5 0 .5 .5 .5 1 .5 .2 .5-.3 .5-.3 .5 .4 .5 .5 .5 .3 .5-1.4 .5-.7 .5 .9 .5 .5 .5 0 .5-.2 .5-1 .5 .3 .5 .4 .5-.1 .5 .2 .5 .8 .5 .4 .5-.8 .5-.2 .5 1.4 .5 .8 .5-.6 .5-.7 .5-.5 .5 .8 .5 .3 .5-.9 .5 .2 .5-.2 .5 1 .5 .1 .5-.6 .5 .3 .5 .5 .5-.7 .5 .6 .5 .1 .5-.2 .5 0 .5-1.1 .5 .1 .5 .1 .5 .8 .5 .3 .5-.6 .5 .7 .5 .4 .5-.5 .5 .3 .5 .8 .5 .2 .5 0 .5-1.3 .5-.3 .5 .7 .5-.3 .5 .6 .5 0 .5 .1 .5 0 .5 .6 .5 .6 .5-.2 .5-.8 .5-.5 .5 .8 .5 .2 .5 0 .5-1 .5 .5 .5 .1 .5 .3 .5 .5 .5 .4 .5 .1 .5-.6 .5-.2 .5-.2 .5-.3 .5 .7 .5-.5 .5 .1 .5 .4 .5-.1 .5-.5 .5-.6 .5 .5 .5 .4 .5 .5 .5 .8 .5-.2 .5-.2 .5 .4 .5 .5 .5 .3 .5-.3 .5-.1 .5 .4 .5-.3 .5 0 .5 .1 .5-.4 .5-.4 .5 .2 .5 .8 .5 .6 .5 0 .5-.5 .5 .2 .5 .1 .5 .3 .5 .9 .5-1 .5-.4 .5 .8 .5 .6 .5-.7 .5 0 .5-.7 .5 0 .5 .2 .5 .3 .5 .1 .5-.1 .5-.3 .5 0 .5 .6 .5 .6 .5 .5 .5 .6 .5-.2 .5 .1 .5 .2 .5-.6 .5-.7 .5 .2 .5 0 .5 .5 .5 .1 .5 .1 .5 .2 .5 .3 .5-.1 .5-.2 .5-.4 .5-.2 .5 .2 .5-.1 .5-.3 .5 .6 .5 .8 .5-.3 .5-.2 .5 .7 .5 .2 .5-.1 .5 1.1 .5 .1 .5-.4 .5 .2 .5-.1 .5-.2 .5-.5 .5-.1 .5 .2 .5 0 .5-.4 .5-.4 .5 .3 .5 .9 .5 .6 .5 1 .5-.1 .5-.8 .5-.6 .5-.5 .5 .9 .5 .4 .5-1 .5-.3 .5 .5 .5 .7 .5 .1 .5-1 .5 .1 .5 .7 .5 .1 .5-.2 .5-.1 .5-.5 .5-.2 .5 1 .5 .6 .5-.2 .5-.7 .5-.3 .5 .3 .5 .1 .5 .2 .5 .3 .5 .4 .5-.1 .5-.1 .5-.9 .5-.2 .5 .4 .5-.8 .5-.4 .5-.2 .5-.1 .5 1.4 .5 .8 .5-.4 .5-.7 .5-.9 .5-.5 .5 .1 .5-1.1 .5-.6 .5 .6 .5 1.1 .5-.2 .5-.5 .5-.4 .5 .4 .5 .9 .5 .2 .5 .1 .5 .9 .5-.6 .5-.5 .5 .9 .5 1.1 .5 .2 .5-.1 .5-.5 .5 .3 .5 .1 .5-.3 .5-.1 .5 .8 .5-.2 .5-.3 .5 .9 .5 .4 .5-1.2 .5 .3 .5 1.3 .5-.2 .5-1.5 .5-.6 .5-.2 .5 .4 .5-.2 .5 .5 .5 .9 .5-1.1 .5-.3 .5 .7 .5 .7 .5 .2 .5 .2 .5-.7 .5 0 .5 .4 .5 0 .5 .6 .5 .1 .5-.6 .5-.2 .5-.2 .5-.2 .5-.9 .5 .1 .5 .5 .5 .1 .5 .3 .5 .3 .5 .2 .5 .1 .5 .5 .5 .1 .5-.4 .5-.4 .5-.3 .5 .1 .5-1 .5-1.3 .5-2 .5-4 .5-4.9 .5-1.5 0 .8 .5 1 .5 4 .5 3.1 .5 2.9 .5 1.8 .5 .6 .5 .6 .5-.3 .5 .7 .5 .6 .5 .7 .5 .7 .5 .5 .5-.2 .5-1 .5-.3 .5 .4 .5-.4 .5-1 .5 0 .5 1.1 .5 .6 .5 .2 .5-.3 .5-.4 .5 .4 .5 .1 .5 .4 .5 .4 .5 .6 .5-.5 .5-.7 .5 .1 .5 .4 .5 .5 .5 0 .5-.8 .5 0 .5 .8 .5 .1 .5 0 .5 0 .5 .3 .5-.9 .5-1.1 .5 .3 .5 .4 .5-.3 .5 .4 .5 .9 .5 .5 .5-.3 .5-.9 .5 .5 .5-.1 .5 .1 .5 0 .5 .7 .5-.2 .5 .1 .5 0 .5-.3 .5 .2 .5 .9 .5 0 .5-.6 .5-1.5 .5 .2 .5 1.9 .5-.1 .5-1.1 .5 .7 .5 .1 .5-.5 .5 .6 .5 .8 .5-.6 .5 .1 .5-.6 .5 .2 .5 1.7 .5-.1 .5-.9 .5-.2 .5 .1 .5 0 .5 .8 .5 .1 .5-.5 .5-.3 .5-.4 .5 0 .5-.6 .5 .9 .5 .9 .5-.1 .5 .2 .5-1.3 .5-.5 .5 .3 .5 .3 .5-.5 .5-1.8 .5-2 .5-1.5 .5-2.7 .5-3 .2-1.3 .3 1 .5 3 .5 3.7 .5 2.2 .5 .6 .5 .6 .5 .3 .5 .2 .5 .7 .5 .1 .5-.4 .5 0 .5 .4 .5-.5 .5 .8 .5 .7 .5-.1 .5-.6"/>
<path stroke="#2e2e2e" d="M748.7,621.8l.5-.1 .5-.7 .5-.8 .5 .6 .5-.2 .5 1 .5 .6 .5 0 .5 0 .5-.6 .5-.6 .5 .3 .5 .5 .5-.7 .5-.4 .5-.2 .5 0 .5 .5 .5 .1 .5-.3 .5-.1 .5-.1 .5 0 .5-.2 .5 .9 .5 .7 .5-.6 .5 .5 .5 .8 .5-1.5 .5-.8 .5 .9 .5 1.6 .5 0 .5-1.5 .5-.1 .5-.1 .5-.7 .5-.3 .5 1.1 .5 0 .5 .2 .5 .6 .5 .8 .5-.5 .5-1.3 .5 .4 .5 .5 .5-.8 .5 .3 .5 .2 .5-.8 .5-.2 .5 .5 .5 1.1 .5 .3 .5 .7 .5 .1 .5 0 .5-.1 .5 .3 .5-.4 .5-.3 .5 .9 .5 .5 .5-.1 .5-1.3 .5-1 .5-1.2 .5-1 .5 1.4 .5 1.2 .5-.9 .5-.3 .5 1.2 .5 .3 .5 0 .5 .2 .5 .5 .5 0 .5-.6 .5 .3 .5 .8 .5 .6 .5-.2 .5 1.1 .5 .2 .5 0 .5-.5 .5 .1 .5-.2 .5-.9 .5 .3 .5-.1 .5-.1 .5-.2 .5-.2 .5 .7 .5 .4 .5-.7 .5 .3 .5 1 .5-.1 .5-.1 .5 .1 .5-.2 .5 .3 .5-.1 .5-.2 .5-.6 .5-.2 .5 1.1 .5 1.1 .5 0 .5 .4 .5-.4 .5-.5 .5-.4 .5 .6 .5 1.2 .5-.6 .5-1.1 .5 0 .5 .6 .5-.4 .5-.2 .5-.5 .5 .4 .5 .3 .5-1 .5-1.3 .5-1.2 .5-1.4 .5-.9 .5 0 .5 .1 .5 .3 .5 .7 .5 1.9 .5 1.9 .5 .7 .5 .3 .5 2 .5 1 .5-1 .5 .5 .5 .9 .5-.7 .5-.1 .5 .6 .5 .4 .5 .2 .5 .2 .5-.5 .5 .9 .5 .4 .5-.3 .5 .3 .5 .5 .5 .3 .5-.5 .5-.3 .5-.6 .5 0 .5 .2 .5-.4 .5 .1 .5 .5 .5 .5 .5 .8 .5 .1 .5-1 .5 .8 .5 1.2 .5 .7 .5-.4 .5-1.2 .5 .2 .5 .9 .5 .6 .5-.1 .5 .1 .5-.2 .5-.3 .5 .7 .5 .5 .5 .1 .5-.2 .5-1.2 .5 1.2 .5 1.6 .5 .3 .5-.2 .5-.8 .5-.7 .5 .6 .5 .6 .5-1.2 .5-.3 .5-.1 .5 .6 .5 .6 .5 .4 .5 .1 .5 1 .5 .1 .5-1 .5-.5 .5 .2 .5 1.4 .5 1.3 .5-1 .5-.6 .5 .2 .5 .1 .5-.6 .5-.2 .5 1.1 .5 1.3 .5 .2 .5-.2 .5-.4 .5 .3 .5 .2 .5-.3 .5-.2 .5 0 .5 .4 .5-.4 .5 .5 .5 .3 .5 0 .5-.3 .5-.8 .5-.1 .5 .2 .5-.1 .5-.1 .5 .2 .5 .2 .5 0 .5 .6 .5-.1 .5 .5 .5 1 .5 0 .5-.5 .5 .1 .5 .3 .5 .9 .5-.1 .5-.7 .5-.9 .5-.1 .5 .3 .5-.3 .5-.1 .5 0 .5-1.2 .5-.6 .5-.1 .5 .2 .5-.2 .5-.6 .5-.8 .5-.4 .5 1.5 .5 .3 .5-.2 .5 1.2 .5 1.3 .5 .2 .5-.1 .5 .7 .5 .1 .5-.9 .5-.4 .5 .9 .5 1.3 .5 .5 .5-.2 .5 .3 .5-.3 .5-.8 .5-.7 .5 0 .5 .8 .5 .9 .5-.5 .5-1.1 .5 .1 .5 1.1 .5 .2 .5-.4 .5 .8 .5 .7 .5-.2 .5-.2 .5 .3 .5-.8 .5-.8 .5 .4 .5 1.6 .5 .2 .5-1 .5 .1 .5 .4 .5 .3 .5 .1 .5-.4 .5-.5 .5-.3 .5-.7 .5-.3 .5 1.1 .5 .5 .5 .2 .5 0 .5-.4 .5 .3 .5 .8 .5-.2 .5-.6 .5 .1 .5 .7 .5 .2 .5-.3 .5 .1 .5 .1 .5 .5 .5 .6 .5-1.2 .5-.3 .5 1 .5-.5 .5-.3 .5-.1 .5-.6 .5 .8 .5 .7 .5 0 .5 .2 .5 .8 .5 0 .5-.2 .5-.1 .5-.4 .5-.1 .5-.4 .5 .4 .5 .9 .5 .1 .5-.1 .5-.5 .5-.3 .5 0 .5 .5 .5 .5 .5 .1 .5-.6 .5-.6 .5 0 .5-.5 .5-.2 .5 .9 .5 .7 .5 .2 .5-.3 .5-1.1 .5 .1 .5 .8 .5 .4 .5-.1 .5-.7 .5 .3 .5 1 .5 .2 .5-.7 .5 .8 .5-.7 .5-.4 .5 .9 .5-.9 .5-.2 .5 1.2 .5 .4 .5-.5 .5-.8 .5-.1 .5 0 .5-.7 .5 .4 .5 1.6 .5 .4 .5 0 .5-.3 .5-.5 .5 .1 .5-.3 .5 1 .5 .5 .5-.8 .5 .5 .5-.2 .5-.7 .5-.5 .5 .7 .5 .2 .5-1 .5 .1 .5 0 .5 .1 .5 1.2 .5 0 .5 .1 .5 0 .5 .2 .5 1 .5-1.2 .5-1 .5 .8 .5-.2 .5-.7 .5-.1 .5 .9 .5-.1 .5 .2 .5-.1 .5-.3 .5 .4 .5 0 .5-.3 .5-.4 .5 .6 .5 .8 .5 .7 .5-.7 .5 .3 .5 0 .5 0 .5-.4 .5-.6 .5-1.1 .5 .5 .5 1.3 .5 .1 .5-.3 .5-.2 .5 .1 .5-.5 .5 .1 .5 .6 .5-.4 .5-1.3 .5-.6 .5-.5 .5-.5 .5-.4 .5 0 .5 .6 .5 0 .5 .6 .5 1.9 .5 1.2 .5 .1 .5-.9 .5-.3 .5 .6 .5 .3 .5-.7 .5-.7 .5-.8 .5 .5 .5 1.3 .5-1.1 .5-.3 .5 .8 .5 .1 .5-.3 .5 .9 .5 .3 .5-.6 .5-.2 .5-.5 .5-.3 .5 1 .5-.2 .5-.6 .5 .5 .5 .6 .5 0 .5 0 .5 .1 .5-1.1 .5 .1 .5-.2 .5-.5 .5 .9 .5-.1 .5 .1 .5 0 .5-.3 .5 .7 .5 .1 .5-1 .5-.9 .5 1.3 .5-.1 .5-.8 .5-.4 .5-.2 .5 .2 .5 .4 .5-.5 .5 0 .5-.1 .5-.1 .5-.1 .5 .3 .5 .2 .5-.4 .5 .3 .5-.2 .5-1.5 .5 .1 .5-.5 .5-.6 .5-.4 .5-1.5 .5-1.1 .5-.4 .5-1.6 .5-1.7 .5-1.2 .5-2.9 .5-1.1 .5 1 .5 1.4 .5 2 .5 1.2 .5 1.1 .5 1.3 .5 .3 .5 0 .5 1.2 .5 1.3 .5 .3 .5 .6 .5 .5 .5-.5 .5-.8 .5 0 .5 .6 .5 .9 .5 .1 .5-.7 .5-.9 .5 .7 .5 .4 .5 0 .5-1.4 .5 .1 .5 .6 .5 .2 .5-.1 .5 .1 .5 0 .5 .1 .5-.7 .5-.8 .5-1.4 .5-.2 .5-.9 .5-1 .5-1.8 .5-1.5 .5-9.4 .5-12.5 .5-10.3 0-.6 .5 11.5 .5 13.7 .5 13 .5 1.3 .5 .3 .5 .2 .5 .5 .5 1.2 .5-.5 .5-.9 .5 0 .5 1.2 .5 .4 .5-.9 .5 .1 .5 .6 .5 0 .5-.1 .5-.7 .5-.4 .5-.1 .5 .7 .5-.1 .5-.5 .5 .6 .5 0 .5 .6 .5 .9 .5 .3 .5-.7 .5-.7 .5-.4 .5 .1 .5 .8 .5 .5 .5-.7 .5-.1 .5 .4 .5 .5 .5 .3 .5 .2 .5-.3 .5 .5 .5-.5 .5-1.2 .5-.2 .5 .3 .5 .5 .5 .3 .5-.6 .5 0 .5 .1 .5 .2 .5-.2 .5 .6 .5 0 .5 .1 .5 .5 .5 .6 .5 .7 .5-1.9 .5-1.4 .5 .5 .5 1 .5-.1 .5 .6 .5-.2 .5-.3 .5-.5 .5 1.1 .5 .3 .5-.5 .5 1.2 .5 .7 .5-1.5 .5-1 .5-.1 .5 .6 .5 1 .5 .2 .5-1.2 .5-.7 .5-.5 .5 .3 .5 .2 .5-.4 .5 1 .5 .7 .5-.2 .5-1.3 .5-.6 .5 .2 .5-.3 .5-.3 .5 .3 .5 .6 .5 1.4 .5 0 .5-.4 .5-.6 .5 .9 .5-.3 .5 .1 .5-.6 .5-.1 .5-.6 .5 .2 .5 .1 .5-.3 .5 .4 .5 .1 .5 0 .5 .9 .5 .2 .5-.2 .5 .5 .5 .1 .5 .1 .5-.3 .5-.9 .5 .8 .5 0 .5-.6 .5 .4 .5 .7 .5 .2 .5-.5 .5-1.1 .5-.1 .5 1.1 .5 .3 .5-.2 .5 .5 .5 .4 .5-.7 .5-.2 .5 .8 .5 .4 .5-.1 .5-.8 .5-.8 .5 .6 .5 .4 .5-.9 .5-.4 .5 .8 .5 0 .5-.8 .5-.4 .5 0 .5 .4 .5 .3 .5 .1 .5-1 .5 0 .5-1 .5-1.3 .5-1.8 .5-1.5 .5-1.6 .5-.9 .5 .7 .5 1.7 .5 1.8 .5 1 .5 1 .5 1.5 .5 .4 .5 .4 .5 1.1 .5 .1 .5-.1 .5-1.1 .5 .7 .5 1.5 .5-.4 .5-.5 .5-.5 .5 .1 .5 .4 .5-.1 .5-.5 .5-.6 .5 .4 .5 .4 .5 .6 .5 .2 .5-.5 .5-.6 .5-.1 .5 .1 .5-.6 .5 .2 .5-.1 .5 .5 .5 .6 .5-.7 .5 .2 .5 .1 .5-.8 .5-1.5 .5-1.4 .5-1 .5-4.2 .5-4.8 .5-5.2 .5-8 .5-8.8 .5-8.8 .5-52.2 .5-52.9 .5-48.1 0-2.1 .5 55.7 .5 60.6 .5 61.6 .5 6.8 .5 4.5 .5 3 .5 1.9 .5 1.7 .5 .7 .5 1.1 .5 .1 .5 .8 .5-.2 .5-.4 .5 1.5 .5 .2 .5-.5 .5 .1 .5 .3 .5 .6 .5 .5 .5 .1 .5 0 .5-.3 .5-1 .5 .1 .5 1.4 .5 .4 .5-.6 .5-.6 .5 0 .5 .4 .5 .5 .5-.4 .5-.7 .5 .7 .5 1 .5 .3 .5-.5 .5 .2 .5-.3 .5-.3 .5 .4 .5 .7 .5-.1 .5 .5 .5-.1 .5 .7 .5-.2 .5-.5 .5-.1 .5 1 .5 .1 .5-.4 .5 0 .5-.2 .5 .2 .5 .4 .5-.1 .5 .6 .5 1.1 .5-1 .5-.2 .5 .2 .5-.3 .5 .6 .5-.3 .5-.9 .5 .3 .5 .1 .5 .7 .5 0 .5 0 .5-1.1 .5 .6 .5 .9 .5 .3 .5-.2 .5 .4 .5 0 .5-.3 .5-.1 .5 .3 .5-.7 .5-1.5 .5 .2 .5 1.1 .5 .7 .5 .1 .5 .4 .5 .3 .5-.5 .5-.4 .5 .1 .5-.8 .5-.3 .5 .3 .5 .1 .5 2.2 .5 .7 .5-1.2 .5-1.1 .5-.3 .5 .7 .5-.1 .5-.8 .5 .3 .5 .5 .5 .4 .5 0 .5-.4 .5-.1 .5 1.5 .5 .2 .5-.9 .5-.6 .5 .7 .5 1 .5 .3 .5 .1 .5 0 .5-.4 .5 .6 .5-.5 .5-.5 .5 .5 .5 0 .5 .1 .5 .4 .5-.9 .5 .3 .5 .3 .5-.3 .5 .6 .5 .3 .5-1 .5-.5 .5 .6 .5 .7 .5 .6 .5-.3 .5-.5 .5 1 .5 .4 .5-.5 .5-1.2 .5-.4 .5 .9 .5 .7 .5 .2 .5-.4 .5 0 .5 .3 .5-1 .5 .4 .5 1.2 .5 .6 .5 .4 .5 .5 .5-.4 .5-.1 .5 .2 .5-.5 .5-.7 .5 .5 .5 0 .5 0 .5 .5 .5-.6 .5-.5 .5 .6 .5 .1 .5-.1 .5-1.3 .5 .3 .5 1.4 .5 .5 .5 .4 .5 .6 .5-.6 .5-.1 .5 .5 .5-.2 .5 .4 .5 .7 .5-.4 .5-.3 .5 0 .5 .5 .5 .5 .5 .3 .5 .1 .5 .3 .5-.6 .5-.5 .5 .1 .5 .5 .5-.5 .5-.5 .5-.4 .5 .7 .5-.2 .5-1.2 .5 .2 .5 .4 .5 .2 .5 .4 .5 .4 .5 .2 .5 .4 .5 .3 .5-.6 .5 0 .5-.1 .5 0 .5-.1 .5 0 .5 1.1 .5 .1 .5-.7 .5 .2 .5-.3 .5-.1 .5 1.8 .5 .9 .5-.3 .5-.8 .5-1.3 .5-.9 .5 1 .5 .6 .5-.1 .5 .2 .5 .9 .5 0 .5-.8 .5 .3 .5 1.2 .5-.6 .5-1 .5-.9 .5-.7 .5-.2 .5 1.3 .5 .8 .5 .1 .5 .2 .5 .3 .5-.2 .5-.9 .5 .4 .5 1.3 .5 .3 .5-.3 .5-.1 .5 .5 .5-.4 .5-.6 .5-.3 .5 .5 .5 .1 .5 .1 .5 .8 .5-.2 .5-.9 .5-.5 .5 .3 .5-.2 .5-.8 .5 1 .5 1 .5 1 .5-.5 .5-.8 .5-.2 .5-.4 .5-.2 .5 0 .5-.6 .5 .1 .5-.4 .5 .2 .5 .1 .5 .7 .5 .7 .5-.6 .5-1.3 .5-.3 .5-.1 .5 .4 .5 .3 .5-.1 .5-.2 .5 1.2 .5 .4 .5 .2 .5-.3 .5 .3 .5 .2 .5-.2 .5-.3 .5 .4 .5-.2 .5 1.2 .5 1 .5-.1 .5-.7 .5-.3 .5 0 .5-.7 .5-.5 .5 .3 .5 .6 .5-.1 .5 .8 .5 .5 .5-.3 .5-.3 .5-.2 .5-.2 .5 .8 .5 1.2 .5-.5 .5-1.4 .5 .1 .5 .6 .5 .7 .5 0 .5-.5 .5-.2 .5 .4 .5 0 .5 .1 .5-.2 .5-.2 .5 .8 .5 .4 .5-.2 .5 .3 .5 .6 .5 .3 .5 0 .5-.4 .5-.1 .5-.6 .5-1 .5-.1 .5 .9 .5 .1 .5-.5 .5-1.2 .5 .5 .5 .4 .5-.3 .5-1.1 .5-1.1 .5-.2 .5-1.4 .5-3.5 .5-3.2 .5-1.9 0 .6 .5 2.1 .5 2.7 .5 3 .5 2.2 .5 1.3 .5 .8 .5-.6 .5 .1 .5-.2 .5 .4 .5 .6 .5 0 .5 .8 .5 1 .5 .8 .5 .9 .5-1.4 .5-1.2 .5-.8 .5 .8 .5 .5 .5 .5 .5-.3 .5-.6 .5-.2 .5 1.1 .5-.5 .5-.3 .5 .5 .5-.7 .5-.2 .5-.1 .5 .5 .5 .7 .5 1.8 .5-.2 .5-.7 .5-.3 .5 0 .5 .1 .5-.4 .5-.4 .5 0 .5-.5 .5 .4 .5 .6 .5-.2 .5 .3 .5 .6 .5 1 .5-.7 .5 .2 .5 0 .5-.1 .5 0 .5 0 .5 0 .5 .2 .5 .5 .5 .3 .5-.4 .5 .4 .5-.8 .5-.4 .5 .2 .5 .1 .5 .2 .5 .5 .5 .3 .5 .7 .5-.3 .5-.6 .5 .1 .5 .3 .5 .4 .5 .1 .5-.2 .5 .3 .5 .5 .5-.8 .5-.9 .5 .1 .5 .3 .5 1 .5-.1 .5 .3 .5 .8 .5-.3 .5-1 .5-1 .5 .2 .5 .2 .5 0 .5-.2 .5 .8 .5 .5 .5-1.2 .5-.9 .5 .3 .5-.1 .5 .1 .5-.8 .5-1.3 .5-1.9 .5-2.1 .5-3.7 .5-2 .2 .9 .3 .6 .5 2.5 .5 2.7 .5 1.7 .5 1.9 .5 1.3 .5 .5 .5-.4 .5 .5 .5 .7 .5 .1 .5 .2 .5-.8 .5-.8 .5 .5 .5 .5 .5 .3 .5 .3 .5 .1"/>
<path stroke="#050505" d="M748.7,599.1l.5-.7 .5-1 .5 .2 .5 .2 .5 .1 .5 .2 .5-.5 .5 .4 .5-.8 .5 .1 .5 .9 .5-.1 .5-.2 .5 .8 .5-.6 .5-1 .5 .1 .5 .1 .5 .1 .5-.2 .5 .1 .5-.4 .5 .9 .5 .2 .5 .1 .5-1.6 .5-1.4 .5 .3 .5 1.2 .5 1.1 .5-.4 .5-.4 .5-.9 .5-.3 .5 .6 .5 .6 .5-.6 .5 .4 .5 .7 .5-1 .5-.4 .5-.2 .5 .5 .5 .9 .5 0 .5-1.9 .5-.9 .5 2 .5 .8 .5-.9 .5 0 .5-.6 .5-1.6 .5 0 .5 1.3 .5 .4 .5-1 .5 0 .5-.2 .5-.5 .5 .1 .5 1.2 .5-.1 .5-.6 .5-.2 .5 .4 .5-.3 .5-.1 .5-.1 .5 0 .5-.3 .5-.7 .5-1.8 .5-1.5 .5-1.9 .5-2.8 .5-6.9 .5-9.3 .5-9.3 .4-2.8 .1 .6 .5 7.3 .5 9.7 .5 8.2 .5 4.5 .5 3.3 .5 1.7 .5 .8 .5 .1 .5 .7 .5 .5 .5 .2 .5 .4 .5-.3 .5 .4 .5 .6 .5 0 .5-.3 .5 .6 .5-.4 .5-.3 .5 0 .5 .3 .5 1.4 .5 .4 .5-1.9 .5 .7 .5 1.1 .5 .4 .5-.7 .5 .3 .5 .4 .5-.7 .5-.3 .5-.2 .5 .6 .5 .2 .5-.8 .5-.4 .5-1.2 .5 .9 .5 .4 .5 .8 .5 0 .5-.1 .5-.2 .5-.9 .5-1 .5 .3 .5-.1 .5 .4 .5-.9 .5-.7 .5-.8 .5-.8 .5-.6 .5-1 .5-.4 .5 1.5 .5 .4 .5 .6 .5 .3 .5 2.2 .5 1.8 .5 .6 .5 .2 .5-.4 .5-.6 .5-.1 .5 .4 .5 .1 .5-.4 .5 .4 .5 .9 .5 .2 .5-.4 .5-.2 .5 .6 .5 .8 .5 .7 .5-.4 .5-.1 .5-.4 .5 1 .5-1 .5-.1 .5 .1 .5-.1 .5 .3 .5 .2 .5 .5 .5 .6 .5 .5 .5 .5 .5 0 .5-.9 .5-.2 .5 1.1 .5-1.2 .5-1.7 .5 .8 .5-.3 .5-1.1 .5-.6 .5-1.2 .5-2.6 .5-3.5 .5-5.1 .5-4.3 .3-.6 .2 1 .5 5 .5 4.4 .5 3.2 .5 3.3 .5 3 .5 .7 .5-.7 .5 .4 .5 0 .5-.1 .5-.7 .5-.1 .5 1.3 .5 .8 .5 0 .5-.6 .5 .3 .5 .7 .5-.6 .5-1.1 .5 .7 .5 1.5 .5 .3 .5-.3 .5 .1 .5-1 .5 1.2 .5 .1 .5-.1 .5-.5 .5-.2 .5 .7 .5 .2 .5-.1 .5 .7 .5-.3 .5 0 .5-.3 .5 .1 .5 .1 .5-.1 .5 .5 .5-.1 .5 .3 .5-.3 .5 .3 .5 .7 .5 1.5 .5 .4 .5-.9 .5 .1 .5 .4 .5 .5 .5 .4 .5 .2 .5-1.1 .5-1 .5 1.1 .5-.3 .5 .3 .5 1.1 .5 .1 .5-.6 .5 .2 .5 .1 .5-.1 .5-.2 .5 .2 .5-.9 .5 .4 .5 .3 .5-.6 .5 .4 .5 .2 .5 .4 .5-.5 .5-1.7 .5 0 .5-.5 .5-1.5 .5-3.7 .5-5.6 .5-4.7 .3-.9 .2 1.2 .5 3.3 .5 4.8 .5 3.1 .5 1.9 .5 2.4 .5 1.8 .5 1.2 .5-.4 .5-.6 .5 .9 .5 1.1 .5 .3 .5 0 .5 0 .5-.4 .5 .6 .5-.4 .5-1.1 .5 .9 .5 1.2 .5-.7 .5-.1 .5 .4 .5 .4 .5 .2 .5 .1 .5-.7 .5-.6 .5 .5 .5 .7 .5 1 .5 .7 .5-.4 .5-.1 .5 .5 .5-.3 .5-.6 .5-.9 .5 .1 .5 .2 .5 .6 .5 .9 .5-.1 .5-.9 .5-.6 .5 1.2 .5 .2 .5-.6 .5 .2 .5 .3 .5-.2 .5-1 .5 .5 .5 1.3 .5-.7 .5-.5 .5 .5 .5 .7 .5 .6 .5-.4 .5 .1 .5-.4 .5-.1 .5 1.1 .5-.1 .5-.9 .5-.3 .5-.7 .5-.2 .5 1.1 .5 .4 .5-1.5 .5 1.5 .5 2 .5-.3 .5-1.7 .5 .1 .5 .8 .5-.4 .5-.1 .5 .2 .5 .8 .5 .9 .5 .1 .5-1.4 .5-.7 .5 .9 .5 .5 .5 .7 .5 1 .5-1 .5-.3 .5 .9 .5 .4 .5-.6 .5-.3 .5-1 .5 .2 .5 1.2 .5 .7 .5-.1 .5 .2 .5-.1 .5-.4 .5-.4 .5-.3 .5-.5 .5 .2 .5 .4 .5 1.3 .5 1 .5-.3 .5-.4 .5-1.1 .5-.3 .5 .7 .5 1.1 .5 .5 .5-.8 .5-.5 .5-.5 .5-.3 .5 .4 .5 0 .5-.6 .5-.7 .5 .1 .5-.7 .5-1 .5-.9 .5-2.7 .5-3.7 .5-2.9 .1-.2 .4 .9 .5 3.1 .5 3.6 .5 2.2 .5 1 .5 1.1 .5 1.3 .5 1 .5 .6 .5-1.1 .5 1 .5 .9 .5-.6 .5-.7 .5-.7 .5-.2 .5 1.2 .5-.1 .5 .1 .5 .5 .5-1.1 .5 .2 .5 .5 .5-.1 .5 .1 .5 .2 .5-.5 .5-.9 .5 .1 .5 1.7 .5 .2 .5-.6 .5 0 .5 .9 .5-.7 .5-.3 .5 .6 .5-.5 .5-.1 .5 .2 .5-.4 .5 .6 .5 .4 .5 0 .5-.2 .5 .5 .5-.8 .5-.7 .5-.1 .5-1.2 .5-.9 .5 .8 .5-1.5 .5-.6 .5 1.3 .5 .8 .5 1.2 .5 1 .5 .3 .5-.3 .5 .1 .5 0 .5 .6 .5 .2 .5-.1 .5 .1 .5 0 .5 .3 .5 .1 .5-.6 .5-.4 .5 .1 .5 1.3 .5-.2 .5-1.2 .5-.4 .5 .7 .5 .1 .5 .5 .5 .4 .5 .4 .5-.8 .5-1.1 .5-.4 .5 1.5 .5 1.4 .5-.5 .5-.4 .5 .3 .5-.3 .5 .2 .5-.9 .5 .1 .5 .6 .5-.2 .5 .6 .5 .5 .5 .2 .5-1 .5-.1 .5 .7 .5-.7 .5-.4 .5-.3 .5 .8 .5-.2 .5-.9 .5 .2 .5 .2 .5 .2 .5 0 .5 1.7 .5-.4 .5-2.1 .5 .1 .5-.4 .5-.6 .5 .4 .5 .5 .5-.8 .5 .3 .5-1 .5-.2 .5-.9 .5-1.7 .5-1.3 .5-1.1 .5-.7 .5-1.5 .5-2.7 .5-.6 .5 .4 .5 .7 .5 1.8 .5 1.6 .5 1.1 .5 1.5 .5 1.4 .5 .7 .5 .7 .5 .2 .5 1 .5 .5 .5 .2 .5 0 .5-.2 .5-.2 .5-.3 .5 0 .5 .1 .5-.3 .5 .7 .5-1.1 .5 0 .5 .7 .5-.1 .5-1.4 .5-1.5 .5-1 .5 .9 .5 .3 .5-.1 .5 1 .5 1.2 .5-.2 .5-.8 .5-1.1 .5-1.5 .5-2.1 .5-2.2 .5-9.1 .5-12.9 .5-12.3 0-.4 .5 14.5 .5 14.9 .5 12.1 .5 .4 .5 .3 .5-.1 .5 1 .5 1.6 .5 .3 .5-1.5 .5-.2 .5 .1 .5-.1 .5 .2 .5 .2 .5 .1 .5 .3 .5-.2 .5 1.2 .5-.2 .5-1.2 .5-.9 .5 .1 .5 .7 .5 .8 .5-.9 .5-1.9 .5-3 .5-2.8 .5-3 .5-2.6 .2-.4 .3 .7 .5 3.2 .5 3.9 .5 2.8 .5 2 .5 1.2 .5 .2 .5 1.2 .5-.3 .5-.5 .5 .6 .5-.5 .5-1.1 .5 .9 .5 1.2 .5 .1 .5 .1 .5-.5 .5-.4 .5 0 .5 .1 .5-.3 .5 .3 .5 .7 .5-.8 .5 .2 .5 1.1 .5 .7 .5-.2 .5-.7 .5-.6 .5 0 .5 .3 .5-.8 .5-.9 .5 .6 .5-.6 .5-.8 .5 .9 .5 .4 .5 .2 .5 .3 .5 .6 .5 .1 .5-1.4 .5-.6 .5 .9 .5 .9 .5-.7 .5-.2 .5 .2 .5-.2 .5-.1 .5-.1 .5-.6 .5 0 .5 .8 .5-.5 .5 .2 .5-.1 .5 .5 .5 .1 .5 .2 .5 .5 .5-.9 .5-1.1 .5-.6 .5-.7 .5 .2 .5 .5 .5 .7 .5-.4 .5-.2 .5-.7 .5-.4 .5 .1 .5-.4 .5 .7 .5 .6 .5-1.8 .5-2.3 .5-3.7 .5-5.4 .5-5 .5-1.7 0 0 .5 2.2 .5 4.4 .5 4.4 .5 4 .5 1.8 .5 .7 .5 1.8 .5 1.1 .5-.4 .5 0 .5-.1 .5 .2 .5 1 .5 .3 .5-.5 .5-.5 .5 .2 .5 .7 .5 .4 .5-.6 .5-.3 .5 1.2 .5 0 .5-.7 .5 .9 .5-.5 .5-.6 .5-.3 .5 .8 .5 0 .5-1.3 .5-.4 .5-1 .5 .1 .5 .8 .5 .7 .5-.1 .5-.5 .5-.3 .5-.5 .5-1.1 .5-.2 .5-1.4 .5-.4 .5-.3 .5-.6 .5 0 .5 0 .5-.2 .5 1.6 .5 2.1 .5 .4 .5 .1 .5 1.2 .5 .4 .5-.4 .5 .2 .5 0 .5 .6 .5 .3 .5-.5 .5 .5 .5 0 .5-1.5 .5-.2 .5 .3 .5-.1 .5-.8 .5 0 .5 .1 .5-.7 .5-1.2 .5-.4 .5-.8 .5-.3 .5 .6 .5-.8 .5-1.5 .5 .7 .5-.5 .5-1.4 .5 .2 .5 1.3 .5 1 .5-1 .5-.4 .5 .2 .5-2 .5-3.2 .5-4.9 .5-5.5 .5-7.5 .5-8.9 .5-8.6 .5-50.8 .5-52.9 .5-47.2 0-1.6 .5 54.7 .5 59.1 .5 62.2 .5 7.2 .5 3.1 .5 2.6 .5 3.2 .5 1 .5-.1 .5 .5 .5 .6 .5 .3 .5-.4 .5-1.8 .5-3 .5-2.9 .5-3.3 .5-2.4 .5-.8 .5 1.9 .5 3.5 .5 3 .5 3.5 .5 1.8 .5 1 .5 2.2 .5 .4 .5-.6 .5 0 .5 .1 .5 1 .5 .3 .5-.4 .5 .1 .5-.1 .5-.8 .5 .4 .5 1.1 .5-.7 .5 .7 .5 1.4 .5 .3 .5-.1 .5-1 .5 .8 .5 .5 .5-.2 .5 .1 .5 .4 .5 .5 .5-.9 .5-.3 .5 .8 .5-.8 .5 .1 .5 .6 .5-.4 .5 0 .5 .2 .5-.6 .5 .4 .5-.1 .5 .2 .5 .8 .5 0 .5 .3 .5 .5 .5-.5 .5 .5 .5-.1 .5-.5 .5 .2 .5-.3 .5-.7 .5 1.6 .5 .1 .5-2.3 .5-.7 .5 .5 .5 .4 .5 .2 .5 .3 .5 .7 .5 .8 .5-1.2 .5-.2 .5 1.4 .5 .3 .5-1.1 .5-.1 .5-.3 .5-.7 .5 .2 .5 .2 .5-.8 .5 0 .5 1.4 .5 1.6 .5-.4 .5-.9 .5 0 .5 .1 .5-.7 .5 0 .5-.1 .5 .5 .5 .1 .5-.8 .5 .3 .5 .2 .5-1.1 .5-1 .5 1.2 .5 .8 .5-1.9 .5-2.1 .5-1.3 .5-2.7 .5-3.6 .5-2.6 .5-2.7 .5-2.7 .5 .4 .5 3 .5 3.2 .5 3.7 .5 4.3 .5 1.5 .5 .8 .5 .8 .5 .5 .5 .3 .5-.5 .5 1.2 .5 .5 .5 .8 .5 .9 .5-.6 .5-.7 .5 .9 .5 .6 .5 .6 .5-.4 .5 .5 .5-1.1 .5-1.2 .5-.9 .5 1.3 .5 .9 .5-.5 .5-.1 .5 .4 .5-.8 .5-1.1 .5 .6 .5 1.2 .5 .5 .5-1.2 .5-.8 .5 1.1 .5 .2 .5 .3 .5 .9 .5 .9 .5 .2 .5 .4 .5 .2 .5 .1 .5 .8 .5 .5 .5-.3 .5 .2 .5-.3 .5-.6 .5 .3 .5 .6 .5-1.3 .5-.1 .5 1.1 .5-.3 .5-1.1 .5 .2 .5 .7 .5 0 .5 .6 .5 .6 .5 .4 .5-.5 .5 .4 .5 .4 .5-.8 .5 .3 .5 1.5 .5-.6 .5-.5 .5 1 .5-.6 .5-1 .5 .7 .5 1 .5 .1 .5-1 .5 .8 .5-.1 .5-1.6 .5 .8 .5 .9 .5-.3 .5-.6 .5-.3 .5 .7 .5-.3 .5-.4 .5 .2 .5-.5 .5-1 .5-.1 .5-.3 .5 .7 .5 1.7 .5-.4 .5-.3 .5 1.2 .5 .6 .5-.8 .5-.6 .5 .8 .5 .1 .5 .5 .5 1.1 .5 .3 .5 0 .5 .5 .5-.1 .5-.1 .5-.5 .5 .1 .5 .6 .5 .5 .5-.7 .5-.1 .5-.1 .5 .4 .5-.4 .5-.2 .5 .8 .5 0 .5-.6 .5-.3 .5 .5 .5 .5 .5-.7 .5-.5 .5 .7 .5-.7 .5 .8 .5 .7 .5 .2 .5 .8 .5 .3 .5-1.8 .5-.9 .5 0 .5-.2 .5 .1 .5 1.4 .5 .5 .5-.4 .5-1.2 .5-1.2 .5-.9 .5-.1 .5-.9 .5-2.1 .5-2.7 .5-2.4 .5-.2 .5 .2 .5 .9 .5 1.9 .5 2.3 .5 2 .5 1.9 .5 .3 .5 .1 .5 .7 .5-.1 .5-.6 .5 .2 .5-.1 .5 .3 .5 1 .5 .7 .5 .7 .5 .1 .5-.3 .5-.3 .5-.2 .5 .1 .5 0 .5 .8 .5 1.2 .5-.5 .5-1.5 .5-.2 .5 1.2 .5-.1 .5-1.5 .5 .2 .5 .7 .5 .6 .5 1.1 .5 .4 .5-1 .5 .8 .5 1 .5-.2 .5-1.1 .5-.3 .5 .9 .5 .1 .5 .9 .5 .2 .5-.6 .5 .7 .5-.7 .5-.1 .5 1.2 .5-.4 .5-.7 .5-1.1 .5 0 .5-.5 .5-.5 .5 .3 .5 1.1 .5 .1 .5 1 .5 .2 .5-1 .5 0 .5 .6 .5 .1 .5 .1 .5 0 .5 .8 .5-.5 .5-.5 .5 .3 .5 .1 .5 .7 .5-.2 .5-.5 .5 .3 .5-.5 .5-2 .5-.6 .5-.2 .5-2.8 .5-4.4 .5-1.5 0 .2 .5 .4 .5 3.2 .5 2.7 .5 2.7 .5 2.8 .5 1.7 .5-.5 .5-.4 .5-.8 .5 .5 .5-.3 .5-1.1 .5 .9 .5 1.4 .5 0 .5-.3 .5 .5 .5 0 .5-.1 .5-.6 .5 .4 .5 1 .5 1.1 .5-.1 .5-1.3 .5 .9 .5 .5 .5-.1 .5-1 .5 .2 .5 1.3 .5-.4 .5 .2 .5-.3 .5-1.2 .5-1 .5 0 .5 .2 .5 1.1 .5 1 .5 .2 .5-.4 .5-1.1 .5-1.6 .5-.8 .5 .6 .5 1.5 .5 .8 .5 .7 .5-.1 .5-.7 .5 .5 .5-.3 .5 1.3 .5 .9 .5-1.4 .5 .6 .5 .5 .5-1.5 .5-.4 .5 .6 .5 .8 .5 .4 .5-.4 .5-.2 .5-.6 .5-.5 .5 .1 .5 1.5 .5 .7 .5-.9 .5-.2 .5 .7 .5 .3 .5 0 .5-.5 .5-.6 .5 1.1 .5 .1 .5-.3 .5 .4 .5 .4 .5-.8 .5 .2 .5-.6 .5-.2 .5 .8 .5 .9 .5 .2 .5-.9 .5-.5 .5 .1 .5-.3 .5-.1 .5 .5 .5-.1 .5-.1 .5 .4 .5-1 .5-.7 .5-.6 .5-.9 .5-.9 .5-2 .5-1.2 .5-2.6 .5-3.2 .2-.5 .3 1.7 .5 4.2 .5 2 .5 1.7 .5 1.1 .5 .1 .5 1.1 .5 .4 .5 .2 .5 .7 .5-.4 .5 .1 .5 .4 .5-.5 .5-.1 .5 .3 .5 .3 .5 .2"/>
</g>
<g fill="none" stroke="#000" stroke-width="2.6">
<rect x="47.0" y="1.8" width="639.3" height="731.1"/>
<rect x="748.7" y="1.8" width="639.2" height="731.1"/>
</g>
<g stroke="#000" stroke-width="1.5">
<line x1="46.2" y1="732.9" x2="46.2" y2="739.8"/>
<line x1="138.5" y1="732.9" x2="138.5" y2="739.8"/>
<line x1="228.5" y1="732.9" x2="228.5" y2="739.8"/>
<line x1="320.6" y1="732.9" x2="320.6" y2="739.8"/>
<line x1="412.5" y1="732.9" x2="412.5" y2="739.8"/>
<line x1="502.3" y1="732.9" x2="502.3" y2="739.8"/>
<line x1="594.3" y1="732.9" x2="594.3" y2="739.8"/>
<line x1="686.3" y1="732.9" x2="686.3" y2="739.8"/>
<line x1="748.3" y1="732.9" x2="748.3" y2="739.8"/>
<line x1="840.3" y1="732.9" x2="840.3" y2="739.8"/>
<line x1="930.0" y1="732.9" x2="930.0" y2="739.8"/>
<line x1="1022.2" y1="732.9" x2="1022.2" y2="739.8"/>
<line x1="1114.3" y1="732.9" x2="1114.3" y2="739.8"/>
<line x1="1204.3" y1="732.9" x2="1204.3" y2="739.8"/>
<line x1="1296.2" y1="732.9" x2="1296.2" y2="739.8"/>
<line x1="1387.8" y1="732.9" x2="1387.8" y2="739.8"/>
</g>
<g font-family="Liberation Sans, Arial, sans-serif" fill="#000" stroke="#000" stroke-width="0.35">
<text x="38.20" y="758.20" font-size="23.6" text-anchor="start">5</text>
<text x="123.80" y="758.20" font-size="23.6" text-anchor="start">10</text>
<text x="213.00" y="758.20" font-size="23.6" text-anchor="start">15</text>
<text x="304.00" y="758.20" font-size="23.6" text-anchor="start">20</text>
<text x="398.40" y="758.20" font-size="23.6" text-anchor="start">25</text>
<text x="488.40" y="758.20" font-size="23.6" text-anchor="start">30</text>
<text x="578.50" y="758.20" font-size="23.6" text-anchor="start">35</text>
<text x="672.55" y="758.20" font-size="23.6" text-anchor="start">40</text>
<text x="739.95" y="758.20" font-size="23.6" text-anchor="start">5</text>
<text x="825.55" y="758.20" font-size="23.6" text-anchor="start">10</text>
<text x="914.75" y="758.20" font-size="23.6" text-anchor="start">15</text>
<text x="1005.75" y="758.20" font-size="23.6" text-anchor="start">20</text>
<text x="1100.15" y="758.20" font-size="23.6" text-anchor="start">25</text>
<text x="1190.15" y="758.20" font-size="23.6" text-anchor="start">30</text>
<text x="1280.25" y="758.20" font-size="23.6" text-anchor="start">35</text>
<text x="1374.30" y="758.20" font-size="23.6" text-anchor="start">40</text>
<g stroke-width="1.9" fill="none">
<line x1="140.8" y1="34.7" x2="193.4" y2="34.7" stroke="#050505"/>
<line x1="140.8" y1="64.7" x2="193.4" y2="64.7" stroke="#2e2e2e"/>
<line x1="140.8" y1="94.7" x2="193.4" y2="94.7" stroke="#6a6a6a"/>
<line x1="140.8" y1="124.7" x2="193.4" y2="124.7" stroke="#a0a0a0"/>
</g>
<text x="198.00" y="44.40" font-size="23.7" text-anchor="start">9 M NaOH</text>
<text x="198.00" y="74.40" font-size="23.7" text-anchor="start">7 M NaOH</text>
<text x="198.00" y="104.40" font-size="23.7" text-anchor="start">5 M NaOH</text>
<text x="198.00" y="134.40" font-size="23.7" text-anchor="start">3 M NaOH</text>
<text transform="translate(1196.00,54.10) scale(1.015,1)" font-size="31.6" text-anchor="start">A - zeolite A</text>
<text x="1195.40" y="93.40" font-size="31.6" text-anchor="start">S - sodalite</text>
<text x="-0.90" y="33.10" font-size="33.5" text-anchor="start" font-weight="bold" stroke="none">(a)</text>
<text x="700.10" y="33.10" font-size="33.5" text-anchor="start" font-weight="bold" stroke="none">(b)</text>
<text transform="translate(49.60,320.60) scale(0.967,1)" font-size="28.8" text-anchor="start">ME800</text>
<text transform="translate(49.60,518.30) scale(0.967,1)" font-size="28.8" text-anchor="start">ME700</text>
<text transform="translate(49.60,715.80) scale(0.967,1)" font-size="28.8" text-anchor="start">ME600</text>
<text transform="translate(752.00,320.60) scale(0.967,1)" font-size="28.8" text-anchor="start">ME800</text>
<text transform="translate(752.00,518.30) scale(0.967,1)" font-size="28.8" text-anchor="start">ME700</text>
<text transform="translate(752.00,715.80) scale(0.967,1)" font-size="28.8" text-anchor="start">ME600</text>
<text transform="translate(26.2,451.2) rotate(-90) scale(1.008,1)" font-size="30.7">Intensity</text>
<text transform="translate(730.8,451.4) rotate(-90) scale(1.008,1)" font-size="30.7">Intensity</text>
<text x="345.90" y="793.2" font-size="29.8"><tspan stroke-width="0.2" font-family="Liberation Serif, Times New Roman, serif" font-size="29.5" dx="0.7" dy="-0.1">°</tspan><tspan dy="0.1" dx="-0.6">2</tspan><tspan font-family="Liberation Serif, Times New Roman, serif" font-size="31.5" stroke-width="0.25" dy="1.7" dx="0.4">θ</tspan></text>
<text x="1043.70" y="793.2" font-size="29.8"><tspan stroke-width="0.2" font-family="Liberation Serif, Times New Roman, serif" font-size="29.5" dx="0.7" dy="-0.1">°</tspan><tspan dy="0.1" dx="-0.6">2</tspan><tspan font-family="Liberation Serif, Times New Roman, serif" font-size="31.5" stroke-width="0.25" dy="1.7" dx="0.4">θ</tspan></text>
<text x="87.69" y="368.86" font-size="26" text-anchor="middle">A</text>
<text x="141.40" y="388.29" font-size="26" text-anchor="middle">A</text>
<text x="183.46" y="397.43" font-size="26" text-anchor="middle">A</text>
<text x="250.43" y="412.29" font-size="26" text-anchor="middle">A</text>
<text x="352.14" y="414.57" font-size="26" text-anchor="middle">A</text>
<text x="394.43" y="408.00" font-size="26" text-anchor="middle">A</text>
<text x="433.29" y="413.71" font-size="26" text-anchor="middle">A</text>
<text x="452.71" y="406.86" font-size="26" text-anchor="middle">A</text>
<text x="503.46" y="402.97" font-size="26" text-anchor="middle">A</text>
<text x="520.60" y="416.00" font-size="26" text-anchor="middle">A</text>
<text x="552.14" y="423.54" font-size="26" text-anchor="middle">A</text>
<text x="581.17" y="420.57" font-size="26" text-anchor="middle">A</text>
<text x="87.46" y="576.97" font-size="26" text-anchor="middle">A</text>
<text x="141.40" y="587.03" font-size="26" text-anchor="middle">A</text>
<text x="210.43" y="603.26" font-size="26" text-anchor="middle">A</text>
<text x="249.97" y="608.29" font-size="26" text-anchor="middle">A</text>
<text x="352.14" y="612.86" font-size="26" text-anchor="middle">A</text>
<text x="394.43" y="607.14" font-size="26" text-anchor="middle">A</text>
<text x="453.17" y="606.00" font-size="26" text-anchor="middle">A</text>
<text x="503.46" y="602.57" font-size="26" text-anchor="middle">A</text>
<text x="581.17" y="619.71" font-size="26" text-anchor="middle">A</text>
<text x="788.54" y="179.26" font-size="26" text-anchor="middle">A</text>
<text x="843.17" y="193.89" font-size="26" text-anchor="middle">A</text>
<text x="885.46" y="200.74" font-size="26" text-anchor="middle">A</text>
<text x="912.43" y="210.57" font-size="26" text-anchor="middle">S</text>
<text x="951.97" y="212.86" font-size="26" text-anchor="middle">A</text>
<text x="1053.00" y="212.86" font-size="26" text-anchor="middle">A</text>
<text x="1096.43" y="206.00" font-size="26" text-anchor="middle">A</text>
<text x="1134.83" y="216.74" font-size="26" text-anchor="middle">A</text>
<text x="1153.57" y="210.11" font-size="26" text-anchor="middle">A</text>
<text x="1206.14" y="211.26" font-size="26" text-anchor="middle">A</text>
<text x="1222.60" y="223.60" font-size="26" text-anchor="middle">A</text>
<text x="1253.69" y="226.57" font-size="26" text-anchor="middle">A</text>
<text x="1283.40" y="224.74" font-size="26" text-anchor="middle">A</text>
<text x="788.54" y="386.57" font-size="26" text-anchor="middle">A</text>
<text x="842.71" y="398.46" font-size="26" text-anchor="middle">A</text>
<text x="885.46" y="404.17" font-size="26" text-anchor="middle">A</text>
<text x="912.89" y="395.71" font-size="26" text-anchor="middle">S</text>
<text x="951.97" y="414.46" font-size="26" text-anchor="middle">A</text>
<text x="1053.46" y="416.29" font-size="26" text-anchor="middle">A</text>
<text x="1096.43" y="406.69" font-size="26" text-anchor="middle">A</text>
<text x="1102.83" y="436.86" font-size="26" text-anchor="middle">S</text>
<text x="1206.14" y="410.57" font-size="26" text-anchor="middle">A</text>
<text x="1283.17" y="423.14" font-size="26" text-anchor="middle">A</text>
<text x="1291.17" y="451.03" font-size="26" text-anchor="middle">S</text>
<text x="788.56" y="557.71" font-size="26" text-anchor="middle">A</text>
<text x="843.73" y="578.63" font-size="26" text-anchor="middle">A</text>
<text x="886.31" y="587.19" font-size="26" text-anchor="middle">A</text>
<text x="953.59" y="600.04" font-size="26" text-anchor="middle">A</text>
<text x="1054.37" y="601.05" font-size="26" text-anchor="middle">A</text>
<text x="1097.22" y="594.25" font-size="26" text-anchor="middle">A</text>
<text x="1206.31" y="596.77" font-size="26" text-anchor="middle">A</text>
<text x="1283.92" y="612.64" font-size="26" text-anchor="middle">A</text>
</g></svg></body></html>
